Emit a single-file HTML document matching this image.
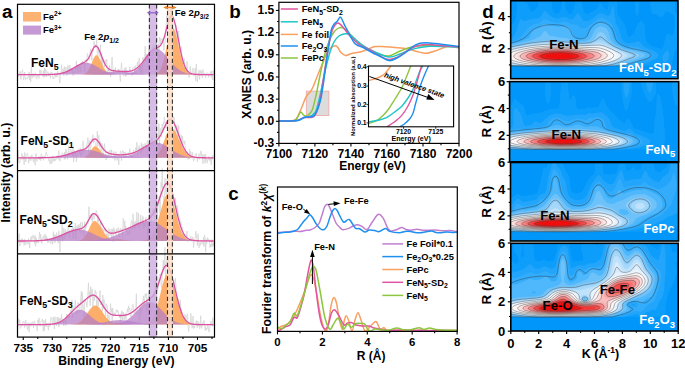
<!DOCTYPE html>
<html><head><meta charset="utf-8"><title>Figure</title>
<style>
html,body{margin:0;padding:0;background:#fff;}
svg{display:block;font-family:"Liberation Sans", sans-serif;}
</style></head>
<body>
<svg width="685" height="369" viewBox="0 0 685 369">
<rect width="685" height="369" fill="#fff"/>
<g id="panelA">
<rect x="23" y="12" width="18" height="9.5" fill="#fca55a" stroke="none" stroke-width="1" opacity="0.85"/>
<rect x="23" y="25.6" width="18" height="9" fill="#b77fc8" stroke="none" stroke-width="1" opacity="0.8"/>
<text x="43" y="19.8" font-size="9.5" font-weight="bold">Fe<tspan dy="-3.6" font-size="6.5">2+</tspan></text>
<text x="43" y="33.4" font-size="9.5" font-weight="bold">Fe<tspan dy="-3.6" font-size="6.5">3+</tspan></text>
<path d="M18.1,75.19 L18.65,76.6 L19.2,72.9 L19.75,73.23 L20.3,71.21 L20.85,79.5 L21.4,75.17 L21.95,72.83 L22.5,69.81 L23.05,74.05 L23.6,79.79 L24.15,76.26 L24.7,71.99 L25.25,79.75 L25.8,79.74 L26.35,78.13 L26.9,77.44 L27.45,78.76 L28,76.56 L28.55,77.39 L29.1,71.79 L29.65,80 L30.2,75.43 L30.75,81.89 L31.3,67.25 L31.85,77.14 L32.4,78.13 L32.95,73.36 L33.5,76.23 L34.05,77.29 L34.6,76.68 L35.15,72.66 L35.7,74.09 L36.25,78.27 L36.8,79.2 L37.35,74.95 L37.9,74.87 L38.45,75.32 L39,78.33 L39.55,70.8 L40.1,69.81 L40.65,75.04 L41.2,70.61 L41.75,72.47 L42.3,74.9 L42.85,76.32 L43.4,70.72 L43.95,77.47 L44.5,68.18 L45.05,76.53 L45.6,68.88 L46.15,69.96 L46.7,76.87 L47.25,73.08 L47.8,71.66 L48.35,72.92 L48.9,76.19 L49.45,74.3 L50,74.38 L50.55,78.28 L51.1,71.85 L51.65,72.72 L52.2,72.51 L52.75,78.61 L53.3,77.94 L53.85,78.98 L54.4,74.14 L54.95,73.65 L55.5,77.28 L56.05,72.68 L56.6,77.1 L57.15,76.65 L57.7,71.36 L58.25,73.55 L58.8,73.33 L59.35,80.09 L59.9,83.18 L60.45,73.1 L61,73.41 L61.55,64.67 L62.1,73.89 L62.65,72.92 L63.2,68.72 L63.75,75.63 L64.3,66.44 L64.85,71.44 L65.4,72.6 L65.95,66.98 L66.5,75 L67.05,75.58 L67.6,65.65 L68.15,65.27 L68.7,73.08 L69.25,70.25 L69.8,65.14 L70.35,68.59 L70.9,69.06 L71.45,68.6 L72,72.39 L72.55,70.21 L73.1,75.86 L73.65,73.88 L74.2,70.56 L74.75,72.02 L75.3,72.82 L75.85,69.78 L76.4,60.76 L76.95,69.89 L77.5,65.99 L78.05,72.83 L78.6,65.49 L79.15,67.23 L79.7,66.04 L80.25,72.19 L80.8,64.8 L81.35,62.4 L81.9,64.93 L82.45,61.06 L83,63.72 L83.55,62.63 L84.1,63.72 L84.65,71.64 L85.2,59.68 L85.75,61.5 L86.3,59.82 L86.85,63.79 L87.4,53.49 L87.95,55.29 L88.5,57.95 L89.05,60.26 L89.6,55.98 L90.15,52.27 L90.7,48.89 L91.25,55.84 L91.8,60.4 L92.35,52.37 L92.9,50.42 L93.45,51.08 L94,41.09 L94.55,44.55 L95.1,44.36 L95.65,47.96 L96.2,45.83 L96.75,38.22 L97.3,54.39 L97.85,58.75 L98.4,46.85 L98.95,52.15 L99.5,52.48 L100.05,56.9 L100.6,44.76 L101.15,64.24 L101.7,53.78 L102.25,64.72 L102.8,59.66 L103.35,58.57 L103.9,61.14 L104.45,67.39 L105,60 L105.55,63.35 L106.1,63.78 L106.65,59.09 L107.2,73.14 L107.75,70.53 L108.3,68.44 L108.85,73.88 L109.4,65.34 L109.95,69.34 L110.5,77.01 L111.05,74.13 L111.6,61.24 L112.15,56.94 L112.7,66.38 L113.25,74.96 L113.8,68.87 L114.35,69.98 L114.9,73.35 L115.45,67.43 L116,71.88 L116.55,74.23 L117.1,72.98 L117.65,72.73 L118.2,68.8 L118.75,73.27 L119.3,69.56 L119.85,76.47 L120.4,81.5 L120.95,68.42 L121.5,62.78 L122.05,69.72 L122.6,72.91 L123.15,75.59 L123.7,75.72 L124.25,68.38 L124.8,68.35 L125.35,76.48 L125.9,67.17 L126.45,75.76 L127,70.54 L127.55,74.44 L128.1,74.16 L128.65,74.39 L129.2,74.5 L129.75,67.23 L130.3,72.25 L130.85,71 L131.4,72.05 L131.95,75.63 L132.5,69.38 L133.05,67.37 L133.6,67.06 L134.15,68.51 L134.7,72.64 L135.25,65.79 L135.8,73.77 L136.35,69.74 L136.9,67.12 L137.45,61.86 L138,68.29 L138.55,69.8 L139.1,58.2 L139.65,71.1 L140.2,72.71 L140.75,66.03 L141.3,66.15 L141.85,74.87 L142.4,68.53 L142.95,57.24 L143.5,60.93 L144.05,59.46 L144.6,58.73 L145.15,46.14 L145.7,62.12 L146.25,53.75 L146.8,57.41 L147.35,54.98 L147.9,60.04 L148.45,52.59 L149,48.93 L149.55,56.15 L150.1,60.84 L150.65,49.79 L151.2,59.66 L151.75,52.32 L152.3,46.87 L152.85,59.45 L153.4,44.2 L153.95,55.58 L154.5,45.57 L155.05,51.44 L155.6,40.28 L156.15,42.63 L156.7,54.85 L157.25,48.91 L157.8,47.68 L158.35,44.23 L158.9,49.77 L159.45,37 L160,38.28 L160.55,44.14 L161.1,38.69 L161.65,38.63 L162.2,41.96 L162.75,40.23 L163.3,38.17 L163.85,50.9 L164.4,44.39 L164.95,44.47 L165.5,32.41 L166.05,26.3 L166.6,15.82 L167.15,23.21 L167.7,5.17 L168.25,16.82 L168.8,27.79 L169.35,34.7 L169.9,27.17 L170.45,8.1 L171,21.04 L171.55,7.98 L172.1,24.41 L172.65,15.73 L173.2,26.31 L173.75,44.16 L174.3,29.65 L174.85,44.51 L175.4,26.64 L175.95,24.55 L176.5,41.38 L177.05,46.92 L177.6,31.24 L178.15,39.08 L178.7,31 L179.25,42.88 L179.8,52.96 L180.35,49.23 L180.9,48.93 L181.45,46.69 L182,59.15 L182.55,63.46 L183.1,64.23 L183.65,64.21 L184.2,58.56 L184.75,73.99 L185.3,66.99 L185.85,67.73 L186.4,72.38 L186.95,61.32 L187.5,70.62 L188.05,70.96 L188.6,73.47 L189.15,77.63 L189.7,74.62 L190.25,66.24 L190.8,72.12 L191.35,74.36 L191.9,74.31 L192.45,69.21 L193,67.94 L193.55,76.13 L194.1,75.46 L194.65,74.2 L195.2,68.06 L195.75,80.8 L196.3,63.91 L196.85,73.12 L197.4,82.02 L197.95,73.92 L198.5,75.34 L199.05,70.26 L199.6,79.43 L200.15,69.88 L200.7,75.47 L201.25,75.04 L201.8,70.78 L202.35,77.77 L202.9,69.47 L203.45,72.12 L204,74.48 L204.55,73.1 L205.1,76.27 L205.65,77.92 L206.2,73.53 L206.75,72.64 L207.3,72.73 L207.85,73.28 L208.4,77.51 L208.95,73.81 L209.5,76.06 L210.05,74.27 L210.6,71.56 L211.15,77.71 L211.7,70.86 L212.25,74.62 L212.8,79.95 L213.35,70.66 L213.9,74.4" fill="none" stroke="#d4d4d4" stroke-width="0.75"/>
<path d="M18.1,74.6 L18.1,74.6 L18.6,74.6 L19.1,74.6 L19.6,74.6 L20.1,74.6 L20.6,74.6 L21.1,74.6 L21.6,74.6 L22.1,74.6 L22.6,74.6 L23.1,74.6 L23.6,74.6 L24.1,74.6 L24.6,74.6 L25.1,74.6 L25.6,74.6 L26.1,74.6 L26.6,74.6 L27.1,74.6 L27.6,74.6 L28.1,74.6 L28.6,74.6 L29.1,74.6 L29.6,74.6 L30.1,74.6 L30.6,74.6 L31.1,74.6 L31.6,74.6 L32.1,74.6 L32.6,74.6 L33.1,74.6 L33.6,74.6 L34.1,74.6 L34.6,74.6 L35.1,74.6 L35.6,74.6 L36.1,74.6 L36.6,74.6 L37.1,74.6 L37.6,74.6 L38.1,74.6 L38.6,74.6 L39.1,74.6 L39.6,74.6 L40.1,74.6 L40.6,74.6 L41.1,74.6 L41.6,74.6 L42.1,74.6 L42.6,74.6 L43.1,74.6 L43.6,74.6 L44.1,74.6 L44.6,74.6 L45.1,74.6 L45.6,74.6 L46.1,74.6 L46.6,74.6 L47.1,74.6 L47.6,74.6 L48.1,74.6 L48.6,74.6 L49.1,74.6 L49.6,74.6 L50.1,74.6 L50.6,74.6 L51.1,74.6 L51.6,74.6 L52.1,74.6 L52.6,74.6 L53.1,74.6 L53.6,74.6 L54.1,74.6 L54.6,74.6 L55.1,74.6 L55.6,74.6 L56.1,74.6 L56.6,74.6 L57.1,74.6 L57.6,74.6 L58.1,74.6 L58.6,74.6 L59.1,74.6 L59.6,74.6 L60.1,74.6 L60.6,74.6 L61.1,74.6 L61.6,74.6 L62.1,74.6 L62.6,74.6 L63.1,74.6 L63.6,74.6 L64.1,74.6 L64.6,74.6 L65.1,74.6 L65.6,74.6 L66.1,74.6 L66.6,74.6 L67.1,74.6 L67.6,74.6 L68.1,74.6 L68.6,74.6 L69.1,74.6 L69.6,74.6 L70.1,74.6 L70.6,74.6 L71.1,74.6 L71.6,74.6 L72.1,74.6 L72.6,74.6 L73.1,74.6 L73.6,74.6 L74.1,74.6 L74.6,74.6 L75.1,74.6 L75.6,74.6 L76.1,74.6 L76.6,74.6 L77.1,74.6 L77.6,74.6 L78.1,74.6 L78.6,74.6 L79.1,74.6 L79.6,74.6 L80.1,74.6 L80.6,74.6 L81.1,74.6 L81.6,74.6 L82.1,74.6 L82.6,74.6 L83.1,74.6 L83.6,74.6 L84.1,74.6 L84.6,74.6 L85.1,74.6 L85.6,74.6 L86.1,74.6 L86.6,74.6 L87.1,74.6 L87.6,74.6 L88.1,74.6 L88.6,74.6 L89.1,74.6 L89.6,74.6 L90.1,74.6 L90.6,74.6 L91.1,74.6 L91.6,74.6 L92.1,74.6 L92.6,74.6 L93.1,74.6 L93.6,74.6 L94.1,74.6 L94.6,74.6 L95.1,74.6 L95.6,74.6 L96.1,74.6 L96.6,74.6 L97.1,74.6 L97.6,74.6 L98.1,74.6 L98.6,74.6 L99.1,74.6 L99.6,74.6 L100.1,74.6 L100.6,74.6 L101.1,74.6 L101.6,74.6 L102.1,74.6 L102.6,74.6 L103.1,74.6 L103.6,74.6 L104.1,74.6 L104.6,74.6 L105.1,74.6 L105.6,74.6 L106.1,74.6 L106.6,74.6 L107.1,74.6 L107.6,74.6 L108.1,74.6 L108.6,74.6 L109.1,74.6 L109.6,74.6 L110.1,74.6 L110.6,74.6 L111.1,74.6 L111.6,74.6 L112.1,74.6 L112.6,74.6 L113.1,74.6 L113.6,74.6 L114.1,74.6 L114.6,74.6 L115.1,74.6 L115.6,74.6 L116.1,74.6 L116.6,74.6 L117.1,74.6 L117.6,74.6 L118.1,74.6 L118.6,74.6 L119.1,74.6 L119.6,74.6 L120.1,74.6 L120.6,74.6 L121.1,74.6 L121.6,74.6 L122.1,74.6 L122.6,74.6 L123.1,74.6 L123.6,74.6 L124.1,74.6 L124.6,74.6 L125.1,74.6 L125.6,74.6 L126.1,74.6 L126.6,74.6 L127.1,74.6 L127.6,74.6 L128.1,74.6 L128.6,74.6 L129.1,74.6 L129.6,74.6 L130.1,74.6 L130.6,74.6 L131.1,74.6 L131.6,74.6 L132.1,74.6 L132.6,74.6 L133.1,74.6 L133.6,74.6 L134.1,74.6 L134.6,74.6 L135.1,74.6 L135.6,74.6 L136.1,74.6 L136.6,74.6 L137.1,74.6 L137.6,74.6 L138.1,74.6 L138.6,74.6 L139.1,74.6 L139.6,74.6 L140.1,74.6 L140.6,74.6 L141.1,74.6 L141.6,74.6 L142.1,74.6 L142.6,74.6 L143.1,74.6 L143.6,74.6 L144.1,74.6 L144.6,74.6 L145.1,74.6 L145.6,74.6 L146.1,74.6 L146.6,74.6 L147.1,74.6 L147.6,74.6 L148.1,74.6 L148.6,74.6 L149.1,74.6 L149.6,74.6 L150.1,74.6 L150.6,74.6 L151.1,74.6 L151.6,74.6 L152.1,74.6 L152.6,74.6 L153.1,74.6 L153.6,74.6 L154.1,74.6 L154.6,74.6 L155.1,74.6 L155.6,74.6 L156.1,74.6 L156.6,74.6 L157.1,74.6 L157.6,74.6 L158.1,74.6 L158.6,74.6 L159.1,74.6 L159.6,74.6 L160.1,74.6 L160.6,74.6 L161.1,74.6 L161.6,74.6 L162.1,74.6 L162.6,74.6 L163.1,74.6 L163.6,74.6 L164.1,74.6 L164.6,74.6 L165.1,74.6 L165.6,74.6 L166.1,74.6 L166.6,74.6 L167.1,74.6 L167.6,74.6 L168.1,74.6 L168.6,74.6 L169.1,74.6 L169.6,74.6 L170.1,74.6 L170.6,74.6 L171.1,74.6 L171.6,74.6 L172.1,74.6 L172.6,74.6 L173.1,74.6 L173.6,74.6 L174.1,74.6 L174.6,74.6 L175.1,74.6 L175.6,74.6 L176.1,74.6 L176.6,74.6 L177.1,74.6 L177.6,74.6 L178.1,74.6 L178.6,74.6 L179.1,74.6 L179.6,74.6 L180.1,74.6 L180.6,74.6 L181.1,74.6 L181.6,74.6 L182.1,74.6 L182.6,74.6 L183.1,74.6 L183.6,74.6 L184.1,74.6 L184.6,74.6 L185.1,74.6 L185.6,74.6 L186.1,74.6 L186.6,74.6 L187.1,74.6 L187.6,74.6 L188.1,74.6 L188.6,74.6 L189.1,74.6 L189.6,74.6 L190.1,74.6 L190.6,74.6 L191.1,74.6 L191.6,74.6 L192.1,74.6 L192.6,74.6 L193.1,74.6 L193.6,74.6 L194.1,74.6 L194.6,74.6 L195.1,74.6 L195.6,74.6 L196.1,74.6 L196.6,74.6 L197.1,74.6 L197.6,74.6 L198.1,74.6 L198.6,74.6 L199.1,74.6 L199.6,74.6 L200.1,74.6 L200.6,74.6 L201.1,74.6 L201.6,74.6 L202.1,74.6 L202.6,74.6 L203.1,74.6 L203.6,74.6 L204.1,74.6 L204.6,74.6 L205.1,74.6 L205.6,74.6 L206.1,74.6 L206.6,74.6 L207.1,74.6 L207.6,74.6 L208.1,74.6 L208.6,74.6 L209.1,74.6 L209.6,74.6 L210.1,74.6 L210.6,74.6 L211.1,74.6 L211.6,74.6 L212.1,74.6 L212.6,74.6 L213.1,74.6 L213.6,74.6 L213.6,74.6Z" fill="#fca55a" opacity="0.9"/>
<path d="M18.1,74.6 L18.1,74.6 L18.6,74.6 L19.1,74.6 L19.6,74.6 L20.1,74.6 L20.6,74.6 L21.1,74.6 L21.6,74.6 L22.1,74.6 L22.6,74.6 L23.1,74.6 L23.6,74.6 L24.1,74.6 L24.6,74.6 L25.1,74.6 L25.6,74.6 L26.1,74.6 L26.6,74.6 L27.1,74.6 L27.6,74.6 L28.1,74.6 L28.6,74.6 L29.1,74.6 L29.6,74.6 L30.1,74.6 L30.6,74.6 L31.1,74.6 L31.6,74.6 L32.1,74.6 L32.6,74.6 L33.1,74.6 L33.6,74.6 L34.1,74.6 L34.6,74.6 L35.1,74.6 L35.6,74.6 L36.1,74.6 L36.6,74.6 L37.1,74.6 L37.6,74.6 L38.1,74.6 L38.6,74.6 L39.1,74.6 L39.6,74.6 L40.1,74.6 L40.6,74.6 L41.1,74.6 L41.6,74.6 L42.1,74.6 L42.6,74.6 L43.1,74.6 L43.6,74.6 L44.1,74.6 L44.6,74.6 L45.1,74.6 L45.6,74.6 L46.1,74.6 L46.6,74.6 L47.1,74.6 L47.6,74.6 L48.1,74.6 L48.6,74.6 L49.1,74.6 L49.6,74.6 L50.1,74.6 L50.6,74.6 L51.1,74.6 L51.6,74.6 L52.1,74.6 L52.6,74.6 L53.1,74.6 L53.6,74.6 L54.1,74.6 L54.6,74.6 L55.1,74.6 L55.6,74.6 L56.1,74.6 L56.6,74.6 L57.1,74.6 L57.6,74.6 L58.1,74.6 L58.6,74.6 L59.1,74.6 L59.6,74.6 L60.1,74.6 L60.6,74.6 L61.1,74.6 L61.6,74.6 L62.1,74.6 L62.6,74.6 L63.1,74.6 L63.6,74.6 L64.1,74.6 L64.6,74.6 L65.1,74.6 L65.6,74.6 L66.1,74.6 L66.6,74.6 L67.1,74.6 L67.6,74.6 L68.1,74.6 L68.6,74.6 L69.1,74.6 L69.6,74.6 L70.1,74.6 L70.6,74.6 L71.1,74.6 L71.6,74.6 L72.1,74.6 L72.6,74.6 L73.1,74.6 L73.6,74.6 L74.1,74.6 L74.6,74.6 L75.1,74.6 L75.6,74.6 L76.1,74.6 L76.6,74.6 L77.1,74.6 L77.6,74.6 L78.1,74.59 L78.6,74.59 L79.1,74.58 L79.6,74.57 L80.1,74.56 L80.6,74.54 L81.1,74.52 L81.6,74.48 L82.1,74.44 L82.6,74.37 L83.1,74.29 L83.6,74.17 L84.1,74.03 L84.6,73.84 L85.1,73.6 L85.6,73.31 L86.1,72.95 L86.6,72.51 L87.1,71.99 L87.6,71.37 L88.1,70.66 L88.6,69.85 L89.1,68.93 L89.6,67.92 L90.1,66.82 L90.6,65.64 L91.1,64.41 L91.6,63.15 L92.1,61.88 L92.6,60.63 L93.1,59.45 L93.6,58.35 L94.1,57.39 L94.6,56.57 L95.1,55.95 L95.6,55.52 L96.1,55.32 L96.6,55.33 L97.1,55.52 L97.6,55.87 L98.1,56.38 L98.6,57.03 L99.1,57.81 L99.6,58.7 L100.1,59.67 L100.6,60.71 L101.1,61.79 L101.6,62.89 L102.1,64 L102.6,65.08 L103.1,66.13 L103.6,67.13 L104.1,68.07 L104.6,68.94 L105.1,69.74 L105.6,70.46 L106.1,71.11 L106.6,71.68 L107.1,72.18 L107.6,72.61 L108.1,72.98 L108.6,73.29 L109.1,73.56 L109.6,73.77 L110.1,73.95 L110.6,74.09 L111.1,74.21 L111.6,74.3 L112.1,74.37 L112.6,74.43 L113.1,74.47 L113.6,74.51 L114.1,74.53 L114.6,74.55 L115.1,74.56 L115.6,74.57 L116.1,74.58 L116.6,74.59 L117.1,74.59 L117.6,74.59 L118.1,74.6 L118.6,74.6 L119.1,74.6 L119.6,74.6 L120.1,74.6 L120.6,74.6 L121.1,74.6 L121.6,74.6 L122.1,74.6 L122.6,74.6 L123.1,74.6 L123.6,74.6 L124.1,74.6 L124.6,74.6 L125.1,74.6 L125.6,74.6 L126.1,74.6 L126.6,74.6 L127.1,74.6 L127.6,74.6 L128.1,74.6 L128.6,74.6 L129.1,74.6 L129.6,74.6 L130.1,74.6 L130.6,74.6 L131.1,74.6 L131.6,74.6 L132.1,74.6 L132.6,74.6 L133.1,74.6 L133.6,74.6 L134.1,74.6 L134.6,74.6 L135.1,74.6 L135.6,74.6 L136.1,74.6 L136.6,74.6 L137.1,74.6 L137.6,74.6 L138.1,74.6 L138.6,74.6 L139.1,74.6 L139.6,74.6 L140.1,74.6 L140.6,74.6 L141.1,74.6 L141.6,74.6 L142.1,74.6 L142.6,74.6 L143.1,74.6 L143.6,74.6 L144.1,74.6 L144.6,74.6 L145.1,74.6 L145.6,74.6 L146.1,74.6 L146.6,74.6 L147.1,74.6 L147.6,74.6 L148.1,74.6 L148.6,74.6 L149.1,74.6 L149.6,74.6 L150.1,74.6 L150.6,74.6 L151.1,74.6 L151.6,74.6 L152.1,74.6 L152.6,74.6 L153.1,74.6 L153.6,74.6 L154.1,74.6 L154.6,74.6 L155.1,74.6 L155.6,74.6 L156.1,74.6 L156.6,74.6 L157.1,74.6 L157.6,74.6 L158.1,74.6 L158.6,74.6 L159.1,74.6 L159.6,74.6 L160.1,74.6 L160.6,74.6 L161.1,74.6 L161.6,74.6 L162.1,74.6 L162.6,74.6 L163.1,74.6 L163.6,74.6 L164.1,74.6 L164.6,74.6 L165.1,74.6 L165.6,74.6 L166.1,74.6 L166.6,74.6 L167.1,74.6 L167.6,74.6 L168.1,74.6 L168.6,74.6 L169.1,74.6 L169.6,74.6 L170.1,74.6 L170.6,74.6 L171.1,74.6 L171.6,74.6 L172.1,74.6 L172.6,74.6 L173.1,74.6 L173.6,74.6 L174.1,74.6 L174.6,74.6 L175.1,74.6 L175.6,74.6 L176.1,74.6 L176.6,74.6 L177.1,74.6 L177.6,74.6 L178.1,74.6 L178.6,74.6 L179.1,74.6 L179.6,74.6 L180.1,74.6 L180.6,74.6 L181.1,74.6 L181.6,74.6 L182.1,74.6 L182.6,74.6 L183.1,74.6 L183.6,74.6 L184.1,74.6 L184.6,74.6 L185.1,74.6 L185.6,74.6 L186.1,74.6 L186.6,74.6 L187.1,74.6 L187.6,74.6 L188.1,74.6 L188.6,74.6 L189.1,74.6 L189.6,74.6 L190.1,74.6 L190.6,74.6 L191.1,74.6 L191.6,74.6 L192.1,74.6 L192.6,74.6 L193.1,74.6 L193.6,74.6 L194.1,74.6 L194.6,74.6 L195.1,74.6 L195.6,74.6 L196.1,74.6 L196.6,74.6 L197.1,74.6 L197.6,74.6 L198.1,74.6 L198.6,74.6 L199.1,74.6 L199.6,74.6 L200.1,74.6 L200.6,74.6 L201.1,74.6 L201.6,74.6 L202.1,74.6 L202.6,74.6 L203.1,74.6 L203.6,74.6 L204.1,74.6 L204.6,74.6 L205.1,74.6 L205.6,74.6 L206.1,74.6 L206.6,74.6 L207.1,74.6 L207.6,74.6 L208.1,74.6 L208.6,74.6 L209.1,74.6 L209.6,74.6 L210.1,74.6 L210.6,74.6 L211.1,74.6 L211.6,74.6 L212.1,74.6 L212.6,74.6 L213.1,74.6 L213.6,74.6 L213.6,74.6Z" fill="#fca55a" opacity="0.9"/>
<path d="M18.1,74.6 L18.1,74.6 L18.6,74.6 L19.1,74.6 L19.6,74.6 L20.1,74.6 L20.6,74.6 L21.1,74.6 L21.6,74.6 L22.1,74.6 L22.6,74.6 L23.1,74.6 L23.6,74.6 L24.1,74.6 L24.6,74.6 L25.1,74.6 L25.6,74.6 L26.1,74.6 L26.6,74.6 L27.1,74.6 L27.6,74.6 L28.1,74.6 L28.6,74.6 L29.1,74.6 L29.6,74.6 L30.1,74.6 L30.6,74.6 L31.1,74.6 L31.6,74.6 L32.1,74.6 L32.6,74.6 L33.1,74.6 L33.6,74.6 L34.1,74.6 L34.6,74.6 L35.1,74.6 L35.6,74.6 L36.1,74.6 L36.6,74.6 L37.1,74.6 L37.6,74.6 L38.1,74.6 L38.6,74.6 L39.1,74.6 L39.6,74.6 L40.1,74.6 L40.6,74.6 L41.1,74.6 L41.6,74.6 L42.1,74.6 L42.6,74.6 L43.1,74.6 L43.6,74.6 L44.1,74.6 L44.6,74.6 L45.1,74.6 L45.6,74.6 L46.1,74.6 L46.6,74.6 L47.1,74.6 L47.6,74.6 L48.1,74.6 L48.6,74.6 L49.1,74.6 L49.6,74.6 L50.1,74.6 L50.6,74.6 L51.1,74.6 L51.6,74.6 L52.1,74.6 L52.6,74.6 L53.1,74.6 L53.6,74.6 L54.1,74.6 L54.6,74.6 L55.1,74.6 L55.6,74.6 L56.1,74.6 L56.6,74.6 L57.1,74.6 L57.6,74.6 L58.1,74.6 L58.6,74.6 L59.1,74.6 L59.6,74.6 L60.1,74.6 L60.6,74.6 L61.1,74.6 L61.6,74.6 L62.1,74.6 L62.6,74.6 L63.1,74.6 L63.6,74.6 L64.1,74.6 L64.6,74.6 L65.1,74.6 L65.6,74.6 L66.1,74.6 L66.6,74.6 L67.1,74.6 L67.6,74.6 L68.1,74.6 L68.6,74.6 L69.1,74.6 L69.6,74.6 L70.1,74.6 L70.6,74.6 L71.1,74.6 L71.6,74.6 L72.1,74.6 L72.6,74.6 L73.1,74.6 L73.6,74.6 L74.1,74.6 L74.6,74.6 L75.1,74.6 L75.6,74.6 L76.1,74.6 L76.6,74.6 L77.1,74.6 L77.6,74.6 L78.1,74.6 L78.6,74.6 L79.1,74.6 L79.6,74.6 L80.1,74.6 L80.6,74.6 L81.1,74.6 L81.6,74.6 L82.1,74.6 L82.6,74.6 L83.1,74.6 L83.6,74.6 L84.1,74.6 L84.6,74.6 L85.1,74.6 L85.6,74.6 L86.1,74.6 L86.6,74.6 L87.1,74.6 L87.6,74.6 L88.1,74.6 L88.6,74.6 L89.1,74.6 L89.6,74.6 L90.1,74.6 L90.6,74.6 L91.1,74.6 L91.6,74.6 L92.1,74.6 L92.6,74.6 L93.1,74.6 L93.6,74.6 L94.1,74.6 L94.6,74.6 L95.1,74.6 L95.6,74.6 L96.1,74.6 L96.6,74.6 L97.1,74.6 L97.6,74.6 L98.1,74.6 L98.6,74.6 L99.1,74.6 L99.6,74.6 L100.1,74.6 L100.6,74.6 L101.1,74.6 L101.6,74.6 L102.1,74.6 L102.6,74.6 L103.1,74.6 L103.6,74.6 L104.1,74.6 L104.6,74.6 L105.1,74.6 L105.6,74.6 L106.1,74.6 L106.6,74.6 L107.1,74.6 L107.6,74.6 L108.1,74.6 L108.6,74.6 L109.1,74.6 L109.6,74.6 L110.1,74.6 L110.6,74.6 L111.1,74.6 L111.6,74.6 L112.1,74.6 L112.6,74.6 L113.1,74.6 L113.6,74.6 L114.1,74.6 L114.6,74.6 L115.1,74.6 L115.6,74.6 L116.1,74.6 L116.6,74.6 L117.1,74.6 L117.6,74.6 L118.1,74.6 L118.6,74.6 L119.1,74.6 L119.6,74.6 L120.1,74.6 L120.6,74.6 L121.1,74.6 L121.6,74.6 L122.1,74.6 L122.6,74.6 L123.1,74.6 L123.6,74.6 L124.1,74.6 L124.6,74.6 L125.1,74.6 L125.6,74.6 L126.1,74.6 L126.6,74.6 L127.1,74.6 L127.6,74.6 L128.1,74.6 L128.6,74.6 L129.1,74.6 L129.6,74.6 L130.1,74.6 L130.6,74.6 L131.1,74.6 L131.6,74.6 L132.1,74.6 L132.6,74.6 L133.1,74.6 L133.6,74.6 L134.1,74.6 L134.6,74.6 L135.1,74.6 L135.6,74.6 L136.1,74.6 L136.6,74.6 L137.1,74.6 L137.6,74.6 L138.1,74.6 L138.6,74.6 L139.1,74.6 L139.6,74.6 L140.1,74.6 L140.6,74.6 L141.1,74.6 L141.6,74.6 L142.1,74.6 L142.6,74.6 L143.1,74.6 L143.6,74.6 L144.1,74.6 L144.6,74.6 L145.1,74.6 L145.6,74.6 L146.1,74.6 L146.6,74.6 L147.1,74.6 L147.6,74.6 L148.1,74.6 L148.6,74.59 L149.1,74.59 L149.6,74.59 L150.1,74.58 L150.6,74.57 L151.1,74.56 L151.6,74.55 L152.1,74.53 L152.6,74.5 L153.1,74.47 L153.6,74.42 L154.1,74.36 L154.6,74.28 L155.1,74.18 L155.6,74.05 L156.1,73.88 L156.6,73.68 L157.1,73.42 L157.6,73.1 L158.1,72.71 L158.6,72.24 L159.1,71.68 L159.6,71.01 L160.1,70.22 L160.6,69.3 L161.1,68.24 L161.6,67.03 L162.1,65.65 L162.6,64.11 L163.1,62.41 L163.6,60.54 L164.1,58.51 L164.6,56.34 L165.1,54.03 L165.6,51.62 L166.1,49.14 L166.6,46.6 L167.1,44.06 L167.6,41.55 L168.1,39.12 L168.6,36.82 L169.1,34.68 L169.6,32.76 L170.1,31.09 L170.6,29.72 L171.1,28.67 L171.6,27.97 L172.1,27.63 L172.6,27.65 L173.1,27.98 L173.6,28.59 L174.1,29.48 L174.6,30.63 L175.1,32.02 L175.6,33.63 L176.1,35.42 L176.6,37.37 L177.1,39.44 L177.6,41.61 L178.1,43.84 L178.6,46.09 L179.1,48.35 L179.6,50.58 L180.1,52.76 L180.6,54.87 L181.1,56.88 L181.6,58.79 L182.1,60.58 L182.6,62.25 L183.1,63.79 L183.6,65.19 L184.1,66.47 L184.6,67.61 L185.1,68.63 L185.6,69.54 L186.1,70.33 L186.6,71.02 L187.1,71.62 L187.6,72.14 L188.1,72.58 L188.6,72.95 L189.1,73.26 L189.6,73.52 L190.1,73.73 L190.6,73.91 L191.1,74.05 L191.6,74.17 L192.1,74.26 L192.6,74.34 L193.1,74.4 L193.6,74.45 L194.1,74.48 L194.6,74.51 L195.1,74.53 L195.6,74.55 L196.1,74.56 L196.6,74.57 L197.1,74.58 L197.6,74.59 L198.1,74.59 L198.6,74.59 L199.1,74.59 L199.6,74.6 L200.1,74.6 L200.6,74.6 L201.1,74.6 L201.6,74.6 L202.1,74.6 L202.6,74.6 L203.1,74.6 L203.6,74.6 L204.1,74.6 L204.6,74.6 L205.1,74.6 L205.6,74.6 L206.1,74.6 L206.6,74.6 L207.1,74.6 L207.6,74.6 L208.1,74.6 L208.6,74.6 L209.1,74.6 L209.6,74.6 L210.1,74.6 L210.6,74.6 L211.1,74.6 L211.6,74.6 L212.1,74.6 L212.6,74.6 L213.1,74.6 L213.6,74.6 L213.6,74.6Z" fill="#fca55a" opacity="0.9"/>
<path d="M18.1,74.6 L18.1,74.6 L18.6,74.6 L19.1,74.6 L19.6,74.6 L20.1,74.6 L20.6,74.6 L21.1,74.6 L21.6,74.6 L22.1,74.6 L22.6,74.6 L23.1,74.6 L23.6,74.6 L24.1,74.6 L24.6,74.6 L25.1,74.6 L25.6,74.6 L26.1,74.6 L26.6,74.6 L27.1,74.6 L27.6,74.6 L28.1,74.6 L28.6,74.6 L29.1,74.6 L29.6,74.6 L30.1,74.6 L30.6,74.6 L31.1,74.6 L31.6,74.6 L32.1,74.6 L32.6,74.6 L33.1,74.6 L33.6,74.6 L34.1,74.6 L34.6,74.6 L35.1,74.6 L35.6,74.6 L36.1,74.6 L36.6,74.6 L37.1,74.6 L37.6,74.6 L38.1,74.6 L38.6,74.6 L39.1,74.6 L39.6,74.6 L40.1,74.6 L40.6,74.6 L41.1,74.6 L41.6,74.6 L42.1,74.6 L42.6,74.6 L43.1,74.6 L43.6,74.6 L44.1,74.6 L44.6,74.6 L45.1,74.6 L45.6,74.6 L46.1,74.6 L46.6,74.6 L47.1,74.6 L47.6,74.6 L48.1,74.6 L48.6,74.6 L49.1,74.6 L49.6,74.6 L50.1,74.6 L50.6,74.6 L51.1,74.6 L51.6,74.6 L52.1,74.6 L52.6,74.6 L53.1,74.6 L53.6,74.6 L54.1,74.6 L54.6,74.6 L55.1,74.6 L55.6,74.6 L56.1,74.6 L56.6,74.6 L57.1,74.6 L57.6,74.6 L58.1,74.6 L58.6,74.6 L59.1,74.6 L59.6,74.6 L60.1,74.6 L60.6,74.6 L61.1,74.6 L61.6,74.6 L62.1,74.6 L62.6,74.6 L63.1,74.6 L63.6,74.6 L64.1,74.6 L64.6,74.6 L65.1,74.6 L65.6,74.6 L66.1,74.6 L66.6,74.6 L67.1,74.6 L67.6,74.6 L68.1,74.59 L68.6,74.59 L69.1,74.59 L69.6,74.59 L70.1,74.59 L70.6,74.59 L71.1,74.59 L71.6,74.59 L72.1,74.59 L72.6,74.58 L73.1,74.58 L73.6,74.58 L74.1,74.58 L74.6,74.58 L75.1,74.57 L75.6,74.57 L76.1,74.57 L76.6,74.56 L77.1,74.56 L77.6,74.55 L78.1,74.55 L78.6,74.54 L79.1,74.54 L79.6,74.53 L80.1,74.52 L80.6,74.52 L81.1,74.51 L81.6,74.5 L82.1,74.49 L82.6,74.48 L83.1,74.47 L83.6,74.45 L84.1,74.44 L84.6,74.43 L85.1,74.41 L85.6,74.39 L86.1,74.38 L86.6,74.36 L87.1,74.34 L87.6,74.32 L88.1,74.29 L88.6,74.27 L89.1,74.24 L89.6,74.22 L90.1,74.19 L90.6,74.16 L91.1,74.13 L91.6,74.09 L92.1,74.06 L92.6,74.02 L93.1,73.98 L93.6,73.94 L94.1,73.9 L94.6,73.86 L95.1,73.81 L95.6,73.77 L96.1,73.72 L96.6,73.67 L97.1,73.62 L97.6,73.56 L98.1,73.51 L98.6,73.45 L99.1,73.39 L99.6,73.34 L100.1,73.28 L100.6,73.21 L101.1,73.15 L101.6,73.09 L102.1,73.03 L102.6,72.96 L103.1,72.9 L103.6,72.83 L104.1,72.77 L104.6,72.7 L105.1,72.64 L105.6,72.57 L106.1,72.51 L106.6,72.45 L107.1,72.38 L107.6,72.32 L108.1,72.26 L108.6,72.21 L109.1,72.15 L109.6,72.09 L110.1,72.04 L110.6,71.99 L111.1,71.94 L111.6,71.9 L112.1,71.85 L112.6,71.82 L113.1,71.78 L113.6,71.74 L114.1,71.71 L114.6,71.69 L115.1,71.66 L115.6,71.64 L116.1,71.63 L116.6,71.61 L117.1,71.61 L117.6,71.6 L118.1,71.6 L118.6,71.6 L119.1,71.61 L119.6,71.62 L120.1,71.63 L120.6,71.65 L121.1,71.67 L121.6,71.7 L122.1,71.73 L122.6,71.76 L123.1,71.79 L123.6,71.83 L124.1,71.87 L124.6,71.92 L125.1,71.96 L125.6,72.01 L126.1,72.06 L126.6,72.12 L127.1,72.17 L127.6,72.23 L128.1,72.29 L128.6,72.35 L129.1,72.41 L129.6,72.47 L130.1,72.54 L130.6,72.6 L131.1,72.66 L131.6,72.73 L132.1,72.79 L132.6,72.86 L133.1,72.92 L133.6,72.99 L134.1,73.05 L134.6,73.11 L135.1,73.18 L135.6,73.24 L136.1,73.3 L136.6,73.36 L137.1,73.42 L137.6,73.47 L138.1,73.53 L138.6,73.58 L139.1,73.64 L139.6,73.69 L140.1,73.74 L140.6,73.78 L141.1,73.83 L141.6,73.88 L142.1,73.92 L142.6,73.96 L143.1,74 L143.6,74.04 L144.1,74.07 L144.6,74.11 L145.1,74.14 L145.6,74.17 L146.1,74.2 L146.6,74.23 L147.1,74.25 L147.6,74.28 L148.1,74.3 L148.6,74.32 L149.1,74.35 L149.6,74.37 L150.1,74.38 L150.6,74.4 L151.1,74.42 L151.6,74.43 L152.1,74.45 L152.6,74.46 L153.1,74.47 L153.6,74.48 L154.1,74.49 L154.6,74.5 L155.1,74.51 L155.6,74.52 L156.1,74.53 L156.6,74.53 L157.1,74.54 L157.6,74.55 L158.1,74.55 L158.6,74.56 L159.1,74.56 L159.6,74.56 L160.1,74.57 L160.6,74.57 L161.1,74.57 L161.6,74.58 L162.1,74.58 L162.6,74.58 L163.1,74.58 L163.6,74.59 L164.1,74.59 L164.6,74.59 L165.1,74.59 L165.6,74.59 L166.1,74.59 L166.6,74.59 L167.1,74.59 L167.6,74.59 L168.1,74.6 L168.6,74.6 L169.1,74.6 L169.6,74.6 L170.1,74.6 L170.6,74.6 L171.1,74.6 L171.6,74.6 L172.1,74.6 L172.6,74.6 L173.1,74.6 L173.6,74.6 L174.1,74.6 L174.6,74.6 L175.1,74.6 L175.6,74.6 L176.1,74.6 L176.6,74.6 L177.1,74.6 L177.6,74.6 L178.1,74.6 L178.6,74.6 L179.1,74.6 L179.6,74.6 L180.1,74.6 L180.6,74.6 L181.1,74.6 L181.6,74.6 L182.1,74.6 L182.6,74.6 L183.1,74.6 L183.6,74.6 L184.1,74.6 L184.6,74.6 L185.1,74.6 L185.6,74.6 L186.1,74.6 L186.6,74.6 L187.1,74.6 L187.6,74.6 L188.1,74.6 L188.6,74.6 L189.1,74.6 L189.6,74.6 L190.1,74.6 L190.6,74.6 L191.1,74.6 L191.6,74.6 L192.1,74.6 L192.6,74.6 L193.1,74.6 L193.6,74.6 L194.1,74.6 L194.6,74.6 L195.1,74.6 L195.6,74.6 L196.1,74.6 L196.6,74.6 L197.1,74.6 L197.6,74.6 L198.1,74.6 L198.6,74.6 L199.1,74.6 L199.6,74.6 L200.1,74.6 L200.6,74.6 L201.1,74.6 L201.6,74.6 L202.1,74.6 L202.6,74.6 L203.1,74.6 L203.6,74.6 L204.1,74.6 L204.6,74.6 L205.1,74.6 L205.6,74.6 L206.1,74.6 L206.6,74.6 L207.1,74.6 L207.6,74.6 L208.1,74.6 L208.6,74.6 L209.1,74.6 L209.6,74.6 L210.1,74.6 L210.6,74.6 L211.1,74.6 L211.6,74.6 L212.1,74.6 L212.6,74.6 L213.1,74.6 L213.6,74.6 L213.6,74.6Z" fill="#b77fc8" opacity="0.75"/>
<path d="M18.1,74.6 L18.1,74.6 L18.6,74.6 L19.1,74.6 L19.6,74.6 L20.1,74.6 L20.6,74.6 L21.1,74.6 L21.6,74.6 L22.1,74.6 L22.6,74.6 L23.1,74.6 L23.6,74.6 L24.1,74.6 L24.6,74.6 L25.1,74.6 L25.6,74.6 L26.1,74.6 L26.6,74.6 L27.1,74.6 L27.6,74.6 L28.1,74.6 L28.6,74.6 L29.1,74.6 L29.6,74.6 L30.1,74.6 L30.6,74.6 L31.1,74.6 L31.6,74.6 L32.1,74.6 L32.6,74.6 L33.1,74.6 L33.6,74.6 L34.1,74.6 L34.6,74.6 L35.1,74.6 L35.6,74.6 L36.1,74.6 L36.6,74.6 L37.1,74.6 L37.6,74.6 L38.1,74.6 L38.6,74.6 L39.1,74.6 L39.6,74.59 L40.1,74.59 L40.6,74.59 L41.1,74.59 L41.6,74.59 L42.1,74.59 L42.6,74.59 L43.1,74.58 L43.6,74.58 L44.1,74.58 L44.6,74.57 L45.1,74.57 L45.6,74.56 L46.1,74.56 L46.6,74.55 L47.1,74.55 L47.6,74.54 L48.1,74.53 L48.6,74.52 L49.1,74.51 L49.6,74.49 L50.1,74.48 L50.6,74.46 L51.1,74.45 L51.6,74.43 L52.1,74.4 L52.6,74.38 L53.1,74.35 L53.6,74.32 L54.1,74.29 L54.6,74.25 L55.1,74.21 L55.6,74.17 L56.1,74.12 L56.6,74.06 L57.1,74.01 L57.6,73.94 L58.1,73.87 L58.6,73.8 L59.1,73.72 L59.6,73.63 L60.1,73.54 L60.6,73.44 L61.1,73.33 L61.6,73.22 L62.1,73.09 L62.6,72.96 L63.1,72.82 L63.6,72.68 L64.1,72.52 L64.6,72.35 L65.1,72.18 L65.6,72 L66.1,71.8 L66.6,71.6 L67.1,71.39 L67.6,71.17 L68.1,70.94 L68.6,70.71 L69.1,70.46 L69.6,70.21 L70.1,69.95 L70.6,69.68 L71.1,69.41 L71.6,69.13 L72.1,68.85 L72.6,68.56 L73.1,68.27 L73.6,67.98 L74.1,67.68 L74.6,67.39 L75.1,67.09 L75.6,66.8 L76.1,66.51 L76.6,66.22 L77.1,65.94 L77.6,65.66 L78.1,65.39 L78.6,65.13 L79.1,64.88 L79.6,64.64 L80.1,64.41 L80.6,64.19 L81.1,63.99 L81.6,63.8 L82.1,63.63 L82.6,63.47 L83.1,63.33 L83.6,63.21 L84.1,63.11 L84.6,63.03 L85.1,62.97 L85.6,62.93 L86.1,62.9 L86.6,62.9 L87.1,62.92 L87.6,62.96 L88.1,63.02 L88.6,63.09 L89.1,63.19 L89.6,63.31 L90.1,63.44 L90.6,63.6 L91.1,63.76 L91.6,63.95 L92.1,64.15 L92.6,64.36 L93.1,64.59 L93.6,64.83 L94.1,65.08 L94.6,65.34 L95.1,65.6 L95.6,65.88 L96.1,66.16 L96.6,66.45 L97.1,66.74 L97.6,67.03 L98.1,67.33 L98.6,67.62 L99.1,67.92 L99.6,68.21 L100.1,68.5 L100.6,68.79 L101.1,69.08 L101.6,69.35 L102.1,69.63 L102.6,69.9 L103.1,70.16 L103.6,70.41 L104.1,70.66 L104.6,70.9 L105.1,71.13 L105.6,71.35 L106.1,71.56 L106.6,71.76 L107.1,71.96 L107.6,72.14 L108.1,72.32 L108.6,72.49 L109.1,72.65 L109.6,72.79 L110.1,72.94 L110.6,73.07 L111.1,73.19 L111.6,73.31 L112.1,73.42 L112.6,73.52 L113.1,73.62 L113.6,73.7 L114.1,73.79 L114.6,73.86 L115.1,73.93 L115.6,73.99 L116.1,74.05 L116.6,74.11 L117.1,74.16 L117.6,74.2 L118.1,74.24 L118.6,74.28 L119.1,74.31 L119.6,74.35 L120.1,74.37 L120.6,74.4 L121.1,74.42 L121.6,74.44 L122.1,74.46 L122.6,74.48 L123.1,74.49 L123.6,74.5 L124.1,74.52 L124.6,74.53 L125.1,74.54 L125.6,74.54 L126.1,74.55 L126.6,74.56 L127.1,74.56 L127.6,74.57 L128.1,74.57 L128.6,74.58 L129.1,74.58 L129.6,74.58 L130.1,74.58 L130.6,74.59 L131.1,74.59 L131.6,74.59 L132.1,74.59 L132.6,74.59 L133.1,74.59 L133.6,74.59 L134.1,74.6 L134.6,74.6 L135.1,74.6 L135.6,74.6 L136.1,74.6 L136.6,74.6 L137.1,74.6 L137.6,74.6 L138.1,74.6 L138.6,74.6 L139.1,74.6 L139.6,74.6 L140.1,74.6 L140.6,74.6 L141.1,74.6 L141.6,74.6 L142.1,74.6 L142.6,74.6 L143.1,74.6 L143.6,74.6 L144.1,74.6 L144.6,74.6 L145.1,74.6 L145.6,74.6 L146.1,74.6 L146.6,74.6 L147.1,74.6 L147.6,74.6 L148.1,74.6 L148.6,74.6 L149.1,74.6 L149.6,74.6 L150.1,74.6 L150.6,74.6 L151.1,74.6 L151.6,74.6 L152.1,74.6 L152.6,74.6 L153.1,74.6 L153.6,74.6 L154.1,74.6 L154.6,74.6 L155.1,74.6 L155.6,74.6 L156.1,74.6 L156.6,74.6 L157.1,74.6 L157.6,74.6 L158.1,74.6 L158.6,74.6 L159.1,74.6 L159.6,74.6 L160.1,74.6 L160.6,74.6 L161.1,74.6 L161.6,74.6 L162.1,74.6 L162.6,74.6 L163.1,74.6 L163.6,74.6 L164.1,74.6 L164.6,74.6 L165.1,74.6 L165.6,74.6 L166.1,74.6 L166.6,74.6 L167.1,74.6 L167.6,74.6 L168.1,74.6 L168.6,74.6 L169.1,74.6 L169.6,74.6 L170.1,74.6 L170.6,74.6 L171.1,74.6 L171.6,74.6 L172.1,74.6 L172.6,74.6 L173.1,74.6 L173.6,74.6 L174.1,74.6 L174.6,74.6 L175.1,74.6 L175.6,74.6 L176.1,74.6 L176.6,74.6 L177.1,74.6 L177.6,74.6 L178.1,74.6 L178.6,74.6 L179.1,74.6 L179.6,74.6 L180.1,74.6 L180.6,74.6 L181.1,74.6 L181.6,74.6 L182.1,74.6 L182.6,74.6 L183.1,74.6 L183.6,74.6 L184.1,74.6 L184.6,74.6 L185.1,74.6 L185.6,74.6 L186.1,74.6 L186.6,74.6 L187.1,74.6 L187.6,74.6 L188.1,74.6 L188.6,74.6 L189.1,74.6 L189.6,74.6 L190.1,74.6 L190.6,74.6 L191.1,74.6 L191.6,74.6 L192.1,74.6 L192.6,74.6 L193.1,74.6 L193.6,74.6 L194.1,74.6 L194.6,74.6 L195.1,74.6 L195.6,74.6 L196.1,74.6 L196.6,74.6 L197.1,74.6 L197.6,74.6 L198.1,74.6 L198.6,74.6 L199.1,74.6 L199.6,74.6 L200.1,74.6 L200.6,74.6 L201.1,74.6 L201.6,74.6 L202.1,74.6 L202.6,74.6 L203.1,74.6 L203.6,74.6 L204.1,74.6 L204.6,74.6 L205.1,74.6 L205.6,74.6 L206.1,74.6 L206.6,74.6 L207.1,74.6 L207.6,74.6 L208.1,74.6 L208.6,74.6 L209.1,74.6 L209.6,74.6 L210.1,74.6 L210.6,74.6 L211.1,74.6 L211.6,74.6 L212.1,74.6 L212.6,74.6 L213.1,74.6 L213.6,74.6 L213.6,74.6Z" fill="#b77fc8" opacity="0.75"/>
<path d="M18.1,74.6 L18.1,74.6 L18.6,74.6 L19.1,74.6 L19.6,74.6 L20.1,74.6 L20.6,74.6 L21.1,74.6 L21.6,74.6 L22.1,74.6 L22.6,74.6 L23.1,74.6 L23.6,74.6 L24.1,74.6 L24.6,74.6 L25.1,74.6 L25.6,74.6 L26.1,74.6 L26.6,74.6 L27.1,74.6 L27.6,74.6 L28.1,74.6 L28.6,74.6 L29.1,74.6 L29.6,74.6 L30.1,74.6 L30.6,74.6 L31.1,74.6 L31.6,74.6 L32.1,74.6 L32.6,74.6 L33.1,74.6 L33.6,74.6 L34.1,74.6 L34.6,74.6 L35.1,74.6 L35.6,74.6 L36.1,74.6 L36.6,74.6 L37.1,74.6 L37.6,74.6 L38.1,74.6 L38.6,74.6 L39.1,74.6 L39.6,74.6 L40.1,74.6 L40.6,74.6 L41.1,74.6 L41.6,74.6 L42.1,74.6 L42.6,74.6 L43.1,74.6 L43.6,74.6 L44.1,74.6 L44.6,74.6 L45.1,74.6 L45.6,74.6 L46.1,74.6 L46.6,74.6 L47.1,74.6 L47.6,74.6 L48.1,74.6 L48.6,74.6 L49.1,74.6 L49.6,74.6 L50.1,74.6 L50.6,74.6 L51.1,74.6 L51.6,74.6 L52.1,74.6 L52.6,74.6 L53.1,74.6 L53.6,74.6 L54.1,74.6 L54.6,74.6 L55.1,74.6 L55.6,74.6 L56.1,74.6 L56.6,74.6 L57.1,74.6 L57.6,74.6 L58.1,74.6 L58.6,74.6 L59.1,74.6 L59.6,74.6 L60.1,74.6 L60.6,74.6 L61.1,74.6 L61.6,74.6 L62.1,74.6 L62.6,74.6 L63.1,74.6 L63.6,74.6 L64.1,74.6 L64.6,74.6 L65.1,74.6 L65.6,74.6 L66.1,74.6 L66.6,74.6 L67.1,74.6 L67.6,74.6 L68.1,74.6 L68.6,74.6 L69.1,74.6 L69.6,74.6 L70.1,74.6 L70.6,74.6 L71.1,74.6 L71.6,74.6 L72.1,74.6 L72.6,74.6 L73.1,74.6 L73.6,74.6 L74.1,74.6 L74.6,74.6 L75.1,74.6 L75.6,74.6 L76.1,74.6 L76.6,74.6 L77.1,74.6 L77.6,74.6 L78.1,74.6 L78.6,74.6 L79.1,74.6 L79.6,74.6 L80.1,74.6 L80.6,74.6 L81.1,74.6 L81.6,74.6 L82.1,74.6 L82.6,74.6 L83.1,74.6 L83.6,74.6 L84.1,74.6 L84.6,74.6 L85.1,74.6 L85.6,74.6 L86.1,74.6 L86.6,74.6 L87.1,74.6 L87.6,74.6 L88.1,74.6 L88.6,74.6 L89.1,74.6 L89.6,74.6 L90.1,74.6 L90.6,74.6 L91.1,74.6 L91.6,74.6 L92.1,74.6 L92.6,74.6 L93.1,74.6 L93.6,74.6 L94.1,74.6 L94.6,74.6 L95.1,74.6 L95.6,74.6 L96.1,74.6 L96.6,74.6 L97.1,74.6 L97.6,74.6 L98.1,74.6 L98.6,74.6 L99.1,74.6 L99.6,74.6 L100.1,74.6 L100.6,74.6 L101.1,74.6 L101.6,74.6 L102.1,74.6 L102.6,74.6 L103.1,74.6 L103.6,74.6 L104.1,74.6 L104.6,74.6 L105.1,74.6 L105.6,74.6 L106.1,74.6 L106.6,74.6 L107.1,74.6 L107.6,74.6 L108.1,74.6 L108.6,74.6 L109.1,74.6 L109.6,74.6 L110.1,74.6 L110.6,74.6 L111.1,74.6 L111.6,74.59 L112.1,74.59 L112.6,74.59 L113.1,74.59 L113.6,74.59 L114.1,74.59 L114.6,74.58 L115.1,74.58 L115.6,74.58 L116.1,74.57 L116.6,74.57 L117.1,74.56 L117.6,74.56 L118.1,74.55 L118.6,74.54 L119.1,74.53 L119.6,74.51 L120.1,74.5 L120.6,74.48 L121.1,74.47 L121.6,74.44 L122.1,74.42 L122.6,74.39 L123.1,74.36 L123.6,74.32 L124.1,74.28 L124.6,74.23 L125.1,74.18 L125.6,74.12 L126.1,74.06 L126.6,73.98 L127.1,73.9 L127.6,73.81 L128.1,73.71 L128.6,73.6 L129.1,73.47 L129.6,73.33 L130.1,73.18 L130.6,73.02 L131.1,72.84 L131.6,72.64 L132.1,72.42 L132.6,72.19 L133.1,71.94 L133.6,71.67 L134.1,71.37 L134.6,71.06 L135.1,70.72 L135.6,70.36 L136.1,69.97 L136.6,69.56 L137.1,69.13 L137.6,68.67 L138.1,68.19 L138.6,67.69 L139.1,67.15 L139.6,66.6 L140.1,66.02 L140.6,65.42 L141.1,64.8 L141.6,64.16 L142.1,63.51 L142.6,62.83 L143.1,62.15 L143.6,61.45 L144.1,60.74 L144.6,60.02 L145.1,59.3 L145.6,58.58 L146.1,57.86 L146.6,57.15 L147.1,56.44 L147.6,55.75 L148.1,55.07 L148.6,54.41 L149.1,53.77 L149.6,53.16 L150.1,52.58 L150.6,52.03 L151.1,51.51 L151.6,51.04 L152.1,50.6 L152.6,50.21 L153.1,49.87 L153.6,49.58 L154.1,49.34 L154.6,49.15 L155.1,49.01 L155.6,48.93 L156.1,48.9 L156.6,48.92 L157.1,48.98 L157.6,49.08 L158.1,49.22 L158.6,49.4 L159.1,49.62 L159.6,49.87 L160.1,50.16 L160.6,50.49 L161.1,50.85 L161.6,51.24 L162.1,51.65 L162.6,52.1 L163.1,52.58 L163.6,53.07 L164.1,53.59 L164.6,54.13 L165.1,54.69 L165.6,55.26 L166.1,55.84 L166.6,56.44 L167.1,57.04 L167.6,57.65 L168.1,58.27 L168.6,58.89 L169.1,59.51 L169.6,60.12 L170.1,60.74 L170.6,61.35 L171.1,61.95 L171.6,62.54 L172.1,63.12 L172.6,63.7 L173.1,64.26 L173.6,64.8 L174.1,65.34 L174.6,65.85 L175.1,66.36 L175.6,66.84 L176.1,67.31 L176.6,67.76 L177.1,68.19 L177.6,68.61 L178.1,69 L178.6,69.38 L179.1,69.74 L179.6,70.09 L180.1,70.41 L180.6,70.72 L181.1,71.01 L181.6,71.28 L182.1,71.54 L182.6,71.79 L183.1,72.01 L183.6,72.23 L184.1,72.42 L184.6,72.61 L185.1,72.78 L185.6,72.94 L186.1,73.09 L186.6,73.23 L187.1,73.35 L187.6,73.47 L188.1,73.58 L188.6,73.68 L189.1,73.77 L189.6,73.85 L190.1,73.93 L190.6,73.99 L191.1,74.06 L191.6,74.11 L192.1,74.17 L192.6,74.21 L193.1,74.26 L193.6,74.29 L194.1,74.33 L194.6,74.36 L195.1,74.39 L195.6,74.41 L196.1,74.43 L196.6,74.45 L197.1,74.47 L197.6,74.49 L198.1,74.5 L198.6,74.51 L199.1,74.52 L199.6,74.53 L200.1,74.54 L200.6,74.55 L201.1,74.56 L201.6,74.56 L202.1,74.57 L202.6,74.57 L203.1,74.58 L203.6,74.58 L204.1,74.58 L204.6,74.58 L205.1,74.59 L205.6,74.59 L206.1,74.59 L206.6,74.59 L207.1,74.59 L207.6,74.59 L208.1,74.59 L208.6,74.6 L209.1,74.6 L209.6,74.6 L210.1,74.6 L210.6,74.6 L211.1,74.6 L211.6,74.6 L212.1,74.6 L212.6,74.6 L213.1,74.6 L213.6,74.6 L213.6,74.6Z" fill="#b77fc8" opacity="0.75"/>
<path d="M18.1,74.6 L18.6,74.6 L19.1,74.6 L19.6,74.6 L20.1,74.6 L20.6,74.6 L21.1,74.6 L21.6,74.6 L22.1,74.6 L22.6,74.6 L23.1,74.6 L23.6,74.6 L24.1,74.6 L24.6,74.6 L25.1,74.6 L25.6,74.6 L26.1,74.6 L26.6,74.6 L27.1,74.6 L27.6,74.6 L28.1,74.6 L28.6,74.6 L29.1,74.6 L29.6,74.6 L30.1,74.6 L30.6,74.6 L31.1,74.6 L31.6,74.6 L32.1,74.6 L32.6,74.6 L33.1,74.6 L33.6,74.6 L34.1,74.6 L34.6,74.6 L35.1,74.6 L35.6,74.6 L36.1,74.6 L36.6,74.6 L37.1,74.6 L37.6,74.6 L38.1,74.6 L38.6,74.6 L39.1,74.6 L39.6,74.59 L40.1,74.59 L40.6,74.59 L41.1,74.59 L41.6,74.59 L42.1,74.59 L42.6,74.59 L43.1,74.58 L43.6,74.58 L44.1,74.58 L44.6,74.57 L45.1,74.57 L45.6,74.56 L46.1,74.56 L46.6,74.55 L47.1,74.55 L47.6,74.54 L48.1,74.53 L48.6,74.52 L49.1,74.51 L49.6,74.49 L50.1,74.48 L50.6,74.46 L51.1,74.45 L51.6,74.43 L52.1,74.4 L52.6,74.38 L53.1,74.35 L53.6,74.32 L54.1,74.29 L54.6,74.25 L55.1,74.21 L55.6,74.17 L56.1,74.12 L56.6,74.06 L57.1,74.01 L57.6,73.94 L58.1,73.87 L58.6,73.8 L59.1,73.72 L59.6,73.63 L60.1,73.54 L60.6,73.44 L61.1,73.33 L61.6,73.22 L62.1,73.09 L62.6,72.96 L63.1,72.82 L63.6,72.67 L64.1,72.52 L64.6,72.35 L65.1,72.18 L65.6,71.99 L66.1,71.8 L66.6,71.6 L67.1,71.39 L67.6,71.17 L68.1,70.94 L68.6,70.7 L69.1,70.45 L69.6,70.2 L70.1,69.94 L70.6,69.67 L71.1,69.4 L71.6,69.12 L72.1,68.83 L72.6,68.54 L73.1,68.25 L73.6,67.96 L74.1,67.66 L74.6,67.36 L75.1,67.06 L75.6,66.77 L76.1,66.47 L76.6,66.18 L77.1,65.89 L77.6,65.61 L78.1,65.33 L78.6,65.06 L79.1,64.8 L79.6,64.54 L80.1,64.29 L80.6,64.05 L81.1,63.81 L81.6,63.58 L82.1,63.35 L82.6,63.12 L83.1,62.89 L83.6,62.64 L84.1,62.38 L84.6,62.1 L85.1,61.78 L85.6,61.43 L86.1,61.03 L86.6,60.57 L87.1,60.05 L87.6,59.45 L88.1,58.77 L88.6,58.01 L89.1,57.17 L89.6,56.24 L90.1,55.25 L90.6,54.2 L91.1,53.1 L91.6,51.99 L92.1,50.88 L92.6,49.82 L93.1,48.82 L93.6,47.92 L94.1,47.16 L94.6,46.57 L95.1,46.16 L95.6,45.97 L96.1,46 L96.6,46.25 L97.1,46.67 L97.6,47.27 L98.1,48.02 L98.6,48.91 L99.1,49.92 L99.6,51.05 L100.1,52.25 L100.6,53.52 L101.1,54.82 L101.6,56.14 L102.1,57.45 L102.6,58.74 L103.1,59.98 L103.6,61.17 L104.1,62.29 L104.6,63.34 L105.1,64.3 L105.6,65.18 L106.1,65.98 L106.6,66.69 L107.1,67.32 L107.6,67.88 L108.1,68.36 L108.6,68.78 L109.1,69.15 L109.6,69.46 L110.1,69.72 L110.6,69.95 L111.1,70.14 L111.6,70.3 L112.1,70.44 L112.6,70.56 L113.1,70.66 L113.6,70.74 L114.1,70.82 L114.6,70.88 L115.1,70.94 L115.6,70.99 L116.1,71.04 L116.6,71.08 L117.1,71.12 L117.6,71.15 L118.1,71.19 L118.6,71.22 L119.1,71.25 L119.6,71.28 L120.1,71.31 L120.6,71.33 L121.1,71.36 L121.6,71.38 L122.1,71.4 L122.6,71.42 L123.1,71.44 L123.6,71.46 L124.1,71.47 L124.6,71.48 L125.1,71.48 L125.6,71.48 L126.1,71.47 L126.6,71.46 L127.1,71.44 L127.6,71.41 L128.1,71.37 L128.6,71.32 L129.1,71.26 L129.6,71.19 L130.1,71.1 L130.6,71 L131.1,70.89 L131.6,70.76 L132.1,70.61 L132.6,70.44 L133.1,70.26 L133.6,70.05 L134.1,69.82 L134.6,69.57 L135.1,69.29 L135.6,68.99 L136.1,68.67 L136.6,68.32 L137.1,67.95 L137.6,67.55 L138.1,67.12 L138.6,66.67 L139.1,66.19 L139.6,65.69 L140.1,65.16 L140.6,64.61 L141.1,64.03 L141.6,63.44 L142.1,62.83 L142.6,62.19 L143.1,61.54 L143.6,60.88 L144.1,60.21 L144.6,59.53 L145.1,58.84 L145.6,58.15 L146.1,57.46 L146.6,56.77 L147.1,56.09 L147.6,55.42 L148.1,54.76 L148.6,54.13 L149.1,53.51 L149.6,52.91 L150.1,52.34 L150.6,51.8 L151.1,51.29 L151.6,50.82 L152.1,50.38 L152.6,49.98 L153.1,49.61 L153.6,49.28 L154.1,48.99 L154.6,48.73 L155.1,48.5 L155.6,48.3 L156.1,48.11 L156.6,47.93 L157.1,47.74 L157.6,47.53 L158.1,47.28 L158.6,47 L159.1,46.66 L159.6,46.24 L160.1,45.75 L160.6,45.16 L161.1,44.46 L161.6,43.64 L162.1,42.69 L162.6,41.6 L163.1,40.37 L163.6,39 L164.1,37.49 L164.6,35.86 L165.1,34.11 L165.6,32.27 L166.1,30.37 L166.6,28.43 L167.1,26.5 L167.6,24.6 L168.1,22.79 L168.6,21.1 L169.1,19.58 L169.6,18.28 L170.1,17.22 L170.6,16.46 L171.1,16.01 L171.6,15.9 L172.1,16.15 L172.6,16.75 L173.1,17.63 L173.6,18.79 L174.1,20.22 L174.6,21.88 L175.1,23.77 L175.6,25.86 L176.1,28.13 L176.6,30.52 L177.1,33.03 L177.6,35.61 L178.1,38.24 L178.6,40.87 L179.1,43.49 L179.6,46.07 L180.1,48.57 L180.6,50.99 L181.1,53.29 L181.6,55.48 L182.1,57.53 L182.6,59.44 L183.1,61.2 L183.6,62.82 L184.1,64.29 L184.6,65.62 L185.1,66.82 L185.6,67.88 L186.1,68.82 L186.6,69.65 L187.1,70.38 L187.6,71.01 L188.1,71.55 L188.6,72.02 L189.1,72.42 L189.6,72.77 L190.1,73.06 L190.6,73.3 L191.1,73.51 L191.6,73.68 L192.1,73.83 L192.6,73.95 L193.1,74.05 L193.6,74.14 L194.1,74.21 L194.6,74.27 L195.1,74.32 L195.6,74.36 L196.1,74.4 L196.6,74.43 L197.1,74.45 L197.6,74.47 L198.1,74.49 L198.6,74.51 L199.1,74.52 L199.6,74.53 L200.1,74.54 L200.6,74.55 L201.1,74.55 L201.6,74.56 L202.1,74.57 L202.6,74.57 L203.1,74.58 L203.6,74.58 L204.1,74.58 L204.6,74.58 L205.1,74.59 L205.6,74.59 L206.1,74.59 L206.6,74.59 L207.1,74.59 L207.6,74.59 L208.1,74.59 L208.6,74.6 L209.1,74.6 L209.6,74.6 L210.1,74.6 L210.6,74.6 L211.1,74.6 L211.6,74.6 L212.1,74.6 L212.6,74.6 L213.1,74.6 L213.6,74.6" fill="none" stroke="#dd4fa0" stroke-width="1.3"/>
<text x="31" y="67.3" font-size="12" font-weight="bold">FeN<tspan dy="3" font-size="8.8">5</tspan></text>
<path d="M18.1,150.03 L18.65,161.3 L19.2,162.94 L19.75,163.05 L20.3,158.92 L20.85,159.84 L21.4,158.34 L21.95,153.24 L22.5,155.85 L23.05,159.69 L23.6,155.83 L24.15,164.77 L24.7,152.36 L25.25,156.35 L25.8,161.91 L26.35,155.72 L26.9,153.83 L27.45,153.01 L28,155.29 L28.55,163.35 L29.1,159.38 L29.65,159.77 L30.2,156.04 L30.75,160.95 L31.3,158.3 L31.85,154.59 L32.4,156.28 L32.95,158.64 L33.5,162.13 L34.05,157.7 L34.6,159.71 L35.15,165.18 L35.7,155.03 L36.25,153.44 L36.8,161.44 L37.35,159.48 L37.9,157.54 L38.45,158.85 L39,156.7 L39.55,159.75 L40.1,156.67 L40.65,160.76 L41.2,153.65 L41.75,154.92 L42.3,158.28 L42.85,156.16 L43.4,160.35 L43.95,157.68 L44.5,155.86 L45.05,158.57 L45.6,155.89 L46.15,152.15 L46.7,153.66 L47.25,154.85 L47.8,156.03 L48.35,158.07 L48.9,161 L49.45,159.67 L50,164.11 L50.55,162.25 L51.1,156.89 L51.65,163.56 L52.2,161.82 L52.75,155.81 L53.3,158.56 L53.85,161.39 L54.4,158.21 L54.95,161 L55.5,158.66 L56.05,159.74 L56.6,155.9 L57.15,158.4 L57.7,155.57 L58.25,159.36 L58.8,150.44 L59.35,157.91 L59.9,161.25 L60.45,158.64 L61,156.25 L61.55,158.28 L62.1,152.89 L62.65,152.81 L63.2,154.48 L63.75,155.15 L64.3,159.31 L64.85,151.96 L65.4,159.18 L65.95,148.97 L66.5,151.87 L67.05,154.66 L67.6,159.23 L68.15,152.01 L68.7,145.69 L69.25,155.79 L69.8,153.8 L70.35,149.33 L70.9,149.28 L71.45,150.5 L72,153.58 L72.55,155.74 L73.1,146.63 L73.65,162.2 L74.2,152.26 L74.75,150.65 L75.3,154.91 L75.85,152.33 L76.4,161.72 L76.95,156.24 L77.5,149.75 L78.05,149.48 L78.6,148.85 L79.15,149.37 L79.7,153.68 L80.25,147.71 L80.8,157.57 L81.35,149.91 L81.9,149.47 L82.45,154.22 L83,140.89 L83.55,145.38 L84.1,152.13 L84.65,149.22 L85.2,148.83 L85.75,150.41 L86.3,145.37 L86.85,146.94 L87.4,140.73 L87.95,137.57 L88.5,152.24 L89.05,140.66 L89.6,140.93 L90.15,150.99 L90.7,148.54 L91.25,139.36 L91.8,138.54 L92.35,140.28 L92.9,134.82 L93.45,142.75 L94,140.16 L94.55,139.92 L95.1,143.48 L95.65,143.45 L96.2,150.04 L96.75,148.57 L97.3,131.22 L97.85,146.15 L98.4,135.95 L98.95,135.17 L99.5,147.21 L100.05,140.77 L100.6,143.62 L101.15,151.3 L101.7,143.67 L102.25,143.43 L102.8,149.95 L103.35,154.74 L103.9,152.18 L104.45,143.53 L105,148.12 L105.55,150.81 L106.1,160.14 L106.65,156.07 L107.2,156.2 L107.75,157.93 L108.3,151.93 L108.85,155.4 L109.4,155.63 L109.95,149.84 L110.5,153.89 L111.05,156.36 L111.6,149.87 L112.15,157.54 L112.7,157.42 L113.25,158.59 L113.8,151.46 L114.35,155.03 L114.9,160.42 L115.45,157.85 L116,151.65 L116.55,155.69 L117.1,160.44 L117.65,154.57 L118.2,156.39 L118.75,165.02 L119.3,154.78 L119.85,154.51 L120.4,150.99 L120.95,152.35 L121.5,160.78 L122.05,154.38 L122.6,150.24 L123.15,151.22 L123.7,154.88 L124.25,157.83 L124.8,151.84 L125.35,157.54 L125.9,152.73 L126.45,156.01 L127,156.58 L127.55,156.85 L128.1,152.61 L128.65,153.55 L129.2,156.15 L129.75,148.78 L130.3,154.55 L130.85,155.79 L131.4,157.8 L131.95,153.23 L132.5,152.44 L133.05,153.6 L133.6,149.77 L134.15,151.73 L134.7,154.09 L135.25,153.33 L135.8,147.46 L136.35,150.25 L136.9,142.27 L137.45,154.57 L138,148.49 L138.55,151.57 L139.1,145.35 L139.65,149.53 L140.2,151.6 L140.75,153.72 L141.3,142.72 L141.85,152.49 L142.4,147.51 L142.95,144.31 L143.5,149.85 L144.05,145.87 L144.6,145.51 L145.15,143.21 L145.7,147.35 L146.25,146.12 L146.8,144.76 L147.35,140.56 L147.9,142.44 L148.45,146.72 L149,150.87 L149.55,143.97 L150.1,151.06 L150.65,143.48 L151.2,137.6 L151.75,146.27 L152.3,137.63 L152.85,144.53 L153.4,147.8 L153.95,140.15 L154.5,141 L155.05,154.49 L155.6,142.05 L156.15,141.78 L156.7,144.2 L157.25,138.8 L157.8,138.29 L158.35,140.36 L158.9,123.58 L159.45,145.09 L160,129.53 L160.55,128.48 L161.1,137.42 L161.65,133.23 L162.2,123.95 L162.75,132.22 L163.3,122.05 L163.85,123.72 L164.4,116.82 L164.95,120.19 L165.5,127.72 L166.05,124.62 L166.6,124.96 L167.15,128.64 L167.7,120.51 L168.25,115.02 L168.8,117.38 L169.35,132.06 L169.9,119.22 L170.45,121.45 L171,118.38 L171.55,121.42 L172.1,123.38 L172.65,120.66 L173.2,120.38 L173.75,116.67 L174.3,117.35 L174.85,127.67 L175.4,131.29 L175.95,133.74 L176.5,129.13 L177.05,124.79 L177.6,135.81 L178.15,137.15 L178.7,125.67 L179.25,141.14 L179.8,141.26 L180.35,148.74 L180.9,134.73 L181.45,135.51 L182,147.67 L182.55,135.95 L183.1,142.6 L183.65,142.13 L184.2,143.69 L184.75,140.77 L185.3,149.24 L185.85,155.35 L186.4,153.78 L186.95,154.47 L187.5,151.8 L188.05,159.65 L188.6,156.44 L189.15,158.91 L189.7,149.2 L190.25,156.88 L190.8,151.53 L191.35,157.46 L191.9,157.12 L192.45,152.4 L193,157.42 L193.55,161.2 L194.1,158.89 L194.65,159.33 L195.2,154.12 L195.75,154.88 L196.3,153.38 L196.85,157.96 L197.4,161.83 L197.95,159.14 L198.5,157.6 L199.05,153.6 L199.6,159.26 L200.15,156.83 L200.7,150.85 L201.25,151.5 L201.8,156.51 L202.35,154.53 L202.9,163.68 L203.45,157.89 L204,154.04 L204.55,156.02 L205.1,163.5 L205.65,154.38 L206.2,160.55 L206.75,159.36 L207.3,163.06 L207.85,159.7 L208.4,156.36 L208.95,159.69 L209.5,158.05 L210.05,161.3 L210.6,157.59 L211.15,164.91 L211.7,157.45 L212.25,159.4 L212.8,155.47 L213.35,158.28 L213.9,157.93" fill="none" stroke="#d4d4d4" stroke-width="0.75"/>
<path d="M18.1,157.8 L18.1,157.8 L18.6,157.8 L19.1,157.8 L19.6,157.8 L20.1,157.8 L20.6,157.8 L21.1,157.8 L21.6,157.8 L22.1,157.8 L22.6,157.8 L23.1,157.8 L23.6,157.8 L24.1,157.8 L24.6,157.8 L25.1,157.8 L25.6,157.8 L26.1,157.8 L26.6,157.8 L27.1,157.8 L27.6,157.8 L28.1,157.8 L28.6,157.8 L29.1,157.8 L29.6,157.8 L30.1,157.8 L30.6,157.8 L31.1,157.8 L31.6,157.8 L32.1,157.8 L32.6,157.8 L33.1,157.8 L33.6,157.8 L34.1,157.8 L34.6,157.8 L35.1,157.8 L35.6,157.8 L36.1,157.8 L36.6,157.8 L37.1,157.8 L37.6,157.8 L38.1,157.8 L38.6,157.8 L39.1,157.8 L39.6,157.8 L40.1,157.8 L40.6,157.8 L41.1,157.8 L41.6,157.8 L42.1,157.8 L42.6,157.8 L43.1,157.8 L43.6,157.8 L44.1,157.8 L44.6,157.8 L45.1,157.8 L45.6,157.8 L46.1,157.8 L46.6,157.8 L47.1,157.8 L47.6,157.8 L48.1,157.8 L48.6,157.8 L49.1,157.8 L49.6,157.8 L50.1,157.8 L50.6,157.8 L51.1,157.8 L51.6,157.8 L52.1,157.8 L52.6,157.8 L53.1,157.8 L53.6,157.8 L54.1,157.8 L54.6,157.8 L55.1,157.8 L55.6,157.8 L56.1,157.8 L56.6,157.8 L57.1,157.8 L57.6,157.8 L58.1,157.8 L58.6,157.8 L59.1,157.8 L59.6,157.8 L60.1,157.8 L60.6,157.8 L61.1,157.8 L61.6,157.8 L62.1,157.8 L62.6,157.8 L63.1,157.8 L63.6,157.8 L64.1,157.8 L64.6,157.8 L65.1,157.8 L65.6,157.8 L66.1,157.8 L66.6,157.8 L67.1,157.8 L67.6,157.8 L68.1,157.8 L68.6,157.8 L69.1,157.8 L69.6,157.8 L70.1,157.8 L70.6,157.8 L71.1,157.8 L71.6,157.8 L72.1,157.8 L72.6,157.8 L73.1,157.8 L73.6,157.8 L74.1,157.8 L74.6,157.8 L75.1,157.8 L75.6,157.8 L76.1,157.8 L76.6,157.8 L77.1,157.8 L77.6,157.8 L78.1,157.8 L78.6,157.8 L79.1,157.8 L79.6,157.8 L80.1,157.8 L80.6,157.8 L81.1,157.8 L81.6,157.8 L82.1,157.8 L82.6,157.8 L83.1,157.8 L83.6,157.8 L84.1,157.8 L84.6,157.8 L85.1,157.8 L85.6,157.8 L86.1,157.8 L86.6,157.8 L87.1,157.8 L87.6,157.8 L88.1,157.8 L88.6,157.8 L89.1,157.8 L89.6,157.8 L90.1,157.8 L90.6,157.8 L91.1,157.8 L91.6,157.8 L92.1,157.8 L92.6,157.8 L93.1,157.8 L93.6,157.8 L94.1,157.8 L94.6,157.8 L95.1,157.8 L95.6,157.8 L96.1,157.8 L96.6,157.8 L97.1,157.8 L97.6,157.8 L98.1,157.8 L98.6,157.8 L99.1,157.8 L99.6,157.8 L100.1,157.8 L100.6,157.8 L101.1,157.8 L101.6,157.8 L102.1,157.8 L102.6,157.8 L103.1,157.8 L103.6,157.8 L104.1,157.8 L104.6,157.8 L105.1,157.8 L105.6,157.8 L106.1,157.8 L106.6,157.8 L107.1,157.8 L107.6,157.8 L108.1,157.8 L108.6,157.8 L109.1,157.8 L109.6,157.8 L110.1,157.8 L110.6,157.8 L111.1,157.8 L111.6,157.8 L112.1,157.8 L112.6,157.8 L113.1,157.8 L113.6,157.8 L114.1,157.8 L114.6,157.8 L115.1,157.8 L115.6,157.8 L116.1,157.8 L116.6,157.8 L117.1,157.8 L117.6,157.8 L118.1,157.8 L118.6,157.8 L119.1,157.8 L119.6,157.8 L120.1,157.8 L120.6,157.8 L121.1,157.8 L121.6,157.8 L122.1,157.8 L122.6,157.8 L123.1,157.8 L123.6,157.8 L124.1,157.8 L124.6,157.8 L125.1,157.8 L125.6,157.8 L126.1,157.8 L126.6,157.8 L127.1,157.8 L127.6,157.8 L128.1,157.8 L128.6,157.8 L129.1,157.8 L129.6,157.8 L130.1,157.8 L130.6,157.8 L131.1,157.8 L131.6,157.8 L132.1,157.8 L132.6,157.8 L133.1,157.8 L133.6,157.8 L134.1,157.8 L134.6,157.8 L135.1,157.8 L135.6,157.8 L136.1,157.8 L136.6,157.8 L137.1,157.8 L137.6,157.8 L138.1,157.8 L138.6,157.8 L139.1,157.8 L139.6,157.8 L140.1,157.8 L140.6,157.8 L141.1,157.8 L141.6,157.8 L142.1,157.8 L142.6,157.8 L143.1,157.8 L143.6,157.8 L144.1,157.8 L144.6,157.8 L145.1,157.8 L145.6,157.8 L146.1,157.8 L146.6,157.8 L147.1,157.8 L147.6,157.8 L148.1,157.8 L148.6,157.8 L149.1,157.8 L149.6,157.8 L150.1,157.8 L150.6,157.8 L151.1,157.8 L151.6,157.8 L152.1,157.8 L152.6,157.8 L153.1,157.8 L153.6,157.8 L154.1,157.8 L154.6,157.8 L155.1,157.8 L155.6,157.8 L156.1,157.8 L156.6,157.8 L157.1,157.8 L157.6,157.8 L158.1,157.8 L158.6,157.8 L159.1,157.8 L159.6,157.8 L160.1,157.8 L160.6,157.8 L161.1,157.8 L161.6,157.8 L162.1,157.8 L162.6,157.8 L163.1,157.8 L163.6,157.8 L164.1,157.8 L164.6,157.8 L165.1,157.8 L165.6,157.8 L166.1,157.8 L166.6,157.8 L167.1,157.8 L167.6,157.8 L168.1,157.8 L168.6,157.8 L169.1,157.8 L169.6,157.8 L170.1,157.8 L170.6,157.8 L171.1,157.8 L171.6,157.8 L172.1,157.8 L172.6,157.8 L173.1,157.8 L173.6,157.8 L174.1,157.8 L174.6,157.8 L175.1,157.8 L175.6,157.8 L176.1,157.8 L176.6,157.8 L177.1,157.8 L177.6,157.8 L178.1,157.8 L178.6,157.8 L179.1,157.8 L179.6,157.8 L180.1,157.8 L180.6,157.8 L181.1,157.8 L181.6,157.8 L182.1,157.8 L182.6,157.8 L183.1,157.8 L183.6,157.8 L184.1,157.8 L184.6,157.8 L185.1,157.8 L185.6,157.8 L186.1,157.8 L186.6,157.8 L187.1,157.8 L187.6,157.8 L188.1,157.8 L188.6,157.8 L189.1,157.8 L189.6,157.8 L190.1,157.8 L190.6,157.8 L191.1,157.8 L191.6,157.8 L192.1,157.8 L192.6,157.8 L193.1,157.8 L193.6,157.8 L194.1,157.8 L194.6,157.8 L195.1,157.8 L195.6,157.8 L196.1,157.8 L196.6,157.8 L197.1,157.8 L197.6,157.8 L198.1,157.8 L198.6,157.8 L199.1,157.8 L199.6,157.8 L200.1,157.8 L200.6,157.8 L201.1,157.8 L201.6,157.8 L202.1,157.8 L202.6,157.8 L203.1,157.8 L203.6,157.8 L204.1,157.8 L204.6,157.8 L205.1,157.8 L205.6,157.8 L206.1,157.8 L206.6,157.8 L207.1,157.8 L207.6,157.8 L208.1,157.8 L208.6,157.8 L209.1,157.8 L209.6,157.8 L210.1,157.8 L210.6,157.8 L211.1,157.8 L211.6,157.8 L212.1,157.8 L212.6,157.8 L213.1,157.8 L213.6,157.8 L213.6,157.8Z" fill="#fca55a" opacity="0.9"/>
<path d="M18.1,157.8 L18.1,157.8 L18.6,157.8 L19.1,157.8 L19.6,157.8 L20.1,157.8 L20.6,157.8 L21.1,157.8 L21.6,157.8 L22.1,157.8 L22.6,157.8 L23.1,157.8 L23.6,157.8 L24.1,157.8 L24.6,157.8 L25.1,157.8 L25.6,157.8 L26.1,157.8 L26.6,157.8 L27.1,157.8 L27.6,157.8 L28.1,157.8 L28.6,157.8 L29.1,157.8 L29.6,157.8 L30.1,157.8 L30.6,157.8 L31.1,157.8 L31.6,157.8 L32.1,157.8 L32.6,157.8 L33.1,157.8 L33.6,157.8 L34.1,157.8 L34.6,157.8 L35.1,157.8 L35.6,157.8 L36.1,157.8 L36.6,157.8 L37.1,157.8 L37.6,157.8 L38.1,157.8 L38.6,157.8 L39.1,157.8 L39.6,157.8 L40.1,157.8 L40.6,157.8 L41.1,157.8 L41.6,157.8 L42.1,157.8 L42.6,157.8 L43.1,157.8 L43.6,157.8 L44.1,157.8 L44.6,157.8 L45.1,157.8 L45.6,157.8 L46.1,157.8 L46.6,157.8 L47.1,157.8 L47.6,157.8 L48.1,157.8 L48.6,157.8 L49.1,157.8 L49.6,157.8 L50.1,157.8 L50.6,157.8 L51.1,157.8 L51.6,157.8 L52.1,157.8 L52.6,157.8 L53.1,157.8 L53.6,157.8 L54.1,157.8 L54.6,157.8 L55.1,157.8 L55.6,157.8 L56.1,157.8 L56.6,157.8 L57.1,157.8 L57.6,157.8 L58.1,157.8 L58.6,157.8 L59.1,157.8 L59.6,157.8 L60.1,157.8 L60.6,157.8 L61.1,157.8 L61.6,157.8 L62.1,157.8 L62.6,157.8 L63.1,157.8 L63.6,157.8 L64.1,157.8 L64.6,157.8 L65.1,157.8 L65.6,157.8 L66.1,157.8 L66.6,157.8 L67.1,157.8 L67.6,157.8 L68.1,157.8 L68.6,157.8 L69.1,157.8 L69.6,157.8 L70.1,157.8 L70.6,157.8 L71.1,157.8 L71.6,157.8 L72.1,157.8 L72.6,157.8 L73.1,157.8 L73.6,157.8 L74.1,157.8 L74.6,157.8 L75.1,157.8 L75.6,157.8 L76.1,157.8 L76.6,157.8 L77.1,157.8 L77.6,157.8 L78.1,157.79 L78.6,157.79 L79.1,157.78 L79.6,157.78 L80.1,157.77 L80.6,157.75 L81.1,157.73 L81.6,157.7 L82.1,157.65 L82.6,157.6 L83.1,157.52 L83.6,157.42 L84.1,157.29 L84.6,157.13 L85.1,156.93 L85.6,156.68 L86.1,156.38 L86.6,156.02 L87.1,155.6 L87.6,155.11 L88.1,154.56 L88.6,153.94 L89.1,153.26 L89.6,152.53 L90.1,151.77 L90.6,150.98 L91.1,150.19 L91.6,149.42 L92.1,148.69 L92.6,148.01 L93.1,147.43 L93.6,146.95 L94.1,146.59 L94.6,146.37 L95.1,146.3 L95.6,146.35 L96.1,146.5 L96.6,146.74 L97.1,147.06 L97.6,147.47 L98.1,147.94 L98.6,148.48 L99.1,149.06 L99.6,149.67 L100.1,150.31 L100.6,150.95 L101.1,151.6 L101.6,152.23 L102.1,152.84 L102.6,153.42 L103.1,153.96 L103.6,154.47 L104.1,154.93 L104.6,155.35 L105.1,155.73 L105.6,156.06 L106.1,156.36 L106.6,156.61 L107.1,156.83 L107.6,157.01 L108.1,157.17 L108.6,157.29 L109.1,157.4 L109.6,157.49 L110.1,157.56 L110.6,157.61 L111.1,157.66 L111.6,157.69 L112.1,157.72 L112.6,157.74 L113.1,157.76 L113.6,157.77 L114.1,157.78 L114.6,157.78 L115.1,157.79 L115.6,157.79 L116.1,157.79 L116.6,157.8 L117.1,157.8 L117.6,157.8 L118.1,157.8 L118.6,157.8 L119.1,157.8 L119.6,157.8 L120.1,157.8 L120.6,157.8 L121.1,157.8 L121.6,157.8 L122.1,157.8 L122.6,157.8 L123.1,157.8 L123.6,157.8 L124.1,157.8 L124.6,157.8 L125.1,157.8 L125.6,157.8 L126.1,157.8 L126.6,157.8 L127.1,157.8 L127.6,157.8 L128.1,157.8 L128.6,157.8 L129.1,157.8 L129.6,157.8 L130.1,157.8 L130.6,157.8 L131.1,157.8 L131.6,157.8 L132.1,157.8 L132.6,157.8 L133.1,157.8 L133.6,157.8 L134.1,157.8 L134.6,157.8 L135.1,157.8 L135.6,157.8 L136.1,157.8 L136.6,157.8 L137.1,157.8 L137.6,157.8 L138.1,157.8 L138.6,157.8 L139.1,157.8 L139.6,157.8 L140.1,157.8 L140.6,157.8 L141.1,157.8 L141.6,157.8 L142.1,157.8 L142.6,157.8 L143.1,157.8 L143.6,157.8 L144.1,157.8 L144.6,157.8 L145.1,157.8 L145.6,157.8 L146.1,157.8 L146.6,157.8 L147.1,157.8 L147.6,157.8 L148.1,157.8 L148.6,157.8 L149.1,157.8 L149.6,157.8 L150.1,157.8 L150.6,157.8 L151.1,157.8 L151.6,157.8 L152.1,157.8 L152.6,157.8 L153.1,157.8 L153.6,157.8 L154.1,157.8 L154.6,157.8 L155.1,157.8 L155.6,157.8 L156.1,157.8 L156.6,157.8 L157.1,157.8 L157.6,157.8 L158.1,157.8 L158.6,157.8 L159.1,157.8 L159.6,157.8 L160.1,157.8 L160.6,157.8 L161.1,157.8 L161.6,157.8 L162.1,157.8 L162.6,157.8 L163.1,157.8 L163.6,157.8 L164.1,157.8 L164.6,157.8 L165.1,157.8 L165.6,157.8 L166.1,157.8 L166.6,157.8 L167.1,157.8 L167.6,157.8 L168.1,157.8 L168.6,157.8 L169.1,157.8 L169.6,157.8 L170.1,157.8 L170.6,157.8 L171.1,157.8 L171.6,157.8 L172.1,157.8 L172.6,157.8 L173.1,157.8 L173.6,157.8 L174.1,157.8 L174.6,157.8 L175.1,157.8 L175.6,157.8 L176.1,157.8 L176.6,157.8 L177.1,157.8 L177.6,157.8 L178.1,157.8 L178.6,157.8 L179.1,157.8 L179.6,157.8 L180.1,157.8 L180.6,157.8 L181.1,157.8 L181.6,157.8 L182.1,157.8 L182.6,157.8 L183.1,157.8 L183.6,157.8 L184.1,157.8 L184.6,157.8 L185.1,157.8 L185.6,157.8 L186.1,157.8 L186.6,157.8 L187.1,157.8 L187.6,157.8 L188.1,157.8 L188.6,157.8 L189.1,157.8 L189.6,157.8 L190.1,157.8 L190.6,157.8 L191.1,157.8 L191.6,157.8 L192.1,157.8 L192.6,157.8 L193.1,157.8 L193.6,157.8 L194.1,157.8 L194.6,157.8 L195.1,157.8 L195.6,157.8 L196.1,157.8 L196.6,157.8 L197.1,157.8 L197.6,157.8 L198.1,157.8 L198.6,157.8 L199.1,157.8 L199.6,157.8 L200.1,157.8 L200.6,157.8 L201.1,157.8 L201.6,157.8 L202.1,157.8 L202.6,157.8 L203.1,157.8 L203.6,157.8 L204.1,157.8 L204.6,157.8 L205.1,157.8 L205.6,157.8 L206.1,157.8 L206.6,157.8 L207.1,157.8 L207.6,157.8 L208.1,157.8 L208.6,157.8 L209.1,157.8 L209.6,157.8 L210.1,157.8 L210.6,157.8 L211.1,157.8 L211.6,157.8 L212.1,157.8 L212.6,157.8 L213.1,157.8 L213.6,157.8 L213.6,157.8Z" fill="#fca55a" opacity="0.9"/>
<path d="M18.1,157.8 L18.1,157.8 L18.6,157.8 L19.1,157.8 L19.6,157.8 L20.1,157.8 L20.6,157.8 L21.1,157.8 L21.6,157.8 L22.1,157.8 L22.6,157.8 L23.1,157.8 L23.6,157.8 L24.1,157.8 L24.6,157.8 L25.1,157.8 L25.6,157.8 L26.1,157.8 L26.6,157.8 L27.1,157.8 L27.6,157.8 L28.1,157.8 L28.6,157.8 L29.1,157.8 L29.6,157.8 L30.1,157.8 L30.6,157.8 L31.1,157.8 L31.6,157.8 L32.1,157.8 L32.6,157.8 L33.1,157.8 L33.6,157.8 L34.1,157.8 L34.6,157.8 L35.1,157.8 L35.6,157.8 L36.1,157.8 L36.6,157.8 L37.1,157.8 L37.6,157.8 L38.1,157.8 L38.6,157.8 L39.1,157.8 L39.6,157.8 L40.1,157.8 L40.6,157.8 L41.1,157.8 L41.6,157.8 L42.1,157.8 L42.6,157.8 L43.1,157.8 L43.6,157.8 L44.1,157.8 L44.6,157.8 L45.1,157.8 L45.6,157.8 L46.1,157.8 L46.6,157.8 L47.1,157.8 L47.6,157.8 L48.1,157.8 L48.6,157.8 L49.1,157.8 L49.6,157.8 L50.1,157.8 L50.6,157.8 L51.1,157.8 L51.6,157.8 L52.1,157.8 L52.6,157.8 L53.1,157.8 L53.6,157.8 L54.1,157.8 L54.6,157.8 L55.1,157.8 L55.6,157.8 L56.1,157.8 L56.6,157.8 L57.1,157.8 L57.6,157.8 L58.1,157.8 L58.6,157.8 L59.1,157.8 L59.6,157.8 L60.1,157.8 L60.6,157.8 L61.1,157.8 L61.6,157.8 L62.1,157.8 L62.6,157.8 L63.1,157.8 L63.6,157.8 L64.1,157.8 L64.6,157.8 L65.1,157.8 L65.6,157.8 L66.1,157.8 L66.6,157.8 L67.1,157.8 L67.6,157.8 L68.1,157.8 L68.6,157.8 L69.1,157.8 L69.6,157.8 L70.1,157.8 L70.6,157.8 L71.1,157.8 L71.6,157.8 L72.1,157.8 L72.6,157.8 L73.1,157.8 L73.6,157.8 L74.1,157.8 L74.6,157.8 L75.1,157.8 L75.6,157.8 L76.1,157.8 L76.6,157.8 L77.1,157.8 L77.6,157.8 L78.1,157.8 L78.6,157.8 L79.1,157.8 L79.6,157.8 L80.1,157.8 L80.6,157.8 L81.1,157.8 L81.6,157.8 L82.1,157.8 L82.6,157.8 L83.1,157.8 L83.6,157.8 L84.1,157.8 L84.6,157.8 L85.1,157.8 L85.6,157.8 L86.1,157.8 L86.6,157.8 L87.1,157.8 L87.6,157.8 L88.1,157.8 L88.6,157.8 L89.1,157.8 L89.6,157.8 L90.1,157.8 L90.6,157.8 L91.1,157.8 L91.6,157.8 L92.1,157.8 L92.6,157.8 L93.1,157.8 L93.6,157.8 L94.1,157.8 L94.6,157.8 L95.1,157.8 L95.6,157.8 L96.1,157.8 L96.6,157.8 L97.1,157.8 L97.6,157.8 L98.1,157.8 L98.6,157.8 L99.1,157.8 L99.6,157.8 L100.1,157.8 L100.6,157.8 L101.1,157.8 L101.6,157.8 L102.1,157.8 L102.6,157.8 L103.1,157.8 L103.6,157.8 L104.1,157.8 L104.6,157.8 L105.1,157.8 L105.6,157.8 L106.1,157.8 L106.6,157.8 L107.1,157.8 L107.6,157.8 L108.1,157.8 L108.6,157.8 L109.1,157.8 L109.6,157.8 L110.1,157.8 L110.6,157.8 L111.1,157.8 L111.6,157.8 L112.1,157.8 L112.6,157.8 L113.1,157.8 L113.6,157.8 L114.1,157.8 L114.6,157.8 L115.1,157.8 L115.6,157.8 L116.1,157.8 L116.6,157.8 L117.1,157.8 L117.6,157.8 L118.1,157.8 L118.6,157.8 L119.1,157.8 L119.6,157.8 L120.1,157.8 L120.6,157.8 L121.1,157.8 L121.6,157.8 L122.1,157.8 L122.6,157.8 L123.1,157.8 L123.6,157.8 L124.1,157.8 L124.6,157.8 L125.1,157.8 L125.6,157.8 L126.1,157.8 L126.6,157.8 L127.1,157.8 L127.6,157.8 L128.1,157.8 L128.6,157.8 L129.1,157.8 L129.6,157.8 L130.1,157.8 L130.6,157.8 L131.1,157.8 L131.6,157.8 L132.1,157.8 L132.6,157.8 L133.1,157.8 L133.6,157.8 L134.1,157.8 L134.6,157.8 L135.1,157.8 L135.6,157.8 L136.1,157.8 L136.6,157.8 L137.1,157.8 L137.6,157.8 L138.1,157.8 L138.6,157.8 L139.1,157.8 L139.6,157.8 L140.1,157.8 L140.6,157.8 L141.1,157.8 L141.6,157.8 L142.1,157.8 L142.6,157.8 L143.1,157.8 L143.6,157.8 L144.1,157.79 L144.6,157.79 L145.1,157.79 L145.6,157.78 L146.1,157.78 L146.6,157.77 L147.1,157.76 L147.6,157.75 L148.1,157.73 L148.6,157.71 L149.1,157.69 L149.6,157.66 L150.1,157.62 L150.6,157.57 L151.1,157.51 L151.6,157.44 L152.1,157.34 L152.6,157.23 L153.1,157.1 L153.6,156.94 L154.1,156.75 L154.6,156.53 L155.1,156.27 L155.6,155.96 L156.1,155.61 L156.6,155.2 L157.1,154.74 L157.6,154.21 L158.1,153.62 L158.6,152.95 L159.1,152.21 L159.6,151.4 L160.1,150.51 L160.6,149.54 L161.1,148.5 L161.6,147.38 L162.1,146.2 L162.6,144.96 L163.1,143.67 L163.6,142.34 L164.1,140.98 L164.6,139.6 L165.1,138.23 L165.6,136.87 L166.1,135.54 L166.6,134.27 L167.1,133.06 L167.6,131.95 L168.1,130.93 L168.6,130.04 L169.1,129.28 L169.6,128.67 L170.1,128.21 L170.6,127.92 L171.1,127.8 L171.6,127.84 L172.1,128 L172.6,128.28 L173.1,128.68 L173.6,129.19 L174.1,129.8 L174.6,130.52 L175.1,131.33 L175.6,132.21 L176.1,133.17 L176.6,134.19 L177.1,135.26 L177.6,136.37 L178.1,137.51 L178.6,138.67 L179.1,139.84 L179.6,141 L180.1,142.15 L180.6,143.29 L181.1,144.39 L181.6,145.47 L182.1,146.5 L182.6,147.49 L183.1,148.43 L183.6,149.32 L184.1,150.16 L184.6,150.94 L185.1,151.67 L185.6,152.34 L186.1,152.96 L186.6,153.53 L187.1,154.04 L187.6,154.51 L188.1,154.93 L188.6,155.31 L189.1,155.64 L189.6,155.94 L190.1,156.21 L190.6,156.44 L191.1,156.64 L191.6,156.82 L192.1,156.97 L192.6,157.1 L193.1,157.22 L193.6,157.31 L194.1,157.4 L194.6,157.47 L195.1,157.53 L195.6,157.57 L196.1,157.62 L196.6,157.65 L197.1,157.68 L197.6,157.7 L198.1,157.72 L198.6,157.74 L199.1,157.75 L199.6,157.76 L200.1,157.77 L200.6,157.78 L201.1,157.78 L201.6,157.78 L202.1,157.79 L202.6,157.79 L203.1,157.79 L203.6,157.79 L204.1,157.8 L204.6,157.8 L205.1,157.8 L205.6,157.8 L206.1,157.8 L206.6,157.8 L207.1,157.8 L207.6,157.8 L208.1,157.8 L208.6,157.8 L209.1,157.8 L209.6,157.8 L210.1,157.8 L210.6,157.8 L211.1,157.8 L211.6,157.8 L212.1,157.8 L212.6,157.8 L213.1,157.8 L213.6,157.8 L213.6,157.8Z" fill="#fca55a" opacity="0.9"/>
<path d="M18.1,157.8 L18.1,157.8 L18.6,157.8 L19.1,157.8 L19.6,157.8 L20.1,157.8 L20.6,157.8 L21.1,157.8 L21.6,157.8 L22.1,157.8 L22.6,157.8 L23.1,157.8 L23.6,157.8 L24.1,157.8 L24.6,157.8 L25.1,157.8 L25.6,157.8 L26.1,157.8 L26.6,157.8 L27.1,157.8 L27.6,157.8 L28.1,157.8 L28.6,157.8 L29.1,157.8 L29.6,157.8 L30.1,157.8 L30.6,157.8 L31.1,157.8 L31.6,157.8 L32.1,157.8 L32.6,157.8 L33.1,157.8 L33.6,157.8 L34.1,157.8 L34.6,157.8 L35.1,157.8 L35.6,157.8 L36.1,157.8 L36.6,157.8 L37.1,157.8 L37.6,157.8 L38.1,157.8 L38.6,157.8 L39.1,157.8 L39.6,157.8 L40.1,157.8 L40.6,157.8 L41.1,157.8 L41.6,157.8 L42.1,157.8 L42.6,157.8 L43.1,157.8 L43.6,157.8 L44.1,157.8 L44.6,157.8 L45.1,157.8 L45.6,157.8 L46.1,157.8 L46.6,157.8 L47.1,157.8 L47.6,157.8 L48.1,157.8 L48.6,157.8 L49.1,157.8 L49.6,157.8 L50.1,157.8 L50.6,157.8 L51.1,157.8 L51.6,157.8 L52.1,157.8 L52.6,157.8 L53.1,157.8 L53.6,157.8 L54.1,157.8 L54.6,157.8 L55.1,157.8 L55.6,157.8 L56.1,157.8 L56.6,157.8 L57.1,157.8 L57.6,157.8 L58.1,157.8 L58.6,157.8 L59.1,157.8 L59.6,157.8 L60.1,157.8 L60.6,157.8 L61.1,157.8 L61.6,157.8 L62.1,157.8 L62.6,157.8 L63.1,157.8 L63.6,157.8 L64.1,157.8 L64.6,157.8 L65.1,157.8 L65.6,157.8 L66.1,157.8 L66.6,157.8 L67.1,157.8 L67.6,157.8 L68.1,157.8 L68.6,157.8 L69.1,157.8 L69.6,157.79 L70.1,157.79 L70.6,157.79 L71.1,157.79 L71.6,157.79 L72.1,157.79 L72.6,157.79 L73.1,157.79 L73.6,157.79 L74.1,157.79 L74.6,157.78 L75.1,157.78 L75.6,157.78 L76.1,157.78 L76.6,157.77 L77.1,157.77 L77.6,157.77 L78.1,157.77 L78.6,157.76 L79.1,157.76 L79.6,157.75 L80.1,157.75 L80.6,157.74 L81.1,157.74 L81.6,157.73 L82.1,157.73 L82.6,157.72 L83.1,157.71 L83.6,157.7 L84.1,157.69 L84.6,157.68 L85.1,157.67 L85.6,157.66 L86.1,157.65 L86.6,157.64 L87.1,157.62 L87.6,157.61 L88.1,157.6 L88.6,157.58 L89.1,157.56 L89.6,157.54 L90.1,157.53 L90.6,157.51 L91.1,157.48 L91.6,157.46 L92.1,157.44 L92.6,157.41 L93.1,157.39 L93.6,157.36 L94.1,157.33 L94.6,157.31 L95.1,157.28 L95.6,157.24 L96.1,157.21 L96.6,157.18 L97.1,157.14 L97.6,157.11 L98.1,157.07 L98.6,157.03 L99.1,157 L99.6,156.96 L100.1,156.92 L100.6,156.88 L101.1,156.83 L101.6,156.79 L102.1,156.75 L102.6,156.71 L103.1,156.66 L103.6,156.62 L104.1,156.58 L104.6,156.53 L105.1,156.49 L105.6,156.45 L106.1,156.41 L106.6,156.36 L107.1,156.32 L107.6,156.28 L108.1,156.24 L108.6,156.2 L109.1,156.17 L109.6,156.13 L110.1,156.09 L110.6,156.06 L111.1,156.03 L111.6,156 L112.1,155.97 L112.6,155.94 L113.1,155.92 L113.6,155.9 L114.1,155.88 L114.6,155.86 L115.1,155.84 L115.6,155.83 L116.1,155.82 L116.6,155.81 L117.1,155.8 L117.6,155.8 L118.1,155.8 L118.6,155.8 L119.1,155.81 L119.6,155.81 L120.1,155.82 L120.6,155.83 L121.1,155.85 L121.6,155.87 L122.1,155.88 L122.6,155.91 L123.1,155.93 L123.6,155.95 L124.1,155.98 L124.6,156.01 L125.1,156.04 L125.6,156.07 L126.1,156.11 L126.6,156.14 L127.1,156.18 L127.6,156.22 L128.1,156.26 L128.6,156.3 L129.1,156.34 L129.6,156.38 L130.1,156.42 L130.6,156.47 L131.1,156.51 L131.6,156.55 L132.1,156.6 L132.6,156.64 L133.1,156.68 L133.6,156.72 L134.1,156.77 L134.6,156.81 L135.1,156.85 L135.6,156.89 L136.1,156.93 L136.6,156.97 L137.1,157.01 L137.6,157.05 L138.1,157.09 L138.6,157.12 L139.1,157.16 L139.6,157.19 L140.1,157.22 L140.6,157.26 L141.1,157.29 L141.6,157.32 L142.1,157.35 L142.6,157.37 L143.1,157.4 L143.6,157.42 L144.1,157.45 L144.6,157.47 L145.1,157.49 L145.6,157.51 L146.1,157.53 L146.6,157.55 L147.1,157.57 L147.6,157.59 L148.1,157.6 L148.6,157.62 L149.1,157.63 L149.6,157.64 L150.1,157.66 L150.6,157.67 L151.1,157.68 L151.6,157.69 L152.1,157.7 L152.6,157.71 L153.1,157.71 L153.6,157.72 L154.1,157.73 L154.6,157.73 L155.1,157.74 L155.6,157.75 L156.1,157.75 L156.6,157.76 L157.1,157.76 L157.6,157.76 L158.1,157.77 L158.6,157.77 L159.1,157.77 L159.6,157.78 L160.1,157.78 L160.6,157.78 L161.1,157.78 L161.6,157.78 L162.1,157.79 L162.6,157.79 L163.1,157.79 L163.6,157.79 L164.1,157.79 L164.6,157.79 L165.1,157.79 L165.6,157.79 L166.1,157.79 L166.6,157.8 L167.1,157.8 L167.6,157.8 L168.1,157.8 L168.6,157.8 L169.1,157.8 L169.6,157.8 L170.1,157.8 L170.6,157.8 L171.1,157.8 L171.6,157.8 L172.1,157.8 L172.6,157.8 L173.1,157.8 L173.6,157.8 L174.1,157.8 L174.6,157.8 L175.1,157.8 L175.6,157.8 L176.1,157.8 L176.6,157.8 L177.1,157.8 L177.6,157.8 L178.1,157.8 L178.6,157.8 L179.1,157.8 L179.6,157.8 L180.1,157.8 L180.6,157.8 L181.1,157.8 L181.6,157.8 L182.1,157.8 L182.6,157.8 L183.1,157.8 L183.6,157.8 L184.1,157.8 L184.6,157.8 L185.1,157.8 L185.6,157.8 L186.1,157.8 L186.6,157.8 L187.1,157.8 L187.6,157.8 L188.1,157.8 L188.6,157.8 L189.1,157.8 L189.6,157.8 L190.1,157.8 L190.6,157.8 L191.1,157.8 L191.6,157.8 L192.1,157.8 L192.6,157.8 L193.1,157.8 L193.6,157.8 L194.1,157.8 L194.6,157.8 L195.1,157.8 L195.6,157.8 L196.1,157.8 L196.6,157.8 L197.1,157.8 L197.6,157.8 L198.1,157.8 L198.6,157.8 L199.1,157.8 L199.6,157.8 L200.1,157.8 L200.6,157.8 L201.1,157.8 L201.6,157.8 L202.1,157.8 L202.6,157.8 L203.1,157.8 L203.6,157.8 L204.1,157.8 L204.6,157.8 L205.1,157.8 L205.6,157.8 L206.1,157.8 L206.6,157.8 L207.1,157.8 L207.6,157.8 L208.1,157.8 L208.6,157.8 L209.1,157.8 L209.6,157.8 L210.1,157.8 L210.6,157.8 L211.1,157.8 L211.6,157.8 L212.1,157.8 L212.6,157.8 L213.1,157.8 L213.6,157.8 L213.6,157.8Z" fill="#b77fc8" opacity="0.75"/>
<path d="M18.1,157.8 L18.1,157.8 L18.6,157.8 L19.1,157.8 L19.6,157.8 L20.1,157.8 L20.6,157.8 L21.1,157.8 L21.6,157.8 L22.1,157.8 L22.6,157.8 L23.1,157.8 L23.6,157.8 L24.1,157.8 L24.6,157.8 L25.1,157.8 L25.6,157.8 L26.1,157.8 L26.6,157.8 L27.1,157.8 L27.6,157.8 L28.1,157.8 L28.6,157.8 L29.1,157.8 L29.6,157.8 L30.1,157.8 L30.6,157.8 L31.1,157.8 L31.6,157.8 L32.1,157.79 L32.6,157.79 L33.1,157.79 L33.6,157.79 L34.1,157.79 L34.6,157.79 L35.1,157.79 L35.6,157.79 L36.1,157.78 L36.6,157.78 L37.1,157.78 L37.6,157.78 L38.1,157.77 L38.6,157.77 L39.1,157.77 L39.6,157.76 L40.1,157.76 L40.6,157.75 L41.1,157.75 L41.6,157.74 L42.1,157.74 L42.6,157.73 L43.1,157.72 L43.6,157.71 L44.1,157.7 L44.6,157.69 L45.1,157.68 L45.6,157.67 L46.1,157.65 L46.6,157.64 L47.1,157.62 L47.6,157.6 L48.1,157.58 L48.6,157.56 L49.1,157.54 L49.6,157.52 L50.1,157.49 L50.6,157.46 L51.1,157.43 L51.6,157.39 L52.1,157.36 L52.6,157.32 L53.1,157.28 L53.6,157.23 L54.1,157.19 L54.6,157.14 L55.1,157.08 L55.6,157.03 L56.1,156.97 L56.6,156.9 L57.1,156.84 L57.6,156.76 L58.1,156.69 L58.6,156.61 L59.1,156.53 L59.6,156.44 L60.1,156.35 L60.6,156.25 L61.1,156.15 L61.6,156.04 L62.1,155.93 L62.6,155.82 L63.1,155.7 L63.6,155.58 L64.1,155.45 L64.6,155.32 L65.1,155.18 L65.6,155.04 L66.1,154.9 L66.6,154.75 L67.1,154.6 L67.6,154.45 L68.1,154.29 L68.6,154.13 L69.1,153.97 L69.6,153.8 L70.1,153.64 L70.6,153.47 L71.1,153.3 L71.6,153.13 L72.1,152.96 L72.6,152.78 L73.1,152.61 L73.6,152.44 L74.1,152.27 L74.6,152.1 L75.1,151.94 L75.6,151.77 L76.1,151.61 L76.6,151.46 L77.1,151.3 L77.6,151.16 L78.1,151.01 L78.6,150.87 L79.1,150.74 L79.6,150.61 L80.1,150.5 L80.6,150.38 L81.1,150.28 L81.6,150.18 L82.1,150.09 L82.6,150.01 L83.1,149.94 L83.6,149.88 L84.1,149.82 L84.6,149.78 L85.1,149.74 L85.6,149.72 L86.1,149.7 L86.6,149.7 L87.1,149.7 L87.6,149.72 L88.1,149.74 L88.6,149.78 L89.1,149.82 L89.6,149.88 L90.1,149.94 L90.6,150.01 L91.1,150.09 L91.6,150.18 L92.1,150.28 L92.6,150.38 L93.1,150.5 L93.6,150.61 L94.1,150.74 L94.6,150.87 L95.1,151.01 L95.6,151.16 L96.1,151.3 L96.6,151.46 L97.1,151.61 L97.6,151.77 L98.1,151.94 L98.6,152.1 L99.1,152.27 L99.6,152.44 L100.1,152.61 L100.6,152.78 L101.1,152.96 L101.6,153.13 L102.1,153.3 L102.6,153.47 L103.1,153.64 L103.6,153.8 L104.1,153.97 L104.6,154.13 L105.1,154.29 L105.6,154.45 L106.1,154.6 L106.6,154.75 L107.1,154.9 L107.6,155.04 L108.1,155.18 L108.6,155.32 L109.1,155.45 L109.6,155.58 L110.1,155.7 L110.6,155.82 L111.1,155.93 L111.6,156.04 L112.1,156.15 L112.6,156.25 L113.1,156.35 L113.6,156.44 L114.1,156.53 L114.6,156.61 L115.1,156.69 L115.6,156.76 L116.1,156.84 L116.6,156.9 L117.1,156.97 L117.6,157.03 L118.1,157.08 L118.6,157.14 L119.1,157.19 L119.6,157.23 L120.1,157.28 L120.6,157.32 L121.1,157.36 L121.6,157.39 L122.1,157.43 L122.6,157.46 L123.1,157.49 L123.6,157.52 L124.1,157.54 L124.6,157.56 L125.1,157.58 L125.6,157.6 L126.1,157.62 L126.6,157.64 L127.1,157.65 L127.6,157.67 L128.1,157.68 L128.6,157.69 L129.1,157.7 L129.6,157.71 L130.1,157.72 L130.6,157.73 L131.1,157.74 L131.6,157.74 L132.1,157.75 L132.6,157.75 L133.1,157.76 L133.6,157.76 L134.1,157.77 L134.6,157.77 L135.1,157.77 L135.6,157.78 L136.1,157.78 L136.6,157.78 L137.1,157.78 L137.6,157.79 L138.1,157.79 L138.6,157.79 L139.1,157.79 L139.6,157.79 L140.1,157.79 L140.6,157.79 L141.1,157.79 L141.6,157.8 L142.1,157.8 L142.6,157.8 L143.1,157.8 L143.6,157.8 L144.1,157.8 L144.6,157.8 L145.1,157.8 L145.6,157.8 L146.1,157.8 L146.6,157.8 L147.1,157.8 L147.6,157.8 L148.1,157.8 L148.6,157.8 L149.1,157.8 L149.6,157.8 L150.1,157.8 L150.6,157.8 L151.1,157.8 L151.6,157.8 L152.1,157.8 L152.6,157.8 L153.1,157.8 L153.6,157.8 L154.1,157.8 L154.6,157.8 L155.1,157.8 L155.6,157.8 L156.1,157.8 L156.6,157.8 L157.1,157.8 L157.6,157.8 L158.1,157.8 L158.6,157.8 L159.1,157.8 L159.6,157.8 L160.1,157.8 L160.6,157.8 L161.1,157.8 L161.6,157.8 L162.1,157.8 L162.6,157.8 L163.1,157.8 L163.6,157.8 L164.1,157.8 L164.6,157.8 L165.1,157.8 L165.6,157.8 L166.1,157.8 L166.6,157.8 L167.1,157.8 L167.6,157.8 L168.1,157.8 L168.6,157.8 L169.1,157.8 L169.6,157.8 L170.1,157.8 L170.6,157.8 L171.1,157.8 L171.6,157.8 L172.1,157.8 L172.6,157.8 L173.1,157.8 L173.6,157.8 L174.1,157.8 L174.6,157.8 L175.1,157.8 L175.6,157.8 L176.1,157.8 L176.6,157.8 L177.1,157.8 L177.6,157.8 L178.1,157.8 L178.6,157.8 L179.1,157.8 L179.6,157.8 L180.1,157.8 L180.6,157.8 L181.1,157.8 L181.6,157.8 L182.1,157.8 L182.6,157.8 L183.1,157.8 L183.6,157.8 L184.1,157.8 L184.6,157.8 L185.1,157.8 L185.6,157.8 L186.1,157.8 L186.6,157.8 L187.1,157.8 L187.6,157.8 L188.1,157.8 L188.6,157.8 L189.1,157.8 L189.6,157.8 L190.1,157.8 L190.6,157.8 L191.1,157.8 L191.6,157.8 L192.1,157.8 L192.6,157.8 L193.1,157.8 L193.6,157.8 L194.1,157.8 L194.6,157.8 L195.1,157.8 L195.6,157.8 L196.1,157.8 L196.6,157.8 L197.1,157.8 L197.6,157.8 L198.1,157.8 L198.6,157.8 L199.1,157.8 L199.6,157.8 L200.1,157.8 L200.6,157.8 L201.1,157.8 L201.6,157.8 L202.1,157.8 L202.6,157.8 L203.1,157.8 L203.6,157.8 L204.1,157.8 L204.6,157.8 L205.1,157.8 L205.6,157.8 L206.1,157.8 L206.6,157.8 L207.1,157.8 L207.6,157.8 L208.1,157.8 L208.6,157.8 L209.1,157.8 L209.6,157.8 L210.1,157.8 L210.6,157.8 L211.1,157.8 L211.6,157.8 L212.1,157.8 L212.6,157.8 L213.1,157.8 L213.6,157.8 L213.6,157.8Z" fill="#b77fc8" opacity="0.75"/>
<path d="M18.1,157.8 L18.1,157.8 L18.6,157.8 L19.1,157.8 L19.6,157.8 L20.1,157.8 L20.6,157.8 L21.1,157.8 L21.6,157.8 L22.1,157.8 L22.6,157.8 L23.1,157.8 L23.6,157.8 L24.1,157.8 L24.6,157.8 L25.1,157.8 L25.6,157.8 L26.1,157.8 L26.6,157.8 L27.1,157.8 L27.6,157.8 L28.1,157.8 L28.6,157.8 L29.1,157.8 L29.6,157.8 L30.1,157.8 L30.6,157.8 L31.1,157.8 L31.6,157.8 L32.1,157.8 L32.6,157.8 L33.1,157.8 L33.6,157.8 L34.1,157.8 L34.6,157.8 L35.1,157.8 L35.6,157.8 L36.1,157.8 L36.6,157.8 L37.1,157.8 L37.6,157.8 L38.1,157.8 L38.6,157.8 L39.1,157.8 L39.6,157.8 L40.1,157.8 L40.6,157.8 L41.1,157.8 L41.6,157.8 L42.1,157.8 L42.6,157.8 L43.1,157.8 L43.6,157.8 L44.1,157.8 L44.6,157.8 L45.1,157.8 L45.6,157.8 L46.1,157.8 L46.6,157.8 L47.1,157.8 L47.6,157.8 L48.1,157.8 L48.6,157.8 L49.1,157.8 L49.6,157.8 L50.1,157.8 L50.6,157.8 L51.1,157.8 L51.6,157.8 L52.1,157.8 L52.6,157.8 L53.1,157.8 L53.6,157.8 L54.1,157.8 L54.6,157.8 L55.1,157.8 L55.6,157.8 L56.1,157.8 L56.6,157.8 L57.1,157.8 L57.6,157.8 L58.1,157.8 L58.6,157.8 L59.1,157.8 L59.6,157.8 L60.1,157.8 L60.6,157.8 L61.1,157.8 L61.6,157.8 L62.1,157.8 L62.6,157.8 L63.1,157.8 L63.6,157.8 L64.1,157.8 L64.6,157.8 L65.1,157.8 L65.6,157.8 L66.1,157.8 L66.6,157.8 L67.1,157.8 L67.6,157.8 L68.1,157.8 L68.6,157.8 L69.1,157.8 L69.6,157.8 L70.1,157.8 L70.6,157.8 L71.1,157.8 L71.6,157.8 L72.1,157.8 L72.6,157.8 L73.1,157.8 L73.6,157.8 L74.1,157.8 L74.6,157.8 L75.1,157.8 L75.6,157.8 L76.1,157.8 L76.6,157.8 L77.1,157.8 L77.6,157.8 L78.1,157.8 L78.6,157.8 L79.1,157.8 L79.6,157.8 L80.1,157.8 L80.6,157.8 L81.1,157.8 L81.6,157.8 L82.1,157.8 L82.6,157.8 L83.1,157.8 L83.6,157.8 L84.1,157.8 L84.6,157.8 L85.1,157.8 L85.6,157.8 L86.1,157.8 L86.6,157.8 L87.1,157.8 L87.6,157.8 L88.1,157.8 L88.6,157.8 L89.1,157.8 L89.6,157.8 L90.1,157.8 L90.6,157.8 L91.1,157.8 L91.6,157.8 L92.1,157.8 L92.6,157.8 L93.1,157.8 L93.6,157.8 L94.1,157.8 L94.6,157.8 L95.1,157.8 L95.6,157.8 L96.1,157.8 L96.6,157.8 L97.1,157.8 L97.6,157.8 L98.1,157.8 L98.6,157.8 L99.1,157.8 L99.6,157.8 L100.1,157.8 L100.6,157.79 L101.1,157.79 L101.6,157.79 L102.1,157.79 L102.6,157.79 L103.1,157.79 L103.6,157.79 L104.1,157.79 L104.6,157.78 L105.1,157.78 L105.6,157.78 L106.1,157.78 L106.6,157.77 L107.1,157.77 L107.6,157.77 L108.1,157.76 L108.6,157.76 L109.1,157.75 L109.6,157.75 L110.1,157.74 L110.6,157.73 L111.1,157.72 L111.6,157.71 L112.1,157.7 L112.6,157.69 L113.1,157.68 L113.6,157.66 L114.1,157.65 L114.6,157.63 L115.1,157.61 L115.6,157.59 L116.1,157.57 L116.6,157.55 L117.1,157.52 L117.6,157.49 L118.1,157.46 L118.6,157.42 L119.1,157.38 L119.6,157.34 L120.1,157.3 L120.6,157.25 L121.1,157.19 L121.6,157.14 L122.1,157.08 L122.6,157.01 L123.1,156.94 L123.6,156.86 L124.1,156.78 L124.6,156.69 L125.1,156.6 L125.6,156.5 L126.1,156.39 L126.6,156.28 L127.1,156.16 L127.6,156.03 L128.1,155.9 L128.6,155.76 L129.1,155.61 L129.6,155.45 L130.1,155.28 L130.6,155.11 L131.1,154.93 L131.6,154.73 L132.1,154.53 L132.6,154.33 L133.1,154.11 L133.6,153.88 L134.1,153.65 L134.6,153.41 L135.1,153.16 L135.6,152.9 L136.1,152.63 L136.6,152.36 L137.1,152.08 L137.6,151.79 L138.1,151.49 L138.6,151.19 L139.1,150.89 L139.6,150.58 L140.1,150.26 L140.6,149.94 L141.1,149.62 L141.6,149.29 L142.1,148.97 L142.6,148.64 L143.1,148.31 L143.6,147.99 L144.1,147.66 L144.6,147.34 L145.1,147.02 L145.6,146.71 L146.1,146.4 L146.6,146.1 L147.1,145.81 L147.6,145.52 L148.1,145.24 L148.6,144.97 L149.1,144.72 L149.6,144.47 L150.1,144.24 L150.6,144.02 L151.1,143.82 L151.6,143.63 L152.1,143.46 L152.6,143.3 L153.1,143.16 L153.6,143.04 L154.1,142.94 L154.6,142.85 L155.1,142.79 L155.6,142.74 L156.1,142.71 L156.6,142.7 L157.1,142.71 L157.6,142.74 L158.1,142.79 L158.6,142.86 L159.1,142.96 L159.6,143.07 L160.1,143.2 L160.6,143.35 L161.1,143.52 L161.6,143.7 L162.1,143.9 L162.6,144.12 L163.1,144.35 L163.6,144.6 L164.1,144.86 L164.6,145.13 L165.1,145.42 L165.6,145.71 L166.1,146.01 L166.6,146.32 L167.1,146.64 L167.6,146.97 L168.1,147.29 L168.6,147.63 L169.1,147.96 L169.6,148.3 L170.1,148.64 L170.6,148.98 L171.1,149.32 L171.6,149.65 L172.1,149.99 L172.6,150.32 L173.1,150.65 L173.6,150.97 L174.1,151.28 L174.6,151.59 L175.1,151.9 L175.6,152.19 L176.1,152.48 L176.6,152.76 L177.1,153.03 L177.6,153.3 L178.1,153.55 L178.6,153.8 L179.1,154.03 L179.6,154.26 L180.1,154.48 L180.6,154.69 L181.1,154.89 L181.6,155.08 L182.1,155.26 L182.6,155.44 L183.1,155.6 L183.6,155.76 L184.1,155.9 L184.6,156.04 L185.1,156.17 L185.6,156.3 L186.1,156.41 L186.6,156.52 L187.1,156.62 L187.6,156.72 L188.1,156.81 L188.6,156.89 L189.1,156.97 L189.6,157.04 L190.1,157.11 L190.6,157.17 L191.1,157.22 L191.6,157.28 L192.1,157.32 L192.6,157.37 L193.1,157.41 L193.6,157.45 L194.1,157.48 L194.6,157.51 L195.1,157.54 L195.6,157.57 L196.1,157.59 L196.6,157.61 L197.1,157.63 L197.6,157.65 L198.1,157.67 L198.6,157.68 L199.1,157.69 L199.6,157.71 L200.1,157.72 L200.6,157.73 L201.1,157.73 L201.6,157.74 L202.1,157.75 L202.6,157.75 L203.1,157.76 L203.6,157.76 L204.1,157.77 L204.6,157.77 L205.1,157.78 L205.6,157.78 L206.1,157.78 L206.6,157.78 L207.1,157.79 L207.6,157.79 L208.1,157.79 L208.6,157.79 L209.1,157.79 L209.6,157.79 L210.1,157.79 L210.6,157.79 L211.1,157.8 L211.6,157.8 L212.1,157.8 L212.6,157.8 L213.1,157.8 L213.6,157.8 L213.6,157.8Z" fill="#b77fc8" opacity="0.75"/>
<path d="M18.1,157.8 L18.6,157.8 L19.1,157.8 L19.6,157.8 L20.1,157.8 L20.6,157.8 L21.1,157.8 L21.6,157.8 L22.1,157.8 L22.6,157.8 L23.1,157.8 L23.6,157.8 L24.1,157.8 L24.6,157.8 L25.1,157.8 L25.6,157.8 L26.1,157.8 L26.6,157.8 L27.1,157.8 L27.6,157.8 L28.1,157.8 L28.6,157.8 L29.1,157.8 L29.6,157.8 L30.1,157.8 L30.6,157.8 L31.1,157.8 L31.6,157.8 L32.1,157.79 L32.6,157.79 L33.1,157.79 L33.6,157.79 L34.1,157.79 L34.6,157.79 L35.1,157.79 L35.6,157.79 L36.1,157.78 L36.6,157.78 L37.1,157.78 L37.6,157.78 L38.1,157.77 L38.6,157.77 L39.1,157.77 L39.6,157.76 L40.1,157.76 L40.6,157.75 L41.1,157.75 L41.6,157.74 L42.1,157.74 L42.6,157.73 L43.1,157.72 L43.6,157.71 L44.1,157.7 L44.6,157.69 L45.1,157.68 L45.6,157.67 L46.1,157.65 L46.6,157.64 L47.1,157.62 L47.6,157.6 L48.1,157.58 L48.6,157.56 L49.1,157.54 L49.6,157.52 L50.1,157.49 L50.6,157.46 L51.1,157.43 L51.6,157.39 L52.1,157.36 L52.6,157.32 L53.1,157.28 L53.6,157.23 L54.1,157.19 L54.6,157.14 L55.1,157.08 L55.6,157.03 L56.1,156.97 L56.6,156.9 L57.1,156.84 L57.6,156.76 L58.1,156.69 L58.6,156.61 L59.1,156.52 L59.6,156.44 L60.1,156.34 L60.6,156.25 L61.1,156.15 L61.6,156.04 L62.1,155.93 L62.6,155.82 L63.1,155.7 L63.6,155.58 L64.1,155.45 L64.6,155.32 L65.1,155.18 L65.6,155.04 L66.1,154.9 L66.6,154.75 L67.1,154.6 L67.6,154.45 L68.1,154.29 L68.6,154.13 L69.1,153.96 L69.6,153.8 L70.1,153.63 L70.6,153.46 L71.1,153.29 L71.6,153.12 L72.1,152.95 L72.6,152.77 L73.1,152.6 L73.6,152.43 L74.1,152.26 L74.6,152.09 L75.1,151.92 L75.6,151.75 L76.1,151.59 L76.6,151.43 L77.1,151.27 L77.6,151.12 L78.1,150.97 L78.6,150.83 L79.1,150.68 L79.6,150.54 L80.1,150.41 L80.6,150.28 L81.1,150.14 L81.6,150.01 L82.1,149.87 L82.6,149.73 L83.1,149.57 L83.6,149.4 L84.1,149.21 L84.6,149 L85.1,148.75 L85.6,148.46 L86.1,148.14 L86.6,147.76 L87.1,147.33 L87.6,146.84 L88.1,146.3 L88.6,145.7 L89.1,145.05 L89.6,144.36 L90.1,143.63 L90.6,142.9 L91.1,142.17 L91.6,141.46 L92.1,140.8 L92.6,140.21 L93.1,139.71 L93.6,139.33 L94.1,139.07 L94.6,138.95 L95.1,138.99 L95.6,139.15 L96.1,139.41 L96.6,139.77 L97.1,140.22 L97.6,140.75 L98.1,141.35 L98.6,142.01 L99.1,142.72 L99.6,143.47 L100.1,144.23 L100.6,145.01 L101.1,145.78 L101.6,146.54 L102.1,147.28 L102.6,147.98 L103.1,148.65 L103.6,149.28 L104.1,149.87 L104.6,150.4 L105.1,150.9 L105.6,151.34 L106.1,151.74 L106.6,152.1 L107.1,152.42 L107.6,152.7 L108.1,152.95 L108.6,153.18 L109.1,153.37 L109.6,153.54 L110.1,153.69 L110.6,153.82 L111.1,153.94 L111.6,154.05 L112.1,154.14 L112.6,154.22 L113.1,154.3 L113.6,154.37 L114.1,154.43 L114.6,154.48 L115.1,154.53 L115.6,154.58 L116.1,154.62 L116.6,154.65 L117.1,154.69 L117.6,154.71 L118.1,154.74 L118.6,154.76 L119.1,154.78 L119.6,154.79 L120.1,154.8 L120.6,154.8 L121.1,154.8 L121.6,154.8 L122.1,154.79 L122.6,154.77 L123.1,154.75 L123.6,154.73 L124.1,154.7 L124.6,154.67 L125.1,154.62 L125.6,154.58 L126.1,154.52 L126.6,154.46 L127.1,154.39 L127.6,154.32 L128.1,154.24 L128.6,154.15 L129.1,154.05 L129.6,153.94 L130.1,153.83 L130.6,153.7 L131.1,153.57 L131.6,153.43 L132.1,153.28 L132.6,153.12 L133.1,152.95 L133.6,152.77 L134.1,152.58 L134.6,152.39 L135.1,152.18 L135.6,151.97 L136.1,151.74 L136.6,151.51 L137.1,151.27 L137.6,151.02 L138.1,150.77 L138.6,150.5 L139.1,150.23 L139.6,149.96 L140.1,149.68 L140.6,149.39 L141.1,149.1 L141.6,148.81 L142.1,148.51 L142.6,148.21 L143.1,147.91 L143.6,147.6 L144.1,147.3 L144.6,147 L145.1,146.7 L145.6,146.41 L146.1,146.11 L146.6,145.82 L147.1,145.54 L147.6,145.25 L148.1,144.98 L148.6,144.71 L149.1,144.44 L149.6,144.18 L150.1,143.92 L150.6,143.66 L151.1,143.41 L151.6,143.16 L152.1,142.9 L152.6,142.64 L153.1,142.38 L153.6,142.11 L154.1,141.82 L154.6,141.52 L155.1,141.2 L155.6,140.85 L156.1,140.47 L156.6,140.06 L157.1,139.61 L157.6,139.11 L158.1,138.58 L158.6,137.99 L159.1,137.34 L159.6,136.64 L160.1,135.88 L160.6,135.07 L161.1,134.2 L161.6,133.27 L162.1,132.29 L162.6,131.27 L163.1,130.21 L163.6,129.13 L164.1,128.03 L164.6,126.93 L165.1,125.84 L165.6,124.77 L166.1,123.75 L166.6,122.79 L167.1,121.9 L167.6,121.11 L168.1,120.42 L168.6,119.86 L169.1,119.44 L169.6,119.17 L170.1,119.05 L170.6,119.1 L171.1,119.32 L171.6,119.69 L172.1,120.19 L172.6,120.8 L173.1,121.52 L173.6,122.35 L174.1,123.29 L174.6,124.31 L175.1,125.42 L175.6,126.6 L176.1,127.85 L176.6,129.15 L177.1,130.5 L177.6,131.87 L178.1,133.27 L178.6,134.67 L179.1,136.07 L179.6,137.46 L180.1,138.83 L180.6,140.18 L181.1,141.48 L181.6,142.75 L182.1,143.96 L182.6,145.13 L183.1,146.23 L183.6,147.28 L184.1,148.26 L184.6,149.18 L185.1,150.04 L185.6,150.84 L186.1,151.57 L186.6,152.25 L187.1,152.87 L187.6,153.43 L188.1,153.94 L188.6,154.4 L189.1,154.81 L189.6,155.18 L190.1,155.51 L190.6,155.81 L191.1,156.07 L191.6,156.29 L192.1,156.5 L192.6,156.67 L193.1,156.83 L193.6,156.96 L194.1,157.08 L194.6,157.18 L195.1,157.27 L195.6,157.34 L196.1,157.41 L196.6,157.46 L197.1,157.51 L197.6,157.55 L198.1,157.59 L198.6,157.62 L199.1,157.64 L199.6,157.67 L200.1,157.68 L200.6,157.7 L201.1,157.71 L201.6,157.73 L202.1,157.74 L202.6,157.75 L203.1,157.75 L203.6,157.76 L204.1,157.76 L204.6,157.77 L205.1,157.77 L205.6,157.78 L206.1,157.78 L206.6,157.78 L207.1,157.79 L207.6,157.79 L208.1,157.79 L208.6,157.79 L209.1,157.79 L209.6,157.79 L210.1,157.79 L210.6,157.79 L211.1,157.8 L211.6,157.8 L212.1,157.8 L212.6,157.8 L213.1,157.8 L213.6,157.8" fill="none" stroke="#dd4fa0" stroke-width="1.3"/>
<text x="20.6" y="144.6" font-size="12" font-weight="bold">FeN<tspan dy="3" font-size="8.8">5</tspan><tspan dy="-3">-SD</tspan><tspan dy="3" font-size="8.8">1</tspan></text>
<path d="M18.1,242.91 L18.65,239.87 L19.2,233.6 L19.75,246.08 L20.3,242.92 L20.85,242.3 L21.4,238.72 L21.95,243.16 L22.5,238.83 L23.05,241 L23.6,240.15 L24.15,245.36 L24.7,239.13 L25.25,239.57 L25.8,244.79 L26.35,241.62 L26.9,240.72 L27.45,239.92 L28,244.2 L28.55,238.42 L29.1,242.46 L29.65,248.07 L30.2,242.18 L30.75,237.89 L31.3,236.38 L31.85,241.23 L32.4,236.25 L32.95,234.91 L33.5,237.91 L34.05,236.67 L34.6,243.78 L35.15,235.34 L35.7,246.3 L36.25,237.82 L36.8,240.95 L37.35,242.93 L37.9,241.27 L38.45,243.05 L39,236.8 L39.55,232.07 L40.1,239.57 L40.65,234.12 L41.2,238.09 L41.75,243.62 L42.3,239.38 L42.85,237.86 L43.4,235.82 L43.95,238.83 L44.5,239.2 L45.05,233.9 L45.6,240.78 L46.15,235.59 L46.7,240.32 L47.25,237.72 L47.8,243.02 L48.35,242.43 L48.9,239.12 L49.45,238.56 L50,240.52 L50.55,244.01 L51.1,242.69 L51.65,239.09 L52.2,239.57 L52.75,244.33 L53.3,231.68 L53.85,240.02 L54.4,234.18 L54.95,242.92 L55.5,235.42 L56.05,236.75 L56.6,232.64 L57.15,236.89 L57.7,239.85 L58.25,243.26 L58.8,231.01 L59.35,234.17 L59.9,252.06 L60.45,239.51 L61,235.3 L61.55,237.32 L62.1,223.48 L62.65,241.57 L63.2,235.08 L63.75,227.91 L64.3,239.03 L64.85,230.89 L65.4,228.87 L65.95,235.52 L66.5,234.75 L67.05,230.64 L67.6,232.14 L68.15,226.11 L68.7,225.39 L69.25,235.96 L69.8,237.7 L70.35,233.4 L70.9,232.94 L71.45,229.13 L72,230.2 L72.55,226.2 L73.1,238.84 L73.65,227.61 L74.2,232.14 L74.75,230.04 L75.3,223.16 L75.85,239.16 L76.4,227.85 L76.95,225.83 L77.5,230.01 L78.05,224.96 L78.6,229.38 L79.15,224.4 L79.7,231.76 L80.25,229.1 L80.8,221.86 L81.35,233.61 L81.9,229.16 L82.45,222.34 L83,229.39 L83.55,229.36 L84.1,236.33 L84.65,221.61 L85.2,230.06 L85.75,224.31 L86.3,227.42 L86.85,221.74 L87.4,221.97 L87.95,224.22 L88.5,213.35 L89.05,206.74 L89.6,218.31 L90.15,214.64 L90.7,217.06 L91.25,219.82 L91.8,213.6 L92.35,222.25 L92.9,213.77 L93.45,214.55 L94,219.27 L94.55,217.78 L95.1,213.59 L95.65,215.39 L96.2,210.15 L96.75,211.71 L97.3,216.98 L97.85,222.2 L98.4,215.23 L98.95,223.91 L99.5,231.34 L100.05,233.32 L100.6,221.87 L101.15,228.68 L101.7,227.11 L102.25,228.98 L102.8,230.14 L103.35,229.34 L103.9,231.72 L104.45,229.29 L105,227.82 L105.55,231.06 L106.1,232.85 L106.65,236.86 L107.2,233.32 L107.75,235.46 L108.3,238.94 L108.85,228.49 L109.4,231.8 L109.95,235.61 L110.5,233.45 L111.05,228.9 L111.6,237.89 L112.15,233.17 L112.7,228.99 L113.25,241.87 L113.8,227.56 L114.35,233.14 L114.9,230.05 L115.45,233.43 L116,235.35 L116.55,228.9 L117.1,231.98 L117.65,231.68 L118.2,227.48 L118.75,237.33 L119.3,232.56 L119.85,230.23 L120.4,228.27 L120.95,229.64 L121.5,231.71 L122.05,228.66 L122.6,236.63 L123.15,218.3 L123.7,219.99 L124.25,228.86 L124.8,220.95 L125.35,229.37 L125.9,226.27 L126.45,232.14 L127,231.11 L127.55,235.34 L128.1,233.2 L128.65,234.66 L129.2,230.79 L129.75,233.29 L130.3,230.18 L130.85,224.32 L131.4,220.64 L131.95,220.54 L132.5,229.09 L133.05,213.77 L133.6,226.96 L134.15,221.77 L134.7,229.42 L135.25,226.31 L135.8,220.92 L136.35,224.79 L136.9,212.05 L137.45,225.69 L138,226.54 L138.55,213.54 L139.1,228.27 L139.65,222.6 L140.2,224.01 L140.75,214.81 L141.3,226.03 L141.85,225.7 L142.4,222.09 L142.95,216.32 L143.5,226.14 L144.05,228.74 L144.6,223.64 L145.15,226.92 L145.7,217.42 L146.25,221.5 L146.8,222.54 L147.35,220.88 L147.9,236.59 L148.45,221.87 L149,215.53 L149.55,223.57 L150.1,211.29 L150.65,219.77 L151.2,221.74 L151.75,213.09 L152.3,213.45 L152.85,208.59 L153.4,214.76 L153.95,208.4 L154.5,223.87 L155.05,215.4 L155.6,208.12 L156.15,198.18 L156.7,222.23 L157.25,215.62 L157.8,207.97 L158.35,204.37 L158.9,202.65 L159.45,195.83 L160,213.94 L160.55,198.26 L161.1,182.29 L161.65,187.5 L162.2,168.36 L162.75,196.59 L163.3,196.36 L163.85,204.88 L164.4,207.19 L164.95,178.34 L165.5,189.66 L166.05,194.54 L166.6,192.17 L167.15,179.03 L167.7,192.17 L168.25,189.34 L168.8,198.38 L169.35,185.38 L169.9,184.35 L170.45,183.03 L171,185.82 L171.55,183.99 L172.1,189.83 L172.65,199.32 L173.2,200.99 L173.75,210.25 L174.3,210.46 L174.85,208.94 L175.4,197.91 L175.95,213.04 L176.5,219.41 L177.05,205.01 L177.6,208.83 L178.15,212.3 L178.7,214.13 L179.25,220.63 L179.8,219.02 L180.35,227.98 L180.9,221.35 L181.45,228.43 L182,228.05 L182.55,227.19 L183.1,237.54 L183.65,233.99 L184.2,237.12 L184.75,234.19 L185.3,239.23 L185.85,239.46 L186.4,236.91 L186.95,230.99 L187.5,241.64 L188.05,241.48 L188.6,239.82 L189.15,240.32 L189.7,240.1 L190.25,240.56 L190.8,236.26 L191.35,239.95 L191.9,241.47 L192.45,238.14 L193,236.93 L193.55,247.41 L194.1,242.88 L194.65,239.6 L195.2,238.98 L195.75,231.19 L196.3,235.68 L196.85,239.99 L197.4,245.61 L197.95,233.5 L198.5,238.45 L199.05,247.95 L199.6,243.46 L200.15,242.55 L200.7,245.39 L201.25,240.65 L201.8,240.46 L202.35,243.69 L202.9,244.2 L203.45,237.28 L204,246.66 L204.55,234.86 L205.1,238.65 L205.65,252.25 L206.2,239.33 L206.75,243.54 L207.3,237.57 L207.85,240.04 L208.4,238.6 L208.95,239.76 L209.5,243.57 L210.05,247.51 L210.6,244.36 L211.15,246.82 L211.7,239.39 L212.25,246.5 L212.8,243.25 L213.35,246.16 L213.9,239.71" fill="none" stroke="#d4d4d4" stroke-width="0.75"/>
<path d="M18.1,241 L18.1,241 L18.6,241 L19.1,241 L19.6,241 L20.1,241 L20.6,241 L21.1,241 L21.6,241 L22.1,241 L22.6,241 L23.1,241 L23.6,241 L24.1,241 L24.6,241 L25.1,241 L25.6,241 L26.1,241 L26.6,241 L27.1,241 L27.6,241 L28.1,241 L28.6,241 L29.1,241 L29.6,241 L30.1,241 L30.6,241 L31.1,241 L31.6,241 L32.1,241 L32.6,241 L33.1,241 L33.6,241 L34.1,241 L34.6,241 L35.1,241 L35.6,241 L36.1,241 L36.6,241 L37.1,241 L37.6,241 L38.1,241 L38.6,241 L39.1,241 L39.6,241 L40.1,241 L40.6,241 L41.1,241 L41.6,241 L42.1,241 L42.6,241 L43.1,241 L43.6,241 L44.1,241 L44.6,241 L45.1,241 L45.6,241 L46.1,241 L46.6,241 L47.1,241 L47.6,241 L48.1,241 L48.6,241 L49.1,241 L49.6,241 L50.1,241 L50.6,241 L51.1,241 L51.6,241 L52.1,241 L52.6,241 L53.1,241 L53.6,241 L54.1,241 L54.6,241 L55.1,241 L55.6,241 L56.1,241 L56.6,241 L57.1,241 L57.6,241 L58.1,241 L58.6,241 L59.1,241 L59.6,241 L60.1,241 L60.6,241 L61.1,241 L61.6,241 L62.1,241 L62.6,241 L63.1,241 L63.6,241 L64.1,241 L64.6,241 L65.1,241 L65.6,241 L66.1,241 L66.6,241 L67.1,241 L67.6,241 L68.1,241 L68.6,241 L69.1,241 L69.6,241 L70.1,241 L70.6,241 L71.1,241 L71.6,241 L72.1,241 L72.6,241 L73.1,241 L73.6,241 L74.1,241 L74.6,241 L75.1,241 L75.6,241 L76.1,241 L76.6,241 L77.1,241 L77.6,241 L78.1,241 L78.6,241 L79.1,241 L79.6,241 L80.1,241 L80.6,241 L81.1,241 L81.6,241 L82.1,241 L82.6,241 L83.1,241 L83.6,241 L84.1,241 L84.6,241 L85.1,241 L85.6,241 L86.1,241 L86.6,241 L87.1,241 L87.6,241 L88.1,241 L88.6,241 L89.1,241 L89.6,241 L90.1,241 L90.6,241 L91.1,241 L91.6,241 L92.1,241 L92.6,241 L93.1,240.99 L93.6,240.99 L94.1,240.99 L94.6,240.99 L95.1,240.99 L95.6,240.98 L96.1,240.98 L96.6,240.97 L97.1,240.96 L97.6,240.96 L98.1,240.95 L98.6,240.94 L99.1,240.92 L99.6,240.91 L100.1,240.89 L100.6,240.87 L101.1,240.85 L101.6,240.82 L102.1,240.79 L102.6,240.76 L103.1,240.72 L103.6,240.68 L104.1,240.63 L104.6,240.58 L105.1,240.53 L105.6,240.47 L106.1,240.41 L106.6,240.34 L107.1,240.26 L107.6,240.19 L108.1,240.11 L108.6,240.03 L109.1,239.94 L109.6,239.86 L110.1,239.77 L110.6,239.68 L111.1,239.6 L111.6,239.51 L112.1,239.43 L112.6,239.36 L113.1,239.29 L113.6,239.22 L114.1,239.16 L114.6,239.11 L115.1,239.07 L115.6,239.04 L116.1,239.02 L116.6,239 L117.1,239 L117.6,239.01 L118.1,239.02 L118.6,239.05 L119.1,239.09 L119.6,239.13 L120.1,239.19 L120.6,239.25 L121.1,239.32 L121.6,239.39 L122.1,239.47 L122.6,239.55 L123.1,239.63 L123.6,239.72 L124.1,239.8 L124.6,239.89 L125.1,239.98 L125.6,240.06 L126.1,240.14 L126.6,240.22 L127.1,240.29 L127.6,240.36 L128.1,240.43 L128.6,240.49 L129.1,240.55 L129.6,240.6 L130.1,240.65 L130.6,240.7 L131.1,240.74 L131.6,240.77 L132.1,240.8 L132.6,240.83 L133.1,240.86 L133.6,240.88 L134.1,240.9 L134.6,240.92 L135.1,240.93 L135.6,240.94 L136.1,240.95 L136.6,240.96 L137.1,240.97 L137.6,240.97 L138.1,240.98 L138.6,240.98 L139.1,240.99 L139.6,240.99 L140.1,240.99 L140.6,240.99 L141.1,240.99 L141.6,241 L142.1,241 L142.6,241 L143.1,241 L143.6,241 L144.1,241 L144.6,241 L145.1,241 L145.6,241 L146.1,241 L146.6,241 L147.1,241 L147.6,241 L148.1,241 L148.6,241 L149.1,241 L149.6,241 L150.1,241 L150.6,241 L151.1,241 L151.6,241 L152.1,241 L152.6,241 L153.1,241 L153.6,241 L154.1,241 L154.6,241 L155.1,241 L155.6,241 L156.1,241 L156.6,241 L157.1,241 L157.6,241 L158.1,241 L158.6,241 L159.1,241 L159.6,241 L160.1,241 L160.6,241 L161.1,241 L161.6,241 L162.1,241 L162.6,241 L163.1,241 L163.6,241 L164.1,241 L164.6,241 L165.1,241 L165.6,241 L166.1,241 L166.6,241 L167.1,241 L167.6,241 L168.1,241 L168.6,241 L169.1,241 L169.6,241 L170.1,241 L170.6,241 L171.1,241 L171.6,241 L172.1,241 L172.6,241 L173.1,241 L173.6,241 L174.1,241 L174.6,241 L175.1,241 L175.6,241 L176.1,241 L176.6,241 L177.1,241 L177.6,241 L178.1,241 L178.6,241 L179.1,241 L179.6,241 L180.1,241 L180.6,241 L181.1,241 L181.6,241 L182.1,241 L182.6,241 L183.1,241 L183.6,241 L184.1,241 L184.6,241 L185.1,241 L185.6,241 L186.1,241 L186.6,241 L187.1,241 L187.6,241 L188.1,241 L188.6,241 L189.1,241 L189.6,241 L190.1,241 L190.6,241 L191.1,241 L191.6,241 L192.1,241 L192.6,241 L193.1,241 L193.6,241 L194.1,241 L194.6,241 L195.1,241 L195.6,241 L196.1,241 L196.6,241 L197.1,241 L197.6,241 L198.1,241 L198.6,241 L199.1,241 L199.6,241 L200.1,241 L200.6,241 L201.1,241 L201.6,241 L202.1,241 L202.6,241 L203.1,241 L203.6,241 L204.1,241 L204.6,241 L205.1,241 L205.6,241 L206.1,241 L206.6,241 L207.1,241 L207.6,241 L208.1,241 L208.6,241 L209.1,241 L209.6,241 L210.1,241 L210.6,241 L211.1,241 L211.6,241 L212.1,241 L212.6,241 L213.1,241 L213.6,241 L213.6,241Z" fill="#fca55a" opacity="0.9"/>
<path d="M18.1,241 L18.1,241 L18.6,241 L19.1,241 L19.6,241 L20.1,241 L20.6,241 L21.1,241 L21.6,241 L22.1,241 L22.6,241 L23.1,241 L23.6,241 L24.1,241 L24.6,241 L25.1,241 L25.6,241 L26.1,241 L26.6,241 L27.1,241 L27.6,241 L28.1,241 L28.6,241 L29.1,241 L29.6,241 L30.1,241 L30.6,241 L31.1,241 L31.6,241 L32.1,241 L32.6,241 L33.1,241 L33.6,241 L34.1,241 L34.6,241 L35.1,241 L35.6,241 L36.1,241 L36.6,241 L37.1,241 L37.6,241 L38.1,241 L38.6,241 L39.1,241 L39.6,241 L40.1,241 L40.6,241 L41.1,241 L41.6,241 L42.1,241 L42.6,241 L43.1,241 L43.6,241 L44.1,241 L44.6,241 L45.1,241 L45.6,241 L46.1,241 L46.6,241 L47.1,241 L47.6,241 L48.1,241 L48.6,241 L49.1,241 L49.6,241 L50.1,241 L50.6,241 L51.1,241 L51.6,241 L52.1,241 L52.6,241 L53.1,241 L53.6,241 L54.1,241 L54.6,241 L55.1,241 L55.6,241 L56.1,241 L56.6,241 L57.1,241 L57.6,241 L58.1,241 L58.6,241 L59.1,241 L59.6,241 L60.1,241 L60.6,241 L61.1,241 L61.6,241 L62.1,241 L62.6,241 L63.1,241 L63.6,241 L64.1,241 L64.6,241 L65.1,241 L65.6,241 L66.1,241 L66.6,241 L67.1,241 L67.6,241 L68.1,241 L68.6,241 L69.1,241 L69.6,241 L70.1,241 L70.6,241 L71.1,241 L71.6,241 L72.1,240.99 L72.6,240.99 L73.1,240.99 L73.6,240.99 L74.1,240.98 L74.6,240.97 L75.1,240.96 L75.6,240.95 L76.1,240.93 L76.6,240.9 L77.1,240.87 L77.6,240.82 L78.1,240.77 L78.6,240.69 L79.1,240.6 L79.6,240.49 L80.1,240.35 L80.6,240.18 L81.1,239.97 L81.6,239.72 L82.1,239.43 L82.6,239.07 L83.1,238.67 L83.6,238.19 L84.1,237.65 L84.6,237.04 L85.1,236.36 L85.6,235.6 L86.1,234.77 L86.6,233.87 L87.1,232.91 L87.6,231.9 L88.1,230.84 L88.6,229.75 L89.1,228.65 L89.6,227.55 L90.1,226.48 L90.6,225.45 L91.1,224.48 L91.6,223.6 L92.1,222.82 L92.6,222.16 L93.1,221.64 L93.6,221.27 L94.1,221.05 L94.6,221 L95.1,221.07 L95.6,221.23 L96.1,221.47 L96.6,221.81 L97.1,222.23 L97.6,222.72 L98.1,223.29 L98.6,223.92 L99.1,224.6 L99.6,225.33 L100.1,226.1 L100.6,226.89 L101.1,227.71 L101.6,228.54 L102.1,229.37 L102.6,230.19 L103.1,231.01 L103.6,231.8 L104.1,232.58 L104.6,233.32 L105.1,234.03 L105.6,234.71 L106.1,235.34 L106.6,235.94 L107.1,236.49 L107.6,237 L108.1,237.47 L108.6,237.9 L109.1,238.29 L109.6,238.65 L110.1,238.96 L110.6,239.24 L111.1,239.49 L111.6,239.71 L112.1,239.91 L112.6,240.08 L113.1,240.22 L113.6,240.35 L114.1,240.46 L114.6,240.55 L115.1,240.63 L115.6,240.69 L116.1,240.75 L116.6,240.8 L117.1,240.83 L117.6,240.87 L118.1,240.89 L118.6,240.91 L119.1,240.93 L119.6,240.95 L120.1,240.96 L120.6,240.97 L121.1,240.97 L121.6,240.98 L122.1,240.98 L122.6,240.99 L123.1,240.99 L123.6,240.99 L124.1,240.99 L124.6,241 L125.1,241 L125.6,241 L126.1,241 L126.6,241 L127.1,241 L127.6,241 L128.1,241 L128.6,241 L129.1,241 L129.6,241 L130.1,241 L130.6,241 L131.1,241 L131.6,241 L132.1,241 L132.6,241 L133.1,241 L133.6,241 L134.1,241 L134.6,241 L135.1,241 L135.6,241 L136.1,241 L136.6,241 L137.1,241 L137.6,241 L138.1,241 L138.6,241 L139.1,241 L139.6,241 L140.1,241 L140.6,241 L141.1,241 L141.6,241 L142.1,241 L142.6,241 L143.1,241 L143.6,241 L144.1,241 L144.6,241 L145.1,241 L145.6,241 L146.1,241 L146.6,241 L147.1,241 L147.6,241 L148.1,241 L148.6,241 L149.1,241 L149.6,241 L150.1,241 L150.6,241 L151.1,241 L151.6,241 L152.1,241 L152.6,241 L153.1,241 L153.6,241 L154.1,241 L154.6,241 L155.1,241 L155.6,241 L156.1,241 L156.6,241 L157.1,241 L157.6,241 L158.1,241 L158.6,241 L159.1,241 L159.6,241 L160.1,241 L160.6,241 L161.1,241 L161.6,241 L162.1,241 L162.6,241 L163.1,241 L163.6,241 L164.1,241 L164.6,241 L165.1,241 L165.6,241 L166.1,241 L166.6,241 L167.1,241 L167.6,241 L168.1,241 L168.6,241 L169.1,241 L169.6,241 L170.1,241 L170.6,241 L171.1,241 L171.6,241 L172.1,241 L172.6,241 L173.1,241 L173.6,241 L174.1,241 L174.6,241 L175.1,241 L175.6,241 L176.1,241 L176.6,241 L177.1,241 L177.6,241 L178.1,241 L178.6,241 L179.1,241 L179.6,241 L180.1,241 L180.6,241 L181.1,241 L181.6,241 L182.1,241 L182.6,241 L183.1,241 L183.6,241 L184.1,241 L184.6,241 L185.1,241 L185.6,241 L186.1,241 L186.6,241 L187.1,241 L187.6,241 L188.1,241 L188.6,241 L189.1,241 L189.6,241 L190.1,241 L190.6,241 L191.1,241 L191.6,241 L192.1,241 L192.6,241 L193.1,241 L193.6,241 L194.1,241 L194.6,241 L195.1,241 L195.6,241 L196.1,241 L196.6,241 L197.1,241 L197.6,241 L198.1,241 L198.6,241 L199.1,241 L199.6,241 L200.1,241 L200.6,241 L201.1,241 L201.6,241 L202.1,241 L202.6,241 L203.1,241 L203.6,241 L204.1,241 L204.6,241 L205.1,241 L205.6,241 L206.1,241 L206.6,241 L207.1,241 L207.6,241 L208.1,241 L208.6,241 L209.1,241 L209.6,241 L210.1,241 L210.6,241 L211.1,241 L211.6,241 L212.1,241 L212.6,241 L213.1,241 L213.6,241 L213.6,241Z" fill="#fca55a" opacity="0.9"/>
<path d="M18.1,241 L18.1,241 L18.6,241 L19.1,241 L19.6,241 L20.1,241 L20.6,241 L21.1,241 L21.6,241 L22.1,241 L22.6,241 L23.1,241 L23.6,241 L24.1,241 L24.6,241 L25.1,241 L25.6,241 L26.1,241 L26.6,241 L27.1,241 L27.6,241 L28.1,241 L28.6,241 L29.1,241 L29.6,241 L30.1,241 L30.6,241 L31.1,241 L31.6,241 L32.1,241 L32.6,241 L33.1,241 L33.6,241 L34.1,241 L34.6,241 L35.1,241 L35.6,241 L36.1,241 L36.6,241 L37.1,241 L37.6,241 L38.1,241 L38.6,241 L39.1,241 L39.6,241 L40.1,241 L40.6,241 L41.1,241 L41.6,241 L42.1,241 L42.6,241 L43.1,241 L43.6,241 L44.1,241 L44.6,241 L45.1,241 L45.6,241 L46.1,241 L46.6,241 L47.1,241 L47.6,241 L48.1,241 L48.6,241 L49.1,241 L49.6,241 L50.1,241 L50.6,241 L51.1,241 L51.6,241 L52.1,241 L52.6,241 L53.1,241 L53.6,241 L54.1,241 L54.6,241 L55.1,241 L55.6,241 L56.1,241 L56.6,241 L57.1,241 L57.6,241 L58.1,241 L58.6,241 L59.1,241 L59.6,241 L60.1,241 L60.6,241 L61.1,241 L61.6,241 L62.1,241 L62.6,241 L63.1,241 L63.6,241 L64.1,241 L64.6,241 L65.1,241 L65.6,241 L66.1,241 L66.6,241 L67.1,241 L67.6,241 L68.1,241 L68.6,241 L69.1,241 L69.6,241 L70.1,241 L70.6,241 L71.1,241 L71.6,241 L72.1,241 L72.6,241 L73.1,241 L73.6,241 L74.1,241 L74.6,241 L75.1,241 L75.6,241 L76.1,241 L76.6,241 L77.1,241 L77.6,241 L78.1,241 L78.6,241 L79.1,241 L79.6,241 L80.1,241 L80.6,241 L81.1,241 L81.6,241 L82.1,241 L82.6,241 L83.1,241 L83.6,241 L84.1,241 L84.6,241 L85.1,241 L85.6,241 L86.1,241 L86.6,241 L87.1,241 L87.6,241 L88.1,241 L88.6,241 L89.1,241 L89.6,241 L90.1,241 L90.6,241 L91.1,241 L91.6,241 L92.1,241 L92.6,241 L93.1,241 L93.6,241 L94.1,241 L94.6,241 L95.1,241 L95.6,241 L96.1,241 L96.6,241 L97.1,241 L97.6,241 L98.1,241 L98.6,241 L99.1,241 L99.6,241 L100.1,241 L100.6,241 L101.1,241 L101.6,241 L102.1,241 L102.6,241 L103.1,241 L103.6,241 L104.1,241 L104.6,241 L105.1,241 L105.6,241 L106.1,241 L106.6,241 L107.1,241 L107.6,241 L108.1,241 L108.6,241 L109.1,241 L109.6,241 L110.1,241 L110.6,241 L111.1,241 L111.6,241 L112.1,241 L112.6,241 L113.1,241 L113.6,241 L114.1,241 L114.6,241 L115.1,241 L115.6,241 L116.1,241 L116.6,241 L117.1,241 L117.6,241 L118.1,241 L118.6,241 L119.1,241 L119.6,241 L120.1,241 L120.6,241 L121.1,241 L121.6,241 L122.1,241 L122.6,241 L123.1,241 L123.6,241 L124.1,241 L124.6,241 L125.1,241 L125.6,241 L126.1,241 L126.6,241 L127.1,241 L127.6,241 L128.1,241 L128.6,241 L129.1,241 L129.6,241 L130.1,241 L130.6,241 L131.1,241 L131.6,241 L132.1,241 L132.6,241 L133.1,241 L133.6,241 L134.1,240.99 L134.6,240.99 L135.1,240.99 L135.6,240.99 L136.1,240.99 L136.6,240.98 L137.1,240.98 L137.6,240.97 L138.1,240.96 L138.6,240.95 L139.1,240.94 L139.6,240.92 L140.1,240.91 L140.6,240.88 L141.1,240.85 L141.6,240.82 L142.1,240.78 L142.6,240.73 L143.1,240.67 L143.6,240.6 L144.1,240.51 L144.6,240.41 L145.1,240.29 L145.6,240.15 L146.1,239.99 L146.6,239.8 L147.1,239.58 L147.6,239.33 L148.1,239.04 L148.6,238.71 L149.1,238.34 L149.6,237.91 L150.1,237.44 L150.6,236.9 L151.1,236.3 L151.6,235.64 L152.1,234.9 L152.6,234.09 L153.1,233.2 L153.6,232.24 L154.1,231.19 L154.6,230.06 L155.1,228.85 L155.6,227.56 L156.1,226.18 L156.6,224.73 L157.1,223.21 L157.6,221.62 L158.1,219.97 L158.6,218.27 L159.1,216.53 L159.6,214.76 L160.1,212.97 L160.6,211.17 L161.1,209.39 L161.6,207.62 L162.1,205.9 L162.6,204.23 L163.1,202.63 L163.6,201.11 L164.1,199.7 L164.6,198.41 L165.1,197.24 L165.6,196.22 L166.1,195.36 L166.6,194.66 L167.1,194.13 L167.6,193.78 L168.1,193.61 L168.6,193.64 L169.1,193.88 L169.6,194.35 L170.1,195.02 L170.6,195.9 L171.1,196.96 L171.6,198.2 L172.1,199.61 L172.6,201.15 L173.1,202.81 L173.6,204.58 L174.1,206.43 L174.6,208.34 L175.1,210.28 L175.6,212.25 L176.1,214.22 L176.6,216.17 L177.1,218.08 L177.6,219.95 L178.1,221.75 L178.6,223.48 L179.1,225.13 L179.6,226.7 L180.1,228.16 L180.6,229.54 L181.1,230.81 L181.6,231.98 L182.1,233.06 L182.6,234.04 L183.1,234.93 L183.6,235.73 L184.1,236.44 L184.6,237.08 L185.1,237.64 L185.6,238.14 L186.1,238.57 L186.6,238.95 L187.1,239.28 L187.6,239.56 L188.1,239.8 L188.6,240.01 L189.1,240.18 L189.6,240.33 L190.1,240.45 L190.6,240.55 L191.1,240.64 L191.6,240.71 L192.1,240.77 L192.6,240.81 L193.1,240.85 L193.6,240.88 L194.1,240.91 L194.6,240.93 L195.1,240.94 L195.6,240.96 L196.1,240.97 L196.6,240.97 L197.1,240.98 L197.6,240.98 L198.1,240.99 L198.6,240.99 L199.1,240.99 L199.6,241 L200.1,241 L200.6,241 L201.1,241 L201.6,241 L202.1,241 L202.6,241 L203.1,241 L203.6,241 L204.1,241 L204.6,241 L205.1,241 L205.6,241 L206.1,241 L206.6,241 L207.1,241 L207.6,241 L208.1,241 L208.6,241 L209.1,241 L209.6,241 L210.1,241 L210.6,241 L211.1,241 L211.6,241 L212.1,241 L212.6,241 L213.1,241 L213.6,241 L213.6,241Z" fill="#fca55a" opacity="0.9"/>
<path d="M18.1,241 L18.1,241 L18.6,241 L19.1,241 L19.6,241 L20.1,241 L20.6,241 L21.1,241 L21.6,241 L22.1,241 L22.6,241 L23.1,241 L23.6,241 L24.1,241 L24.6,241 L25.1,241 L25.6,241 L26.1,241 L26.6,241 L27.1,241 L27.6,241 L28.1,241 L28.6,241 L29.1,241 L29.6,241 L30.1,241 L30.6,241 L31.1,241 L31.6,241 L32.1,241 L32.6,241 L33.1,241 L33.6,241 L34.1,241 L34.6,241 L35.1,241 L35.6,241 L36.1,241 L36.6,241 L37.1,241 L37.6,241 L38.1,241 L38.6,241 L39.1,241 L39.6,241 L40.1,241 L40.6,241 L41.1,241 L41.6,241 L42.1,241 L42.6,241 L43.1,241 L43.6,241 L44.1,241 L44.6,241 L45.1,241 L45.6,241 L46.1,241 L46.6,241 L47.1,241 L47.6,241 L48.1,241 L48.6,241 L49.1,241 L49.6,241 L50.1,241 L50.6,241 L51.1,241 L51.6,241 L52.1,241 L52.6,241 L53.1,241 L53.6,241 L54.1,241 L54.6,241 L55.1,241 L55.6,241 L56.1,241 L56.6,241 L57.1,241 L57.6,241 L58.1,241 L58.6,241 L59.1,241 L59.6,241 L60.1,241 L60.6,241 L61.1,241 L61.6,241 L62.1,241 L62.6,241 L63.1,241 L63.6,241 L64.1,241 L64.6,241 L65.1,241 L65.6,241 L66.1,241 L66.6,241 L67.1,241 L67.6,241 L68.1,241 L68.6,241 L69.1,241 L69.6,241 L70.1,241 L70.6,241 L71.1,241 L71.6,241 L72.1,241 L72.6,241 L73.1,241 L73.6,241 L74.1,241 L74.6,241 L75.1,241 L75.6,241 L76.1,241 L76.6,241 L77.1,241 L77.6,241 L78.1,241 L78.6,241 L79.1,241 L79.6,241 L80.1,241 L80.6,241 L81.1,241 L81.6,241 L82.1,241 L82.6,241 L83.1,241 L83.6,241 L84.1,241 L84.6,241 L85.1,241 L85.6,241 L86.1,241 L86.6,241 L87.1,241 L87.6,241 L88.1,241 L88.6,241 L89.1,241 L89.6,241 L90.1,241 L90.6,241 L91.1,241 L91.6,241 L92.1,241 L92.6,241 L93.1,241 L93.6,241 L94.1,241 L94.6,241 L95.1,241 L95.6,241 L96.1,241 L96.6,241 L97.1,241 L97.6,241 L98.1,241 L98.6,241 L99.1,241 L99.6,241 L100.1,241 L100.6,241 L101.1,241 L101.6,241 L102.1,241 L102.6,241 L103.1,241 L103.6,241 L104.1,241 L104.6,241 L105.1,241 L105.6,241 L106.1,241 L106.6,241 L107.1,241 L107.6,241 L108.1,241 L108.6,241 L109.1,241 L109.6,241 L110.1,241 L110.6,241 L111.1,241 L111.6,241 L112.1,241 L112.6,241 L113.1,241 L113.6,241 L114.1,241 L114.6,241 L115.1,241 L115.6,241 L116.1,241 L116.6,241 L117.1,241 L117.6,241 L118.1,241 L118.6,241 L119.1,241 L119.6,241 L120.1,241 L120.6,241 L121.1,241 L121.6,241 L122.1,241 L122.6,241 L123.1,241 L123.6,241 L124.1,241 L124.6,241 L125.1,241 L125.6,241 L126.1,241 L126.6,241 L127.1,241 L127.6,241 L128.1,241 L128.6,241 L129.1,241 L129.6,241 L130.1,241 L130.6,241 L131.1,241 L131.6,241 L132.1,241 L132.6,241 L133.1,241 L133.6,241 L134.1,241 L134.6,241 L135.1,241 L135.6,241 L136.1,241 L136.6,241 L137.1,241 L137.6,241 L138.1,241 L138.6,241 L139.1,241 L139.6,241 L140.1,241 L140.6,241 L141.1,241 L141.6,241 L142.1,241 L142.6,241 L143.1,241 L143.6,241 L144.1,241 L144.6,241 L145.1,241 L145.6,241 L146.1,241 L146.6,241 L147.1,241 L147.6,241 L148.1,241 L148.6,241 L149.1,241 L149.6,241 L150.1,241 L150.6,241 L151.1,241 L151.6,241 L152.1,241 L152.6,241 L153.1,241 L153.6,241 L154.1,241 L154.6,241 L155.1,241 L155.6,241 L156.1,241 L156.6,241 L157.1,241 L157.6,241 L158.1,241 L158.6,241 L159.1,241 L159.6,241 L160.1,241 L160.6,241 L161.1,241 L161.6,241 L162.1,241 L162.6,241 L163.1,241 L163.6,241 L164.1,241 L164.6,241 L165.1,241 L165.6,241 L166.1,241 L166.6,241 L167.1,241 L167.6,241 L168.1,241 L168.6,241 L169.1,241 L169.6,241 L170.1,241 L170.6,241 L171.1,241 L171.6,241 L172.1,241 L172.6,241 L173.1,241 L173.6,241 L174.1,241 L174.6,241 L175.1,241 L175.6,241 L176.1,241 L176.6,241 L177.1,241 L177.6,241 L178.1,241 L178.6,241 L179.1,241 L179.6,241 L180.1,241 L180.6,241 L181.1,241 L181.6,241 L182.1,241 L182.6,241 L183.1,241 L183.6,241 L184.1,241 L184.6,241 L185.1,241 L185.6,241 L186.1,241 L186.6,241 L187.1,241 L187.6,241 L188.1,241 L188.6,241 L189.1,241 L189.6,241 L190.1,241 L190.6,241 L191.1,241 L191.6,241 L192.1,241 L192.6,241 L193.1,241 L193.6,241 L194.1,241 L194.6,241 L195.1,241 L195.6,241 L196.1,241 L196.6,241 L197.1,241 L197.6,241 L198.1,241 L198.6,241 L199.1,241 L199.6,241 L200.1,241 L200.6,241 L201.1,241 L201.6,241 L202.1,241 L202.6,241 L203.1,241 L203.6,241 L204.1,241 L204.6,241 L205.1,241 L205.6,241 L206.1,241 L206.6,241 L207.1,241 L207.6,241 L208.1,241 L208.6,241 L209.1,241 L209.6,241 L210.1,241 L210.6,241 L211.1,241 L211.6,241 L212.1,241 L212.6,241 L213.1,241 L213.6,241 L213.6,241Z" fill="#b77fc8" opacity="0.75"/>
<path d="M18.1,241 L18.1,241 L18.6,241 L19.1,240.99 L19.6,240.99 L20.1,240.99 L20.6,240.99 L21.1,240.99 L21.6,240.99 L22.1,240.99 L22.6,240.99 L23.1,240.99 L23.6,240.98 L24.1,240.98 L24.6,240.98 L25.1,240.98 L25.6,240.97 L26.1,240.97 L26.6,240.97 L27.1,240.96 L27.6,240.96 L28.1,240.96 L28.6,240.95 L29.1,240.95 L29.6,240.94 L30.1,240.93 L30.6,240.92 L31.1,240.92 L31.6,240.91 L32.1,240.9 L32.6,240.89 L33.1,240.88 L33.6,240.86 L34.1,240.85 L34.6,240.83 L35.1,240.82 L35.6,240.8 L36.1,240.78 L36.6,240.76 L37.1,240.74 L37.6,240.71 L38.1,240.69 L38.6,240.66 L39.1,240.63 L39.6,240.6 L40.1,240.56 L40.6,240.52 L41.1,240.48 L41.6,240.44 L42.1,240.39 L42.6,240.34 L43.1,240.29 L43.6,240.24 L44.1,240.18 L44.6,240.11 L45.1,240.05 L45.6,239.97 L46.1,239.9 L46.6,239.82 L47.1,239.74 L47.6,239.65 L48.1,239.55 L48.6,239.46 L49.1,239.35 L49.6,239.25 L50.1,239.13 L50.6,239.02 L51.1,238.89 L51.6,238.76 L52.1,238.63 L52.6,238.49 L53.1,238.35 L53.6,238.2 L54.1,238.04 L54.6,237.88 L55.1,237.72 L55.6,237.55 L56.1,237.37 L56.6,237.19 L57.1,237 L57.6,236.81 L58.1,236.62 L58.6,236.42 L59.1,236.22 L59.6,236.01 L60.1,235.8 L60.6,235.59 L61.1,235.37 L61.6,235.15 L62.1,234.93 L62.6,234.71 L63.1,234.49 L63.6,234.27 L64.1,234.04 L64.6,233.82 L65.1,233.59 L65.6,233.37 L66.1,233.15 L66.6,232.93 L67.1,232.71 L67.6,232.5 L68.1,232.29 L68.6,232.09 L69.1,231.88 L69.6,231.69 L70.1,231.5 L70.6,231.32 L71.1,231.14 L71.6,230.97 L72.1,230.81 L72.6,230.66 L73.1,230.52 L73.6,230.38 L74.1,230.26 L74.6,230.14 L75.1,230.04 L75.6,229.94 L76.1,229.86 L76.6,229.79 L77.1,229.73 L77.6,229.68 L78.1,229.64 L78.6,229.62 L79.1,229.6 L79.6,229.6 L80.1,229.61 L80.6,229.64 L81.1,229.68 L81.6,229.73 L82.1,229.8 L82.6,229.88 L83.1,229.97 L83.6,230.07 L84.1,230.19 L84.6,230.32 L85.1,230.46 L85.6,230.61 L86.1,230.77 L86.6,230.94 L87.1,231.12 L87.6,231.31 L88.1,231.5 L88.6,231.7 L89.1,231.91 L89.6,232.13 L90.1,232.35 L90.6,232.58 L91.1,232.8 L91.6,233.04 L92.1,233.27 L92.6,233.51 L93.1,233.75 L93.6,233.99 L94.1,234.23 L94.6,234.47 L95.1,234.71 L95.6,234.95 L96.1,235.18 L96.6,235.41 L97.1,235.64 L97.6,235.87 L98.1,236.09 L98.6,236.31 L99.1,236.53 L99.6,236.74 L100.1,236.94 L100.6,237.14 L101.1,237.34 L101.6,237.53 L102.1,237.71 L102.6,237.89 L103.1,238.06 L103.6,238.22 L104.1,238.38 L104.6,238.53 L105.1,238.68 L105.6,238.82 L106.1,238.96 L106.6,239.09 L107.1,239.21 L107.6,239.32 L108.1,239.44 L108.6,239.54 L109.1,239.64 L109.6,239.74 L110.1,239.83 L110.6,239.91 L111.1,239.99 L111.6,240.06 L112.1,240.13 L112.6,240.2 L113.1,240.26 L113.6,240.32 L114.1,240.37 L114.6,240.43 L115.1,240.47 L115.6,240.52 L116.1,240.56 L116.6,240.59 L117.1,240.63 L117.6,240.66 L118.1,240.69 L118.6,240.72 L119.1,240.75 L119.6,240.77 L120.1,240.79 L120.6,240.81 L121.1,240.83 L121.6,240.84 L122.1,240.86 L122.6,240.87 L123.1,240.89 L123.6,240.9 L124.1,240.91 L124.6,240.92 L125.1,240.93 L125.6,240.93 L126.1,240.94 L126.6,240.95 L127.1,240.95 L127.6,240.96 L128.1,240.96 L128.6,240.97 L129.1,240.97 L129.6,240.97 L130.1,240.98 L130.6,240.98 L131.1,240.98 L131.6,240.98 L132.1,240.99 L132.6,240.99 L133.1,240.99 L133.6,240.99 L134.1,240.99 L134.6,240.99 L135.1,240.99 L135.6,240.99 L136.1,241 L136.6,241 L137.1,241 L137.6,241 L138.1,241 L138.6,241 L139.1,241 L139.6,241 L140.1,241 L140.6,241 L141.1,241 L141.6,241 L142.1,241 L142.6,241 L143.1,241 L143.6,241 L144.1,241 L144.6,241 L145.1,241 L145.6,241 L146.1,241 L146.6,241 L147.1,241 L147.6,241 L148.1,241 L148.6,241 L149.1,241 L149.6,241 L150.1,241 L150.6,241 L151.1,241 L151.6,241 L152.1,241 L152.6,241 L153.1,241 L153.6,241 L154.1,241 L154.6,241 L155.1,241 L155.6,241 L156.1,241 L156.6,241 L157.1,241 L157.6,241 L158.1,241 L158.6,241 L159.1,241 L159.6,241 L160.1,241 L160.6,241 L161.1,241 L161.6,241 L162.1,241 L162.6,241 L163.1,241 L163.6,241 L164.1,241 L164.6,241 L165.1,241 L165.6,241 L166.1,241 L166.6,241 L167.1,241 L167.6,241 L168.1,241 L168.6,241 L169.1,241 L169.6,241 L170.1,241 L170.6,241 L171.1,241 L171.6,241 L172.1,241 L172.6,241 L173.1,241 L173.6,241 L174.1,241 L174.6,241 L175.1,241 L175.6,241 L176.1,241 L176.6,241 L177.1,241 L177.6,241 L178.1,241 L178.6,241 L179.1,241 L179.6,241 L180.1,241 L180.6,241 L181.1,241 L181.6,241 L182.1,241 L182.6,241 L183.1,241 L183.6,241 L184.1,241 L184.6,241 L185.1,241 L185.6,241 L186.1,241 L186.6,241 L187.1,241 L187.6,241 L188.1,241 L188.6,241 L189.1,241 L189.6,241 L190.1,241 L190.6,241 L191.1,241 L191.6,241 L192.1,241 L192.6,241 L193.1,241 L193.6,241 L194.1,241 L194.6,241 L195.1,241 L195.6,241 L196.1,241 L196.6,241 L197.1,241 L197.6,241 L198.1,241 L198.6,241 L199.1,241 L199.6,241 L200.1,241 L200.6,241 L201.1,241 L201.6,241 L202.1,241 L202.6,241 L203.1,241 L203.6,241 L204.1,241 L204.6,241 L205.1,241 L205.6,241 L206.1,241 L206.6,241 L207.1,241 L207.6,241 L208.1,241 L208.6,241 L209.1,241 L209.6,241 L210.1,241 L210.6,241 L211.1,241 L211.6,241 L212.1,241 L212.6,241 L213.1,241 L213.6,241 L213.6,241Z" fill="#b77fc8" opacity="0.75"/>
<path d="M18.1,241 L18.1,241 L18.6,241 L19.1,241 L19.6,241 L20.1,241 L20.6,241 L21.1,241 L21.6,241 L22.1,241 L22.6,241 L23.1,241 L23.6,241 L24.1,241 L24.6,241 L25.1,241 L25.6,241 L26.1,241 L26.6,241 L27.1,241 L27.6,241 L28.1,241 L28.6,241 L29.1,241 L29.6,241 L30.1,241 L30.6,241 L31.1,241 L31.6,241 L32.1,241 L32.6,241 L33.1,241 L33.6,241 L34.1,241 L34.6,241 L35.1,241 L35.6,241 L36.1,241 L36.6,241 L37.1,241 L37.6,241 L38.1,241 L38.6,241 L39.1,241 L39.6,241 L40.1,241 L40.6,241 L41.1,241 L41.6,241 L42.1,241 L42.6,241 L43.1,241 L43.6,241 L44.1,241 L44.6,241 L45.1,241 L45.6,241 L46.1,241 L46.6,241 L47.1,241 L47.6,241 L48.1,241 L48.6,241 L49.1,241 L49.6,241 L50.1,241 L50.6,241 L51.1,241 L51.6,241 L52.1,241 L52.6,241 L53.1,241 L53.6,241 L54.1,241 L54.6,241 L55.1,241 L55.6,241 L56.1,241 L56.6,241 L57.1,241 L57.6,241 L58.1,241 L58.6,241 L59.1,241 L59.6,241 L60.1,241 L60.6,241 L61.1,241 L61.6,241 L62.1,241 L62.6,241 L63.1,240.99 L63.6,240.99 L64.1,240.99 L64.6,240.99 L65.1,240.99 L65.6,240.99 L66.1,240.99 L66.6,240.99 L67.1,240.99 L67.6,240.99 L68.1,240.99 L68.6,240.99 L69.1,240.98 L69.6,240.98 L70.1,240.98 L70.6,240.98 L71.1,240.98 L71.6,240.98 L72.1,240.97 L72.6,240.97 L73.1,240.97 L73.6,240.97 L74.1,240.96 L74.6,240.96 L75.1,240.96 L75.6,240.95 L76.1,240.95 L76.6,240.95 L77.1,240.94 L77.6,240.94 L78.1,240.93 L78.6,240.92 L79.1,240.92 L79.6,240.91 L80.1,240.9 L80.6,240.9 L81.1,240.89 L81.6,240.88 L82.1,240.87 L82.6,240.86 L83.1,240.85 L83.6,240.84 L84.1,240.83 L84.6,240.81 L85.1,240.8 L85.6,240.79 L86.1,240.77 L86.6,240.75 L87.1,240.73 L87.6,240.72 L88.1,240.7 L88.6,240.67 L89.1,240.65 L89.6,240.63 L90.1,240.6 L90.6,240.58 L91.1,240.55 L91.6,240.52 L92.1,240.48 L92.6,240.45 L93.1,240.41 L93.6,240.38 L94.1,240.34 L94.6,240.3 L95.1,240.25 L95.6,240.2 L96.1,240.16 L96.6,240.1 L97.1,240.05 L97.6,239.99 L98.1,239.93 L98.6,239.87 L99.1,239.81 L99.6,239.74 L100.1,239.67 L100.6,239.59 L101.1,239.52 L101.6,239.43 L102.1,239.35 L102.6,239.26 L103.1,239.17 L103.6,239.07 L104.1,238.97 L104.6,238.87 L105.1,238.76 L105.6,238.65 L106.1,238.53 L106.6,238.41 L107.1,238.28 L107.6,238.15 L108.1,238.02 L108.6,237.88 L109.1,237.73 L109.6,237.58 L110.1,237.43 L110.6,237.27 L111.1,237.11 L111.6,236.94 L112.1,236.77 L112.6,236.59 L113.1,236.41 L113.6,236.22 L114.1,236.02 L114.6,235.83 L115.1,235.62 L115.6,235.42 L116.1,235.2 L116.6,234.99 L117.1,234.77 L117.6,234.54 L118.1,234.31 L118.6,234.07 L119.1,233.83 L119.6,233.59 L120.1,233.34 L120.6,233.09 L121.1,232.84 L121.6,232.58 L122.1,232.32 L122.6,232.05 L123.1,231.78 L123.6,231.51 L124.1,231.24 L124.6,230.96 L125.1,230.68 L125.6,230.4 L126.1,230.12 L126.6,229.84 L127.1,229.56 L127.6,229.27 L128.1,228.99 L128.6,228.7 L129.1,228.42 L129.6,228.13 L130.1,227.85 L130.6,227.57 L131.1,227.29 L131.6,227.01 L132.1,226.74 L132.6,226.46 L133.1,226.19 L133.6,225.93 L134.1,225.66 L134.6,225.4 L135.1,225.15 L135.6,224.9 L136.1,224.65 L136.6,224.42 L137.1,224.18 L137.6,223.96 L138.1,223.74 L138.6,223.52 L139.1,223.32 L139.6,223.12 L140.1,222.93 L140.6,222.74 L141.1,222.57 L141.6,222.4 L142.1,222.25 L142.6,222.1 L143.1,221.96 L143.6,221.83 L144.1,221.71 L144.6,221.6 L145.1,221.51 L145.6,221.42 L146.1,221.34 L146.6,221.27 L147.1,221.22 L147.6,221.17 L148.1,221.14 L148.6,221.11 L149.1,221.1 L149.6,221.1 L150.1,221.12 L150.6,221.15 L151.1,221.21 L151.6,221.28 L152.1,221.37 L152.6,221.48 L153.1,221.61 L153.6,221.75 L154.1,221.91 L154.6,222.09 L155.1,222.28 L155.6,222.49 L156.1,222.71 L156.6,222.95 L157.1,223.2 L157.6,223.47 L158.1,223.74 L158.6,224.03 L159.1,224.33 L159.6,224.64 L160.1,224.96 L160.6,225.28 L161.1,225.62 L161.6,225.96 L162.1,226.31 L162.6,226.66 L163.1,227.02 L163.6,227.38 L164.1,227.75 L164.6,228.12 L165.1,228.49 L165.6,228.86 L166.1,229.23 L166.6,229.6 L167.1,229.96 L167.6,230.33 L168.1,230.69 L168.6,231.06 L169.1,231.41 L169.6,231.77 L170.1,232.12 L170.6,232.46 L171.1,232.8 L171.6,233.13 L172.1,233.45 L172.6,233.77 L173.1,234.09 L173.6,234.39 L174.1,234.69 L174.6,234.98 L175.1,235.26 L175.6,235.53 L176.1,235.8 L176.6,236.05 L177.1,236.3 L177.6,236.54 L178.1,236.78 L178.6,237 L179.1,237.22 L179.6,237.42 L180.1,237.62 L180.6,237.81 L181.1,238 L181.6,238.17 L182.1,238.34 L182.6,238.5 L183.1,238.65 L183.6,238.8 L184.1,238.94 L184.6,239.07 L185.1,239.19 L185.6,239.31 L186.1,239.42 L186.6,239.53 L187.1,239.63 L187.6,239.72 L188.1,239.81 L188.6,239.9 L189.1,239.98 L189.6,240.05 L190.1,240.12 L190.6,240.18 L191.1,240.25 L191.6,240.3 L192.1,240.36 L192.6,240.41 L193.1,240.45 L193.6,240.5 L194.1,240.54 L194.6,240.57 L195.1,240.61 L195.6,240.64 L196.1,240.67 L196.6,240.7 L197.1,240.73 L197.6,240.75 L198.1,240.77 L198.6,240.79 L199.1,240.81 L199.6,240.83 L200.1,240.84 L200.6,240.86 L201.1,240.87 L201.6,240.88 L202.1,240.89 L202.6,240.9 L203.1,240.91 L203.6,240.92 L204.1,240.93 L204.6,240.94 L205.1,240.94 L205.6,240.95 L206.1,240.95 L206.6,240.96 L207.1,240.96 L207.6,240.97 L208.1,240.97 L208.6,240.97 L209.1,240.98 L209.6,240.98 L210.1,240.98 L210.6,240.98 L211.1,240.98 L211.6,240.99 L212.1,240.99 L212.6,240.99 L213.1,240.99 L213.6,240.99 L213.6,241Z" fill="#b77fc8" opacity="0.75"/>
<path d="M18.1,241 L18.6,241 L19.1,240.99 L19.6,240.99 L20.1,240.99 L20.6,240.99 L21.1,240.99 L21.6,240.99 L22.1,240.99 L22.6,240.99 L23.1,240.99 L23.6,240.98 L24.1,240.98 L24.6,240.98 L25.1,240.98 L25.6,240.97 L26.1,240.97 L26.6,240.97 L27.1,240.96 L27.6,240.96 L28.1,240.96 L28.6,240.95 L29.1,240.95 L29.6,240.94 L30.1,240.93 L30.6,240.92 L31.1,240.92 L31.6,240.91 L32.1,240.9 L32.6,240.89 L33.1,240.88 L33.6,240.86 L34.1,240.85 L34.6,240.83 L35.1,240.82 L35.6,240.8 L36.1,240.78 L36.6,240.76 L37.1,240.74 L37.6,240.71 L38.1,240.69 L38.6,240.66 L39.1,240.63 L39.6,240.6 L40.1,240.56 L40.6,240.52 L41.1,240.48 L41.6,240.44 L42.1,240.39 L42.6,240.34 L43.1,240.29 L43.6,240.24 L44.1,240.18 L44.6,240.11 L45.1,240.05 L45.6,239.97 L46.1,239.9 L46.6,239.82 L47.1,239.74 L47.6,239.65 L48.1,239.55 L48.6,239.46 L49.1,239.35 L49.6,239.25 L50.1,239.13 L50.6,239.02 L51.1,238.89 L51.6,238.76 L52.1,238.63 L52.6,238.49 L53.1,238.35 L53.6,238.2 L54.1,238.04 L54.6,237.88 L55.1,237.72 L55.6,237.55 L56.1,237.37 L56.6,237.19 L57.1,237 L57.6,236.81 L58.1,236.62 L58.6,236.42 L59.1,236.22 L59.6,236.01 L60.1,235.8 L60.6,235.59 L61.1,235.37 L61.6,235.15 L62.1,234.93 L62.6,234.71 L63.1,234.48 L63.6,234.26 L64.1,234.03 L64.6,233.81 L65.1,233.59 L65.6,233.36 L66.1,233.14 L66.6,232.92 L67.1,232.7 L67.6,232.49 L68.1,232.28 L68.6,232.07 L69.1,231.87 L69.6,231.67 L70.1,231.48 L70.6,231.3 L71.1,231.12 L71.6,230.95 L72.1,230.78 L72.6,230.62 L73.1,230.47 L73.6,230.33 L74.1,230.2 L74.6,230.07 L75.1,229.95 L75.6,229.84 L76.1,229.73 L76.6,229.63 L77.1,229.53 L77.6,229.44 L78.1,229.34 L78.6,229.23 L79.1,229.12 L79.6,229 L80.1,228.87 L80.6,228.72 L81.1,228.54 L81.6,228.33 L82.1,228.09 L82.6,227.81 L83.1,227.49 L83.6,227.11 L84.1,226.67 L84.6,226.18 L85.1,225.62 L85.6,224.99 L86.1,224.31 L86.6,223.56 L87.1,222.76 L87.6,221.92 L88.1,221.03 L88.6,220.13 L89.1,219.21 L89.6,218.31 L90.1,217.43 L90.6,216.59 L91.1,215.83 L91.6,215.15 L92.1,214.57 L92.6,214.11 L93.1,213.8 L93.6,213.63 L94.1,213.61 L94.6,213.75 L95.1,214.01 L95.6,214.36 L96.1,214.79 L96.6,215.3 L97.1,215.89 L97.6,216.55 L98.1,217.27 L98.6,218.04 L99.1,218.86 L99.6,219.72 L100.1,220.6 L100.6,221.5 L101.1,222.41 L101.6,223.32 L102.1,224.22 L102.6,225.1 L103.1,225.95 L103.6,226.78 L104.1,227.56 L104.6,228.3 L105.1,229 L105.6,229.64 L106.1,230.23 L106.6,230.77 L107.1,231.24 L107.6,231.67 L108.1,232.03 L108.6,232.35 L109.1,232.61 L109.6,232.82 L110.1,232.99 L110.6,233.11 L111.1,233.19 L111.6,233.23 L112.1,233.24 L112.6,233.22 L113.1,233.18 L113.6,233.11 L114.1,233.02 L114.6,232.91 L115.1,232.8 L115.6,232.67 L116.1,232.53 L116.6,232.38 L117.1,232.23 L117.6,232.07 L118.1,231.92 L118.6,231.76 L119.1,231.6 L119.6,231.44 L120.1,231.28 L120.6,231.12 L121.1,230.95 L121.6,230.79 L122.1,230.63 L122.6,230.46 L123.1,230.29 L123.6,230.12 L124.1,229.94 L124.6,229.76 L125.1,229.58 L125.6,229.39 L126.1,229.2 L126.6,229 L127.1,228.8 L127.6,228.59 L128.1,228.38 L128.6,228.16 L129.1,227.94 L129.6,227.71 L130.1,227.48 L130.6,227.25 L131.1,227.01 L131.6,226.77 L132.1,226.52 L132.6,226.28 L133.1,226.04 L133.6,225.79 L134.1,225.55 L134.6,225.3 L135.1,225.06 L135.6,224.82 L136.1,224.59 L136.6,224.35 L137.1,224.12 L137.6,223.9 L138.1,223.67 L138.6,223.45 L139.1,223.24 L139.6,223.03 L140.1,222.82 L140.6,222.62 L141.1,222.42 L141.6,222.22 L142.1,222.02 L142.6,221.82 L143.1,221.63 L143.6,221.43 L144.1,221.22 L144.6,221.01 L145.1,220.8 L145.6,220.57 L146.1,220.33 L146.6,220.08 L147.1,219.8 L147.6,219.5 L148.1,219.18 L148.6,218.83 L149.1,218.44 L149.6,218.02 L150.1,217.55 L150.6,217.05 L151.1,216.51 L151.6,215.92 L152.1,215.27 L152.6,214.57 L153.1,213.81 L153.6,212.99 L154.1,212.1 L154.6,211.15 L155.1,210.13 L155.6,209.04 L156.1,207.89 L156.6,206.68 L157.1,205.41 L157.6,204.09 L158.1,202.71 L158.6,201.3 L159.1,199.86 L159.6,198.4 L160.1,196.93 L160.6,195.46 L161.1,194 L161.6,192.58 L162.1,191.21 L162.6,189.89 L163.1,188.65 L163.6,187.5 L164.1,186.45 L164.6,185.52 L165.1,184.73 L165.6,184.08 L166.1,183.59 L166.6,183.25 L167.1,183.09 L167.6,183.11 L168.1,183.31 L168.6,183.7 L169.1,184.3 L169.6,185.11 L170.1,186.13 L170.6,187.35 L171.1,188.76 L171.6,190.33 L172.1,192.06 L172.6,193.92 L173.1,195.9 L173.6,197.97 L174.1,200.12 L174.6,202.31 L175.1,204.54 L175.6,206.78 L176.1,209.01 L176.6,211.22 L177.1,213.38 L177.6,215.49 L178.1,217.53 L178.6,219.48 L179.1,221.35 L179.6,223.12 L180.1,224.79 L180.6,226.35 L181.1,227.81 L181.6,229.16 L182.1,230.4 L182.6,231.54 L183.1,232.58 L183.6,233.53 L184.1,234.38 L184.6,235.15 L185.1,235.84 L185.6,236.45 L186.1,237 L186.6,237.48 L187.1,237.91 L187.6,238.28 L188.1,238.61 L188.6,238.9 L189.1,239.16 L189.6,239.38 L190.1,239.57 L190.6,239.74 L191.1,239.88 L191.6,240.01 L192.1,240.12 L192.6,240.22 L193.1,240.31 L193.6,240.38 L194.1,240.44 L194.6,240.5 L195.1,240.55 L195.6,240.6 L196.1,240.64 L196.6,240.67 L197.1,240.71 L197.6,240.73 L198.1,240.76 L198.6,240.78 L199.1,240.8 L199.6,240.82 L200.1,240.84 L200.6,240.85 L201.1,240.87 L201.6,240.88 L202.1,240.89 L202.6,240.9 L203.1,240.91 L203.6,240.92 L204.1,240.93 L204.6,240.94 L205.1,240.94 L205.6,240.95 L206.1,240.95 L206.6,240.96 L207.1,240.96 L207.6,240.97 L208.1,240.97 L208.6,240.97 L209.1,240.98 L209.6,240.98 L210.1,240.98 L210.6,240.98 L211.1,240.98 L211.6,240.99 L212.1,240.99 L212.6,240.99 L213.1,240.99 L213.6,240.99" fill="none" stroke="#dd4fa0" stroke-width="1.3"/>
<text x="19.4" y="224.1" font-size="12" font-weight="bold">FeN<tspan dy="3" font-size="8.8">5</tspan><tspan dy="-3">-SD</tspan><tspan dy="3" font-size="8.8">2</tspan></text>
<path d="M18.1,327.34 L18.65,318.54 L19.2,322.62 L19.75,319.91 L20.3,328.49 L20.85,327.77 L21.4,324.55 L21.95,323.91 L22.5,325.95 L23.05,321.1 L23.6,322.32 L24.15,321.74 L24.7,327.53 L25.25,324.64 L25.8,319.88 L26.35,325.8 L26.9,326.47 L27.45,329.61 L28,322.51 L28.55,326.02 L29.1,332.15 L29.65,323.35 L30.2,323.22 L30.75,326.41 L31.3,322.71 L31.85,324.55 L32.4,322.7 L32.95,321.67 L33.5,327.74 L34.05,323.16 L34.6,320.85 L35.15,323.47 L35.7,324 L36.25,325.61 L36.8,327.93 L37.35,330.98 L37.9,320.03 L38.45,323.6 L39,317.84 L39.55,325.28 L40.1,326.38 L40.65,322.07 L41.2,321.1 L41.75,320.8 L42.3,318.94 L42.85,326.7 L43.4,331.36 L43.95,320.2 L44.5,330.32 L45.05,323.91 L45.6,319.22 L46.15,326.34 L46.7,327.04 L47.25,325.67 L47.8,323.25 L48.35,330.29 L48.9,323.09 L49.45,326.43 L50,326.44 L50.55,320.7 L51.1,317.11 L51.65,317.48 L52.2,322.34 L52.75,325.06 L53.3,317.02 L53.85,320.86 L54.4,329.18 L54.95,316.58 L55.5,324.94 L56.05,324.38 L56.6,325.89 L57.15,317.1 L57.7,323.83 L58.25,316.95 L58.8,327.29 L59.35,318.48 L59.9,323.1 L60.45,318.14 L61,321.57 L61.55,314.49 L62.1,321.51 L62.65,322.48 L63.2,319.56 L63.75,326 L64.3,320.34 L64.85,321.71 L65.4,320.06 L65.95,325.65 L66.5,313.94 L67.05,315.13 L67.6,314.82 L68.15,318.15 L68.7,315.96 L69.25,318.15 L69.8,315.03 L70.35,310.5 L70.9,312.14 L71.45,314.07 L72,299.66 L72.55,317.9 L73.1,307.21 L73.65,307.74 L74.2,310.46 L74.75,307.18 L75.3,300.06 L75.85,306.23 L76.4,314.74 L76.95,312.41 L77.5,313.06 L78.05,302.37 L78.6,303.83 L79.15,310.8 L79.7,312.97 L80.25,303.93 L80.8,297.47 L81.35,291.13 L81.9,311.12 L82.45,292.57 L83,304.21 L83.55,306.69 L84.1,321.3 L84.65,301.4 L85.2,298.99 L85.75,302.27 L86.3,302.17 L86.85,307.26 L87.4,302.52 L87.95,292.34 L88.5,282.76 L89.05,298.71 L89.6,291.67 L90.15,305.76 L90.7,286.59 L91.25,296.9 L91.8,290.2 L92.35,289.05 L92.9,306.88 L93.45,296.37 L94,294 L94.55,300.63 L95.1,290.21 L95.65,293.46 L96.2,292.02 L96.75,310.48 L97.3,299.69 L97.85,302.29 L98.4,306.16 L98.95,298.25 L99.5,299.24 L100.05,290.6 L100.6,304.91 L101.15,304.37 L101.7,301.13 L102.25,311.75 L102.8,294.85 L103.35,308.7 L103.9,299.24 L104.45,301.49 L105,307.53 L105.55,316.7 L106.1,303.76 L106.65,305.51 L107.2,305.07 L107.75,322.35 L108.3,315.13 L108.85,314.96 L109.4,323.66 L109.95,314.91 L110.5,303.6 L111.05,311.77 L111.6,308.63 L112.15,324.52 L112.7,307.97 L113.25,316.43 L113.8,312.58 L114.35,313.03 L114.9,315.32 L115.45,314.63 L116,312.04 L116.55,309.44 L117.1,312.27 L117.65,310.41 L118.2,311.08 L118.75,316 L119.3,314.71 L119.85,317.73 L120.4,314.31 L120.95,324.64 L121.5,311.94 L122.05,310.63 L122.6,320.3 L123.15,311.97 L123.7,315.9 L124.25,319.95 L124.8,314.69 L125.35,313.36 L125.9,319.64 L126.45,316.43 L127,312.08 L127.55,308.63 L128.1,312.43 L128.65,305.88 L129.2,309.49 L129.75,308.08 L130.3,314.74 L130.85,316.81 L131.4,309.29 L131.95,309.99 L132.5,306.17 L133.05,304.25 L133.6,308.78 L134.15,313.64 L134.7,312.71 L135.25,312.93 L135.8,307.77 L136.35,293.67 L136.9,313.49 L137.45,315.29 L138,312.54 L138.55,312.06 L139.1,312.76 L139.65,321.64 L140.2,307.36 L140.75,314.29 L141.3,309.43 L141.85,308.24 L142.4,302.89 L142.95,301.16 L143.5,295.88 L144.05,306.16 L144.6,300.15 L145.15,294.14 L145.7,296.56 L146.25,293.45 L146.8,311.08 L147.35,298.82 L147.9,300.78 L148.45,291.77 L149,292.55 L149.55,306.01 L150.1,297.05 L150.65,299.69 L151.2,310.21 L151.75,311.54 L152.3,301.36 L152.85,299.32 L153.4,296.83 L153.95,292.26 L154.5,308.18 L155.05,283.34 L155.6,290.56 L156.15,275.2 L156.7,278.73 L157.25,290.46 L157.8,289.45 L158.35,286.94 L158.9,279.69 L159.45,274.57 L160,274.2 L160.55,273.78 L161.1,285.79 L161.65,287.8 L162.2,276.59 L162.75,265.46 L163.3,260.01 L163.85,271.32 L164.4,264.84 L164.95,247.41 L165.5,280.13 L166.05,265.36 L166.6,262.01 L167.15,256.44 L167.7,256.93 L168.25,276.06 L168.8,258 L169.35,269.76 L169.9,276.43 L170.45,289.67 L171,279.06 L171.55,274.75 L172.1,272.98 L172.65,286.75 L173.2,289.99 L173.75,279.9 L174.3,290.59 L174.85,287 L175.4,278.01 L175.95,285.31 L176.5,300.79 L177.05,307.18 L177.6,303.95 L178.15,300.28 L178.7,299.19 L179.25,308.7 L179.8,309.24 L180.35,300.15 L180.9,314.16 L181.45,308.54 L182,316.94 L182.55,317.46 L183.1,319.45 L183.65,322.01 L184.2,321.2 L184.75,314.28 L185.3,315.27 L185.85,324.74 L186.4,322.93 L186.95,315.04 L187.5,313.83 L188.05,325.93 L188.6,331.52 L189.15,326.26 L189.7,322.35 L190.25,324.53 L190.8,313.21 L191.35,320.03 L191.9,327.85 L192.45,327.37 L193,316.13 L193.55,328.74 L194.1,326.35 L194.65,327.92 L195.2,323.67 L195.75,324.48 L196.3,320.45 L196.85,325.72 L197.4,327.9 L197.95,321.03 L198.5,325.94 L199.05,322.58 L199.6,328.49 L200.15,328.26 L200.7,315.76 L201.25,326.29 L201.8,328.4 L202.35,322.51 L202.9,323.8 L203.45,324.04 L204,320.32 L204.55,324.17 L205.1,330.43 L205.65,326.4 L206.2,330.31 L206.75,328.33 L207.3,329.11 L207.85,325.07 L208.4,327.52 L208.95,332.16 L209.5,330.12 L210.05,325.82 L210.6,322 L211.15,321.16 L211.7,325.51 L212.25,326.26 L212.8,317.74 L213.35,325.44 L213.9,325.91" fill="none" stroke="#d4d4d4" stroke-width="0.75"/>
<path d="M18.1,324.6 L18.1,324.6 L18.6,324.6 L19.1,324.6 L19.6,324.6 L20.1,324.6 L20.6,324.6 L21.1,324.6 L21.6,324.6 L22.1,324.6 L22.6,324.6 L23.1,324.6 L23.6,324.6 L24.1,324.6 L24.6,324.6 L25.1,324.6 L25.6,324.6 L26.1,324.6 L26.6,324.6 L27.1,324.6 L27.6,324.6 L28.1,324.6 L28.6,324.6 L29.1,324.6 L29.6,324.6 L30.1,324.6 L30.6,324.6 L31.1,324.6 L31.6,324.6 L32.1,324.6 L32.6,324.6 L33.1,324.6 L33.6,324.6 L34.1,324.6 L34.6,324.6 L35.1,324.6 L35.6,324.6 L36.1,324.6 L36.6,324.6 L37.1,324.6 L37.6,324.6 L38.1,324.6 L38.6,324.6 L39.1,324.6 L39.6,324.6 L40.1,324.6 L40.6,324.6 L41.1,324.6 L41.6,324.6 L42.1,324.6 L42.6,324.6 L43.1,324.6 L43.6,324.6 L44.1,324.6 L44.6,324.6 L45.1,324.6 L45.6,324.6 L46.1,324.6 L46.6,324.6 L47.1,324.6 L47.6,324.6 L48.1,324.6 L48.6,324.6 L49.1,324.6 L49.6,324.6 L50.1,324.6 L50.6,324.6 L51.1,324.6 L51.6,324.6 L52.1,324.6 L52.6,324.6 L53.1,324.6 L53.6,324.6 L54.1,324.6 L54.6,324.6 L55.1,324.6 L55.6,324.6 L56.1,324.6 L56.6,324.6 L57.1,324.6 L57.6,324.6 L58.1,324.6 L58.6,324.6 L59.1,324.6 L59.6,324.6 L60.1,324.6 L60.6,324.6 L61.1,324.6 L61.6,324.6 L62.1,324.6 L62.6,324.6 L63.1,324.6 L63.6,324.6 L64.1,324.6 L64.6,324.6 L65.1,324.6 L65.6,324.6 L66.1,324.6 L66.6,324.6 L67.1,324.6 L67.6,324.6 L68.1,324.6 L68.6,324.6 L69.1,324.6 L69.6,324.6 L70.1,324.6 L70.6,324.6 L71.1,324.6 L71.6,324.6 L72.1,324.6 L72.6,324.6 L73.1,324.6 L73.6,324.6 L74.1,324.6 L74.6,324.6 L75.1,324.6 L75.6,324.6 L76.1,324.6 L76.6,324.6 L77.1,324.6 L77.6,324.6 L78.1,324.6 L78.6,324.6 L79.1,324.6 L79.6,324.6 L80.1,324.6 L80.6,324.6 L81.1,324.6 L81.6,324.6 L82.1,324.6 L82.6,324.6 L83.1,324.6 L83.6,324.6 L84.1,324.6 L84.6,324.6 L85.1,324.6 L85.6,324.6 L86.1,324.6 L86.6,324.6 L87.1,324.6 L87.6,324.6 L88.1,324.6 L88.6,324.6 L89.1,324.6 L89.6,324.6 L90.1,324.6 L90.6,324.6 L91.1,324.6 L91.6,324.6 L92.1,324.6 L92.6,324.6 L93.1,324.59 L93.6,324.59 L94.1,324.59 L94.6,324.59 L95.1,324.59 L95.6,324.58 L96.1,324.58 L96.6,324.57 L97.1,324.56 L97.6,324.56 L98.1,324.55 L98.6,324.54 L99.1,324.52 L99.6,324.51 L100.1,324.49 L100.6,324.47 L101.1,324.45 L101.6,324.42 L102.1,324.39 L102.6,324.36 L103.1,324.32 L103.6,324.28 L104.1,324.23 L104.6,324.18 L105.1,324.13 L105.6,324.07 L106.1,324.01 L106.6,323.94 L107.1,323.86 L107.6,323.79 L108.1,323.71 L108.6,323.63 L109.1,323.54 L109.6,323.46 L110.1,323.37 L110.6,323.28 L111.1,323.2 L111.6,323.11 L112.1,323.03 L112.6,322.96 L113.1,322.89 L113.6,322.82 L114.1,322.76 L114.6,322.71 L115.1,322.67 L115.6,322.64 L116.1,322.62 L116.6,322.6 L117.1,322.6 L117.6,322.61 L118.1,322.62 L118.6,322.65 L119.1,322.69 L119.6,322.73 L120.1,322.79 L120.6,322.85 L121.1,322.92 L121.6,322.99 L122.1,323.07 L122.6,323.15 L123.1,323.23 L123.6,323.32 L124.1,323.4 L124.6,323.49 L125.1,323.58 L125.6,323.66 L126.1,323.74 L126.6,323.82 L127.1,323.89 L127.6,323.96 L128.1,324.03 L128.6,324.09 L129.1,324.15 L129.6,324.2 L130.1,324.25 L130.6,324.3 L131.1,324.34 L131.6,324.37 L132.1,324.4 L132.6,324.43 L133.1,324.46 L133.6,324.48 L134.1,324.5 L134.6,324.52 L135.1,324.53 L135.6,324.54 L136.1,324.55 L136.6,324.56 L137.1,324.57 L137.6,324.57 L138.1,324.58 L138.6,324.58 L139.1,324.59 L139.6,324.59 L140.1,324.59 L140.6,324.59 L141.1,324.59 L141.6,324.6 L142.1,324.6 L142.6,324.6 L143.1,324.6 L143.6,324.6 L144.1,324.6 L144.6,324.6 L145.1,324.6 L145.6,324.6 L146.1,324.6 L146.6,324.6 L147.1,324.6 L147.6,324.6 L148.1,324.6 L148.6,324.6 L149.1,324.6 L149.6,324.6 L150.1,324.6 L150.6,324.6 L151.1,324.6 L151.6,324.6 L152.1,324.6 L152.6,324.6 L153.1,324.6 L153.6,324.6 L154.1,324.6 L154.6,324.6 L155.1,324.6 L155.6,324.6 L156.1,324.6 L156.6,324.6 L157.1,324.6 L157.6,324.6 L158.1,324.6 L158.6,324.6 L159.1,324.6 L159.6,324.6 L160.1,324.6 L160.6,324.6 L161.1,324.6 L161.6,324.6 L162.1,324.6 L162.6,324.6 L163.1,324.6 L163.6,324.6 L164.1,324.6 L164.6,324.6 L165.1,324.6 L165.6,324.6 L166.1,324.6 L166.6,324.6 L167.1,324.6 L167.6,324.6 L168.1,324.6 L168.6,324.6 L169.1,324.6 L169.6,324.6 L170.1,324.6 L170.6,324.6 L171.1,324.6 L171.6,324.6 L172.1,324.6 L172.6,324.6 L173.1,324.6 L173.6,324.6 L174.1,324.6 L174.6,324.6 L175.1,324.6 L175.6,324.6 L176.1,324.6 L176.6,324.6 L177.1,324.6 L177.6,324.6 L178.1,324.6 L178.6,324.6 L179.1,324.6 L179.6,324.6 L180.1,324.6 L180.6,324.6 L181.1,324.6 L181.6,324.6 L182.1,324.6 L182.6,324.6 L183.1,324.6 L183.6,324.6 L184.1,324.6 L184.6,324.6 L185.1,324.6 L185.6,324.6 L186.1,324.6 L186.6,324.6 L187.1,324.6 L187.6,324.6 L188.1,324.6 L188.6,324.6 L189.1,324.6 L189.6,324.6 L190.1,324.6 L190.6,324.6 L191.1,324.6 L191.6,324.6 L192.1,324.6 L192.6,324.6 L193.1,324.6 L193.6,324.6 L194.1,324.6 L194.6,324.6 L195.1,324.6 L195.6,324.6 L196.1,324.6 L196.6,324.6 L197.1,324.6 L197.6,324.6 L198.1,324.6 L198.6,324.6 L199.1,324.6 L199.6,324.6 L200.1,324.6 L200.6,324.6 L201.1,324.6 L201.6,324.6 L202.1,324.6 L202.6,324.6 L203.1,324.6 L203.6,324.6 L204.1,324.6 L204.6,324.6 L205.1,324.6 L205.6,324.6 L206.1,324.6 L206.6,324.6 L207.1,324.6 L207.6,324.6 L208.1,324.6 L208.6,324.6 L209.1,324.6 L209.6,324.6 L210.1,324.6 L210.6,324.6 L211.1,324.6 L211.6,324.6 L212.1,324.6 L212.6,324.6 L213.1,324.6 L213.6,324.6 L213.6,324.6Z" fill="#fca55a" opacity="0.9"/>
<path d="M18.1,324.6 L18.1,324.6 L18.6,324.6 L19.1,324.6 L19.6,324.6 L20.1,324.6 L20.6,324.6 L21.1,324.6 L21.6,324.6 L22.1,324.6 L22.6,324.6 L23.1,324.6 L23.6,324.6 L24.1,324.6 L24.6,324.6 L25.1,324.6 L25.6,324.6 L26.1,324.6 L26.6,324.6 L27.1,324.6 L27.6,324.6 L28.1,324.6 L28.6,324.6 L29.1,324.6 L29.6,324.6 L30.1,324.6 L30.6,324.6 L31.1,324.6 L31.6,324.6 L32.1,324.6 L32.6,324.6 L33.1,324.6 L33.6,324.6 L34.1,324.6 L34.6,324.6 L35.1,324.6 L35.6,324.6 L36.1,324.6 L36.6,324.6 L37.1,324.6 L37.6,324.6 L38.1,324.6 L38.6,324.6 L39.1,324.6 L39.6,324.6 L40.1,324.6 L40.6,324.6 L41.1,324.6 L41.6,324.6 L42.1,324.6 L42.6,324.6 L43.1,324.6 L43.6,324.6 L44.1,324.6 L44.6,324.6 L45.1,324.6 L45.6,324.6 L46.1,324.6 L46.6,324.6 L47.1,324.6 L47.6,324.6 L48.1,324.6 L48.6,324.6 L49.1,324.6 L49.6,324.6 L50.1,324.6 L50.6,324.6 L51.1,324.6 L51.6,324.6 L52.1,324.6 L52.6,324.6 L53.1,324.6 L53.6,324.6 L54.1,324.6 L54.6,324.6 L55.1,324.6 L55.6,324.6 L56.1,324.6 L56.6,324.6 L57.1,324.6 L57.6,324.6 L58.1,324.6 L58.6,324.6 L59.1,324.6 L59.6,324.6 L60.1,324.6 L60.6,324.6 L61.1,324.6 L61.6,324.6 L62.1,324.6 L62.6,324.6 L63.1,324.6 L63.6,324.6 L64.1,324.59 L64.6,324.59 L65.1,324.59 L65.6,324.59 L66.1,324.58 L66.6,324.58 L67.1,324.57 L67.6,324.56 L68.1,324.56 L68.6,324.55 L69.1,324.53 L69.6,324.52 L70.1,324.5 L70.6,324.47 L71.1,324.44 L71.6,324.41 L72.1,324.37 L72.6,324.32 L73.1,324.27 L73.6,324.2 L74.1,324.12 L74.6,324.03 L75.1,323.93 L75.6,323.81 L76.1,323.67 L76.6,323.52 L77.1,323.34 L77.6,323.14 L78.1,322.91 L78.6,322.66 L79.1,322.38 L79.6,322.07 L80.1,321.72 L80.6,321.35 L81.1,320.94 L81.6,320.49 L82.1,320.01 L82.6,319.5 L83.1,318.95 L83.6,318.37 L84.1,317.75 L84.6,317.11 L85.1,316.43 L85.6,315.74 L86.1,315.02 L86.6,314.29 L87.1,313.55 L87.6,312.81 L88.1,312.06 L88.6,311.32 L89.1,310.6 L89.6,309.9 L90.1,309.23 L90.6,308.59 L91.1,307.99 L91.6,307.44 L92.1,306.95 L92.6,306.52 L93.1,306.15 L93.6,305.85 L94.1,305.63 L94.6,305.48 L95.1,305.41 L95.6,305.41 L96.1,305.5 L96.6,305.66 L97.1,305.9 L97.6,306.22 L98.1,306.6 L98.6,307.04 L99.1,307.55 L99.6,308.11 L100.1,308.71 L100.6,309.36 L101.1,310.04 L101.6,310.74 L102.1,311.47 L102.6,312.21 L103.1,312.95 L103.6,313.7 L104.1,314.44 L104.6,315.17 L105.1,315.88 L105.6,316.57 L106.1,317.24 L106.6,317.88 L107.1,318.49 L107.6,319.06 L108.1,319.61 L108.6,320.11 L109.1,320.59 L109.6,321.02 L110.1,321.43 L110.6,321.8 L111.1,322.13 L111.6,322.44 L112.1,322.71 L112.6,322.96 L113.1,323.18 L113.6,323.38 L114.1,323.55 L114.6,323.7 L115.1,323.83 L115.6,323.95 L116.1,324.05 L116.6,324.14 L117.1,324.21 L117.6,324.28 L118.1,324.33 L118.6,324.38 L119.1,324.42 L119.6,324.45 L120.1,324.48 L120.6,324.5 L121.1,324.52 L121.6,324.53 L122.1,324.55 L122.6,324.56 L123.1,324.57 L123.6,324.57 L124.1,324.58 L124.6,324.58 L125.1,324.59 L125.6,324.59 L126.1,324.59 L126.6,324.59 L127.1,324.6 L127.6,324.6 L128.1,324.6 L128.6,324.6 L129.1,324.6 L129.6,324.6 L130.1,324.6 L130.6,324.6 L131.1,324.6 L131.6,324.6 L132.1,324.6 L132.6,324.6 L133.1,324.6 L133.6,324.6 L134.1,324.6 L134.6,324.6 L135.1,324.6 L135.6,324.6 L136.1,324.6 L136.6,324.6 L137.1,324.6 L137.6,324.6 L138.1,324.6 L138.6,324.6 L139.1,324.6 L139.6,324.6 L140.1,324.6 L140.6,324.6 L141.1,324.6 L141.6,324.6 L142.1,324.6 L142.6,324.6 L143.1,324.6 L143.6,324.6 L144.1,324.6 L144.6,324.6 L145.1,324.6 L145.6,324.6 L146.1,324.6 L146.6,324.6 L147.1,324.6 L147.6,324.6 L148.1,324.6 L148.6,324.6 L149.1,324.6 L149.6,324.6 L150.1,324.6 L150.6,324.6 L151.1,324.6 L151.6,324.6 L152.1,324.6 L152.6,324.6 L153.1,324.6 L153.6,324.6 L154.1,324.6 L154.6,324.6 L155.1,324.6 L155.6,324.6 L156.1,324.6 L156.6,324.6 L157.1,324.6 L157.6,324.6 L158.1,324.6 L158.6,324.6 L159.1,324.6 L159.6,324.6 L160.1,324.6 L160.6,324.6 L161.1,324.6 L161.6,324.6 L162.1,324.6 L162.6,324.6 L163.1,324.6 L163.6,324.6 L164.1,324.6 L164.6,324.6 L165.1,324.6 L165.6,324.6 L166.1,324.6 L166.6,324.6 L167.1,324.6 L167.6,324.6 L168.1,324.6 L168.6,324.6 L169.1,324.6 L169.6,324.6 L170.1,324.6 L170.6,324.6 L171.1,324.6 L171.6,324.6 L172.1,324.6 L172.6,324.6 L173.1,324.6 L173.6,324.6 L174.1,324.6 L174.6,324.6 L175.1,324.6 L175.6,324.6 L176.1,324.6 L176.6,324.6 L177.1,324.6 L177.6,324.6 L178.1,324.6 L178.6,324.6 L179.1,324.6 L179.6,324.6 L180.1,324.6 L180.6,324.6 L181.1,324.6 L181.6,324.6 L182.1,324.6 L182.6,324.6 L183.1,324.6 L183.6,324.6 L184.1,324.6 L184.6,324.6 L185.1,324.6 L185.6,324.6 L186.1,324.6 L186.6,324.6 L187.1,324.6 L187.6,324.6 L188.1,324.6 L188.6,324.6 L189.1,324.6 L189.6,324.6 L190.1,324.6 L190.6,324.6 L191.1,324.6 L191.6,324.6 L192.1,324.6 L192.6,324.6 L193.1,324.6 L193.6,324.6 L194.1,324.6 L194.6,324.6 L195.1,324.6 L195.6,324.6 L196.1,324.6 L196.6,324.6 L197.1,324.6 L197.6,324.6 L198.1,324.6 L198.6,324.6 L199.1,324.6 L199.6,324.6 L200.1,324.6 L200.6,324.6 L201.1,324.6 L201.6,324.6 L202.1,324.6 L202.6,324.6 L203.1,324.6 L203.6,324.6 L204.1,324.6 L204.6,324.6 L205.1,324.6 L205.6,324.6 L206.1,324.6 L206.6,324.6 L207.1,324.6 L207.6,324.6 L208.1,324.6 L208.6,324.6 L209.1,324.6 L209.6,324.6 L210.1,324.6 L210.6,324.6 L211.1,324.6 L211.6,324.6 L212.1,324.6 L212.6,324.6 L213.1,324.6 L213.6,324.6 L213.6,324.6Z" fill="#fca55a" opacity="0.9"/>
<path d="M18.1,324.6 L18.1,324.6 L18.6,324.6 L19.1,324.6 L19.6,324.6 L20.1,324.6 L20.6,324.6 L21.1,324.6 L21.6,324.6 L22.1,324.6 L22.6,324.6 L23.1,324.6 L23.6,324.6 L24.1,324.6 L24.6,324.6 L25.1,324.6 L25.6,324.6 L26.1,324.6 L26.6,324.6 L27.1,324.6 L27.6,324.6 L28.1,324.6 L28.6,324.6 L29.1,324.6 L29.6,324.6 L30.1,324.6 L30.6,324.6 L31.1,324.6 L31.6,324.6 L32.1,324.6 L32.6,324.6 L33.1,324.6 L33.6,324.6 L34.1,324.6 L34.6,324.6 L35.1,324.6 L35.6,324.6 L36.1,324.6 L36.6,324.6 L37.1,324.6 L37.6,324.6 L38.1,324.6 L38.6,324.6 L39.1,324.6 L39.6,324.6 L40.1,324.6 L40.6,324.6 L41.1,324.6 L41.6,324.6 L42.1,324.6 L42.6,324.6 L43.1,324.6 L43.6,324.6 L44.1,324.6 L44.6,324.6 L45.1,324.6 L45.6,324.6 L46.1,324.6 L46.6,324.6 L47.1,324.6 L47.6,324.6 L48.1,324.6 L48.6,324.6 L49.1,324.6 L49.6,324.6 L50.1,324.6 L50.6,324.6 L51.1,324.6 L51.6,324.6 L52.1,324.6 L52.6,324.6 L53.1,324.6 L53.6,324.6 L54.1,324.6 L54.6,324.6 L55.1,324.6 L55.6,324.6 L56.1,324.6 L56.6,324.6 L57.1,324.6 L57.6,324.6 L58.1,324.6 L58.6,324.6 L59.1,324.6 L59.6,324.6 L60.1,324.6 L60.6,324.6 L61.1,324.6 L61.6,324.6 L62.1,324.6 L62.6,324.6 L63.1,324.6 L63.6,324.6 L64.1,324.6 L64.6,324.6 L65.1,324.6 L65.6,324.6 L66.1,324.6 L66.6,324.6 L67.1,324.6 L67.6,324.6 L68.1,324.6 L68.6,324.6 L69.1,324.6 L69.6,324.6 L70.1,324.6 L70.6,324.6 L71.1,324.6 L71.6,324.6 L72.1,324.6 L72.6,324.6 L73.1,324.6 L73.6,324.6 L74.1,324.6 L74.6,324.6 L75.1,324.6 L75.6,324.6 L76.1,324.6 L76.6,324.6 L77.1,324.6 L77.6,324.6 L78.1,324.6 L78.6,324.6 L79.1,324.6 L79.6,324.6 L80.1,324.6 L80.6,324.6 L81.1,324.6 L81.6,324.6 L82.1,324.6 L82.6,324.6 L83.1,324.6 L83.6,324.6 L84.1,324.6 L84.6,324.6 L85.1,324.6 L85.6,324.6 L86.1,324.6 L86.6,324.6 L87.1,324.6 L87.6,324.6 L88.1,324.6 L88.6,324.6 L89.1,324.6 L89.6,324.6 L90.1,324.6 L90.6,324.6 L91.1,324.6 L91.6,324.6 L92.1,324.6 L92.6,324.6 L93.1,324.6 L93.6,324.6 L94.1,324.6 L94.6,324.6 L95.1,324.6 L95.6,324.6 L96.1,324.6 L96.6,324.6 L97.1,324.6 L97.6,324.6 L98.1,324.6 L98.6,324.6 L99.1,324.6 L99.6,324.6 L100.1,324.6 L100.6,324.6 L101.1,324.6 L101.6,324.6 L102.1,324.6 L102.6,324.6 L103.1,324.6 L103.6,324.6 L104.1,324.6 L104.6,324.6 L105.1,324.6 L105.6,324.6 L106.1,324.6 L106.6,324.6 L107.1,324.6 L107.6,324.6 L108.1,324.6 L108.6,324.6 L109.1,324.6 L109.6,324.6 L110.1,324.6 L110.6,324.6 L111.1,324.6 L111.6,324.6 L112.1,324.6 L112.6,324.6 L113.1,324.6 L113.6,324.6 L114.1,324.6 L114.6,324.6 L115.1,324.6 L115.6,324.6 L116.1,324.6 L116.6,324.6 L117.1,324.6 L117.6,324.6 L118.1,324.6 L118.6,324.6 L119.1,324.6 L119.6,324.6 L120.1,324.6 L120.6,324.6 L121.1,324.6 L121.6,324.6 L122.1,324.6 L122.6,324.6 L123.1,324.6 L123.6,324.6 L124.1,324.6 L124.6,324.6 L125.1,324.6 L125.6,324.6 L126.1,324.6 L126.6,324.6 L127.1,324.6 L127.6,324.6 L128.1,324.6 L128.6,324.6 L129.1,324.6 L129.6,324.6 L130.1,324.6 L130.6,324.6 L131.1,324.6 L131.6,324.6 L132.1,324.6 L132.6,324.6 L133.1,324.6 L133.6,324.6 L134.1,324.6 L134.6,324.6 L135.1,324.6 L135.6,324.6 L136.1,324.6 L136.6,324.59 L137.1,324.59 L137.6,324.59 L138.1,324.59 L138.6,324.58 L139.1,324.58 L139.6,324.57 L140.1,324.56 L140.6,324.55 L141.1,324.54 L141.6,324.52 L142.1,324.5 L142.6,324.47 L143.1,324.44 L143.6,324.4 L144.1,324.34 L144.6,324.28 L145.1,324.2 L145.6,324.11 L146.1,323.99 L146.6,323.85 L147.1,323.69 L147.6,323.49 L148.1,323.26 L148.6,322.99 L149.1,322.68 L149.6,322.31 L150.1,321.88 L150.6,321.39 L151.1,320.83 L151.6,320.2 L152.1,319.48 L152.6,318.68 L153.1,317.78 L153.6,316.78 L154.1,315.68 L154.6,314.48 L155.1,313.16 L155.6,311.74 L156.1,310.21 L156.6,308.58 L157.1,306.84 L157.6,305.02 L158.1,303.11 L158.6,301.12 L159.1,299.08 L159.6,296.99 L160.1,294.88 L160.6,292.76 L161.1,290.65 L161.6,288.57 L162.1,286.56 L162.6,284.62 L163.1,282.78 L163.6,281.08 L164.1,279.52 L164.6,278.13 L165.1,276.92 L165.6,275.92 L166.1,275.14 L166.6,274.59 L167.1,274.28 L167.6,274.2 L168.1,274.34 L168.6,274.66 L169.1,275.17 L169.6,275.87 L170.1,276.73 L170.6,277.76 L171.1,278.94 L171.6,280.26 L172.1,281.71 L172.6,283.26 L173.1,284.91 L173.6,286.64 L174.1,288.44 L174.6,290.28 L175.1,292.15 L175.6,294.03 L176.1,295.92 L176.6,297.79 L177.1,299.63 L177.6,301.44 L178.1,303.19 L178.6,304.89 L179.1,306.52 L179.6,308.09 L180.1,309.57 L180.6,310.97 L181.1,312.29 L181.6,313.52 L182.1,314.67 L182.6,315.73 L183.1,316.71 L183.6,317.61 L184.1,318.43 L184.6,319.17 L185.1,319.84 L185.6,320.45 L186.1,320.99 L186.6,321.47 L187.1,321.9 L187.6,322.28 L188.1,322.61 L188.6,322.91 L189.1,323.16 L189.6,323.38 L190.1,323.57 L190.6,323.74 L191.1,323.88 L191.6,324 L192.1,324.1 L192.6,324.19 L193.1,324.26 L193.6,324.32 L194.1,324.37 L194.6,324.41 L195.1,324.45 L195.6,324.48 L196.1,324.5 L196.6,324.52 L197.1,324.54 L197.6,324.55 L198.1,324.56 L198.6,324.57 L199.1,324.58 L199.6,324.58 L200.1,324.58 L200.6,324.59 L201.1,324.59 L201.6,324.59 L202.1,324.59 L202.6,324.6 L203.1,324.6 L203.6,324.6 L204.1,324.6 L204.6,324.6 L205.1,324.6 L205.6,324.6 L206.1,324.6 L206.6,324.6 L207.1,324.6 L207.6,324.6 L208.1,324.6 L208.6,324.6 L209.1,324.6 L209.6,324.6 L210.1,324.6 L210.6,324.6 L211.1,324.6 L211.6,324.6 L212.1,324.6 L212.6,324.6 L213.1,324.6 L213.6,324.6 L213.6,324.6Z" fill="#fca55a" opacity="0.9"/>
<path d="M18.1,324.6 L18.1,324.6 L18.6,324.6 L19.1,324.6 L19.6,324.6 L20.1,324.6 L20.6,324.6 L21.1,324.6 L21.6,324.6 L22.1,324.6 L22.6,324.6 L23.1,324.6 L23.6,324.6 L24.1,324.6 L24.6,324.6 L25.1,324.6 L25.6,324.6 L26.1,324.6 L26.6,324.6 L27.1,324.6 L27.6,324.6 L28.1,324.6 L28.6,324.6 L29.1,324.6 L29.6,324.6 L30.1,324.6 L30.6,324.6 L31.1,324.6 L31.6,324.6 L32.1,324.6 L32.6,324.6 L33.1,324.6 L33.6,324.6 L34.1,324.6 L34.6,324.6 L35.1,324.6 L35.6,324.6 L36.1,324.6 L36.6,324.6 L37.1,324.6 L37.6,324.6 L38.1,324.6 L38.6,324.6 L39.1,324.6 L39.6,324.6 L40.1,324.6 L40.6,324.6 L41.1,324.6 L41.6,324.6 L42.1,324.6 L42.6,324.6 L43.1,324.6 L43.6,324.6 L44.1,324.6 L44.6,324.6 L45.1,324.6 L45.6,324.6 L46.1,324.6 L46.6,324.6 L47.1,324.6 L47.6,324.6 L48.1,324.6 L48.6,324.6 L49.1,324.6 L49.6,324.6 L50.1,324.6 L50.6,324.6 L51.1,324.6 L51.6,324.6 L52.1,324.6 L52.6,324.6 L53.1,324.6 L53.6,324.6 L54.1,324.6 L54.6,324.6 L55.1,324.6 L55.6,324.6 L56.1,324.6 L56.6,324.6 L57.1,324.6 L57.6,324.6 L58.1,324.6 L58.6,324.6 L59.1,324.6 L59.6,324.6 L60.1,324.6 L60.6,324.6 L61.1,324.6 L61.6,324.6 L62.1,324.6 L62.6,324.6 L63.1,324.6 L63.6,324.6 L64.1,324.6 L64.6,324.6 L65.1,324.6 L65.6,324.6 L66.1,324.6 L66.6,324.6 L67.1,324.6 L67.6,324.6 L68.1,324.6 L68.6,324.59 L69.1,324.59 L69.6,324.59 L70.1,324.59 L70.6,324.59 L71.1,324.59 L71.6,324.59 L72.1,324.59 L72.6,324.59 L73.1,324.58 L73.6,324.58 L74.1,324.58 L74.6,324.58 L75.1,324.57 L75.6,324.57 L76.1,324.57 L76.6,324.56 L77.1,324.56 L77.6,324.55 L78.1,324.55 L78.6,324.54 L79.1,324.54 L79.6,324.53 L80.1,324.52 L80.6,324.51 L81.1,324.51 L81.6,324.5 L82.1,324.48 L82.6,324.47 L83.1,324.46 L83.6,324.45 L84.1,324.43 L84.6,324.42 L85.1,324.4 L85.6,324.38 L86.1,324.36 L86.6,324.34 L87.1,324.32 L87.6,324.29 L88.1,324.26 L88.6,324.24 L89.1,324.21 L89.6,324.17 L90.1,324.14 L90.6,324.1 L91.1,324.07 L91.6,324.03 L92.1,323.98 L92.6,323.94 L93.1,323.89 L93.6,323.84 L94.1,323.79 L94.6,323.73 L95.1,323.67 L95.6,323.61 L96.1,323.55 L96.6,323.49 L97.1,323.42 L97.6,323.35 L98.1,323.28 L98.6,323.2 L99.1,323.12 L99.6,323.04 L100.1,322.96 L100.6,322.88 L101.1,322.79 L101.6,322.7 L102.1,322.61 L102.6,322.52 L103.1,322.43 L103.6,322.33 L104.1,322.24 L104.6,322.14 L105.1,322.05 L105.6,321.95 L106.1,321.85 L106.6,321.75 L107.1,321.66 L107.6,321.56 L108.1,321.46 L108.6,321.37 L109.1,321.28 L109.6,321.19 L110.1,321.1 L110.6,321.01 L111.1,320.92 L111.6,320.84 L112.1,320.76 L112.6,320.69 L113.1,320.61 L113.6,320.55 L114.1,320.48 L114.6,320.42 L115.1,320.37 L115.6,320.32 L116.1,320.27 L116.6,320.23 L117.1,320.2 L117.6,320.17 L118.1,320.14 L118.6,320.12 L119.1,320.11 L119.6,320.1 L120.1,320.1 L120.6,320.1 L121.1,320.11 L121.6,320.13 L122.1,320.15 L122.6,320.18 L123.1,320.21 L123.6,320.25 L124.1,320.29 L124.6,320.34 L125.1,320.39 L125.6,320.45 L126.1,320.51 L126.6,320.57 L127.1,320.64 L127.6,320.72 L128.1,320.79 L128.6,320.87 L129.1,320.96 L129.6,321.04 L130.1,321.13 L130.6,321.22 L131.1,321.31 L131.6,321.41 L132.1,321.5 L132.6,321.6 L133.1,321.7 L133.6,321.79 L134.1,321.89 L134.6,321.99 L135.1,322.08 L135.6,322.18 L136.1,322.28 L136.6,322.37 L137.1,322.47 L137.6,322.56 L138.1,322.65 L138.6,322.74 L139.1,322.83 L139.6,322.91 L140.1,322.99 L140.6,323.08 L141.1,323.15 L141.6,323.23 L142.1,323.31 L142.6,323.38 L143.1,323.45 L143.6,323.51 L144.1,323.58 L144.6,323.64 L145.1,323.7 L145.6,323.75 L146.1,323.81 L146.6,323.86 L147.1,323.91 L147.6,323.96 L148.1,324 L148.6,324.04 L149.1,324.08 L149.6,324.12 L150.1,324.15 L150.6,324.19 L151.1,324.22 L151.6,324.25 L152.1,324.28 L152.6,324.3 L153.1,324.32 L153.6,324.35 L154.1,324.37 L154.6,324.39 L155.1,324.41 L155.6,324.42 L156.1,324.44 L156.6,324.45 L157.1,324.47 L157.6,324.48 L158.1,324.49 L158.6,324.5 L159.1,324.51 L159.6,324.52 L160.1,324.53 L160.6,324.53 L161.1,324.54 L161.6,324.55 L162.1,324.55 L162.6,324.56 L163.1,324.56 L163.6,324.56 L164.1,324.57 L164.6,324.57 L165.1,324.57 L165.6,324.58 L166.1,324.58 L166.6,324.58 L167.1,324.58 L167.6,324.59 L168.1,324.59 L168.6,324.59 L169.1,324.59 L169.6,324.59 L170.1,324.59 L170.6,324.59 L171.1,324.59 L171.6,324.59 L172.1,324.6 L172.6,324.6 L173.1,324.6 L173.6,324.6 L174.1,324.6 L174.6,324.6 L175.1,324.6 L175.6,324.6 L176.1,324.6 L176.6,324.6 L177.1,324.6 L177.6,324.6 L178.1,324.6 L178.6,324.6 L179.1,324.6 L179.6,324.6 L180.1,324.6 L180.6,324.6 L181.1,324.6 L181.6,324.6 L182.1,324.6 L182.6,324.6 L183.1,324.6 L183.6,324.6 L184.1,324.6 L184.6,324.6 L185.1,324.6 L185.6,324.6 L186.1,324.6 L186.6,324.6 L187.1,324.6 L187.6,324.6 L188.1,324.6 L188.6,324.6 L189.1,324.6 L189.6,324.6 L190.1,324.6 L190.6,324.6 L191.1,324.6 L191.6,324.6 L192.1,324.6 L192.6,324.6 L193.1,324.6 L193.6,324.6 L194.1,324.6 L194.6,324.6 L195.1,324.6 L195.6,324.6 L196.1,324.6 L196.6,324.6 L197.1,324.6 L197.6,324.6 L198.1,324.6 L198.6,324.6 L199.1,324.6 L199.6,324.6 L200.1,324.6 L200.6,324.6 L201.1,324.6 L201.6,324.6 L202.1,324.6 L202.6,324.6 L203.1,324.6 L203.6,324.6 L204.1,324.6 L204.6,324.6 L205.1,324.6 L205.6,324.6 L206.1,324.6 L206.6,324.6 L207.1,324.6 L207.6,324.6 L208.1,324.6 L208.6,324.6 L209.1,324.6 L209.6,324.6 L210.1,324.6 L210.6,324.6 L211.1,324.6 L211.6,324.6 L212.1,324.6 L212.6,324.6 L213.1,324.6 L213.6,324.6 L213.6,324.6Z" fill="#b77fc8" opacity="0.75"/>
<path d="M18.1,324.6 L18.1,324.6 L18.6,324.6 L19.1,324.6 L19.6,324.6 L20.1,324.6 L20.6,324.6 L21.1,324.6 L21.6,324.6 L22.1,324.6 L22.6,324.6 L23.1,324.6 L23.6,324.6 L24.1,324.6 L24.6,324.6 L25.1,324.6 L25.6,324.6 L26.1,324.6 L26.6,324.6 L27.1,324.6 L27.6,324.6 L28.1,324.6 L28.6,324.6 L29.1,324.6 L29.6,324.6 L30.1,324.6 L30.6,324.6 L31.1,324.6 L31.6,324.6 L32.1,324.6 L32.6,324.6 L33.1,324.6 L33.6,324.6 L34.1,324.6 L34.6,324.6 L35.1,324.6 L35.6,324.6 L36.1,324.6 L36.6,324.6 L37.1,324.6 L37.6,324.6 L38.1,324.6 L38.6,324.6 L39.1,324.59 L39.6,324.59 L40.1,324.59 L40.6,324.59 L41.1,324.59 L41.6,324.59 L42.1,324.58 L42.6,324.58 L43.1,324.58 L43.6,324.57 L44.1,324.57 L44.6,324.56 L45.1,324.55 L45.6,324.54 L46.1,324.53 L46.6,324.52 L47.1,324.51 L47.6,324.49 L48.1,324.48 L48.6,324.46 L49.1,324.43 L49.6,324.41 L50.1,324.38 L50.6,324.35 L51.1,324.31 L51.6,324.26 L52.1,324.22 L52.6,324.16 L53.1,324.1 L53.6,324.04 L54.1,323.96 L54.6,323.88 L55.1,323.79 L55.6,323.69 L56.1,323.57 L56.6,323.45 L57.1,323.32 L57.6,323.18 L58.1,323.02 L58.6,322.85 L59.1,322.66 L59.6,322.46 L60.1,322.25 L60.6,322.02 L61.1,321.77 L61.6,321.51 L62.1,321.24 L62.6,320.95 L63.1,320.64 L63.6,320.31 L64.1,319.97 L64.6,319.62 L65.1,319.25 L65.6,318.87 L66.1,318.47 L66.6,318.07 L67.1,317.65 L67.6,317.23 L68.1,316.8 L68.6,316.36 L69.1,315.92 L69.6,315.47 L70.1,315.03 L70.6,314.59 L71.1,314.16 L71.6,313.73 L72.1,313.31 L72.6,312.91 L73.1,312.51 L73.6,312.14 L74.1,311.78 L74.6,311.45 L75.1,311.14 L75.6,310.86 L76.1,310.6 L76.6,310.37 L77.1,310.18 L77.6,310.01 L78.1,309.88 L78.6,309.79 L79.1,309.73 L79.6,309.7 L80.1,309.71 L80.6,309.76 L81.1,309.84 L81.6,309.96 L82.1,310.11 L82.6,310.29 L83.1,310.51 L83.6,310.75 L84.1,311.02 L84.6,311.32 L85.1,311.65 L85.6,312 L86.1,312.36 L86.6,312.75 L87.1,313.15 L87.6,313.56 L88.1,313.99 L88.6,314.42 L89.1,314.86 L89.6,315.3 L90.1,315.74 L90.6,316.18 L91.1,316.62 L91.6,317.06 L92.1,317.48 L92.6,317.9 L93.1,318.31 L93.6,318.71 L94.1,319.1 L94.6,319.47 L95.1,319.83 L95.6,320.18 L96.1,320.51 L96.6,320.82 L97.1,321.12 L97.6,321.41 L98.1,321.67 L98.6,321.92 L99.1,322.16 L99.6,322.38 L100.1,322.58 L100.6,322.77 L101.1,322.95 L101.6,323.11 L102.1,323.26 L102.6,323.4 L103.1,323.53 L103.6,323.64 L104.1,323.75 L104.6,323.84 L105.1,323.93 L105.6,324.01 L106.1,324.08 L106.6,324.14 L107.1,324.2 L107.6,324.25 L108.1,324.29 L108.6,324.33 L109.1,324.37 L109.6,324.4 L110.1,324.42 L110.6,324.45 L111.1,324.47 L111.6,324.49 L112.1,324.5 L112.6,324.52 L113.1,324.53 L113.6,324.54 L114.1,324.55 L114.6,324.56 L115.1,324.56 L115.6,324.57 L116.1,324.57 L116.6,324.58 L117.1,324.58 L117.6,324.59 L118.1,324.59 L118.6,324.59 L119.1,324.59 L119.6,324.59 L120.1,324.59 L120.6,324.6 L121.1,324.6 L121.6,324.6 L122.1,324.6 L122.6,324.6 L123.1,324.6 L123.6,324.6 L124.1,324.6 L124.6,324.6 L125.1,324.6 L125.6,324.6 L126.1,324.6 L126.6,324.6 L127.1,324.6 L127.6,324.6 L128.1,324.6 L128.6,324.6 L129.1,324.6 L129.6,324.6 L130.1,324.6 L130.6,324.6 L131.1,324.6 L131.6,324.6 L132.1,324.6 L132.6,324.6 L133.1,324.6 L133.6,324.6 L134.1,324.6 L134.6,324.6 L135.1,324.6 L135.6,324.6 L136.1,324.6 L136.6,324.6 L137.1,324.6 L137.6,324.6 L138.1,324.6 L138.6,324.6 L139.1,324.6 L139.6,324.6 L140.1,324.6 L140.6,324.6 L141.1,324.6 L141.6,324.6 L142.1,324.6 L142.6,324.6 L143.1,324.6 L143.6,324.6 L144.1,324.6 L144.6,324.6 L145.1,324.6 L145.6,324.6 L146.1,324.6 L146.6,324.6 L147.1,324.6 L147.6,324.6 L148.1,324.6 L148.6,324.6 L149.1,324.6 L149.6,324.6 L150.1,324.6 L150.6,324.6 L151.1,324.6 L151.6,324.6 L152.1,324.6 L152.6,324.6 L153.1,324.6 L153.6,324.6 L154.1,324.6 L154.6,324.6 L155.1,324.6 L155.6,324.6 L156.1,324.6 L156.6,324.6 L157.1,324.6 L157.6,324.6 L158.1,324.6 L158.6,324.6 L159.1,324.6 L159.6,324.6 L160.1,324.6 L160.6,324.6 L161.1,324.6 L161.6,324.6 L162.1,324.6 L162.6,324.6 L163.1,324.6 L163.6,324.6 L164.1,324.6 L164.6,324.6 L165.1,324.6 L165.6,324.6 L166.1,324.6 L166.6,324.6 L167.1,324.6 L167.6,324.6 L168.1,324.6 L168.6,324.6 L169.1,324.6 L169.6,324.6 L170.1,324.6 L170.6,324.6 L171.1,324.6 L171.6,324.6 L172.1,324.6 L172.6,324.6 L173.1,324.6 L173.6,324.6 L174.1,324.6 L174.6,324.6 L175.1,324.6 L175.6,324.6 L176.1,324.6 L176.6,324.6 L177.1,324.6 L177.6,324.6 L178.1,324.6 L178.6,324.6 L179.1,324.6 L179.6,324.6 L180.1,324.6 L180.6,324.6 L181.1,324.6 L181.6,324.6 L182.1,324.6 L182.6,324.6 L183.1,324.6 L183.6,324.6 L184.1,324.6 L184.6,324.6 L185.1,324.6 L185.6,324.6 L186.1,324.6 L186.6,324.6 L187.1,324.6 L187.6,324.6 L188.1,324.6 L188.6,324.6 L189.1,324.6 L189.6,324.6 L190.1,324.6 L190.6,324.6 L191.1,324.6 L191.6,324.6 L192.1,324.6 L192.6,324.6 L193.1,324.6 L193.6,324.6 L194.1,324.6 L194.6,324.6 L195.1,324.6 L195.6,324.6 L196.1,324.6 L196.6,324.6 L197.1,324.6 L197.6,324.6 L198.1,324.6 L198.6,324.6 L199.1,324.6 L199.6,324.6 L200.1,324.6 L200.6,324.6 L201.1,324.6 L201.6,324.6 L202.1,324.6 L202.6,324.6 L203.1,324.6 L203.6,324.6 L204.1,324.6 L204.6,324.6 L205.1,324.6 L205.6,324.6 L206.1,324.6 L206.6,324.6 L207.1,324.6 L207.6,324.6 L208.1,324.6 L208.6,324.6 L209.1,324.6 L209.6,324.6 L210.1,324.6 L210.6,324.6 L211.1,324.6 L211.6,324.6 L212.1,324.6 L212.6,324.6 L213.1,324.6 L213.6,324.6 L213.6,324.6Z" fill="#b77fc8" opacity="0.75"/>
<path d="M18.1,324.6 L18.1,324.6 L18.6,324.6 L19.1,324.6 L19.6,324.6 L20.1,324.6 L20.6,324.6 L21.1,324.6 L21.6,324.6 L22.1,324.6 L22.6,324.6 L23.1,324.6 L23.6,324.6 L24.1,324.6 L24.6,324.6 L25.1,324.6 L25.6,324.6 L26.1,324.6 L26.6,324.6 L27.1,324.6 L27.6,324.6 L28.1,324.6 L28.6,324.6 L29.1,324.6 L29.6,324.6 L30.1,324.6 L30.6,324.6 L31.1,324.6 L31.6,324.6 L32.1,324.6 L32.6,324.6 L33.1,324.6 L33.6,324.6 L34.1,324.6 L34.6,324.6 L35.1,324.6 L35.6,324.6 L36.1,324.6 L36.6,324.6 L37.1,324.6 L37.6,324.6 L38.1,324.6 L38.6,324.6 L39.1,324.6 L39.6,324.6 L40.1,324.6 L40.6,324.6 L41.1,324.6 L41.6,324.6 L42.1,324.6 L42.6,324.6 L43.1,324.6 L43.6,324.6 L44.1,324.6 L44.6,324.6 L45.1,324.6 L45.6,324.6 L46.1,324.6 L46.6,324.6 L47.1,324.6 L47.6,324.6 L48.1,324.6 L48.6,324.6 L49.1,324.6 L49.6,324.6 L50.1,324.6 L50.6,324.6 L51.1,324.6 L51.6,324.6 L52.1,324.6 L52.6,324.6 L53.1,324.6 L53.6,324.6 L54.1,324.6 L54.6,324.6 L55.1,324.6 L55.6,324.6 L56.1,324.6 L56.6,324.6 L57.1,324.6 L57.6,324.6 L58.1,324.6 L58.6,324.6 L59.1,324.6 L59.6,324.6 L60.1,324.6 L60.6,324.6 L61.1,324.6 L61.6,324.6 L62.1,324.6 L62.6,324.6 L63.1,324.6 L63.6,324.6 L64.1,324.6 L64.6,324.6 L65.1,324.6 L65.6,324.6 L66.1,324.6 L66.6,324.6 L67.1,324.6 L67.6,324.6 L68.1,324.6 L68.6,324.6 L69.1,324.6 L69.6,324.6 L70.1,324.6 L70.6,324.6 L71.1,324.6 L71.6,324.6 L72.1,324.6 L72.6,324.6 L73.1,324.6 L73.6,324.6 L74.1,324.6 L74.6,324.6 L75.1,324.6 L75.6,324.6 L76.1,324.6 L76.6,324.6 L77.1,324.6 L77.6,324.6 L78.1,324.6 L78.6,324.6 L79.1,324.6 L79.6,324.6 L80.1,324.6 L80.6,324.6 L81.1,324.6 L81.6,324.6 L82.1,324.6 L82.6,324.6 L83.1,324.6 L83.6,324.6 L84.1,324.6 L84.6,324.6 L85.1,324.6 L85.6,324.6 L86.1,324.6 L86.6,324.6 L87.1,324.6 L87.6,324.6 L88.1,324.6 L88.6,324.6 L89.1,324.6 L89.6,324.6 L90.1,324.6 L90.6,324.6 L91.1,324.6 L91.6,324.6 L92.1,324.6 L92.6,324.6 L93.1,324.6 L93.6,324.6 L94.1,324.6 L94.6,324.6 L95.1,324.6 L95.6,324.6 L96.1,324.6 L96.6,324.6 L97.1,324.6 L97.6,324.6 L98.1,324.59 L98.6,324.59 L99.1,324.59 L99.6,324.59 L100.1,324.59 L100.6,324.59 L101.1,324.59 L101.6,324.58 L102.1,324.58 L102.6,324.58 L103.1,324.57 L103.6,324.57 L104.1,324.57 L104.6,324.56 L105.1,324.55 L105.6,324.55 L106.1,324.54 L106.6,324.53 L107.1,324.52 L107.6,324.51 L108.1,324.5 L108.6,324.48 L109.1,324.47 L109.6,324.45 L110.1,324.43 L110.6,324.41 L111.1,324.38 L111.6,324.35 L112.1,324.32 L112.6,324.29 L113.1,324.25 L113.6,324.21 L114.1,324.16 L114.6,324.11 L115.1,324.05 L115.6,323.99 L116.1,323.92 L116.6,323.85 L117.1,323.76 L117.6,323.68 L118.1,323.58 L118.6,323.47 L119.1,323.36 L119.6,323.23 L120.1,323.1 L120.6,322.96 L121.1,322.8 L121.6,322.64 L122.1,322.46 L122.6,322.27 L123.1,322.06 L123.6,321.84 L124.1,321.61 L124.6,321.36 L125.1,321.1 L125.6,320.83 L126.1,320.54 L126.6,320.23 L127.1,319.9 L127.6,319.57 L128.1,319.21 L128.6,318.84 L129.1,318.45 L129.6,318.05 L130.1,317.63 L130.6,317.2 L131.1,316.75 L131.6,316.29 L132.1,315.81 L132.6,315.33 L133.1,314.83 L133.6,314.32 L134.1,313.8 L134.6,313.27 L135.1,312.73 L135.6,312.19 L136.1,311.65 L136.6,311.1 L137.1,310.55 L137.6,310 L138.1,309.46 L138.6,308.92 L139.1,308.38 L139.6,307.86 L140.1,307.34 L140.6,306.83 L141.1,306.34 L141.6,305.87 L142.1,305.41 L142.6,304.97 L143.1,304.56 L143.6,304.17 L144.1,303.8 L144.6,303.46 L145.1,303.15 L145.6,302.87 L146.1,302.62 L146.6,302.4 L147.1,302.21 L147.6,302.06 L148.1,301.94 L148.6,301.86 L149.1,301.81 L149.6,301.8 L150.1,301.83 L150.6,301.89 L151.1,301.98 L151.6,302.11 L152.1,302.27 L152.6,302.47 L153.1,302.7 L153.6,302.96 L154.1,303.25 L154.6,303.57 L155.1,303.91 L155.6,304.28 L156.1,304.68 L156.6,305.1 L157.1,305.54 L157.6,306 L158.1,306.47 L158.6,306.96 L159.1,307.47 L159.6,307.98 L160.1,308.51 L160.6,309.04 L161.1,309.58 L161.6,310.12 L162.1,310.66 L162.6,311.21 L163.1,311.75 L163.6,312.29 L164.1,312.83 L164.6,313.35 L165.1,313.88 L165.6,314.39 L166.1,314.9 L166.6,315.39 L167.1,315.87 L167.6,316.34 L168.1,316.8 L168.6,317.24 L169.1,317.67 L169.6,318.08 L170.1,318.48 L170.6,318.86 L171.1,319.23 L171.6,319.58 L172.1,319.92 L172.6,320.24 L173.1,320.54 L173.6,320.83 L174.1,321.11 L174.6,321.37 L175.1,321.61 L175.6,321.84 L176.1,322.06 L176.6,322.26 L177.1,322.45 L177.6,322.63 L178.1,322.79 L178.6,322.95 L179.1,323.09 L179.6,323.23 L180.1,323.35 L180.6,323.46 L181.1,323.57 L181.6,323.67 L182.1,323.75 L182.6,323.84 L183.1,323.91 L183.6,323.98 L184.1,324.04 L184.6,324.1 L185.1,324.15 L185.6,324.2 L186.1,324.24 L186.6,324.28 L187.1,324.32 L187.6,324.35 L188.1,324.38 L188.6,324.4 L189.1,324.42 L189.6,324.44 L190.1,324.46 L190.6,324.48 L191.1,324.49 L191.6,324.51 L192.1,324.52 L192.6,324.53 L193.1,324.54 L193.6,324.55 L194.1,324.55 L194.6,324.56 L195.1,324.56 L195.6,324.57 L196.1,324.57 L196.6,324.58 L197.1,324.58 L197.6,324.58 L198.1,324.58 L198.6,324.59 L199.1,324.59 L199.6,324.59 L200.1,324.59 L200.6,324.59 L201.1,324.59 L201.6,324.59 L202.1,324.6 L202.6,324.6 L203.1,324.6 L203.6,324.6 L204.1,324.6 L204.6,324.6 L205.1,324.6 L205.6,324.6 L206.1,324.6 L206.6,324.6 L207.1,324.6 L207.6,324.6 L208.1,324.6 L208.6,324.6 L209.1,324.6 L209.6,324.6 L210.1,324.6 L210.6,324.6 L211.1,324.6 L211.6,324.6 L212.1,324.6 L212.6,324.6 L213.1,324.6 L213.6,324.6 L213.6,324.6Z" fill="#b77fc8" opacity="0.75"/>
<path d="M18.1,324.6 L18.6,324.6 L19.1,324.6 L19.6,324.6 L20.1,324.6 L20.6,324.6 L21.1,324.6 L21.6,324.6 L22.1,324.6 L22.6,324.6 L23.1,324.6 L23.6,324.6 L24.1,324.6 L24.6,324.6 L25.1,324.6 L25.6,324.6 L26.1,324.6 L26.6,324.6 L27.1,324.6 L27.6,324.6 L28.1,324.6 L28.6,324.6 L29.1,324.6 L29.6,324.6 L30.1,324.6 L30.6,324.6 L31.1,324.6 L31.6,324.6 L32.1,324.6 L32.6,324.6 L33.1,324.6 L33.6,324.6 L34.1,324.6 L34.6,324.6 L35.1,324.6 L35.6,324.59 L36.1,324.59 L36.6,324.59 L37.1,324.59 L37.6,324.59 L38.1,324.59 L38.6,324.59 L39.1,324.59 L39.6,324.58 L40.1,324.58 L40.6,324.58 L41.1,324.57 L41.6,324.57 L42.1,324.57 L42.6,324.56 L43.1,324.56 L43.6,324.55 L44.1,324.54 L44.6,324.53 L45.1,324.52 L45.6,324.51 L46.1,324.5 L46.6,324.48 L47.1,324.46 L47.6,324.44 L48.1,324.42 L48.6,324.4 L49.1,324.37 L49.6,324.34 L50.1,324.3 L50.6,324.26 L51.1,324.21 L51.6,324.16 L52.1,324.11 L52.6,324.04 L53.1,323.97 L53.6,323.9 L54.1,323.81 L54.6,323.71 L55.1,323.61 L55.6,323.49 L56.1,323.37 L56.6,323.23 L57.1,323.08 L57.6,322.91 L58.1,322.74 L58.6,322.54 L59.1,322.34 L59.6,322.12 L60.1,321.88 L60.6,321.62 L61.1,321.35 L61.6,321.06 L62.1,320.75 L62.6,320.43 L63.1,320.08 L63.6,319.72 L64.1,319.35 L64.6,318.95 L65.1,318.54 L65.6,318.11 L66.1,317.67 L66.6,317.22 L67.1,316.75 L67.6,316.27 L68.1,315.77 L68.6,315.27 L69.1,314.76 L69.6,314.25 L70.1,313.73 L70.6,313.21 L71.1,312.68 L71.6,312.16 L72.1,311.63 L72.6,311.11 L73.1,310.6 L73.6,310.09 L74.1,309.58 L74.6,309.09 L75.1,308.6 L75.6,308.12 L76.1,307.65 L76.6,307.19 L77.1,306.73 L77.6,306.29 L78.1,305.85 L78.6,305.42 L79.1,305 L79.6,304.58 L80.1,304.17 L80.6,303.75 L81.1,303.34 L81.6,302.93 L82.1,302.52 L82.6,302.1 L83.1,301.68 L83.6,301.26 L84.1,300.84 L84.6,300.41 L85.1,299.98 L85.6,299.55 L86.1,299.12 L86.6,298.69 L87.1,298.27 L87.6,297.86 L88.1,297.46 L88.6,297.08 L89.1,296.72 L89.6,296.39 L90.1,296.09 L90.6,295.82 L91.1,295.59 L91.6,295.41 L92.1,295.28 L92.6,295.2 L93.1,295.17 L93.6,295.21 L94.1,295.31 L94.6,295.47 L95.1,295.7 L95.6,295.99 L96.1,296.35 L96.6,296.76 L97.1,297.24 L97.6,297.78 L98.1,298.36 L98.6,299 L99.1,299.68 L99.6,300.39 L100.1,301.14 L100.6,301.91 L101.1,302.69 L101.6,303.49 L102.1,304.29 L102.6,305.1 L103.1,305.89 L103.6,306.67 L104.1,307.42 L104.6,308.16 L105.1,308.86 L105.6,309.53 L106.1,310.17 L106.6,310.76 L107.1,311.32 L107.6,311.83 L108.1,312.31 L108.6,312.74 L109.1,313.12 L109.6,313.47 L110.1,313.78 L110.6,314.05 L111.1,314.29 L111.6,314.5 L112.1,314.68 L112.6,314.82 L113.1,314.95 L113.6,315.06 L114.1,315.14 L114.6,315.21 L115.1,315.27 L115.6,315.32 L116.1,315.36 L116.6,315.39 L117.1,315.41 L117.6,315.44 L118.1,315.45 L118.6,315.47 L119.1,315.48 L119.6,315.49 L120.1,315.49 L120.6,315.49 L121.1,315.49 L121.6,315.48 L122.1,315.47 L122.6,315.44 L123.1,315.41 L123.6,315.37 L124.1,315.32 L124.6,315.25 L125.1,315.17 L125.6,315.08 L126.1,314.97 L126.6,314.85 L127.1,314.7 L127.6,314.54 L128.1,314.36 L128.6,314.16 L129.1,313.95 L129.6,313.71 L130.1,313.45 L130.6,313.18 L131.1,312.89 L131.6,312.58 L132.1,312.25 L132.6,311.9 L133.1,311.54 L133.6,311.17 L134.1,310.78 L134.6,310.38 L135.1,309.97 L135.6,309.55 L136.1,309.13 L136.6,308.69 L137.1,308.25 L137.6,307.81 L138.1,307.37 L138.6,306.92 L139.1,306.48 L139.6,306.05 L140.1,305.61 L140.6,305.19 L141.1,304.77 L141.6,304.36 L142.1,303.96 L142.6,303.57 L143.1,303.2 L143.6,302.84 L144.1,302.48 L144.6,302.15 L145.1,301.82 L145.6,301.5 L146.1,301.19 L146.6,300.89 L147.1,300.59 L147.6,300.29 L148.1,299.99 L148.6,299.68 L149.1,299.36 L149.6,299.01 L150.1,298.65 L150.6,298.26 L151.1,297.82 L151.6,297.35 L152.1,296.82 L152.6,296.24 L153.1,295.6 L153.6,294.88 L154.1,294.09 L154.6,293.23 L155.1,292.28 L155.6,291.24 L156.1,290.13 L156.6,288.92 L157.1,287.64 L157.6,286.29 L158.1,284.87 L158.6,283.38 L159.1,281.85 L159.6,280.29 L160.1,278.71 L160.6,277.13 L161.1,275.56 L161.6,274.04 L162.1,272.57 L162.6,271.18 L163.1,269.89 L163.6,268.73 L164.1,267.71 L164.6,266.85 L165.1,266.18 L165.6,265.69 L166.1,265.42 L166.6,265.36 L167.1,265.53 L167.6,265.93 L168.1,266.52 L168.6,267.29 L169.1,268.23 L169.6,269.34 L170.1,270.61 L170.6,272.02 L171.1,273.57 L171.6,275.24 L172.1,277.02 L172.6,278.9 L173.1,280.85 L173.6,282.87 L174.1,284.94 L174.6,287.04 L175.1,289.15 L175.6,291.27 L176.1,293.37 L176.6,295.45 L177.1,297.48 L177.6,299.46 L178.1,301.39 L178.6,303.24 L179.1,305.02 L179.6,306.71 L180.1,308.32 L180.6,309.83 L181.1,311.26 L181.6,312.59 L182.1,313.82 L182.6,314.97 L183.1,316.02 L183.6,316.99 L184.1,317.87 L184.6,318.67 L185.1,319.4 L185.6,320.05 L186.1,320.63 L186.6,321.15 L187.1,321.62 L187.6,322.03 L188.1,322.39 L188.6,322.71 L189.1,322.98 L189.6,323.23 L190.1,323.43 L190.6,323.62 L191.1,323.77 L191.6,323.9 L192.1,324.02 L192.6,324.11 L193.1,324.2 L193.6,324.26 L194.1,324.32 L194.6,324.37 L195.1,324.41 L195.6,324.45 L196.1,324.47 L196.6,324.5 L197.1,324.52 L197.6,324.53 L198.1,324.54 L198.6,324.56 L199.1,324.56 L199.6,324.57 L200.1,324.58 L200.6,324.58 L201.1,324.58 L201.6,324.59 L202.1,324.59 L202.6,324.59 L203.1,324.59 L203.6,324.59 L204.1,324.6 L204.6,324.6 L205.1,324.6 L205.6,324.6 L206.1,324.6 L206.6,324.6 L207.1,324.6 L207.6,324.6 L208.1,324.6 L208.6,324.6 L209.1,324.6 L209.6,324.6 L210.1,324.6 L210.6,324.6 L211.1,324.6 L211.6,324.6 L212.1,324.6 L212.6,324.6 L213.1,324.6 L213.6,324.6" fill="none" stroke="#dd4fa0" stroke-width="1.3"/>
<text x="19.6" y="305.2" font-size="12" font-weight="bold">FeN<tspan dy="3" font-size="8.8">5</tspan><tspan dy="-3">-SD</tspan><tspan dy="3" font-size="8.8">3</tspan></text>
<rect x="148.9" y="4.3" width="8.3" height="332.8" fill="#c9a6dc" stroke="none" stroke-width="1" opacity="0.75"/>
<rect x="167" y="4.3" width="6" height="332.8" fill="#fcdcc4" stroke="none" stroke-width="1" opacity="0.8"/>
<line x1="149.4" y1="4.3" x2="149.4" y2="337.1" stroke="#333" stroke-width="1.1" stroke-dasharray="4.2,2.6"/>
<line x1="156.6" y1="4.3" x2="156.6" y2="337.1" stroke="#333" stroke-width="1.1" stroke-dasharray="4.2,2.6"/>
<line x1="167.5" y1="4.3" x2="167.5" y2="337.1" stroke="#333" stroke-width="1.1" stroke-dasharray="4.2,2.6"/>
<line x1="172.4" y1="4.3" x2="172.4" y2="337.1" stroke="#333" stroke-width="1.1" stroke-dasharray="4.2,2.6"/>
<line x1="148.7" y1="12.8" x2="156.9" y2="12.8" stroke="#8a5cc8" stroke-width="1.2" />
<path d="M146.7,12.8 L150.2,11 L150.2,14.6Z" fill="#8a5cc8"/>
<path d="M158.9,12.8 L155.4,11 L155.4,14.6Z" fill="#8a5cc8"/>
<line x1="165.3" y1="7.5" x2="174.6" y2="7.5" stroke="#f07f1f" stroke-width="1.2" />
<path d="M163.3,7.5 L166.8,5.7 L166.8,9.3Z" fill="#f07f1f"/>
<path d="M176.6,7.5 L173.1,5.7 L173.1,9.3Z" fill="#f07f1f"/>
<text x="84.2" y="40.3" font-size="9.6" font-weight="bold">Fe 2<tspan font-style="italic">p</tspan><tspan dy="2.5" font-size="7">1/2</tspan></text>
<text x="174.7" y="16.4" font-size="9.6" font-weight="bold">Fe 2<tspan font-style="italic">p</tspan><tspan dy="2.5" font-size="6.6">3/2</tspan></text>
<rect x="17.5" y="4.3" width="197" height="332.8" fill="none" stroke="#000" stroke-width="1.2" />
<line x1="17.5" y1="87.5" x2="214.5" y2="87.5" stroke="#000" stroke-width="1.2" />
<line x1="17.5" y1="170.7" x2="214.5" y2="170.7" stroke="#000" stroke-width="1.2" />
<line x1="17.5" y1="253.9" x2="214.5" y2="253.9" stroke="#000" stroke-width="1.2" />
<line x1="212.01" y1="337.1" x2="212.01" y2="338.9" stroke="#000" stroke-width="1.1" />
<line x1="197.49" y1="337.1" x2="197.49" y2="339.9" stroke="#000" stroke-width="1.1" />
<text x="197.49" y="351.7" font-size="11.8" text-anchor="middle" font-weight="bold" fill="#000" >705</text>
<line x1="182.97" y1="337.1" x2="182.97" y2="338.9" stroke="#000" stroke-width="1.1" />
<line x1="168.45" y1="337.1" x2="168.45" y2="339.9" stroke="#000" stroke-width="1.1" />
<text x="168.45" y="351.7" font-size="11.8" text-anchor="middle" font-weight="bold" fill="#000" >710</text>
<line x1="153.93" y1="337.1" x2="153.93" y2="338.9" stroke="#000" stroke-width="1.1" />
<line x1="139.41" y1="337.1" x2="139.41" y2="339.9" stroke="#000" stroke-width="1.1" />
<text x="139.41" y="351.7" font-size="11.8" text-anchor="middle" font-weight="bold" fill="#000" >715</text>
<line x1="124.89" y1="337.1" x2="124.89" y2="338.9" stroke="#000" stroke-width="1.1" />
<line x1="110.37" y1="337.1" x2="110.37" y2="339.9" stroke="#000" stroke-width="1.1" />
<text x="110.37" y="351.7" font-size="11.8" text-anchor="middle" font-weight="bold" fill="#000" >720</text>
<line x1="95.85" y1="337.1" x2="95.85" y2="338.9" stroke="#000" stroke-width="1.1" />
<line x1="81.33" y1="337.1" x2="81.33" y2="339.9" stroke="#000" stroke-width="1.1" />
<text x="81.33" y="351.7" font-size="11.8" text-anchor="middle" font-weight="bold" fill="#000" >725</text>
<line x1="66.81" y1="337.1" x2="66.81" y2="338.9" stroke="#000" stroke-width="1.1" />
<line x1="52.29" y1="337.1" x2="52.29" y2="339.9" stroke="#000" stroke-width="1.1" />
<text x="52.29" y="351.7" font-size="11.8" text-anchor="middle" font-weight="bold" fill="#000" >730</text>
<line x1="37.77" y1="337.1" x2="37.77" y2="338.9" stroke="#000" stroke-width="1.1" />
<line x1="23.25" y1="337.1" x2="23.25" y2="339.9" stroke="#000" stroke-width="1.1" />
<text x="23.25" y="351.7" font-size="11.8" text-anchor="middle" font-weight="bold" fill="#000" >735</text>
<text x="116.4" y="364.9" font-size="12.2" text-anchor="middle" font-weight="bold" fill="#000" >Binding Energy (eV)</text>
<text transform="translate(10.3,172.5) rotate(-90)" font-size="12.4" font-weight="bold" text-anchor="middle">Intensity (arb. u.)</text>
<text x="2.0" y="18.2" font-size="18.8" font-weight="bold">a</text>
</g>
<g id="panelB">
<clipPath id="cpB"><rect x="278.9" y="2.3" width="180.10000000000002" height="141.1"/></clipPath>
<rect x="306.3" y="91.1" width="22.6" height="24.5" fill="#dcdcdc" stroke="#f2a5a5" stroke-width="0.8" />
<g clip-path="url(#cpB)" fill="none" stroke-width="1.5" stroke-linejoin="round">
<path d="M279,121 C280.83,120.97 287.28,120.97 290,120.8 C292.72,120.63 293.97,120.8 295.3,120 C296.63,119.2 297.05,117.8 298,116 C298.95,114.2 300.08,111.37 301,109.2 C301.92,107.03 302.72,104.92 303.5,103 C304.28,101.08 304.95,99.2 305.7,97.7 C306.45,96.2 307.23,94.97 308,94 C308.77,93.03 309.47,93.07 310.3,91.9 C311.13,90.73 312.03,89.12 313,87 C313.97,84.88 314.82,82.42 316.1,79.2 C317.38,75.98 319.38,70.9 320.7,67.7 C322.02,64.5 323.03,62.32 324,60 C324.97,57.68 325.5,55.72 326.5,53.8 C327.5,51.88 328.83,49.77 330,48.5 C331.17,47.23 332.53,46.65 333.5,46.2 C334.47,45.75 335.05,45.53 335.8,45.8 C336.55,46.07 337.13,46.68 338,47.8 C338.87,48.92 339.75,51.22 341,52.5 C342.25,53.78 344,55.25 345.5,55.5 C347,55.75 348.42,54.47 350,54 C351.58,53.53 353.33,53.03 355,52.7 C356.67,52.37 358.17,52.45 360,52 C361.83,51.55 363.5,50.9 366,50 C368.5,49.1 371.83,47.13 375,46.6 C378.17,46.07 381.67,46.65 385,46.8 C388.33,46.95 391.17,47.15 395,47.5 C398.83,47.85 404.33,48.23 408,48.9 C411.67,49.57 414.03,50.77 417,51.5 C419.97,52.23 422.8,53.38 425.8,53.3 C428.8,53.22 431.2,52.17 435,51 C438.8,49.83 444.6,46.8 448.6,46.3 C452.6,45.8 457.27,47.72 459,48" stroke="#f8a060"/>
<path d="M279,121 C281.33,120.97 290,121.3 293,120.8 C296,120.3 295.73,119.45 297,118 C298.27,116.55 299.6,112.68 300.6,112.1 C301.6,111.52 302.27,113.85 303,114.5 C303.73,115.15 304.17,115.92 305,116 C305.83,116.08 306.88,115.8 308,115 C309.12,114.2 310.7,113.03 311.7,111.2 C312.7,109.37 313.22,106.93 314,104 C314.78,101.07 315.55,97.6 316.4,93.6 C317.25,89.6 318.17,84.6 319.1,80 C320.03,75.4 320.85,71 322,66 C323.15,61 324.67,54.5 326,50 C327.33,45.5 328.67,42 330,39 C331.33,36 332.83,33.67 334,32 C335.17,30.33 335.87,29.75 337,29 C338.13,28.25 339.47,27.5 340.8,27.5 C342.13,27.5 343.47,27.92 345,29 C346.53,30.08 347.83,31.83 350,34 C352.17,36.17 355,39.5 358,42 C361,44.5 364.67,47 368,49 C371.33,51 374.5,52.83 378,54 C381.5,55.17 385.67,56.33 389,56 C392.33,55.67 394.83,53.33 398,52 C401.17,50.67 404.67,49 408,48 C411.33,47 414.33,46.42 418,46 C421.67,45.58 425.5,45.45 430,45.5 C434.5,45.55 440.17,46.05 445,46.3 C449.83,46.55 456.67,46.88 459,47" stroke="#8cc63f"/>
<path d="M279,121 C281.67,120.97 291.5,121 295,120.8 C298.5,120.6 298.5,120.35 300,119.8 C301.5,119.25 302.33,118.05 304,117.5 C305.67,116.95 308.5,117 310,116.5 C311.5,116 312.05,115.38 313,114.5 C313.95,113.62 314.87,112.95 315.7,111.2 C316.53,109.45 317.2,106.95 318,104 C318.8,101.05 319.63,97.5 320.5,93.5 C321.37,89.5 322.28,84.42 323.2,80 C324.12,75.58 324.87,71.67 326,67 C327.13,62.33 328.67,56.17 330,52 C331.33,47.83 332.5,44.67 334,42 C335.5,39.33 337.08,37.38 339,36 C340.92,34.62 343.67,33.87 345.5,33.7 C347.33,33.53 348.25,33.95 350,35 C351.75,36.05 353.5,38 356,40 C358.5,42 361.83,45 365,47 C368.17,49 371,50.32 375,52 C379,53.68 384.83,56.77 389,57.1 C393.17,57.43 396.5,55.18 400,54 C403.5,52.82 406.67,51.08 410,50 C413.33,48.92 416.67,48.12 420,47.5 C423.33,46.88 425.83,46.47 430,46.3 C434.17,46.13 440.17,46.38 445,46.5 C449.83,46.62 456.67,46.92 459,47" stroke="#1fc6c6"/>
<path d="M279,121 C281.67,120.97 291.5,121.05 295,120.8 C298.5,120.55 298.5,120.05 300,119.5 C301.5,118.95 302.33,117.83 304,117.5 C305.67,117.17 308.33,117.67 310,117.5 C311.67,117.33 312.83,117.55 314,116.5 C315.17,115.45 316.08,113.62 317,111.2 C317.92,108.78 318.8,104.93 319.5,102 C320.2,99.07 320.58,97.27 321.2,93.6 C321.82,89.93 322.4,85.27 323.2,80 C324,74.73 325.03,68 326,62 C326.97,56 328,49.17 329,44 C330,38.83 331,34.17 332,31 C333,27.83 333.95,26.32 335,25 C336.05,23.68 337.13,22.93 338.3,23.1 C339.47,23.27 340.72,24.68 342,26 C343.28,27.32 344.33,29 346,31 C347.67,33 349.67,35.67 352,38 C354.33,40.33 357,43 360,45 C363,47 366.67,48.17 370,50 C373.33,51.83 376.83,54.42 380,56 C383.17,57.58 386,59.33 389,59.5 C392,59.67 395,58.42 398,57 C401,55.58 404.17,52.75 407,51 C409.83,49.25 412,47.58 415,46.5 C418,45.42 421.67,44.75 425,44.5 C428.33,44.25 431.33,44.75 435,45 C438.67,45.25 443,45.67 447,46 C451,46.33 457,46.83 459,47" stroke="#e0559f"/>
<path d="M279,121 C280.83,121 286.83,121.08 290,121 C293.17,120.92 296,120.9 298,120.5 C300,120.1 300.83,119.15 302,118.6 C303.17,118.05 303.83,117.47 305,117.2 C306.17,116.93 307.58,117.2 309,117 C310.42,116.8 312.33,116.75 313.5,116 C314.67,115.25 315.17,114 316,112.5 C316.83,111 317.75,109.08 318.5,107 C319.25,104.92 319.95,102.23 320.5,100 C321.05,97.77 321.23,96.93 321.8,93.6 C322.37,90.27 323.2,84.93 323.9,80 C324.6,75.07 325.23,69.5 326,64 C326.77,58.5 327.62,52.67 328.5,47 C329.38,41.33 330.37,33.8 331.3,30 C332.23,26.2 333.15,25.62 334.1,24.2 C335.05,22.78 335.98,22.7 337,21.5 C338.02,20.3 339.28,17.17 340.2,17 C341.12,16.83 341.7,19 342.5,20.5 C343.3,22 344.08,24.17 345,26 C345.92,27.83 347,29.58 348,31.5 C349,33.42 349.97,35.63 351,37.5 C352.03,39.37 353.2,41.45 354.2,42.7 C355.2,43.95 356.03,44.42 357,45 C357.97,45.58 358.67,45.62 360,46.2 C361.33,46.78 363,47.45 365,48.5 C367,49.55 369.58,51.25 372,52.5 C374.42,53.75 376.67,54.65 379.5,56 C382.33,57.35 386.08,60.27 389,60.6 C391.92,60.93 394.33,59.27 397,58 C399.67,56.73 402.5,54.83 405,53 C407.5,51.17 409.67,48.58 412,47 C414.33,45.42 416.67,44.2 419,43.5 C421.33,42.8 423.33,42.8 426,42.8 C428.67,42.8 431.5,43.13 435,43.5 C438.5,43.87 443,44.5 447,45 C451,45.5 457,46.25 459,46.5" stroke="#1e90f0"/>
</g>
<line x1="280.8" y1="9" x2="297.9" y2="9" stroke="#e0559f" stroke-width="1.5" />
<text x="301.7" y="12.3" font-size="9.3" font-weight="bold">FeN<tspan dy="2.5" font-size="6.8">5</tspan><tspan dy="-2.5">-SD</tspan><tspan dy="2.5" font-size="6.8">2</tspan></text>
<line x1="280.8" y1="21.8" x2="297.9" y2="21.8" stroke="#1fc6c6" stroke-width="1.5" />
<text x="301.7" y="25.1" font-size="9.3" font-weight="bold">FeN<tspan dy="2.5" font-size="6.8">5</tspan></text>
<line x1="280.8" y1="34.4" x2="297.9" y2="34.4" stroke="#f8a060" stroke-width="1.5" />
<text x="301.7" y="37.7" font-size="9.3" font-weight="bold">Fe foil</text>
<line x1="280.8" y1="46" x2="297.9" y2="46" stroke="#1e90f0" stroke-width="1.5" />
<text x="301.7" y="49.3" font-size="9.3" font-weight="bold">Fe<tspan dy="2.5" font-size="6.8">2</tspan><tspan dy="-2.5">O</tspan><tspan dy="2.5" font-size="6.8">3</tspan></text>
<line x1="280.8" y1="58" x2="297.9" y2="58" stroke="#8cc63f" stroke-width="1.5" />
<text x="301.7" y="61.3" font-size="9.3" font-weight="bold">FePc</text>
<rect x="278.9" y="2.3" width="180.1" height="141.1" fill="none" stroke="#000" stroke-width="1.2" />
<line x1="275.9" y1="143.47" x2="278.9" y2="143.47" stroke="#000" stroke-width="1.1" />
<text x="274.3" y="147.07" font-size="12" text-anchor="end" font-weight="bold" fill="#000" >-0.3</text>
<line x1="277.1" y1="132.38" x2="278.9" y2="132.38" stroke="#000" stroke-width="1.1" />
<line x1="275.9" y1="121.3" x2="278.9" y2="121.3" stroke="#000" stroke-width="1.1" />
<text x="274.3" y="124.9" font-size="12" text-anchor="end" font-weight="bold" fill="#000" >0.0</text>
<line x1="277.1" y1="110.22" x2="278.9" y2="110.22" stroke="#000" stroke-width="1.1" />
<line x1="275.9" y1="99.13" x2="278.9" y2="99.13" stroke="#000" stroke-width="1.1" />
<text x="274.3" y="102.73" font-size="12" text-anchor="end" font-weight="bold" fill="#000" >0.3</text>
<line x1="277.1" y1="88.04" x2="278.9" y2="88.04" stroke="#000" stroke-width="1.1" />
<line x1="275.9" y1="76.96" x2="278.9" y2="76.96" stroke="#000" stroke-width="1.1" />
<text x="274.3" y="80.56" font-size="12" text-anchor="end" font-weight="bold" fill="#000" >0.6</text>
<line x1="277.1" y1="65.88" x2="278.9" y2="65.88" stroke="#000" stroke-width="1.1" />
<line x1="275.9" y1="54.79" x2="278.9" y2="54.79" stroke="#000" stroke-width="1.1" />
<text x="274.3" y="58.39" font-size="12" text-anchor="end" font-weight="bold" fill="#000" >0.9</text>
<line x1="277.1" y1="43.7" x2="278.9" y2="43.7" stroke="#000" stroke-width="1.1" />
<line x1="275.9" y1="32.62" x2="278.9" y2="32.62" stroke="#000" stroke-width="1.1" />
<text x="274.3" y="36.22" font-size="12" text-anchor="end" font-weight="bold" fill="#000" >1.2</text>
<line x1="277.1" y1="21.53" x2="278.9" y2="21.53" stroke="#000" stroke-width="1.1" />
<line x1="275.9" y1="10.45" x2="278.9" y2="10.45" stroke="#000" stroke-width="1.1" />
<text x="274.3" y="14.05" font-size="12" text-anchor="end" font-weight="bold" fill="#000" >1.5</text>
<line x1="278.9" y1="143.4" x2="278.9" y2="146.4" stroke="#000" stroke-width="1.1" />
<text x="278.9" y="157.9" font-size="12" text-anchor="middle" font-weight="bold" fill="#000" >7100</text>
<line x1="296.91" y1="143.4" x2="296.91" y2="145.2" stroke="#000" stroke-width="1.1" />
<line x1="314.92" y1="143.4" x2="314.92" y2="146.4" stroke="#000" stroke-width="1.1" />
<text x="314.92" y="157.9" font-size="12" text-anchor="middle" font-weight="bold" fill="#000" >7120</text>
<line x1="332.93" y1="143.4" x2="332.93" y2="145.2" stroke="#000" stroke-width="1.1" />
<line x1="350.94" y1="143.4" x2="350.94" y2="146.4" stroke="#000" stroke-width="1.1" />
<text x="350.94" y="157.9" font-size="12" text-anchor="middle" font-weight="bold" fill="#000" >7140</text>
<line x1="368.95" y1="143.4" x2="368.95" y2="145.2" stroke="#000" stroke-width="1.1" />
<line x1="386.96" y1="143.4" x2="386.96" y2="146.4" stroke="#000" stroke-width="1.1" />
<text x="386.96" y="157.9" font-size="12" text-anchor="middle" font-weight="bold" fill="#000" >7160</text>
<line x1="404.97" y1="143.4" x2="404.97" y2="145.2" stroke="#000" stroke-width="1.1" />
<line x1="422.98" y1="143.4" x2="422.98" y2="146.4" stroke="#000" stroke-width="1.1" />
<text x="422.98" y="157.9" font-size="12" text-anchor="middle" font-weight="bold" fill="#000" >7180</text>
<line x1="440.99" y1="143.4" x2="440.99" y2="145.2" stroke="#000" stroke-width="1.1" />
<line x1="459" y1="143.4" x2="459" y2="146.4" stroke="#000" stroke-width="1.1" />
<text x="459" y="157.9" font-size="12" text-anchor="middle" font-weight="bold" fill="#000" >7200</text>
<text x="372.5" y="169.5" font-size="12" text-anchor="middle" font-weight="bold" fill="#000" >Energy (eV)</text>
<text transform="translate(251.2,74.3) rotate(-90)" font-size="12" font-weight="bold" text-anchor="middle">XANES (arb. u.)</text>
<text x="229.2" y="18.2" font-size="18.8" font-weight="bold">b</text>
<rect x="368.5" y="66" width="85.1" height="60.8" fill="#fff" stroke="none" stroke-width="1" />
<clipPath id="cpI"><rect x="368.5" y="66.0" width="85.10000000000002" height="60.8"/></clipPath>
<g clip-path="url(#cpI)" fill="none" stroke-width="1.4">
<path d="M368.5,80.4 C369.75,80.08 373.52,79.42 376,78.5 C378.48,77.58 381.57,76.15 383.4,74.9 C385.23,73.65 385.77,72.48 387,71 C388.23,69.52 390.17,66.83 390.8,66" stroke="#f8a060"/>
<path d="M368.5,123.5 C369.75,123.08 373.58,122.33 376,121 C378.42,119.67 380.83,117.58 383,115.5 C385.17,113.42 387,111.25 389,108.5 C391,105.75 392.87,102.45 395,99 C397.13,95.55 399.97,91.3 401.8,87.8 C403.63,84.3 404.52,81.63 406,78 C407.48,74.37 409.92,68 410.7,66" stroke="#8cc63f"/>
<path d="M368.5,122 C369.92,121.75 373.92,121.28 377,120.5 C380.08,119.72 384.17,118.63 387,117.3 C389.83,115.97 391.53,114.35 394,112.5 C396.47,110.65 399.47,108.62 401.8,106.2 C404.13,103.78 406.15,100.77 408,98 C409.85,95.23 411.48,92.6 412.9,89.6 C414.32,86.6 415.4,82.93 416.5,80 C417.6,77.07 418.5,74.33 419.5,72 C420.5,69.67 422,67 422.5,66" stroke="#1fc6c6"/>
<path d="M387.1,126.8 C388.42,125.92 392.55,123.4 395,121.5 C397.45,119.6 399.63,117.98 401.8,115.4 C403.97,112.82 406.13,109.4 408,106 C409.87,102.6 411.5,99 413,95 C414.5,91 415.87,85.83 417,82 C418.13,78.17 419.05,74.67 419.8,72 C420.55,69.33 421.22,67 421.5,66" stroke="#e0559f"/>
<path d="M400,126.8 C400.83,126.25 403.33,124.88 405,123.5 C406.67,122.12 408.68,120.15 410,118.5 C411.32,116.85 411.98,116.02 412.9,113.6 C413.82,111.18 414.58,107.38 415.5,104 C416.42,100.62 417.48,96.63 418.4,93.3 C419.32,89.97 419.98,87.05 421,84 C422.02,80.95 423.25,78 424.5,75 C425.75,72 427.83,67.5 428.5,66" stroke="#1e90f0"/>
</g>
<rect x="368.5" y="66" width="85.1" height="60.8" fill="none" stroke="#000" stroke-width="1.1" />
<line x1="366.5" y1="122.9" x2="368.5" y2="122.9" stroke="#000" stroke-width="0.8" />
<text x="366.6" y="125.3" font-size="6.8" text-anchor="end" font-weight="bold" fill="#000" >0.1</text>
<line x1="366.5" y1="104.6" x2="368.5" y2="104.6" stroke="#000" stroke-width="0.8" />
<text x="366.6" y="107" font-size="6.8" text-anchor="end" font-weight="bold" fill="#000" >0.2</text>
<line x1="366.5" y1="86" x2="368.5" y2="86" stroke="#000" stroke-width="0.8" />
<text x="366.6" y="88.4" font-size="6.8" text-anchor="end" font-weight="bold" fill="#000" >0.3</text>
<line x1="366.5" y1="66.7" x2="368.5" y2="66.7" stroke="#000" stroke-width="0.8" />
<text x="366.6" y="69.1" font-size="6.8" text-anchor="end" font-weight="bold" fill="#000" >0.4</text>
<line x1="403.6" y1="126.8" x2="403.6" y2="128.8" stroke="#000" stroke-width="0.8" />
<text x="403.6" y="134.2" font-size="6.8" text-anchor="middle" font-weight="bold" fill="#000" >7120</text>
<line x1="435.8" y1="126.8" x2="435.8" y2="128.8" stroke="#000" stroke-width="0.8" />
<text x="435.8" y="134.2" font-size="6.8" text-anchor="middle" font-weight="bold" fill="#000" >7125</text>
<text x="411.2" y="141.3" font-size="7.1" text-anchor="middle" font-weight="bold" fill="#000" >Energy (eV)</text>
<text transform="translate(354.6,96.3) rotate(-90)" font-size="5.9" font-weight="bold" text-anchor="middle">Normalized absorption (a.u.)</text>
<line x1="369.4" y1="76.5" x2="428" y2="97.5" stroke="#000" stroke-width="1.0" />
<path d="M434.6,99.9 L426.3,99.4 L428.3,94.0Z" fill="#000"/>
<text transform="translate(413.5,87.5) rotate(19.5)" font-size="7.3" font-weight="bold" font-style="italic" text-anchor="middle">high valence state</text>
</g>
<g id="panelC">
<clipPath id="cpC"><rect x="277.5" y="187.0" width="179.8" height="144.39999999999998"/></clipPath>
<g clip-path="url(#cpC)" fill="none" stroke-width="1.5" stroke-linejoin="round">
<path d="M277.5,232.5 C278.75,232.42 282.42,232.22 285,232 C287.58,231.78 290.5,231.28 293,231.2 C295.5,231.12 298,231.62 300,231.5 C302,231.38 303.33,230.75 305,230.5 C306.67,230.25 308.33,230.5 310,230 C311.67,229.5 313.5,228.58 315,227.5 C316.5,226.42 317.83,225.58 319,223.5 C320.17,221.42 321.08,217.75 322,215 C322.92,212.25 323.7,208.77 324.5,207 C325.3,205.23 326.05,204.57 326.8,204.4 C327.55,204.23 328.13,204.57 329,206 C329.87,207.43 330.83,210.17 332,213 C333.17,215.83 334.67,220.57 336,223 C337.33,225.43 338.88,226.47 340,227.6 C341.12,228.73 341.25,229.67 342.7,229.8 C344.15,229.93 346.98,229.03 348.7,228.4 C350.42,227.77 351.47,226.62 353,226 C354.53,225.38 356.28,224.55 357.9,224.7 C359.52,224.85 361.17,226.1 362.7,226.9 C364.23,227.7 365.47,230.37 367.1,229.5 C368.73,228.63 370.62,224.23 372.5,221.7 C374.38,219.17 376.6,214.85 378.4,214.3 C380.2,213.75 381.75,216.08 383.3,218.4 C384.85,220.72 386.43,226.12 387.7,228.2 C388.97,230.28 389.47,230.63 390.9,230.9 C392.33,231.17 394.5,230.35 396.3,229.8 C398.1,229.25 400.08,227.65 401.7,227.6 C403.32,227.55 404.52,229.05 406,229.5 C407.48,229.95 408.77,230.33 410.6,230.3 C412.43,230.27 414.77,229.3 417,229.3 C419.23,229.3 421,230.17 424,230.3 C427,230.43 431.83,230.02 435,230.1 C438.17,230.18 440.55,230.72 443,230.8 C445.45,230.88 447.37,230.47 449.7,230.6 C452.03,230.73 455.78,231.43 457,231.6" stroke="#c07fcf"/>
<path d="M277.5,233.5 C278.42,233.33 280.92,232.75 283,232.5 C285.08,232.25 288,232.28 290,232 C292,231.72 293.67,231.3 295,230.8 C296.33,230.3 297,229.97 298,229 C299,228.03 300,226.33 301,225 C302,223.67 303.08,222.08 304,221 C304.92,219.92 305.55,219.53 306.5,218.5 C307.45,217.47 308.7,214.97 309.7,214.8 C310.7,214.63 311.45,216.05 312.5,217.5 C313.55,218.95 314.75,221.67 316,223.5 C317.25,225.33 318.7,227.47 320,228.5 C321.3,229.53 322.63,230.12 323.8,229.7 C324.97,229.28 325.97,228.12 327,226 C328.03,223.88 329.08,219.5 330,217 C330.92,214.5 331.67,212.42 332.5,211 C333.33,209.58 334.17,208.5 335,208.5 C335.83,208.5 336.67,209.72 337.5,211 C338.33,212.28 338.95,214.33 340,216.2 C341.05,218.07 342.27,221.65 343.8,222.2 C345.33,222.75 347.3,218.53 349.2,219.5 C351.1,220.47 353.48,226.47 355.2,228 C356.92,229.53 357.88,228.03 359.5,228.7 C361.12,229.37 363.28,231.77 364.9,232 C366.52,232.23 367.57,230.35 369.2,230.1 C370.83,229.85 373.07,230.25 374.7,230.5 C376.33,230.75 377.2,231.95 379,231.6 C380.8,231.25 383.7,228.43 385.5,228.4 C387.3,228.37 387.5,230.68 389.8,231.4 C392.1,232.12 396.77,232.68 399.3,232.7 C401.83,232.72 403.1,231.7 405,231.5 C406.9,231.3 409.03,231.33 410.7,231.5 C412.37,231.67 413.38,232.3 415,232.5 C416.62,232.7 418.57,232.83 420.4,232.7 C422.23,232.57 424.1,231.98 426,231.7 C427.9,231.42 430.13,230.88 431.8,231 C433.47,231.12 434.38,232.12 436,232.4 C437.62,232.68 439.67,232.77 441.5,232.7 C443.33,232.63 445.08,232.03 447,232 C448.92,231.97 451.33,232.45 453,232.5 C454.67,232.55 456.33,232.33 457,232.3" stroke="#1e90f0"/>
<path d="M277.5,330 C277.92,329.5 278.92,327.75 280,327 C281.08,326.25 282.67,326.08 284,325.5 C285.33,324.92 286.67,324.58 288,323.5 C289.33,322.42 290.67,320.92 292,319 C293.33,317.08 294.67,314.67 296,312 C297.33,309.33 298.67,306.17 300,303 C301.33,299.83 302.67,296.67 304,293 C305.33,289.33 306.82,284.03 308,281 C309.18,277.97 310.1,274.97 311.1,274.8 C312.1,274.63 313.02,276.63 314,280 C314.98,283.37 316,289.5 317,295 C318,300.5 319,307.83 320,313 C321,318.17 322.13,323.07 323,326 C323.87,328.93 324.37,330.43 325.2,330.6 C326.03,330.77 327.03,331.1 328,327 C328.97,322.9 330.05,310.9 331,306 C331.95,301.1 332.78,298.1 333.7,297.6 C334.62,297.1 335.62,299.6 336.5,303 C337.38,306.4 338.03,313.63 339,318 C339.97,322.37 341.43,328.7 342.3,329.2 C343.17,329.7 343.58,323.23 344.2,321 C344.82,318.77 345.28,315.97 346,315.8 C346.72,315.63 347.5,317.47 348.5,320 C349.5,322.53 350.92,331 352,331 C353.08,331 354,323.03 355,320 C356,316.97 357,312.8 358,312.8 C359,312.8 359.88,317.03 361,320 C362.12,322.97 363.53,329.1 364.7,330.6 C365.87,332.1 366.78,330.02 368,329 C369.22,327.98 370.62,325.72 372,324.5 C373.38,323.28 374.9,320.78 376.3,321.7 C377.7,322.62 379.17,329.03 380.4,330 C381.63,330.97 382.6,327.42 383.7,327.5 C384.8,327.58 385.62,330.08 387,330.5 C388.38,330.92 390.17,330 392,330 C393.83,330 395.83,330.5 398,330.5 C400.17,330.5 402.67,329.98 405,330 C407.33,330.02 409.5,330.57 412,330.6 C414.5,330.63 417,330.2 420,330.2 C423,330.2 426.67,330.57 430,330.6 C433.33,330.63 435.5,330.4 440,330.4 C444.5,330.4 454.17,330.57 457,330.6" stroke="#f8a060"/>
<path d="M277.5,331 C277.92,330.83 278.75,330.67 280,330 C281.25,329.33 283.33,327.83 285,327 C286.67,326.17 288.67,326.33 290,325 C291.33,323.67 292.17,320.33 293,319 C293.83,317.67 294.33,317.17 295,317 C295.67,316.83 296.17,319.17 297,318 C297.83,316.83 298.83,313.83 300,310 C301.17,306.17 302.67,301.17 304,295 C305.33,288.83 306.82,278.82 308,273 C309.18,267.18 310.18,260.93 311.1,260.1 C312.02,259.27 312.68,263.02 313.5,268 C314.32,272.98 315.08,282.67 316,290 C316.92,297.33 318,306.17 319,312 C320,317.83 320.87,322.17 322,325 C323.13,327.83 324.63,329.5 325.8,329 C326.97,328.5 328.05,324.67 329,322 C329.95,319.33 330.63,315.03 331.5,313 C332.37,310.97 333.12,309.63 334.2,309.8 C335.28,309.97 336.4,311.52 338,314 C339.6,316.48 342.22,323.2 343.8,324.7 C345.38,326.2 346.25,323.37 347.5,323 C348.75,322.63 349.88,322.17 351.3,322.5 C352.72,322.83 354.22,324.42 356,325 C357.78,325.58 359.8,325.83 362,326 C364.2,326.17 367.2,325.67 369.2,326 C371.2,326.33 372.2,327.5 374,328 C375.8,328.5 377.33,328.58 380,329 C382.67,329.42 386.67,330.33 390,330.5 C393.33,330.67 396.67,329.98 400,330 C403.33,330.02 406.67,330.55 410,330.6 C413.33,330.65 416.67,330.28 420,330.3 C423.33,330.32 426.67,330.7 430,330.7 C433.33,330.7 435.5,330.3 440,330.3 C444.5,330.3 454.17,330.63 457,330.7" stroke="#e0559f"/>
<path d="M277.5,327 C278.25,327.25 280.58,328.83 282,328.5 C283.42,328.17 284.67,326.08 286,325 C287.33,323.92 288.67,323.95 290,322 C291.33,320.05 292.83,314.3 294,313.3 C295.17,312.3 296,316.88 297,316 C298,315.12 298.83,311.5 300,308 C301.17,304.5 302.67,299.67 304,295 C305.33,290.33 306.83,284.17 308,280 C309.17,275.83 310.07,272.25 311,270 C311.93,267.75 312.77,266.5 313.6,266.5 C314.43,266.5 315.1,266.92 316,270 C316.9,273.08 318,279.67 319,285 C320,290.33 321,296.5 322,302 C323,307.5 323.72,313.47 325,318 C326.28,322.53 328.37,328.03 329.7,329.2 C331.03,330.37 331.95,326.53 333,325 C334.05,323.47 335.13,321.1 336,320 C336.87,318.9 337.37,317.9 338.2,318.4 C339.03,318.9 340.07,321.2 341,323 C341.93,324.8 342.7,329.03 343.8,329.2 C344.9,329.37 346.35,324.3 347.6,324 C348.85,323.7 350.07,327.4 351.3,327.4 C352.53,327.4 353.75,324.7 355,324 C356.25,323.3 357.63,323.28 358.8,323.2 C359.97,323.12 361.02,323.37 362,323.5 C362.98,323.63 363.87,323.25 364.7,324 C365.53,324.75 366.12,326.83 367,328 C367.88,329.17 368.67,330.83 370,331 C371.33,331.17 373.33,329.25 375,329 C376.67,328.75 377.83,329.28 380,329.5 C382.17,329.72 385.2,330.55 388,330.3 C390.8,330.05 394.13,328.05 396.8,328 C399.47,327.95 401.47,329.75 404,330 C406.53,330.25 409.47,329.88 412,329.5 C414.53,329.12 417.2,327.7 419.2,327.7 C421.2,327.7 422.28,329.45 424,329.5 C425.72,329.55 427.5,328 429.5,328 C431.5,328 433.42,329.12 436,329.5 C438.58,329.88 441.5,330.17 445,330.3 C448.5,330.43 455,330.3 457,330.3" stroke="#8cc63f"/>
</g>
<line x1="382.3" y1="243.9" x2="403.2" y2="243.9" stroke="#c07fcf" stroke-width="1.5" />
<text x="406.5" y="247.2" font-size="9.3" font-weight="bold">Fe Foil*0.1</text>
<line x1="382.3" y1="256.6" x2="403.2" y2="256.6" stroke="#1e90f0" stroke-width="1.5" />
<text x="406.5" y="259.9" font-size="9.3" font-weight="bold">Fe<tspan dy="2.5" font-size="6.8">2</tspan><tspan dy="-2.5">O</tspan><tspan dy="2.5" font-size="6.8">3</tspan><tspan dy="-2.5">*0.25</tspan></text>
<line x1="382.3" y1="269.5" x2="403.2" y2="269.5" stroke="#f8a060" stroke-width="1.5" />
<text x="406.5" y="272.8" font-size="9.3" font-weight="bold">FePc</text>
<line x1="382.3" y1="282.3" x2="403.2" y2="282.3" stroke="#e0559f" stroke-width="1.5" />
<text x="406.5" y="285.6" font-size="9.3" font-weight="bold">FeN<tspan dy="2.5" font-size="6.8">5</tspan><tspan dy="-2.5">-SD</tspan><tspan dy="2.5" font-size="6.8">2</tspan></text>
<line x1="382.3" y1="295.4" x2="403.2" y2="295.4" stroke="#8cc63f" stroke-width="1.5" />
<text x="406.5" y="298.7" font-size="9.3" font-weight="bold">FeN<tspan dy="2.5" font-size="6.8">5</tspan></text>
<text x="281.7" y="210" font-size="9.3" text-anchor="start" font-weight="bold" fill="#000" >Fe-O</text>
<text x="343.9" y="203.6" font-size="9.3" text-anchor="start" font-weight="bold" fill="#000" >Fe-Fe</text>
<text x="314.2" y="250" font-size="9.3" text-anchor="start" font-weight="bold" fill="#000" >Fe-N</text>
<line x1="303.3" y1="209.1" x2="306.5" y2="211.5" stroke="#000" stroke-width="1.0" />
<path d="M310.2,214.3 L303.9,212.6 L306.7,208.9Z" fill="#000"/>
<line x1="328.3" y1="204.4" x2="334" y2="203.8" stroke="#000" stroke-width="1.0" />
<path d="M340.5,203.2 L333.5,201.3 L333.9,206.1Z" fill="#000"/>
<line x1="312.4" y1="284" x2="312.4" y2="256" stroke="#000" stroke-width="1.0" />
<path d="M312.4,249.8 L310.1,257 L314.7,257Z" fill="#000"/>
<rect x="277.5" y="187" width="179.8" height="144.4" fill="none" stroke="#000" stroke-width="1.2" />
<line x1="277.5" y1="331.4" x2="277.5" y2="334.4" stroke="#000" stroke-width="1.1" />
<text x="277.5" y="346.2" font-size="11.4" text-anchor="middle" font-weight="bold" fill="#000" >0</text>
<line x1="299.95" y1="331.4" x2="299.95" y2="333.2" stroke="#000" stroke-width="1.1" />
<line x1="322.4" y1="331.4" x2="322.4" y2="334.4" stroke="#000" stroke-width="1.1" />
<text x="322.4" y="346.2" font-size="11.4" text-anchor="middle" font-weight="bold" fill="#000" >2</text>
<line x1="344.85" y1="331.4" x2="344.85" y2="333.2" stroke="#000" stroke-width="1.1" />
<line x1="367.3" y1="331.4" x2="367.3" y2="334.4" stroke="#000" stroke-width="1.1" />
<text x="367.3" y="346.2" font-size="11.4" text-anchor="middle" font-weight="bold" fill="#000" >4</text>
<line x1="389.75" y1="331.4" x2="389.75" y2="333.2" stroke="#000" stroke-width="1.1" />
<line x1="412.2" y1="331.4" x2="412.2" y2="334.4" stroke="#000" stroke-width="1.1" />
<text x="412.2" y="346.2" font-size="11.4" text-anchor="middle" font-weight="bold" fill="#000" >6</text>
<line x1="434.65" y1="331.4" x2="434.65" y2="333.2" stroke="#000" stroke-width="1.1" />
<line x1="457.1" y1="331.4" x2="457.1" y2="334.4" stroke="#000" stroke-width="1.1" />
<text x="457.1" y="346.2" font-size="11.4" text-anchor="middle" font-weight="bold" fill="#000" >8</text>
<text x="371.2" y="359.6" font-size="12" text-anchor="middle" font-weight="bold" fill="#000" >R (Å)</text>
<text transform="translate(271,333.9) rotate(-90)" font-size="12.3" font-weight="bold">Fourier transform of <tspan font-style="italic">k</tspan><tspan dy="-4.5" font-size="8.2">2</tspan><tspan dy="4.5" font-style="italic">χ</tspan><tspan dy="-5.5" font-size="8.2">(</tspan><tspan font-size="8.2" font-style="italic">k</tspan><tspan font-size="8.2">)</tspan></text>
<text x="228.3" y="200.1" font-size="18.8" font-weight="bold">c</text>
</g>
<g id="panelD">
<filter id="hb" x="-5%" y="-5%" width="110%" height="110%"><feGaussianBlur stdDeviation="0.5"/></filter>
<clipPath id="cpd0"><rect x="510.7" y="0.7" width="167.3" height="78"/></clipPath>
<g clip-path="url(#cpd0)">
<rect x="510.7" y="0.7" width="167.3" height="78" fill="#0096fa"/>
<g filter="url(#hb)">
<path d="M517.2,-0.3 523.9,-0.3 524.2,1.8 524.7,2.6 525.2,2.7 526.2,2.1 526.7,2.2 527.2,2.8 529.7,9.7 530.7,11.2 531.7,11.7 533.2,11.2 537.7,6.6 538.2,4.7 538.5,-0.3 551.3,-0.3 551.8,6.7 553.0,10.7 554.2,12.6 555.2,13.4 558.2,13.5 559.7,12.0 561.0,8.7 561.6,5.2 561.9,-0.3 565.0,-0.3 565.3,6.2 566.1,9.7 567.9,12.7 569.2,13.7 570.2,14.0 571.7,13.2 573.0,10.7 574.6,4.7 575.3,-0.3 581.6,-0.3 582.3,5.2 583.7,10.7 585.2,13.3 587.2,14.1 592.7,11.1 595.7,9.9 599.7,3.0 600.2,2.9 600.7,3.3 604.7,8.6 605.7,9.3 606.7,9.4 607.7,8.5 608.3,6.7 609.0,-0.3 617.2,-0.3 617.3,10.2 617.7,15.3 621.4,19.2 624.2,23.7 625.9,27.7 627.7,34.7 628.7,37.0 629.2,37.3 632.8,34.2 634.1,32.2 636.7,26.0 638.2,23.4 639.7,21.7 640.7,21.2 641.7,21.2 643.2,22.2 644.5,25.2 645.0,28.2 645.6,37.7 646.2,40.2 647.2,42.2 651.2,45.7 661.7,49.1 663.5,45.2 665.7,36.7 666.7,34.4 667.2,33.9 668.2,33.9 671.7,35.8 672.7,35.4 673.2,34.6 674.1,31.2 674.6,26.2 674.7,20.7 674.3,16.7 673.7,15.2 672.7,14.3 666.7,11.2 665.7,11.9 663.2,15.9 661.7,16.9 659.7,16.7 655.7,14.3 652.7,14.0 651.7,12.6 650.7,8.8 650.0,-0.3 674.8,-0.3 675.0,7.7 675.5,12.2 676.7,14.0 678.7,14.7 678.7,48.6 676.2,49.2 675.2,50.4 674.2,53.7 671.6,65.7 670.7,65.9 658.7,65.8 658.1,65.7 658.2,64.2 653.8,65.7 649.2,66.0 509.7,66.2 509.7,25.7 515.2,21.6 516.5,13.2 517.2,-0.3ZM635.1,-0.3 639.4,-0.3 639.2,6.3 638.7,11.7 638.2,14.1 637.2,15.8 636.7,15.7 636.2,14.9 635.4,11.7 635.1,-0.3Z" fill="#119dfa" fill-rule="evenodd"/>
<path d="M612.6,6.2 612.7,5.9 613.2,6.3 613.7,8.7 615.7,23.2 617.7,26.2 618.9,28.7 621.2,37.2 622.8,40.2 625.0,42.2 627.7,43.6 630.7,42.9 634.2,42.5 637.7,41.2 639.2,41.5 642.1,44.7 643.9,46.2 650.7,49.8 654.7,51.3 657.4,53.2 658.2,54.7 658.2,56.2 657.2,57.7 655.2,59.2 651.2,61.1 648.7,62.8 644.2,63.8 641.4,65.7 640.2,65.8 596.7,66.1 509.7,66.1 509.7,39.5 512.6,37.7 514.7,35.4 517.5,27.7 520.2,19.1 520.7,18.9 522.7,20.4 524.2,21.0 527.7,19.9 534.2,18.8 538.2,18.6 540.2,17.2 543.7,11.9 544.7,11.1 545.2,11.0 546.2,11.6 548.3,14.2 550.2,15.8 554.2,18.0 556.7,18.8 558.7,18.6 562.2,17.3 564.2,17.0 566.2,17.4 570.2,19.2 572.0,19.2 573.0,18.7 574.1,17.7 576.7,13.9 577.7,13.2 578.2,13.2 579.2,14.0 581.7,18.4 583.1,20.2 584.7,21.1 586.7,21.3 588.7,20.6 592.5,18.7 598.2,13.9 600.2,12.9 602.2,13.2 606.7,15.6 608.7,15.7 609.7,14.9 610.7,13.2 612.6,6.2ZM678.5,28.7 678.7,28.3 678.7,36.4 678.2,35.5 677.9,33.2 678.1,30.2 678.5,28.7ZM666.2,51.2 667.2,50.8 667.7,50.9 668.7,52.2 669.1,54.7 668.9,57.2 668.2,59.6 667.2,61.0 665.7,62.0 664.2,62.4 663.4,61.7 662.8,60.2 662.4,57.7 662.5,56.2 663.7,53.9 666.2,51.2Z" fill="#21a5fb" fill-rule="evenodd"/>
<path d="M599.4,18.2 601.2,17.9 603.7,18.6 609.7,21.7 611.2,22.9 612.2,24.3 613.3,27.2 615.1,30.7 617.7,39.4 619.3,41.7 621.7,43.6 627.2,46.2 631.2,46.2 638.2,46.9 641.8,48.7 648.2,51.0 652.1,53.2 653.2,54.7 653.0,56.2 651.7,57.6 648.7,59.6 643.2,61.3 638.7,63.6 633.0,65.7 585.2,66.1 509.7,66.0 509.7,42.5 514.7,40.9 519.8,37.7 523.1,34.2 528.7,27.3 532.1,24.7 534.2,23.9 538.7,23.1 543.2,19.7 544.7,19.2 546.2,19.6 549.7,21.2 556.7,22.7 558.7,22.7 564.7,21.8 566.7,21.9 572.2,24.2 577.0,24.7 580.7,27.8 581.7,28.2 583.2,28.2 585.7,27.8 587.2,27.1 596.7,19.7 599.4,18.2Z" fill="#32acfb" fill-rule="evenodd"/>
<path d="M598.4,22.7 600.7,22.2 603.7,22.7 606.2,23.9 608.3,25.7 610.6,29.2 614.2,39.7 615.5,41.7 617.7,43.7 621.7,46.0 626.7,48.0 637.2,49.4 646.7,52.5 648.6,53.7 649.4,55.2 648.7,56.7 647.2,57.8 630.2,64.1 624.2,64.7 620.9,65.7 573.7,66.0 509.7,65.9 509.7,44.2 521.2,41.1 528.7,37.9 529.8,36.7 532.0,31.7 533.2,30.2 534.7,29.1 539.2,27.3 543.2,24.6 545.2,24.2 549.7,25.6 557.7,26.7 565.2,26.3 567.5,26.7 569.7,28.2 571.2,29.9 572.0,31.7 573.2,35.7 574.6,37.7 577.2,39.2 580.2,39.5 583.5,38.7 586.7,36.8 587.9,35.2 590.1,30.7 591.8,28.2 595.3,24.7 598.4,22.7Z" fill="#50b7fb" fill-rule="evenodd"/>
<path d="M599.0,26.7 600.7,26.5 603.2,26.9 605.2,27.8 606.7,29.1 608.6,32.2 610.1,38.2 610.8,39.7 612.7,42.2 615.0,44.2 619.4,46.7 625.7,49.2 637.7,51.5 643.7,53.6 644.6,54.2 645.1,55.2 644.6,56.2 642.9,57.2 638.2,59.1 630.7,61.5 624.2,63.0 615.5,65.7 565.2,66.0 509.7,65.8 509.7,45.6 531.7,40.2 540.2,36.3 541.3,35.2 543.2,31.9 544.7,30.9 546.2,31.4 548.7,35.1 550.7,36.1 554.7,36.3 559.2,37.5 566.7,38.0 572.9,40.2 577.2,41.2 581.2,41.5 585.7,40.9 588.2,40.1 590.2,38.7 591.6,36.7 594.7,30.2 596.7,28.0 599.0,26.7Z" fill="#6ec2fa" fill-rule="evenodd"/>
<path d="M599.6,32.2 601.7,32.3 603.7,33.5 605.1,35.2 607.4,39.7 608.9,41.7 611.2,43.7 614.3,45.7 618.2,47.7 623.2,49.7 635.8,53.2 638.2,54.2 638.9,54.7 639.0,55.7 637.8,56.7 635.5,57.7 618.2,63.5 608.8,65.7 548.2,66.0 509.7,65.5 509.7,46.7 535.2,41.5 544.7,40.4 554.2,40.2 560.2,40.5 579.7,42.7 587.2,42.4 591.2,41.2 593.7,39.7 595.4,37.7 597.7,33.6 599.6,32.2Z" fill="#8ccdfa" fill-rule="evenodd"/>
<path d="M598.8,40.2 600.7,40.0 602.7,40.7 615.3,47.7 621.2,50.3 630.4,53.7 632.4,55.2 632.4,55.7 631.4,56.7 628.5,58.2 620.9,61.2 614.2,63.4 603.7,65.6 599.2,65.8 518.2,65.7 516.2,65.7 509.7,64.6 509.7,47.7 528.2,44.0 541.7,42.3 550.2,41.8 557.7,41.8 579.2,43.6 585.2,43.7 591.7,42.8 598.8,40.2Z" fill="#a5d7fb" fill-rule="evenodd"/>
<path d="M544.2,43.2 559.2,42.9 584.7,44.6 590.4,44.2 598.2,42.8 600.7,42.9 605.7,44.5 624.8,53.2 627.2,54.7 627.5,55.7 626.8,56.7 624.5,58.2 616.1,61.7 607.7,64.0 598.1,65.7 539.2,65.8 521.5,65.7 518.7,65.3 509.7,63.7 509.7,48.7 527.7,45.0 544.2,43.2Z" fill="#bee2fc" fill-rule="evenodd"/>
<path d="M552.5,43.7 563.2,43.9 584.2,45.3 589.2,45.2 597.7,44.3 600.7,44.5 606.7,46.3 618.4,51.7 622.8,54.2 623.6,55.7 622.5,57.2 620.2,58.7 612.7,61.8 603.7,64.1 592.6,65.7 526.7,65.7 517.7,64.4 509.7,62.8 509.7,49.6 519.2,47.4 530.7,45.4 541.2,44.3 552.5,43.7Z" fill="#d7ecfd" fill-rule="evenodd"/>
<path d="M545.6,44.7 561.2,44.5 585.2,46.0 596.7,45.5 600.2,45.7 606.2,47.3 613.8,50.7 619.1,53.7 620.0,54.7 620.3,55.7 619.4,57.2 617.3,58.7 613.7,60.4 609.2,62.0 599.7,64.1 586.7,65.7 532.2,65.7 522.7,64.6 515.7,63.4 509.7,61.9 509.7,50.5 517.2,48.5 526.2,46.8 535.7,45.5 545.6,44.7Z" fill="#e3f1fe" fill-rule="evenodd"/>
<path d="M548.5,45.2 561.2,45.1 584.2,46.5 596.2,46.4 599.7,46.7 605.2,48.0 611.7,50.8 616.4,53.7 617.3,54.7 617.5,55.7 616.7,57.2 614.7,58.7 611.6,60.2 607.2,61.7 597.7,63.8 584.2,65.4 578.7,65.7 538.3,65.7 523.2,64.0 515.7,62.6 509.7,61.0 509.7,51.5 517.2,49.3 527.2,47.3 537.7,46.0 548.5,45.2Z" fill="#eef7fe" fill-rule="evenodd"/>
<path d="M550.7,45.7 563.7,45.7 584.2,47.1 596.2,47.3 599.7,47.6 604.7,48.9 610.1,51.2 614.0,53.7 614.8,54.7 615.0,55.7 614.2,57.2 612.3,58.7 609.1,60.2 605.2,61.5 596.2,63.5 582.7,65.0 573.0,65.7 546.1,65.7 534.7,64.9 524.7,63.7 515.7,61.9 509.7,59.9 509.7,52.6 516.7,50.2 527.2,48.0 538.7,46.5 550.7,45.7Z" fill="#fafcff" fill-rule="evenodd"/>
<path d="M552.0,46.2 565.7,46.3 599.2,48.4 604.2,49.7 608.8,51.7 611.7,53.7 612.5,54.7 612.7,55.7 611.9,57.2 609.9,58.7 603.7,61.2 594.7,63.1 581.7,64.6 567.7,65.5 553.2,65.5 539.2,64.8 526.2,63.3 516.7,61.4 510.7,59.1 509.7,58.5 509.7,54.0 510.1,53.7 513.1,52.2 516.2,51.1 526.7,48.7 538.7,47.0 552.0,46.2Z" fill="#fbf8fa" fill-rule="evenodd"/>
<path d="M552.1,46.7 566.7,46.9 598.2,49.0 602.7,50.1 606.7,51.8 609.5,53.7 610.3,54.7 610.5,55.7 609.7,57.2 608.2,58.4 605.6,59.7 601.7,61.0 593.2,62.8 580.2,64.3 567.2,65.1 553.2,65.1 539.7,64.4 527.7,63.0 518.7,61.2 515.2,60.0 512.4,58.7 511.2,57.7 510.5,56.2 511.2,54.7 512.5,53.7 515.2,52.3 518.5,51.2 528.2,49.0 539.7,47.5 552.1,46.7Z" fill="#fdf4f5" fill-rule="evenodd"/>
<path d="M551.5,47.2 567.2,47.4 597.2,49.6 601.2,50.5 605.2,52.2 607.8,54.2 608.4,55.7 607.7,57.1 606.3,58.2 603.7,59.5 600.2,60.7 591.7,62.5 579.7,63.9 567.2,64.7 554.2,64.7 541.2,64.1 529.7,62.8 520.7,61.0 517.2,59.9 514.7,58.7 513.4,57.7 512.8,56.7 513.1,55.2 514.0,54.2 516.2,52.9 519.4,51.7 528.2,49.6 539.2,48.0 551.5,47.2Z" fill="#fef0f0" fill-rule="evenodd"/>
<path d="M550.4,47.7 559.2,47.5 567.7,47.8 596.2,50.2 600.2,51.1 603.7,52.6 605.7,54.2 606.3,55.7 605.5,57.2 604.2,58.2 599.2,60.3 590.7,62.1 579.2,63.5 567.2,64.3 555.2,64.3 543.2,63.8 532.2,62.7 522.7,60.8 517.0,58.7 515.6,57.7 515.0,56.7 515.2,55.2 516.2,54.2 517.9,53.2 521.2,51.9 529.2,50.0 539.2,48.5 550.4,47.7Z" fill="#fde4e4" fill-rule="evenodd"/>
<path d="M549.3,48.2 558.7,48.0 567.7,48.3 594.3,50.7 598.7,51.6 601.6,52.7 603.6,54.2 604.2,55.7 603.4,57.2 602.0,58.2 597.2,60.1 589.7,61.7 578.7,63.1 567.7,63.9 556.2,64.0 544.7,63.5 534.2,62.4 526.2,61.0 520.3,59.2 518.4,58.2 517.4,57.2 517.0,56.2 517.8,54.7 521.4,52.7 528.7,50.6 538.2,49.1 549.3,48.2Z" fill="#fdd9d9" fill-rule="evenodd"/>
<path d="M548.2,48.7 557.7,48.4 567.2,48.7 591.7,51.0 595.7,51.7 599.1,52.7 601.5,54.2 602.1,55.7 601.7,56.7 600.7,57.7 596.0,59.7 588.2,61.4 578.2,62.7 568.2,63.4 557.2,63.6 546.2,63.2 536.2,62.2 528.2,60.9 522.6,59.2 520.6,58.2 519.5,57.2 519.1,56.2 519.5,55.2 520.6,54.2 522.4,53.2 528.9,51.2 537.7,49.7 548.2,48.7Z" fill="#fccdcd" fill-rule="evenodd"/>
<path d="M547.3,49.2 556.2,48.8 564.7,49.0 573.7,49.5 584.1,50.7 591.5,51.7 596.1,52.7 599.2,54.2 600.0,55.7 599.6,56.7 598.4,57.7 594.2,59.4 586.7,61.1 577.7,62.4 568.2,63.1 558.2,63.2 547.7,62.9 538.2,62.0 530.2,60.7 524.9,59.2 522.8,58.2 521.6,57.2 521.2,56.2 521.6,55.2 522.7,54.2 524.7,53.2 530.2,51.5 537.7,50.2 547.3,49.2Z" fill="#fbbcbc" fill-rule="evenodd"/>
<path d="M546.4,49.7 562.2,49.3 577.7,50.4 592.7,52.7 596.6,54.2 597.7,55.7 597.3,56.7 596.0,57.7 592.4,59.2 585.7,60.8 576.7,62.0 567.7,62.7 558.2,62.8 548.7,62.5 539.7,61.8 532.9,60.7 527.2,59.2 524.2,57.7 523.4,56.7 523.4,55.7 524.2,54.7 525.8,53.7 530.2,52.2 537.5,50.7 546.4,49.7Z" fill="#faacac" fill-rule="evenodd"/>
<path d="M554.9,49.7 569.2,50.0 583.6,51.7 589.0,52.7 592.6,53.7 594.5,54.7 595.0,55.2 595.1,56.2 594.3,57.2 592.5,58.2 587.8,59.7 580.7,61.1 572.7,62.0 563.7,62.4 554.2,62.4 544.7,61.8 536.7,60.8 530.2,59.4 526.4,57.7 525.4,56.2 525.8,55.2 527.1,54.2 530.8,52.7 537.6,51.2 545.8,50.2 554.9,49.7Z" fill="#f99b9b" fill-rule="evenodd"/>
<path d="M552.6,50.2 566.2,50.3 580.1,51.7 589.5,53.7 591.7,54.7 592.3,55.2 592.6,56.2 591.0,57.7 587.0,59.2 579.8,60.7 572.2,61.6 563.7,62.0 555.2,62.0 546.7,61.6 539.0,60.7 533.7,59.7 529.5,58.2 527.6,56.7 527.6,55.7 528.5,54.7 531.7,53.2 537.7,51.7 544.7,50.8 552.6,50.2Z" fill="#f88787" fill-rule="evenodd"/>
<path d="M551.2,50.7 564.2,50.6 576.6,51.7 586.4,53.7 588.8,54.7 589.5,55.2 589.9,56.2 588.4,57.7 584.3,59.2 578.7,60.3 571.7,61.2 556.7,61.7 548.7,61.3 541.7,60.6 536.2,59.6 531.8,58.2 529.8,56.7 529.7,56.1 530.1,55.2 532.7,53.7 537.7,52.3 544.2,51.3 551.2,50.7Z" fill="#f77373" fill-rule="evenodd"/>
<path d="M550.4,51.2 562.7,51.0 574.7,51.9 579.7,52.8 584.2,53.9 586.8,55.2 587.3,56.2 586.6,57.2 585.8,57.7 583.2,58.7 578.2,59.9 571.2,60.8 564.2,61.2 556.7,61.2 549.2,60.9 542.7,60.2 537.3,59.2 534.2,58.2 532.1,56.7 532.0,55.7 532.4,55.2 535.2,53.7 538.9,52.7 544.2,51.8 550.4,51.2Z" fill="#f65f5f" fill-rule="evenodd"/>
<path d="M550.1,51.7 561.7,51.4 572.7,52.2 578.6,53.2 582.1,54.2 584.1,55.2 584.7,56.2 584.0,57.2 583.2,57.7 580.5,58.7 575.9,59.7 570.7,60.4 557.7,60.8 545.2,60.0 540.3,59.2 536.7,58.2 534.8,57.2 534.4,56.7 534.3,55.7 536.5,54.2 539.7,53.2 550.1,51.7Z" fill="#f54b4b" fill-rule="evenodd"/>
<path d="M550.2,52.2 560.7,51.8 571.2,52.6 579.3,54.2 581.4,55.2 582.0,56.2 581.4,57.2 579.2,58.2 575.2,59.2 570.2,59.9 558.7,60.4 547.0,59.7 542.7,59.0 539.2,58.1 536.8,56.7 536.8,55.7 538.0,54.7 540.7,53.7 550.2,52.2Z" fill="#f33737" fill-rule="evenodd"/>
<path d="M550.7,52.7 560.2,52.3 569.7,52.9 576.2,54.2 578.6,55.2 579.3,56.2 578.6,57.2 576.2,58.2 568.7,59.5 558.7,59.9 548.2,59.3 544.6,58.7 541.1,57.7 539.5,56.7 539.4,55.7 540.8,54.7 543.2,53.9 550.7,52.7Z" fill="#f22323" fill-rule="evenodd"/>
<path d="M551.9,53.2 560.2,52.9 568.2,53.4 574.5,54.7 575.7,55.3 576.5,56.2 575.7,57.1 574.5,57.7 567.2,59.1 558.2,59.4 549.7,58.8 543.7,57.5 542.4,56.7 542.1,56.2 542.3,55.7 543.7,54.8 545.5,54.2 551.9,53.2Z" fill="#f11919" fill-rule="evenodd"/>
<path d="M554.0,53.7 560.7,53.5 566.7,53.9 571.2,54.8 573.0,55.7 573.2,56.2 572.2,57.2 570.7,57.7 565.7,58.5 558.2,58.8 551.2,58.3 546.6,57.2 545.8,56.7 545.5,56.2 545.6,55.7 548.2,54.6 554.0,53.7Z" fill="#ef0f0f" fill-rule="evenodd"/>
</g>
<path d="M509.7,43.4 517.5,41.2 523.1,38.7 525.8,36.7 531.7,30.7 535.9,28.2 539.2,26.9 542.7,25.8 546.2,25.1 550.2,24.7 554.7,24.6 558.7,24.9 562.2,25.6 565.5,26.7 568.2,28.2 569.9,29.7 570.8,31.2 572.0,34.7 572.7,35.7 573.8,36.7 575.6,37.7 578.2,38.5 580.7,38.8 583.2,38.6 585.2,37.9 586.7,36.6 587.6,35.2 589.1,31.2 590.1,29.2 591.5,27.2 593.2,25.4 595.2,23.9 597.2,22.9 599.2,22.4 601.2,22.3 603.7,22.7 606.4,23.7 608.7,25.1 610.7,27.0 612.2,29.0 613.3,31.2 615.2,37.8 616.2,40.1 617.8,42.2 620.2,44.1 624.2,46.1 628.7,47.7 634.4,49.2 644.2,51.1 647.2,52.0 648.9,52.7 650.2,53.6 650.8,54.2 651.2,55.2 650.9,56.2 649.9,57.2 646.7,58.8 622.5,65.7 579.2,66.1 509.7,65.9M509.7,47.2 522.7,44.5 530.7,43.0 538.7,42.0 547.2,41.3 557.7,41.2 579.2,43.2 583.2,43.3 586.7,43.1 589.7,42.7 592.7,41.7 595.5,40.2 599.2,37.3 600.7,36.9 602.7,38.0 608.9,43.2 614.7,46.7 621.7,49.8 633.2,53.7 635.0,54.7 635.3,55.2 635.2,55.7 634.8,56.2 633.1,57.2 622.2,61.4 614.2,63.9 605.7,65.7 571.2,65.9 529.2,65.9 513.5,65.7 509.7,65.0M509.7,50.0 517.7,48.1 526.7,46.4 536.2,45.1 545.2,44.4 553.2,44.1 560.7,44.1 585.2,45.6 598.7,45.0 601.2,45.3 604.2,46.0 611.7,49.1 619.8,53.2 621.6,54.7 621.9,55.7 620.9,57.2 618.7,58.7 615.2,60.4 610.7,62.0 606.2,63.2 601.2,64.2 589.7,65.7 529.4,65.7 518.7,64.3 509.7,62.4M509.7,53.2 513.1,51.7 518.0,50.2 524.2,48.8 531.2,47.6 538.2,46.8 546.7,46.2 561.2,45.9 584.7,47.4 596.7,47.7 600.2,48.1 605.2,49.6 609.9,51.7 612.8,53.7 613.6,54.7 613.8,55.7 613.1,57.2 610.2,59.2 606.2,60.8 600.7,62.3 594.7,63.4 586.2,64.5 577.2,65.2 568.7,65.7 550.2,65.6 540.7,65.2 532.7,64.4 525.2,63.5 518.5,62.2 513.1,60.7 509.7,59.2M546.1,47.7 555.7,47.3 565.2,47.5 596.2,49.9 600.3,50.7 604.1,52.2 605.7,53.2 606.7,54.1 607.1,54.7 607.3,55.7 606.5,57.2 605.3,58.2 603.3,59.2 600.2,60.3 592.2,62.1 580.7,63.6 568.7,64.4 556.7,64.6 544.2,64.1 533.2,63.0 523.2,61.3 519.3,60.2 516.8,59.2 515.1,58.2 514.1,57.2 513.8,56.2 514.6,54.7 515.9,53.7 518.7,52.4 525.7,50.4 535.2,48.7 546.1,47.7M553.1,48.7 561.7,48.7 570.2,49.0 591.7,51.4 596.0,52.2 598.8,53.2 600.3,54.2 600.8,54.7 601.1,55.7 600.7,56.7 599.5,57.7 597.6,58.7 594.7,59.7 586.7,61.4 576.4,62.7 566.2,63.3 555.2,63.4 544.2,62.8 534.7,61.8 526.8,60.2 523.7,59.2 521.7,58.2 520.5,57.2 520.2,56.2 520.5,55.2 521.7,54.2 523.6,53.2 526.4,52.2 533.7,50.5 542.7,49.3 553.1,48.7M548.6,50.2 556.2,49.9 563.7,49.9 571.2,50.4 578.4,51.2 586.2,52.5 591.1,53.7 593.1,54.7 593.6,55.2 593.9,56.2 593.0,57.2 592.3,57.7 588.3,59.2 581.4,60.7 573.7,61.7 565.7,62.2 557.2,62.3 548.7,61.9 540.7,61.2 534.7,60.2 529.4,58.7 526.9,57.2 526.4,56.2 526.9,55.2 529.2,53.7 534.0,52.2 540.7,51.0 548.6,50.2M555.1,51.2 565.7,51.3 575.7,52.4 580.1,53.2 583.5,54.2 585.4,55.2 586.0,56.2 585.3,57.2 584.5,57.7 581.7,58.8 576.2,59.9 569.5,60.7 562.7,61.0 555.2,61.0 548.2,60.6 541.7,59.8 536.9,58.7 534.2,57.6 533.2,56.7 533.0,56.2 533.5,55.2 534.2,54.7 537.7,53.3 542.2,52.4 548.2,51.6 555.1,51.2M554.7,52.7 563.2,52.7 570.2,53.3 573.7,54.0 576.1,54.7 577.2,55.2 577.7,55.7 577.9,56.2 577.7,56.7 577.2,57.2 574.6,58.2 567.2,59.4 557.2,59.6 551.7,59.3 547.2,58.8 544.2,58.2 541.5,57.2 540.9,56.7 540.7,56.2 540.8,55.7 541.3,55.2 543.7,54.2 545.8,53.7 549.7,53.1 554.7,52.7" fill="none" stroke="#333" stroke-width="0.5" opacity="0.8"/>
</g>
<rect x="510.7" y="0.7" width="167.3" height="78" fill="none" stroke="#000" stroke-width="1.6"/>
<clipPath id="cpd1"><rect x="509.6" y="81.6" width="169.1" height="80.2"/></clipPath>
<g clip-path="url(#cpd1)">
<rect x="509.6" y="81.6" width="169.1" height="80.2" fill="#0096fa"/>
<g filter="url(#hb)">
<path d="M545.3,80.6 550.7,80.6 551.1,91.1 550.8,96.1 549.6,101.2 548.6,103.3 547.6,103.9 546.6,102.5 546.1,100.9 545.3,96.1 545.1,90.1 545.3,80.6ZM561.5,80.6 567.9,80.6 568.5,91.1 569.6,99.0 570.1,99.9 570.6,99.5 572.1,96.4 573.1,95.2 574.1,95.3 574.6,96.0 575.6,98.9 576.5,107.1 577.1,108.9 586.6,108.6 588.6,107.0 589.6,107.2 590.6,107.9 595.1,107.3 598.6,107.2 601.1,100.2 602.1,99.0 603.1,99.0 604.6,100.6 606.6,105.6 608.6,107.9 609.8,110.6 613.5,113.6 620.1,120.4 623.4,123.1 624.1,123.6 624.6,123.4 626.1,119.4 627.1,118.6 628.1,118.8 629.6,120.0 630.6,121.3 633.6,127.9 652.6,133.9 653.2,133.1 653.9,130.6 654.6,121.1 656.1,111.0 656.8,94.6 657.1,93.9 657.6,93.6 658.6,93.9 660.1,96.2 661.1,99.6 663.8,118.1 665.1,138.1 664.9,141.6 664.3,143.1 662.6,144.9 660.6,146.0 657.6,147.1 653.1,147.8 651.8,149.1 650.1,149.2 607.6,149.5 508.6,149.5 508.6,113.8 512.6,102.2 514.1,99.4 515.1,98.8 516.1,99.1 519.6,103.1 523.6,105.9 524.7,108.6 526.1,115.3 533.6,114.1 535.1,113.2 536.6,113.5 538.1,113.2 547.6,109.7 553.1,108.7 558.1,108.4 558.9,107.6 559.5,105.1 560.0,95.6 561.5,80.6ZM621.2,80.6 632.5,80.6 632.1,89.6 631.1,97.1 628.1,107.5 627.1,109.8 626.1,110.8 625.1,109.7 624.1,106.9 622.3,98.6 621.5,91.1 621.2,80.6ZM641.0,80.6 656.4,80.6 656.4,93.1 652.1,100.5 650.6,101.9 649.6,101.9 648.1,100.9 646.6,98.7 645.3,96.1 642.0,88.1 641.3,84.6 641.0,80.6ZM671.6,80.6 678.6,80.6 678.9,83.6 679.6,85.2 679.6,105.9 677.6,106.1 676.6,105.7 675.1,103.9 674.1,101.6 673.1,97.6 672.5,93.1 671.6,80.6Z" fill="#119dfa" fill-rule="evenodd"/>
<path d="M623.4,80.6 630.0,80.6 629.7,86.6 629.0,91.6 627.9,95.6 626.6,97.6 626.1,97.6 625.6,97.1 625.1,96.2 624.2,92.6 623.6,87.2 623.4,80.6ZM646.1,80.6 653.2,80.6 652.9,85.1 652.2,88.6 651.1,91.5 650.1,92.5 649.1,92.4 648.6,91.9 647.4,89.6 646.4,85.1 646.1,80.6ZM515.0,108.6 516.1,108.2 517.1,108.9 520.1,113.2 521.6,116.4 523.5,123.6 524.6,125.6 525.1,125.9 531.6,124.9 534.1,122.2 535.6,121.3 537.1,121.7 539.1,123.3 539.7,123.1 542.6,121.4 548.7,116.1 551.1,114.9 554.1,114.0 556.6,113.8 561.1,114.0 565.1,115.4 568.6,115.8 577.1,114.6 586.1,115.0 588.1,113.3 589.1,112.8 590.1,112.9 592.1,113.7 595.6,112.9 599.1,112.8 600.6,112.3 601.6,112.3 606.1,115.6 608.0,117.6 609.6,120.1 611.7,125.1 612.9,126.6 614.1,127.5 618.1,129.1 624.6,130.8 626.1,130.3 629.1,128.6 630.1,128.7 634.6,133.3 642.6,135.9 647.6,138.4 649.5,140.1 650.0,141.1 650.0,142.1 649.6,143.2 648.8,144.1 644.9,145.6 639.1,147.2 630.0,149.1 588.1,149.5 508.6,149.4 508.6,128.4 512.1,127.9 513.0,126.1 513.4,123.6 513.4,113.6 514.1,110.3 515.0,108.6Z" fill="#21a5fb" fill-rule="evenodd"/>
<path d="M595.8,117.1 597.6,116.9 600.1,117.2 601.1,117.5 602.6,118.6 604.5,121.1 606.3,126.6 607.7,128.1 609.5,129.1 613.8,130.6 624.6,133.1 630.1,132.9 631.6,133.7 634.6,136.0 640.2,138.6 641.9,140.1 642.4,141.1 642.4,142.1 641.2,143.6 638.2,145.1 630.6,147.3 620.4,149.1 572.1,149.4 508.6,149.2 508.6,130.9 512.6,130.3 515.6,128.9 517.1,128.6 521.1,128.3 524.6,128.9 531.1,128.2 535.1,126.9 539.1,127.4 543.6,126.6 545.6,125.9 547.1,124.9 549.6,121.1 551.8,119.1 553.6,118.1 555.1,117.7 557.1,117.6 559.1,117.9 565.1,120.7 567.6,121.2 569.6,120.8 574.6,119.0 577.1,118.6 580.1,118.8 586.1,120.0 586.6,119.9 589.1,117.7 590.6,117.5 592.6,118.0 595.8,117.1Z" fill="#32acfb" fill-rule="evenodd"/>
<path d="M576.6,124.6 579.1,124.7 583.6,126.2 587.1,126.9 590.1,126.0 593.1,126.5 597.1,126.2 603.1,129.1 609.0,131.1 624.6,134.8 629.1,135.3 630.6,135.8 636.0,139.6 636.8,140.6 637.1,141.6 636.8,142.6 635.7,143.6 631.4,145.6 621.1,147.8 612.0,149.1 543.6,149.4 512.1,149.1 508.6,148.8 508.6,132.4 517.6,130.8 524.1,130.5 531.1,129.9 534.6,129.2 539.1,129.2 545.1,128.5 547.1,128.1 551.6,126.2 554.1,125.7 556.6,124.8 558.1,125.0 563.1,126.5 566.6,126.8 570.6,126.4 576.6,124.6Z" fill="#50b7fb" fill-rule="evenodd"/>
<path d="M556.3,128.6 567.1,128.8 578.1,128.4 599.1,130.2 619.1,134.7 629.1,137.5 631.1,138.6 632.2,139.6 633.0,141.1 633.0,142.1 632.3,143.1 630.6,144.2 623.6,146.2 615.1,147.9 603.3,149.1 566.6,149.3 523.1,149.1 508.6,148.0 508.6,133.6 520.1,131.9 545.1,129.8 552.1,128.8 556.3,128.6Z" fill="#6ec2fa" fill-rule="evenodd"/>
<path d="M552.5,130.1 577.6,129.8 598.6,131.5 613.1,134.4 621.6,136.6 627.4,139.1 628.7,140.1 629.3,141.6 628.9,142.6 627.1,143.9 620.1,146.1 609.1,147.9 596.3,149.1 528.7,149.1 508.6,147.3 508.6,134.6 521.6,132.7 552.5,130.1Z" fill="#8ccdfa" fill-rule="evenodd"/>
<path d="M551.1,131.1 558.1,130.8 577.1,130.8 598.1,132.4 609.1,134.4 619.1,137.0 624.0,139.1 625.2,140.1 625.9,141.6 625.0,143.1 623.2,144.1 616.1,146.1 604.1,147.9 588.9,149.1 537.3,149.1 523.1,148.2 510.1,146.8 508.6,146.6 508.6,135.5 526.6,133.0 551.1,131.1Z" fill="#a5d7fb" fill-rule="evenodd"/>
<path d="M554.7,131.6 577.6,131.5 591.1,132.4 599.1,133.3 609.6,135.3 617.1,137.4 621.7,139.6 622.7,140.6 623.0,141.6 622.6,142.6 622.1,143.1 620.1,144.1 612.6,146.1 599.6,147.9 583.6,149.0 544.1,149.0 525.6,147.9 511.6,146.4 508.6,145.9 508.6,136.4 517.1,134.8 528.1,133.5 554.7,131.6Z" fill="#bee2fc" fill-rule="evenodd"/>
<path d="M558.6,132.1 579.1,132.2 590.6,133.0 599.1,134.0 608.1,135.7 614.8,137.6 619.0,139.6 620.1,140.6 620.4,141.6 620.0,142.6 619.4,143.1 617.3,144.1 609.6,146.0 596.6,147.7 581.1,148.7 564.1,149.0 544.6,148.6 527.6,147.7 513.1,146.0 508.6,145.2 508.6,137.2 517.6,135.4 529.1,134.0 544.1,132.8 558.6,132.1Z" fill="#d7ecfd" fill-rule="evenodd"/>
<path d="M561.0,132.6 580.1,132.8 592.1,133.7 599.6,134.7 607.6,136.3 613.5,138.1 616.5,139.6 617.6,140.6 617.9,141.6 617.5,142.6 615.9,143.6 613.1,144.6 608.1,145.8 596.1,147.4 581.1,148.4 564.1,148.7 545.1,148.3 528.6,147.3 515.1,145.8 508.6,144.5 508.6,138.2 509.6,137.9 518.6,135.9 530.6,134.4 548.6,133.0 561.0,132.6Z" fill="#e3f1fe" fill-rule="evenodd"/>
<path d="M558.8,133.1 579.1,133.3 589.1,134.0 597.6,135.0 605.1,136.4 611.0,138.1 614.1,139.6 615.2,140.6 615.6,141.6 615.1,142.6 613.5,143.6 610.6,144.6 606.1,145.6 595.1,147.1 581.1,148.0 565.1,148.4 546.6,148.0 531.1,147.2 518.1,145.7 512.0,144.6 508.6,143.6 508.6,139.3 511.6,138.2 519.6,136.4 530.6,134.9 544.6,133.7 558.8,133.1Z" fill="#eef7fe" fill-rule="evenodd"/>
<path d="M556.0,133.6 577.6,133.7 595.6,135.2 602.6,136.5 608.6,138.1 611.9,139.6 613.0,140.6 613.4,141.6 612.9,142.6 611.2,143.6 604.6,145.4 594.1,146.8 580.6,147.7 565.6,148.1 548.6,147.8 533.1,147.0 521.1,145.7 512.9,144.1 509.4,142.6 508.8,141.6 509.3,140.6 510.7,139.6 513.1,138.6 520.1,136.9 530.1,135.4 542.1,134.3 556.0,133.6Z" fill="#fafcff" fill-rule="evenodd"/>
<path d="M553.4,134.1 575.6,134.0 593.1,135.4 600.4,136.6 606.2,138.1 609.7,139.6 610.9,140.6 611.3,141.6 610.7,142.6 609.0,143.6 603.4,145.1 593.6,146.5 581.1,147.4 567.1,147.8 551.1,147.6 536.6,146.9 524.6,145.7 515.6,144.1 511.9,142.6 511.4,142.1 511.4,141.1 512.4,140.1 514.4,139.1 520.6,137.4 529.6,136.0 540.6,134.9 553.4,134.1Z" fill="#fbf8fa" fill-rule="evenodd"/>
<path d="M551.0,134.6 573.6,134.4 582.1,134.8 591.1,135.6 598.1,136.7 604.1,138.2 607.6,139.6 608.8,140.6 609.2,141.6 608.7,142.6 606.8,143.6 601.1,145.1 592.1,146.3 580.6,147.1 567.6,147.5 552.6,147.3 539.1,146.7 527.6,145.7 520.5,144.6 515.2,143.1 514.4,142.6 513.7,141.6 514.3,140.6 515.8,139.6 520.6,138.1 529.1,136.5 539.1,135.4 551.0,134.6Z" fill="#fdf4f5" fill-rule="evenodd"/>
<path d="M548.6,135.1 559.1,134.7 571.1,134.7 579.6,135.0 588.6,135.8 596.1,136.8 602.1,138.2 606.1,140.0 606.8,140.6 607.2,141.6 606.6,142.6 605.8,143.1 600.6,144.7 592.1,146.0 581.1,146.8 568.6,147.2 555.1,147.1 542.1,146.6 530.6,145.7 523.2,144.6 517.7,143.1 516.7,142.6 516.1,141.6 516.6,140.6 517.3,140.1 521.2,138.6 528.4,137.1 537.6,135.9 548.6,135.1Z" fill="#fef0f0" fill-rule="evenodd"/>
<path d="M557.1,135.1 575.6,135.2 590.6,136.4 596.6,137.4 601.0,138.6 604.3,140.1 605.3,141.6 604.7,142.6 603.8,143.1 598.6,144.6 590.1,145.8 578.6,146.7 566.1,147.0 552.1,146.8 539.6,146.1 529.2,145.1 523.4,144.1 519.1,142.6 518.5,142.1 518.6,141.0 519.7,140.1 522.1,139.1 528.1,137.7 536.1,136.5 546.1,135.6 557.1,135.1Z" fill="#fde4e4" fill-rule="evenodd"/>
<path d="M552.9,135.6 572.1,135.4 587.6,136.5 594.1,137.5 598.9,138.6 602.3,140.1 602.9,140.6 603.4,141.6 602.7,142.6 601.8,143.1 596.4,144.6 588.6,145.7 578.6,146.4 567.1,146.7 554.6,146.6 542.6,146.1 532.6,145.1 526.0,144.1 522.1,143.0 520.8,142.1 520.7,141.6 521.3,140.6 522.1,140.1 526.4,138.6 533.1,137.3 542.1,136.3 552.9,135.6Z" fill="#fdd9d9" fill-rule="evenodd"/>
<path d="M550.0,136.1 569.1,135.7 585.1,136.6 591.6,137.5 596.7,138.6 600.4,140.1 601.1,140.7 601.5,141.6 600.8,142.6 599.8,143.1 595.6,144.3 588.6,145.4 579.1,146.1 568.1,146.5 556.6,146.4 545.6,146.0 535.6,145.1 528.5,144.1 524.7,143.1 523.0,142.1 523.1,141.1 523.6,140.6 527.0,139.1 532.6,137.9 540.6,136.8 550.0,136.1Z" fill="#fccdcd" fill-rule="evenodd"/>
<path d="M558.0,136.1 573.6,136.1 586.6,137.2 592.3,138.1 596.1,139.1 598.4,140.1 599.1,140.6 599.6,141.6 598.8,142.6 597.8,143.1 593.6,144.2 586.1,145.3 576.6,146.0 566.1,146.2 554.1,146.1 543.6,145.5 534.3,144.6 528.7,143.6 525.9,142.6 525.3,142.1 525.3,141.1 527.9,139.6 532.6,138.4 539.6,137.4 558.0,136.1Z" fill="#fbbcbc" fill-rule="evenodd"/>
<path d="M553.6,136.6 570.1,136.4 583.6,137.2 589.7,138.1 593.9,139.1 596.4,140.1 597.1,140.6 597.7,141.6 596.9,142.6 595.8,143.1 592.0,144.1 585.1,145.1 577.1,145.7 556.6,145.9 538.1,144.7 531.2,143.6 528.2,142.6 527.4,141.6 528.1,140.6 529.0,140.1 532.1,139.1 538.1,138.0 553.6,136.6Z" fill="#faacac" fill-rule="evenodd"/>
<path d="M550.9,137.1 567.1,136.7 581.1,137.3 587.0,138.1 591.7,139.1 594.4,140.1 595.2,140.6 595.7,141.6 595.6,142.1 594.6,142.7 590.6,143.9 585.1,144.7 577.1,145.4 558.6,145.7 541.1,144.7 536.1,144.0 531.6,143.0 529.8,142.1 529.6,141.6 530.4,140.6 532.8,139.6 537.2,138.6 550.9,137.1Z" fill="#f99b9b" fill-rule="evenodd"/>
<path d="M558.2,137.1 571.7,137.1 583.1,138.0 591.1,139.6 593.2,140.6 593.8,141.6 592.9,142.6 589.1,143.7 583.4,144.6 575.1,145.2 556.1,145.3 539.6,144.1 534.2,143.1 532.1,142.1 531.9,141.6 532.1,141.1 533.8,140.1 537.4,139.1 543.6,138.1 558.2,137.1Z" fill="#f88787" fill-rule="evenodd"/>
<path d="M554.5,137.6 568.6,137.4 580.6,138.1 588.8,139.6 591.1,140.6 591.8,141.6 590.8,142.6 587.5,143.6 581.6,144.4 575.1,144.9 558.6,145.1 543.6,144.2 539.1,143.6 535.2,142.6 534.4,142.1 534.2,141.6 535.2,140.6 538.0,139.6 542.6,138.7 554.5,137.6Z" fill="#f77373" fill-rule="evenodd"/>
<path d="M552.4,138.1 565.6,137.7 577.6,138.2 586.4,139.6 589.0,140.6 589.7,141.6 588.7,142.6 585.6,143.5 575.6,144.6 560.6,144.9 546.1,144.1 541.6,143.5 537.8,142.6 536.9,142.1 536.7,141.6 536.9,141.1 538.9,140.1 542.1,139.3 552.4,138.1Z" fill="#f65f5f" fill-rule="evenodd"/>
<path d="M560.0,138.1 570.1,138.1 579.1,138.8 585.6,140.1 586.7,140.6 587.5,141.6 587.3,142.1 586.4,142.6 583.6,143.3 572.6,144.5 558.1,144.5 545.2,143.6 542.1,143.1 539.4,142.1 539.2,141.6 540.3,140.6 543.6,139.6 547.1,139.1 560.0,138.1Z" fill="#f54b4b" fill-rule="evenodd"/>
<path d="M557.2,138.6 567.6,138.4 576.6,139.0 583.0,140.1 584.3,140.6 585.2,141.6 585.0,142.1 584.0,142.6 582.1,143.1 573.1,144.1 560.6,144.3 548.9,143.6 543.2,142.6 542.1,142.1 541.9,141.6 542.2,141.1 544.6,140.1 547.1,139.6 557.2,138.6Z" fill="#f33737" fill-rule="evenodd"/>
<path d="M556.2,139.1 565.6,138.8 574.1,139.2 580.1,140.1 581.6,140.6 582.7,141.6 582.4,142.1 580.1,142.9 573.1,143.7 563.6,144.0 553.1,143.6 546.4,142.6 545.1,142.1 544.8,141.6 546.2,140.6 548.1,140.1 556.2,139.1Z" fill="#f22323" fill-rule="evenodd"/>
<path d="M556.5,139.6 565.1,139.3 572.6,139.6 578.5,140.6 579.6,141.1 579.9,141.6 579.5,142.1 578.1,142.6 571.1,143.5 562.6,143.6 554.1,143.2 550.0,142.6 548.4,142.1 548.1,141.6 548.5,141.1 549.8,140.6 556.5,139.6Z" fill="#f11919" fill-rule="evenodd"/>
<path d="M558.1,140.1 564.6,139.8 570.6,140.0 574.5,140.6 576.0,141.1 576.5,141.6 576.0,142.1 574.1,142.6 569.6,143.1 557.6,142.9 553.6,142.4 552.5,142.1 552.0,141.6 552.6,141.1 554.3,140.6 558.1,140.1Z" fill="#ef0f0f" fill-rule="evenodd"/>
</g>
<path d="M508.6,131.7 523.1,129.9 541.1,128.2 545.6,127.4 548.2,126.6 549.9,125.6 550.9,124.6 553.4,121.1 554.6,120.3 556.1,119.9 557.6,119.9 559.1,120.4 560.3,121.1 564.1,124.1 565.6,124.6 567.1,124.7 569.9,124.1 575.1,121.4 577.6,120.9 580.6,121.4 586.1,123.7 588.6,123.8 590.6,122.9 594.8,120.1 596.6,119.5 598.1,119.5 600.0,120.1 601.2,121.1 602.0,122.6 602.7,125.6 603.1,126.6 604.0,127.6 605.4,128.6 607.4,129.6 610.3,130.6 626.1,134.4 633.1,136.6 636.1,137.9 638.0,139.1 639.4,140.6 639.6,141.6 639.3,142.6 638.3,143.6 636.4,144.6 633.1,145.8 625.6,147.5 614.5,149.1 566.1,149.4 508.6,149.1M508.6,135.0 516.6,133.8 525.6,132.7 553.1,130.6 558.6,130.4 579.6,130.4 597.6,131.8 603.6,132.8 613.1,134.9 619.1,136.4 623.7,138.1 626.3,139.6 627.2,140.6 627.5,141.6 627.1,142.6 626.6,143.1 624.8,144.1 622.0,145.1 618.1,146.1 607.1,147.8 592.7,149.1 532.9,149.1 520.6,148.2 508.6,146.9M508.6,137.7 514.1,136.4 520.6,135.3 528.6,134.3 538.1,133.4 556.6,132.4 577.1,132.4 594.6,133.7 605.6,135.5 611.8,137.1 616.0,138.6 618.4,140.1 618.8,140.6 619.1,141.6 618.7,142.6 618.1,143.1 616.0,144.1 612.6,145.1 607.6,146.1 593.6,147.8 576.6,148.7 556.6,148.8 536.6,148.1 520.6,146.8 514.1,145.9 508.6,144.9M549.1,134.1 559.6,133.7 573.6,133.8 582.6,134.2 592.1,135.0 600.6,136.4 607.4,138.1 610.8,139.6 611.9,140.6 612.3,141.6 611.8,142.6 610.1,143.6 604.7,145.1 595.1,146.5 582.6,147.5 568.6,147.9 553.1,147.8 538.6,147.2 525.6,146.0 516.4,144.6 511.5,143.1 510.7,142.6 510.1,141.6 510.6,140.6 512.0,139.6 517.1,137.9 525.6,136.3 536.6,135.0 549.1,134.1M552.2,135.1 562.1,134.8 573.1,134.9 581.1,135.3 589.1,136.0 596.2,137.1 602.1,138.6 605.3,140.1 605.8,140.6 606.3,141.6 605.7,142.6 604.8,143.1 602.1,144.1 599.6,144.7 591.1,145.9 580.1,146.8 567.6,147.1 554.1,147.0 541.1,146.4 530.6,145.5 523.1,144.3 518.6,143.0 517.4,142.1 517.2,141.6 517.8,140.6 519.5,139.6 524.5,138.1 531.6,136.9 541.1,135.8 552.2,135.1M553.3,136.1 571.1,135.9 578.6,136.2 585.6,136.9 592.1,137.8 597.1,139.1 599.4,140.1 600.1,140.7 600.5,141.6 600.4,142.1 599.8,142.6 598.8,143.1 594.6,144.3 587.6,145.3 578.1,146.0 567.6,146.3 556.1,146.3 545.1,145.8 536.1,145.0 529.1,144.0 524.8,142.6 524.2,142.1 524.0,141.6 524.6,140.7 525.5,140.1 530.1,138.6 536.0,137.6 544.1,136.7 553.3,136.1M553.9,137.1 569.1,136.9 581.7,137.6 587.1,138.4 591.1,139.3 594.2,140.6 594.8,141.6 594.6,142.1 593.9,142.6 590.1,143.8 584.6,144.6 576.6,145.3 568.1,145.6 558.6,145.5 549.1,145.2 541.6,144.6 535.0,143.6 531.7,142.6 530.9,142.1 530.8,141.6 531.0,141.1 531.6,140.6 534.1,139.6 539.1,138.5 546.1,137.7 553.9,137.1M555.5,138.1 567.6,137.9 578.6,138.5 582.9,139.1 586.1,139.9 587.8,140.6 588.5,141.1 588.6,141.6 588.4,142.1 587.6,142.6 584.6,143.4 579.9,144.1 574.1,144.5 560.1,144.7 547.1,144.0 542.6,143.4 539.1,142.6 538.1,142.1 537.9,141.6 538.2,141.1 540.3,140.1 544.1,139.3 549.0,138.6 555.5,138.1M560.9,139.1 568.9,139.1 575.4,139.6 580.1,140.6 581.1,141.1 581.4,141.6 581.0,142.1 578.6,142.9 571.1,143.7 560.6,143.8 550.9,143.1 548.1,142.6 546.7,142.1 546.4,141.6 546.8,141.1 547.9,140.6 553.5,139.6 560.9,139.1" fill="none" stroke="#333" stroke-width="0.5" opacity="0.8"/>
</g>
<rect x="509.6" y="81.6" width="169.1" height="80.2" fill="none" stroke="#000" stroke-width="1.6"/>
<clipPath id="cpd2"><rect x="510.5" y="162.5" width="168" height="78.5"/></clipPath>
<g clip-path="url(#cpd2)">
<rect x="510.5" y="162.5" width="168" height="78.5" fill="#0096fa"/>
<g filter="url(#hb)">
<path d="M513.5,161.5 515.5,161.5 515.1,164.0 514.5,165.1 513.9,164.5 513.5,161.5ZM549.3,162.0 549.6,161.5 561.4,161.5 564.1,166.0 566.3,172.5 568.0,174.0 569.0,176.0 569.8,180.0 570.8,189.0 571.5,191.5 574.0,192.9 577.0,193.4 580.0,192.8 582.5,191.0 584.0,188.6 586.6,182.5 588.6,179.0 591.0,176.2 594.0,174.0 594.8,169.5 595.0,161.5 602.8,161.5 603.0,169.0 603.5,173.2 607.5,174.3 610.0,174.6 613.5,174.1 615.5,173.5 616.0,173.1 618.2,167.0 619.2,161.5 625.1,161.5 626.0,170.6 626.5,170.7 631.0,169.9 632.0,167.9 633.0,166.8 634.0,167.6 635.0,169.7 640.0,169.5 640.5,169.2 641.1,167.0 642.0,161.5 653.6,161.5 654.5,168.0 655.4,171.0 660.5,172.2 662.5,170.0 666.5,167.0 667.5,164.8 668.0,161.5 679.5,161.5 679.5,225.5 676.5,225.8 673.5,228.6 672.5,229.1 671.5,228.9 668.5,227.1 665.5,227.0 656.5,229.3 643.8,231.5 606.0,231.9 509.5,231.9 509.5,197.6 513.5,196.8 515.5,194.4 517.5,193.5 519.0,193.9 521.5,195.9 531.5,194.9 536.5,193.6 537.0,193.0 537.8,190.5 540.8,180.0 543.5,167.8 544.0,167.1 544.5,167.3 545.5,168.5 546.0,168.4 547.4,165.0 549.3,162.0Z" fill="#119dfa" fill-rule="evenodd"/>
<path d="M552.5,162.0 552.7,161.5 555.2,161.5 557.5,167.0 559.5,169.1 561.0,171.5 562.7,176.5 564.7,179.5 565.6,181.5 567.3,191.5 568.2,194.0 569.6,196.5 570.9,198.0 573.0,199.1 575.5,199.9 578.0,200.1 580.5,199.8 582.5,199.2 584.4,198.0 585.9,196.5 587.5,193.7 589.8,187.0 591.3,184.0 597.0,176.6 598.5,175.1 599.5,175.0 600.0,175.5 602.5,179.8 608.5,184.1 611.5,184.0 613.0,183.5 614.0,182.5 619.0,172.6 620.0,171.2 621.0,170.5 622.0,171.0 622.5,171.9 625.0,181.0 632.0,179.5 640.5,178.8 644.0,172.2 645.5,170.6 646.5,171.4 648.3,175.5 649.5,177.2 654.0,180.8 659.0,182.3 663.0,176.9 667.0,174.4 668.5,172.6 670.0,168.0 670.7,161.5 676.7,161.5 677.5,168.5 678.5,171.4 679.5,172.5 679.5,212.8 675.5,213.8 672.0,215.7 668.0,216.4 663.5,219.9 659.5,221.5 655.0,224.1 648.4,226.5 637.0,229.2 621.2,231.5 586.0,231.9 509.5,231.7 509.5,205.4 512.5,204.3 515.0,200.5 517.0,198.8 518.0,198.7 519.0,199.0 522.5,201.8 523.0,201.9 532.5,200.6 536.5,199.5 539.0,196.0 540.5,194.5 544.5,193.6 545.7,191.5 546.5,189.1 548.2,177.0 550.0,171.5 552.5,162.0Z" fill="#21a5fb" fill-rule="evenodd"/>
<path d="M553.5,169.5 554.5,169.2 555.5,169.9 559.3,176.5 560.4,180.0 562.2,189.5 563.0,192.0 564.6,195.0 566.8,198.0 570.0,201.6 572.5,203.1 574.5,203.7 579.0,204.1 581.0,203.9 584.5,202.7 586.8,201.0 588.6,198.0 591.4,190.0 593.0,186.7 596.0,182.8 597.5,181.6 598.5,181.3 599.5,181.5 600.5,182.3 602.0,184.2 604.5,186.5 608.0,191.0 610.5,191.6 612.0,191.4 613.5,190.3 615.0,187.9 618.0,181.1 619.0,179.6 620.0,179.1 620.5,179.3 621.3,180.5 623.3,186.0 624.5,187.7 628.5,186.4 632.5,185.5 636.5,185.0 641.0,184.9 643.0,182.8 644.5,182.1 645.5,182.5 649.0,185.3 652.5,186.4 658.0,189.1 659.0,189.1 661.0,188.5 666.0,185.7 668.5,183.4 671.1,180.0 673.0,174.0 673.5,172.7 674.0,172.6 675.0,175.2 676.5,181.4 676.8,184.5 676.7,187.5 676.0,190.6 674.2,195.5 671.6,204.5 670.8,205.5 669.0,207.0 667.5,209.3 665.0,211.6 663.0,214.0 661.0,215.6 657.0,217.6 655.0,218.4 653.0,218.6 642.7,225.0 636.0,227.3 624.0,229.7 609.6,231.5 562.0,231.8 509.5,231.6 509.5,210.4 512.5,209.5 513.0,209.1 516.0,204.7 517.5,203.7 519.0,203.9 523.5,206.3 532.5,204.7 536.5,203.6 540.0,199.8 544.6,198.0 547.3,194.5 548.9,191.0 551.5,174.8 552.5,171.3 553.5,169.5Z" fill="#32acfb" fill-rule="evenodd"/>
<path d="M554.4,178.0 555.0,177.8 555.5,178.1 556.5,179.6 557.6,183.5 558.9,190.0 560.6,194.0 564.1,199.0 567.5,202.9 570.0,205.3 572.5,206.5 581.5,206.9 584.5,206.1 586.0,205.3 588.3,203.0 590.1,200.0 595.0,188.4 596.6,186.5 597.5,185.9 598.5,185.7 600.0,186.4 602.5,189.3 606.0,195.3 607.3,197.0 608.5,198.0 611.0,198.5 613.0,198.1 614.5,196.9 618.0,190.9 619.0,189.9 620.0,190.2 622.0,192.8 623.5,194.0 628.0,192.0 632.5,190.7 637.0,190.0 641.5,189.9 644.0,189.0 645.5,189.2 649.0,191.1 654.0,192.9 659.5,196.6 661.0,198.7 662.1,201.5 662.7,204.5 662.4,207.0 661.0,209.8 658.6,212.0 656.0,213.4 652.5,214.5 644.8,218.5 635.9,225.0 629.0,227.4 619.0,229.4 609.0,230.7 599.7,231.5 538.0,231.7 516.5,231.5 509.5,231.1 509.5,212.6 513.0,211.9 516.5,209.6 518.0,209.0 525.0,209.5 536.5,207.3 540.5,203.6 545.0,201.1 548.8,196.5 551.4,192.0 552.6,188.0 553.3,180.5 554.4,178.0Z" fill="#50b7fb" fill-rule="evenodd"/>
<path d="M598.0,191.0 599.0,191.1 600.0,192.1 603.7,199.0 605.5,201.5 607.5,202.9 610.0,203.7 612.5,203.8 614.4,203.5 618.5,201.3 622.0,200.5 630.5,196.0 634.5,194.8 638.0,194.2 644.0,194.2 645.5,194.5 652.0,197.8 654.7,200.0 656.1,202.0 657.0,204.5 656.8,206.5 655.5,208.5 650.9,212.0 648.0,213.7 637.0,218.0 635.9,219.0 632.8,223.5 629.7,225.5 623.4,227.5 614.0,229.3 603.0,230.6 590.4,231.5 523.7,231.5 509.5,230.5 509.5,214.0 513.0,213.4 518.0,211.9 526.0,211.3 537.0,209.7 544.0,205.6 545.6,204.0 552.5,195.8 554.0,194.5 555.5,193.9 556.5,194.2 558.0,195.4 561.5,199.3 566.0,205.2 567.8,207.0 569.5,208.1 571.5,208.9 574.0,209.2 581.0,209.1 584.5,208.5 586.5,207.8 588.5,206.5 592.3,203.0 593.9,200.0 596.0,193.4 597.0,191.7 598.0,191.0ZM621.5,209.0 620.0,209.5 619.0,210.9 619.4,212.5 620.4,213.5 622.5,214.6 625.0,215.1 627.5,214.8 628.7,214.0 628.9,213.0 628.6,212.0 627.0,210.3 624.5,209.2 621.5,209.0Z" fill="#6ec2fa" fill-rule="evenodd"/>
<path d="M638.8,197.5 641.5,197.5 644.0,197.9 648.0,199.8 649.9,201.5 651.0,203.0 651.7,205.0 651.5,206.5 650.9,208.0 649.5,209.7 647.9,211.0 645.5,212.4 640.5,213.8 638.0,214.0 635.5,213.8 634.0,213.3 632.5,212.3 626.1,206.5 625.6,205.0 626.1,204.0 627.6,202.5 631.5,199.7 635.0,198.2 638.8,197.5ZM554.2,198.5 555.5,198.2 556.5,198.4 558.5,199.6 560.5,201.7 564.0,206.9 565.6,208.5 568.5,209.9 571.5,210.6 579.0,210.8 585.5,210.1 593.0,207.6 598.0,204.4 599.0,204.2 600.5,204.6 605.5,206.7 613.5,209.2 614.5,210.0 617.0,213.0 618.9,214.5 621.5,215.8 626.4,217.5 628.3,218.5 629.4,220.0 629.4,222.0 628.5,223.5 626.7,225.0 624.0,226.2 620.0,227.3 609.0,229.3 594.5,230.7 578.5,231.5 535.7,231.5 520.5,230.8 509.5,229.9 509.5,215.1 519.0,213.4 536.5,211.4 542.5,209.9 544.5,209.0 545.8,208.0 551.0,201.0 552.5,199.5 554.2,198.5Z" fill="#8ccdfa" fill-rule="evenodd"/>
<path d="M637.3,200.5 639.5,200.2 642.0,200.3 644.0,200.9 646.0,202.0 647.4,203.5 648.1,205.0 648.0,207.0 647.1,208.5 644.5,210.5 640.5,211.6 636.5,211.3 633.5,209.7 631.2,207.0 631.0,206.0 631.1,205.0 632.1,203.5 633.5,202.3 637.3,200.5ZM555.2,202.0 556.5,202.2 558.0,203.1 561.5,208.0 563.2,209.5 565.5,210.6 569.1,211.5 575.0,212.0 582.5,211.8 588.5,211.0 596.5,209.3 599.5,209.0 603.0,209.3 609.0,210.7 613.0,212.3 624.1,219.0 625.4,220.5 625.5,222.5 624.6,224.0 623.3,225.0 620.0,226.4 616.0,227.4 605.5,229.2 591.5,230.4 570.0,231.3 548.5,231.4 527.5,230.7 509.5,229.4 509.5,216.0 521.0,214.2 539.5,212.1 544.7,211.0 547.0,210.0 548.4,209.0 552.5,203.4 554.0,202.3 555.2,202.0Z" fill="#a5d7fb" fill-rule="evenodd"/>
<path d="M638.9,203.0 641.5,203.0 643.0,203.6 644.0,204.4 644.6,206.0 644.4,207.0 643.6,208.0 641.7,209.0 639.5,209.3 637.5,208.8 636.0,207.9 635.3,206.5 635.6,205.0 637.0,203.7 638.9,203.0ZM554.1,208.5 556.0,208.2 560.8,210.5 563.8,211.5 572.0,212.7 583.0,212.7 598.0,211.0 601.5,211.1 605.0,211.7 611.5,213.6 618.5,217.5 621.7,220.0 622.3,221.0 622.5,222.5 621.6,224.0 620.3,225.0 617.5,226.2 613.0,227.4 602.0,229.1 588.0,230.2 568.0,231.0 547.5,231.0 526.5,230.3 509.5,228.9 509.5,216.8 522.0,214.8 543.3,212.5 549.1,211.0 554.1,208.5Z" fill="#bee2fc" fill-rule="evenodd"/>
<path d="M552.9,211.5 557.0,211.3 566.7,213.0 574.5,213.6 583.0,213.5 597.0,212.4 603.5,212.8 609.5,214.4 615.0,217.0 619.0,220.0 619.8,221.5 619.8,222.5 619.0,224.0 617.7,225.0 615.4,226.0 611.0,227.2 600.5,228.8 586.0,229.9 565.5,230.7 545.5,230.7 525.5,229.9 509.5,228.4 509.5,217.5 523.0,215.4 543.0,213.4 552.9,211.5Z" fill="#d7ecfd" fill-rule="evenodd"/>
<path d="M550.5,213.0 557.0,212.6 568.5,213.9 576.5,214.2 596.0,213.4 602.0,213.8 608.0,215.1 613.0,217.3 616.5,220.0 617.4,221.5 617.5,222.5 616.7,224.0 615.3,225.0 612.9,226.0 608.5,227.1 598.0,228.7 582.5,229.8 563.0,230.4 543.5,230.3 524.5,229.5 510.0,228.0 509.5,227.9 509.5,218.2 522.0,216.1 543.3,214.0 550.5,213.0Z" fill="#e3f1fe" fill-rule="evenodd"/>
<path d="M553.4,213.5 558.0,213.5 575.5,214.8 595.5,214.3 601.5,214.7 607.0,215.9 611.5,217.9 614.3,220.0 615.2,221.5 615.3,222.5 614.5,224.0 613.1,225.0 610.6,226.0 606.6,227.0 596.0,228.5 580.0,229.6 561.5,230.2 543.5,230.0 526.0,229.2 511.5,227.8 509.5,227.4 509.5,218.9 516.5,217.5 524.5,216.3 553.4,213.5Z" fill="#eef7fe" fill-rule="evenodd"/>
<path d="M549.4,214.5 556.5,214.1 575.5,215.3 594.5,215.1 600.0,215.4 605.0,216.4 609.5,218.1 612.6,220.5 613.2,221.5 613.3,222.5 612.5,224.0 611.0,225.0 605.5,226.7 596.0,228.1 581.5,229.2 564.0,229.9 547.0,229.8 530.0,229.2 516.0,227.9 509.5,226.9 509.5,219.6 516.0,218.1 524.5,216.8 549.4,214.5Z" fill="#fafcff" fill-rule="evenodd"/>
<path d="M549.8,215.0 557.0,214.7 575.0,215.7 594.0,215.8 599.5,216.1 604.0,217.0 608.0,218.6 610.6,220.5 611.2,221.5 611.3,222.5 610.9,223.5 609.5,224.7 604.0,226.5 595.0,227.9 581.0,229.0 564.0,229.6 548.0,229.6 531.0,228.9 518.0,227.8 509.5,226.4 509.5,220.4 516.0,218.7 524.5,217.3 549.8,215.0Z" fill="#fbf8fa" fill-rule="evenodd"/>
<path d="M549.6,215.5 557.5,215.2 575.0,216.2 598.0,216.7 602.5,217.5 606.5,219.0 608.6,220.5 609.3,221.5 609.4,222.5 609.0,223.5 607.9,224.5 605.6,225.5 602.0,226.4 593.0,227.7 580.0,228.7 564.5,229.3 548.5,229.4 533.0,228.8 520.0,227.7 514.0,226.8 509.5,225.8 509.5,221.2 510.1,221.0 516.0,219.3 524.5,217.8 549.6,215.5Z" fill="#fdf4f5" fill-rule="evenodd"/>
<path d="M548.8,216.0 558.0,215.7 575.0,216.6 597.0,217.3 601.1,218.0 604.5,219.2 607.0,220.9 607.6,222.5 607.1,223.5 606.0,224.5 601.0,226.1 592.0,227.5 579.5,228.5 564.5,229.1 550.0,229.1 535.0,228.6 522.5,227.6 514.8,226.5 509.8,225.0 509.5,224.8 509.5,222.5 511.1,221.5 516.5,219.8 524.5,218.3 533.0,217.3 548.8,216.0Z" fill="#fef0f0" fill-rule="evenodd"/>
<path d="M547.5,216.5 558.5,216.2 595.5,217.8 599.8,218.5 602.8,219.5 605.1,221.0 605.7,222.5 605.3,223.5 604.0,224.5 599.4,226.0 591.0,227.3 579.0,228.3 565.5,228.8 551.5,228.9 537.0,228.5 525.0,227.6 517.2,226.5 511.9,225.0 511.1,224.5 510.8,223.5 511.6,222.5 513.0,221.7 518.0,220.0 525.5,218.6 547.5,216.5Z" fill="#fde4e4" fill-rule="evenodd"/>
<path d="M545.9,217.0 558.5,216.6 594.0,218.3 598.5,219.0 601.5,220.0 603.1,221.0 603.8,222.5 603.4,223.5 602.1,224.5 598.0,225.8 590.3,227.0 579.0,228.0 566.0,228.6 553.0,228.7 539.5,228.4 528.0,227.6 519.6,226.5 514.0,225.0 513.2,224.5 512.8,223.5 514.4,222.0 518.5,220.5 525.8,219.0 534.0,218.0 545.9,217.0Z" fill="#fdd9d9" fill-rule="evenodd"/>
<path d="M552.2,217.0 561.5,217.1 593.0,218.8 597.0,219.5 599.5,220.3 601.4,221.5 601.8,222.5 601.4,223.5 600.0,224.5 596.5,225.6 588.0,226.9 576.5,227.9 564.0,228.4 551.0,228.5 538.0,228.0 527.0,227.2 519.4,226.0 515.2,224.5 514.8,224.0 515.1,223.0 517.6,221.5 522.9,220.0 530.0,218.8 552.2,217.0Z" fill="#fccdcd" fill-rule="evenodd"/>
<path d="M549.5,217.5 561.0,217.4 590.5,219.2 594.5,219.7 597.4,220.5 599.2,221.5 599.8,222.5 599.4,223.5 598.8,224.0 594.6,225.5 587.5,226.6 576.5,227.6 565.0,228.2 553.0,228.3 540.5,227.9 530.0,227.2 522.5,226.2 518.1,225.0 517.2,224.5 516.8,223.5 518.6,222.0 523.1,220.5 529.5,219.3 549.5,217.5Z" fill="#fbbcbc" fill-rule="evenodd"/>
<path d="M547.1,218.0 560.5,217.7 587.8,219.5 592.0,220.0 595.5,220.9 597.3,222.0 597.5,223.0 596.7,224.0 595.7,224.5 592.2,225.5 585.0,226.6 574.0,227.5 552.5,228.0 541.0,227.7 531.3,227.0 524.0,226.0 520.2,225.0 518.8,224.0 519.0,223.2 519.7,222.5 523.5,221.0 529.0,219.8 536.5,218.9 547.1,218.0Z" fill="#faacac" fill-rule="evenodd"/>
<path d="M545.0,218.5 559.5,218.1 582.5,219.5 588.5,220.2 592.5,221.0 594.7,222.0 595.2,223.0 594.4,224.0 593.4,224.5 589.7,225.5 582.8,226.5 574.0,227.3 554.0,227.8 534.5,227.0 527.5,226.2 523.0,225.2 521.2,224.5 520.8,224.0 521.1,223.0 524.1,221.5 528.5,220.4 535.5,219.4 545.0,218.5Z" fill="#f99b9b" fill-rule="evenodd"/>
<path d="M550.5,218.5 562.5,218.5 582.2,220.0 590.0,221.2 592.0,222.0 592.7,223.0 592.0,224.0 591.0,224.5 587.1,225.5 579.7,226.5 571.0,227.2 551.0,227.6 541.0,227.2 532.5,226.5 526.1,225.5 523.3,224.5 522.8,224.0 522.8,223.5 523.5,222.8 524.9,222.0 528.2,221.0 534.0,220.0 550.5,218.5Z" fill="#f88787" fill-rule="evenodd"/>
<path d="M547.8,219.0 560.0,218.8 576.5,219.9 586.5,221.3 589.0,222.0 590.1,223.0 589.5,224.0 588.5,224.5 585.5,225.3 579.5,226.2 571.0,226.9 553.0,227.4 535.4,226.5 530.5,225.9 526.5,225.0 524.9,224.0 525.2,223.0 526.0,222.5 528.6,221.5 533.4,220.5 547.8,219.0Z" fill="#f77373" fill-rule="evenodd"/>
<path d="M545.8,219.5 558.0,219.1 573.2,220.0 584.1,221.5 586.9,222.5 587.3,223.0 587.4,223.5 586.0,224.5 581.7,225.5 569.0,226.8 553.0,227.1 537.5,226.4 528.7,225.0 527.0,224.0 527.4,223.0 529.4,222.0 533.3,221.0 545.8,219.5Z" fill="#f65f5f" fill-rule="evenodd"/>
<path d="M551.7,219.5 562.0,219.6 574.5,220.6 582.6,222.0 584.0,222.6 584.7,223.5 583.4,224.5 578.9,225.5 567.0,226.6 551.5,226.9 536.9,226.0 533.0,225.4 529.7,224.5 529.1,224.0 529.1,223.5 530.4,222.5 533.6,221.5 538.5,220.6 551.7,219.5Z" fill="#f54b4b" fill-rule="evenodd"/>
<path d="M549.2,220.0 559.0,219.8 570.0,220.5 579.4,222.0 581.0,222.6 581.9,223.5 581.7,224.0 580.7,224.5 578.9,225.0 573.0,225.9 566.5,226.4 553.0,226.6 540.0,226.0 535.5,225.4 532.0,224.5 531.4,224.0 531.4,223.5 531.8,223.0 534.3,222.0 538.0,221.2 549.2,220.0Z" fill="#f33737" fill-rule="evenodd"/>
<path d="M547.7,220.5 557.5,220.2 567.5,220.7 576.2,222.0 578.0,222.6 579.1,223.5 578.9,224.0 578.0,224.5 576.1,225.0 567.0,226.1 554.5,226.4 542.0,225.8 537.0,225.2 534.4,224.5 533.8,224.0 533.8,223.5 534.3,223.0 539.4,221.5 547.7,220.5Z" fill="#f22323" fill-rule="evenodd"/>
<path d="M547.0,221.0 556.0,220.5 565.5,221.0 572.8,222.0 575.0,222.6 576.3,223.5 576.1,224.0 575.1,224.5 573.0,225.0 565.5,225.8 554.5,226.1 544.0,225.6 537.1,224.5 536.3,224.0 536.3,223.5 538.0,222.5 540.0,222.0 547.0,221.0Z" fill="#f11919" fill-rule="evenodd"/>
<path d="M554.4,221.0 560.5,221.1 566.5,221.6 571.4,222.5 573.3,223.5 573.1,224.0 572.1,224.5 570.0,224.9 562.5,225.6 551.5,225.7 542.4,225.0 540.0,224.5 539.1,224.0 539.1,223.5 539.8,223.0 541.2,222.5 546.9,221.5 554.4,221.0Z" fill="#ef0f0f" fill-rule="evenodd"/>
</g>
<path d="M509.5,211.7 521.5,208.8 535.0,206.0 538.5,204.6 541.5,202.6 546.0,198.3 549.0,194.0 550.6,190.0 551.7,182.5 552.5,179.3 553.1,178.0 554.0,176.8 555.5,176.1 557.0,176.8 557.9,178.0 558.5,179.3 559.2,182.0 560.6,190.5 561.5,193.0 562.8,195.5 565.5,199.1 568.5,202.2 571.0,204.1 574.0,205.4 577.5,205.8 581.0,205.5 584.5,204.5 587.1,203.0 589.0,201.0 590.1,199.0 591.1,196.5 592.9,190.5 594.1,188.0 596.0,185.8 597.0,185.2 598.5,184.9 600.5,185.3 602.0,186.3 603.9,188.5 606.5,192.6 608.0,194.5 609.5,195.6 611.5,196.1 613.0,196.0 615.0,195.5 625.5,190.3 629.0,189.0 633.0,188.0 637.0,187.5 641.5,187.5 646.0,187.9 650.0,188.8 653.0,189.9 656.0,191.3 658.7,193.0 661.1,195.0 662.8,197.0 664.4,199.5 665.4,202.0 665.8,204.5 665.6,206.0 664.7,208.0 663.4,209.5 661.7,211.0 657.9,213.5 647.2,219.5 640.0,224.5 637.0,225.9 633.4,227.0 623.5,229.1 613.5,230.6 604.7,231.5 556.5,231.8 509.5,231.5M638.0,199.0 641.0,198.9 643.5,199.3 646.0,200.3 648.2,202.0 649.5,204.0 649.9,205.5 649.4,207.5 647.9,209.5 645.8,211.0 643.5,212.0 640.5,212.7 638.0,212.8 636.0,212.5 634.0,211.6 630.4,208.5 629.1,207.0 628.7,206.0 628.7,205.0 629.2,204.0 631.0,202.2 633.0,200.8 635.5,199.6 638.0,199.0M509.5,215.6 521.5,213.7 538.0,211.8 543.5,210.6 545.5,209.7 547.1,208.5 550.5,203.5 552.5,201.3 554.0,200.4 555.5,200.1 557.0,200.4 559.0,202.0 563.7,208.5 565.1,209.5 567.5,210.5 570.5,211.1 574.0,211.5 582.0,211.3 586.0,210.8 590.0,210.0 598.0,207.5 599.5,207.4 601.5,207.5 609.5,209.5 612.5,210.7 618.4,215.0 626.0,218.8 627.1,220.0 627.5,221.5 627.0,223.0 625.7,224.5 623.0,225.9 619.5,227.0 614.5,228.1 608.5,229.1 595.5,230.4 570.0,231.5 543.2,231.5 525.0,230.8 509.5,229.6M509.5,217.9 522.0,215.8 542.5,213.8 554.5,212.0 558.0,212.1 568.0,213.5 575.5,213.9 583.0,213.8 594.5,213.0 599.0,213.0 602.0,213.2 605.5,213.8 608.5,214.7 611.5,215.8 614.5,217.4 616.7,219.0 618.1,220.5 618.6,222.0 618.2,223.5 616.5,225.0 614.1,226.0 610.5,227.0 600.5,228.6 586.0,229.8 565.0,230.6 546.0,230.5 526.0,229.7 509.5,228.2M509.5,220.0 517.0,218.2 526.5,216.8 551.0,214.6 557.0,214.4 575.0,215.5 594.5,215.4 600.0,215.8 604.5,216.7 608.5,218.2 611.1,220.0 611.9,221.0 612.3,222.0 611.9,223.5 610.9,224.5 608.8,225.5 604.5,226.7 599.5,227.5 593.5,228.2 576.5,229.3 557.5,229.8 538.0,229.4 521.5,228.4 514.5,227.5 509.5,226.7M552.3,216.0 559.0,216.0 576.5,216.9 592.5,217.3 597.0,217.6 601.0,218.4 604.0,219.5 606.1,221.0 606.6,222.5 606.2,223.5 605.0,224.5 600.5,226.0 591.5,227.4 578.5,228.4 564.0,229.0 549.5,229.0 534.5,228.5 522.5,227.5 513.8,226.0 511.5,225.3 510.1,224.5 509.8,224.0 510.0,223.0 511.2,222.0 513.5,221.0 519.0,219.5 527.5,218.1 536.5,217.2 552.3,216.0M546.6,217.5 553.5,217.1 559.5,217.2 591.0,218.9 595.3,219.5 598.0,220.2 600.0,221.2 600.7,222.0 600.8,222.5 600.4,223.5 599.9,224.0 598.0,224.9 595.8,225.5 589.0,226.6 578.0,227.6 566.0,228.2 554.0,228.4 541.5,228.1 530.5,227.4 523.3,226.5 518.0,225.3 516.2,224.5 515.8,224.0 516.0,223.2 516.7,222.5 520.1,221.0 526.9,219.5 535.0,218.5 546.6,217.5M547.5,218.5 554.5,218.2 560.5,218.3 582.5,219.8 590.9,221.0 593.4,222.0 593.9,222.5 594.0,223.0 593.2,224.0 592.2,224.5 588.4,225.5 581.3,226.5 572.5,227.2 562.5,227.7 552.5,227.7 542.5,227.4 533.5,226.8 527.5,226.0 523.3,225.0 522.2,224.5 521.8,224.0 522.0,223.2 522.8,222.5 526.5,221.1 531.5,220.1 538.5,219.2 547.5,218.5M548.4,219.5 560.0,219.3 574.5,220.3 579.6,221.0 583.5,221.8 585.4,222.5 585.9,223.0 586.0,223.5 585.6,224.0 584.7,224.5 580.3,225.5 574.5,226.2 567.5,226.7 551.5,227.0 543.0,226.7 536.5,226.1 532.1,225.5 528.6,224.5 528.0,224.0 528.0,223.5 529.3,222.5 532.3,221.5 536.0,220.8 548.4,219.5M550.7,220.5 559.0,220.4 568.0,221.0 574.5,222.0 576.5,222.6 577.3,223.0 577.7,223.5 577.5,224.0 576.6,224.5 574.6,225.0 565.4,226.0 552.5,226.2 540.8,225.5 535.7,224.5 535.0,224.0 535.0,223.5 535.6,223.0 538.0,222.1 541.0,221.5 550.7,220.5" fill="none" stroke="#333" stroke-width="0.5" opacity="0.8"/>
</g>
<rect x="510.5" y="162.5" width="168" height="78.5" fill="none" stroke="#000" stroke-width="1.6"/>
<clipPath id="cpd3"><rect x="510.8" y="243.3" width="167.4" height="87.7"/></clipPath>
<g clip-path="url(#cpd3)">
<rect x="510.8" y="243.3" width="167.4" height="87.7" fill="#0096fa"/>
<g filter="url(#hb)">
<path d="M513.8,242.3 533.5,242.3 533.7,250.3 534.1,255.8 535.1,259.8 535.8,261.1 536.3,261.3 540.3,261.2 543.3,259.5 544.8,259.8 546.8,261.2 550.8,261.2 552.8,260.6 554.3,258.7 555.8,254.5 556.8,250.8 558.2,242.3 569.9,242.3 570.5,249.8 571.6,257.8 572.6,260.8 573.3,261.6 573.8,261.7 578.8,260.8 582.3,260.9 583.0,259.8 583.2,256.8 581.0,249.3 580.4,242.3 595.2,242.3 595.8,244.9 596.8,245.7 598.3,244.9 599.8,242.3 650.2,242.3 650.8,245.0 651.3,245.8 654.3,247.9 658.3,249.5 659.2,242.3 670.3,242.3 671.3,248.0 672.3,250.9 672.8,251.7 673.8,252.5 676.3,251.1 677.0,251.3 678.0,253.3 678.1,256.3 677.2,260.8 676.5,261.8 675.3,262.4 675.2,262.8 676.2,265.8 676.8,269.3 676.7,272.8 676.0,276.8 673.5,283.3 667.8,293.9 666.5,300.8 665.7,307.3 665.2,313.3 665.5,316.8 610.3,317.2 509.8,317.2 509.8,258.8 510.8,259.0 511.8,259.7 514.3,263.5 517.8,262.9 518.7,259.3 518.1,256.8 515.5,253.8 514.6,251.8 514.0,247.8 513.8,242.3ZM522.3,244.6 521.3,254.8 521.8,256.7 522.8,257.4 523.3,257.1 523.8,255.9 524.0,252.8 522.8,244.3 522.3,244.6Z" fill="#119dfa" fill-rule="evenodd"/>
<path d="M604.6,242.3 628.6,242.3 629.8,242.5 640.6,242.3 642.8,244.2 645.8,245.6 646.8,246.4 647.8,248.0 650.8,254.9 653.3,257.3 657.8,260.6 658.8,258.8 660.1,254.8 662.2,242.3 664.3,242.3 665.3,253.3 665.6,263.3 665.2,274.8 664.1,290.3 662.7,296.3 659.3,301.6 656.8,307.9 655.8,309.4 654.3,310.0 652.3,309.5 649.3,311.4 645.3,312.6 643.3,315.4 641.8,316.2 640.3,315.8 636.3,314.0 628.3,315.8 625.8,316.8 623.8,316.9 590.3,317.2 509.8,317.0 509.8,268.8 510.8,269.2 513.8,272.2 519.3,270.8 521.3,269.5 524.8,268.3 528.8,264.8 529.8,264.3 531.3,264.9 533.8,267.6 535.3,268.7 539.8,268.5 543.3,266.6 544.8,266.3 546.8,266.7 549.8,268.6 553.3,268.3 554.8,267.2 555.8,265.3 558.7,252.8 560.2,248.8 561.8,246.6 562.8,246.0 564.3,245.7 565.3,245.8 566.3,246.4 567.7,249.3 568.7,254.3 570.0,264.8 570.6,266.8 571.3,268.1 571.8,268.3 572.8,268.2 576.3,266.1 578.3,265.4 580.3,265.2 583.3,266.0 588.8,263.3 594.8,262.9 596.3,262.1 599.3,259.8 601.3,257.4 602.6,253.3 604.6,242.3ZM632.3,304.1 631.9,304.8 632.3,305.1 633.3,305.3 634.4,304.8 634.3,304.3 633.8,304.1 632.3,304.1Z" fill="#21a5fb" fill-rule="evenodd"/>
<path d="M607.0,242.3 623.6,242.3 626.3,246.5 627.3,247.3 628.8,247.8 630.8,247.3 635.8,244.8 636.8,244.7 638.3,245.1 641.3,247.2 645.4,251.8 647.2,254.3 649.8,259.8 650.8,261.2 657.8,269.2 659.3,269.8 660.3,270.8 660.9,272.8 661.1,275.8 660.4,282.8 658.6,289.8 655.0,299.3 653.9,301.3 653.0,302.3 650.3,303.1 648.1,305.3 645.3,307.0 643.8,309.8 642.3,311.5 641.3,311.9 640.3,311.8 635.8,310.5 624.8,314.9 613.8,316.9 556.8,317.1 509.8,316.9 509.8,277.0 510.8,277.0 513.8,278.2 514.8,278.3 518.8,277.0 521.3,275.7 529.8,272.3 531.3,272.5 534.8,273.9 539.8,273.6 544.3,271.5 545.8,271.2 547.8,271.9 550.8,274.0 552.8,274.0 554.3,273.7 555.8,272.4 556.8,270.2 559.1,258.3 560.3,254.3 561.8,251.9 563.3,251.2 564.3,251.5 565.3,252.3 566.7,255.3 567.6,259.8 569.0,271.8 569.8,274.7 570.8,275.8 571.8,275.8 572.8,275.1 575.6,270.3 576.8,269.1 578.3,268.3 580.3,268.1 583.3,269.4 584.3,269.4 590.8,266.8 596.8,266.7 600.3,265.9 602.3,264.4 603.8,260.8 607.0,242.3ZM632.8,302.3 630.9,302.8 629.8,303.5 629.2,304.3 629.4,305.3 630.3,306.3 631.8,307.1 634.8,307.6 636.3,307.2 637.2,306.3 637.7,305.3 637.4,303.8 636.3,302.8 635.3,302.4 632.8,302.3Z" fill="#32acfb" fill-rule="evenodd"/>
<path d="M609.1,242.3 620.5,242.3 625.3,250.0 626.4,251.3 627.8,252.1 629.8,251.7 634.3,248.8 636.3,248.1 638.8,248.8 640.8,250.2 642.3,251.9 646.1,257.8 649.3,264.4 655.3,272.3 656.3,274.3 656.9,276.8 657.0,281.3 655.6,287.3 653.4,293.8 652.3,295.7 651.3,296.7 645.3,299.6 642.8,302.0 641.8,302.5 640.8,302.5 637.3,300.9 635.3,300.7 632.3,301.1 629.3,302.3 627.8,303.4 627.2,304.8 627.6,305.8 630.2,308.8 630.1,309.8 629.1,310.8 627.3,311.9 624.3,313.2 611.5,316.8 530.8,317.0 516.0,316.8 509.8,316.1 509.8,284.9 511.3,284.4 514.3,284.6 516.3,284.3 529.3,279.0 530.8,279.0 534.8,280.0 539.8,279.6 544.3,277.0 545.8,276.5 547.0,276.8 548.3,277.7 550.8,280.9 553.8,281.4 555.8,280.9 557.1,279.3 557.9,276.8 559.4,264.3 560.3,259.4 561.3,256.8 562.8,255.3 563.8,255.5 564.3,255.9 565.8,259.1 566.6,264.3 567.5,277.8 568.3,280.4 569.8,281.9 571.3,281.9 573.3,281.3 575.1,280.3 576.2,279.3 577.0,277.8 577.5,273.3 578.3,271.9 579.3,271.4 580.9,271.8 581.8,272.8 582.8,274.9 583.8,275.1 585.3,274.4 589.3,270.5 591.3,269.5 593.8,269.3 599.3,270.8 601.3,270.5 602.3,269.9 603.3,268.6 605.3,263.5 607.6,248.8 609.1,242.3ZM533.3,291.6 532.3,292.3 532.1,292.8 532.8,293.4 534.5,293.3 535.9,292.3 535.7,291.8 534.8,291.4 533.3,291.6Z" fill="#50b7fb" fill-rule="evenodd"/>
<path d="M612.4,242.8 613.1,242.3 615.6,242.3 618.3,244.1 620.8,247.1 624.8,253.9 626.8,255.8 627.8,256.0 629.3,255.5 633.8,252.0 635.8,251.1 637.8,251.2 639.8,252.4 641.3,253.9 642.8,256.1 648.3,267.3 653.0,273.3 654.0,275.3 654.6,277.3 654.7,280.8 654.0,284.3 652.3,288.7 650.3,291.8 648.3,293.4 642.3,296.9 633.3,299.4 628.9,301.3 626.4,302.8 625.5,303.8 625.3,304.8 626.9,308.8 626.5,309.8 625.3,310.8 619.8,313.2 612.8,315.4 604.2,316.8 558.3,317.0 522.3,316.8 509.8,315.2 509.8,298.9 521.3,297.0 533.8,296.5 540.3,295.5 541.8,294.8 543.1,293.8 545.8,290.4 547.3,288.9 557.1,285.8 560.1,283.8 561.3,282.3 561.7,280.8 560.5,273.3 560.6,265.3 561.3,261.6 561.8,260.4 562.8,259.5 563.8,260.0 564.5,261.3 565.3,266.7 565.1,272.3 563.8,279.8 563.8,281.3 565.2,283.3 567.3,284.5 569.8,285.1 572.8,284.7 585.8,280.1 588.3,278.3 590.6,273.8 592.3,272.5 594.3,272.7 598.3,275.7 599.8,275.8 601.8,275.0 603.8,272.8 605.8,268.3 607.2,263.3 609.6,248.8 610.8,245.3 612.4,242.8ZM584.8,298.7 584.3,298.9 584.3,299.4 585.3,299.6 585.8,299.3 585.5,298.8 584.8,298.7Z" fill="#6ec2fa" fill-rule="evenodd"/>
<path d="M614.8,247.3 616.8,247.3 618.8,248.7 620.8,251.4 624.3,257.9 625.8,259.7 626.8,260.1 627.8,260.1 628.8,259.6 633.3,255.3 635.3,254.1 637.3,253.9 639.3,254.8 640.8,256.3 642.3,258.7 646.8,268.5 651.6,274.8 652.9,278.3 652.8,281.3 652.1,284.3 650.6,287.3 648.7,289.8 646.3,292.0 642.8,294.1 629.7,299.8 625.1,302.3 624.1,303.3 623.6,304.3 623.5,305.3 624.1,307.8 623.9,308.8 623.2,309.8 621.9,310.8 617.8,312.8 611.3,314.9 604.8,316.1 596.8,316.8 529.7,316.8 518.8,315.7 509.8,314.3 509.8,300.7 520.8,298.7 535.3,297.6 540.8,296.8 544.2,295.3 548.0,291.8 550.1,290.3 555.3,288.0 562.3,286.4 570.3,286.9 574.3,286.5 582.3,284.1 591.3,281.9 597.8,280.8 601.3,279.2 604.3,276.5 606.3,272.9 608.0,267.3 611.0,252.8 612.8,248.9 614.8,247.3ZM583.8,297.6 582.8,298.3 582.6,298.8 582.7,299.3 583.3,300.1 585.3,300.5 587.0,299.8 587.3,298.8 586.4,297.8 585.3,297.5 583.8,297.6Z" fill="#8ccdfa" fill-rule="evenodd"/>
<path d="M614.9,251.8 615.8,251.4 616.8,251.4 618.8,252.9 620.3,255.1 623.8,262.1 625.2,263.8 626.3,264.5 627.3,264.5 628.8,263.7 632.9,258.8 634.8,257.2 636.8,256.5 638.8,257.2 640.3,258.8 641.3,260.3 645.3,269.3 650.4,275.8 651.4,279.3 651.2,281.8 650.4,284.3 649.1,286.8 646.8,289.5 644.7,291.3 641.8,293.1 626.7,300.3 623.8,302.1 622.6,303.3 622.0,304.3 621.9,307.8 621.6,308.8 620.3,310.2 618.7,311.3 612.8,313.7 605.3,315.4 597.3,316.3 583.4,316.8 537.9,316.8 521.8,315.5 509.8,313.5 509.8,302.0 519.8,299.9 537.3,298.3 542.3,297.4 545.7,295.8 549.6,292.3 551.8,290.8 554.3,289.6 557.8,288.5 563.3,287.8 572.8,288.3 576.8,288.0 584.3,286.0 594.8,284.3 597.8,283.2 600.8,281.7 605.3,278.3 607.7,274.8 609.1,270.3 612.0,256.8 613.3,253.6 614.9,251.8ZM583.3,296.7 582.3,297.3 581.7,298.3 581.7,299.3 582.6,300.3 583.8,300.9 585.3,301.0 586.8,300.7 588.0,299.8 588.1,298.3 587.3,297.2 585.3,296.4 583.3,296.7Z" fill="#a5d7fb" fill-rule="evenodd"/>
<path d="M615.8,255.8 616.9,255.8 618.3,256.9 619.8,259.3 623.3,266.6 624.3,267.9 625.8,268.8 627.3,268.8 628.9,267.8 633.2,261.8 634.8,260.1 636.8,259.4 638.3,259.9 640.3,262.2 643.9,269.8 649.1,276.3 649.8,278.3 650.1,280.3 649.7,282.8 648.9,284.8 647.3,287.3 645.4,289.3 642.8,291.3 639.8,293.1 626.1,299.8 622.6,301.8 621.5,302.8 620.5,304.3 620.1,307.3 619.6,308.8 618.2,310.3 616.3,311.5 609.8,313.9 600.8,315.5 591.8,316.1 567.3,316.8 549.2,316.8 533.8,316.1 519.8,314.7 509.8,312.7 509.8,303.0 514.8,301.7 520.3,300.6 538.3,298.9 542.8,298.1 546.3,296.6 550.6,292.8 552.8,291.3 555.8,290.0 558.8,289.2 564.8,288.7 576.8,290.0 580.3,290.0 592.8,286.8 598.8,284.3 605.6,279.8 607.8,277.8 609.2,275.8 610.6,272.3 613.3,259.4 614.3,257.2 615.8,255.8ZM583.3,295.1 581.8,296.0 581.0,297.3 580.8,298.8 581.3,299.8 582.8,300.9 584.8,301.4 586.8,301.1 588.3,300.3 589.0,298.8 588.9,297.8 588.3,296.8 585.8,295.1 583.3,295.1Z" fill="#bee2fc" fill-rule="evenodd"/>
<path d="M615.9,262.3 616.8,262.0 617.8,262.7 621.0,268.8 622.1,270.3 623.7,271.3 625.3,271.6 627.5,271.3 629.7,270.3 631.3,268.8 634.8,263.7 636.3,262.7 637.8,263.0 639.3,264.6 642.5,270.3 647.6,276.3 648.5,278.3 648.8,280.8 648.5,282.8 647.4,285.3 646.0,287.3 644.0,289.3 638.3,293.1 624.7,299.8 621.2,301.8 619.3,303.8 618.3,307.8 617.5,309.3 615.8,310.8 614.0,311.8 607.3,314.0 598.8,315.3 589.3,315.8 558.3,316.5 542.8,316.2 529.8,315.3 518.3,313.9 509.8,311.9 509.8,304.0 514.3,302.6 520.3,301.4 539.3,299.4 543.8,298.5 547.3,296.9 551.4,293.3 553.8,291.7 556.8,290.5 560.8,289.6 564.3,289.4 568.3,289.7 572.8,290.5 576.7,291.8 578.5,292.8 579.8,294.3 579.9,298.3 581.1,300.3 582.8,301.3 584.3,301.6 586.3,301.6 587.8,301.1 589.0,300.3 589.8,298.8 589.7,297.3 588.5,293.8 589.1,291.8 591.2,289.8 603.8,282.3 607.2,279.8 610.0,277.3 611.5,275.3 612.5,273.3 614.4,265.3 615.2,263.3 615.9,262.3Z" fill="#d7ecfd" fill-rule="evenodd"/>
<path d="M636.0,267.3 637.3,267.3 638.3,267.9 644.8,274.5 646.6,276.8 647.5,278.8 647.7,280.8 647.4,282.8 646.6,284.8 643.8,288.3 639.8,291.4 635.3,294.0 623.3,299.8 619.8,301.8 617.9,303.8 616.8,307.8 616.0,309.3 613.8,311.1 610.3,312.6 603.8,314.2 595.8,315.1 567.3,316.1 552.3,316.1 538.3,315.6 526.3,314.5 516.3,312.9 509.8,311.0 509.8,305.1 511.3,304.5 515.8,303.0 521.3,301.9 540.1,299.8 544.8,298.8 548.1,297.3 552.0,293.8 554.3,292.3 557.3,291.0 561.3,290.2 564.3,290.0 567.8,290.4 573.8,291.9 575.8,292.9 577.4,294.3 578.3,295.8 579.5,299.3 581.0,300.8 582.3,301.5 584.3,301.9 586.3,301.9 587.8,301.5 589.3,300.6 590.4,299.3 591.0,293.8 591.7,292.3 592.9,290.8 595.4,288.8 608.6,279.8 616.3,272.8 617.8,272.2 623.3,273.1 627.8,272.7 631.3,271.2 636.0,267.3Z" fill="#e3f1fe" fill-rule="evenodd"/>
<path d="M635.0,270.8 636.8,270.4 638.8,271.0 642.8,273.9 645.3,276.7 646.4,278.8 646.7,280.8 646.4,282.8 645.3,285.3 642.3,288.7 638.0,291.8 618.5,301.8 616.5,303.8 615.4,307.8 614.6,309.3 611.9,311.3 608.3,312.8 601.8,314.1 593.3,314.9 564.3,315.8 547.8,315.7 534.3,314.9 522.8,313.6 514.3,311.8 511.6,310.8 509.8,309.8 509.8,306.6 511.3,305.6 513.8,304.5 517.8,303.3 523.3,302.2 540.0,300.3 545.2,299.3 548.6,297.8 552.8,294.1 555.3,292.5 558.3,291.3 561.8,290.7 567.3,290.9 572.5,292.3 574.3,293.3 576.1,294.8 578.8,299.3 580.8,301.1 582.3,301.8 584.3,302.2 587.8,301.8 589.8,300.8 590.8,299.8 591.5,298.3 592.8,293.8 594.0,291.8 595.4,290.3 598.5,287.8 614.3,276.6 616.3,275.4 618.3,274.7 625.3,274.1 628.8,273.5 635.0,270.8Z" fill="#eef7fe" fill-rule="evenodd"/>
<path d="M635.3,272.3 637.3,272.2 639.8,273.1 642.3,274.8 644.6,277.3 645.5,279.3 645.7,281.3 645.1,283.8 644.0,285.8 641.2,288.8 636.8,291.9 617.1,301.8 615.2,303.8 614.2,307.8 613.3,309.3 610.6,311.3 606.8,312.7 600.3,314.0 591.8,314.6 562.8,315.5 545.3,315.3 532.3,314.4 521.3,312.9 513.8,310.8 511.9,309.8 511.1,308.8 511.0,307.8 512.3,306.3 514.8,305.0 518.5,303.8 526.8,302.2 542.3,300.4 546.8,299.3 549.7,297.8 553.3,294.5 555.3,293.2 558.3,291.9 561.8,291.2 566.8,291.4 571.3,292.6 574.7,294.8 578.0,299.3 580.4,301.3 583.8,302.4 585.8,302.5 587.8,302.1 589.7,301.3 591.5,299.8 592.4,298.3 594.5,293.3 597.3,289.8 602.4,285.8 613.8,278.0 618.3,275.9 627.8,274.5 635.3,272.3Z" fill="#fafcff" fill-rule="evenodd"/>
<path d="M633.5,273.8 636.3,273.4 638.8,273.8 641.3,275.2 643.3,277.2 644.4,279.3 644.7,281.3 644.3,283.3 643.0,285.8 640.2,288.8 635.3,292.2 628.8,295.6 618.4,300.3 615.8,301.8 614.0,303.8 613.0,307.8 612.1,309.3 609.8,311.0 606.3,312.4 600.3,313.6 592.3,314.2 563.3,315.2 546.8,315.0 533.8,314.2 523.5,312.8 515.8,310.8 513.9,309.8 513.0,308.8 513.3,307.3 514.4,306.3 516.3,305.3 519.8,304.1 527.8,302.6 542.7,300.8 546.9,299.8 550.1,298.3 555.8,293.6 558.8,292.3 561.8,291.8 566.8,292.0 571.3,293.4 573.9,295.3 577.7,299.8 580.8,301.8 584.3,302.7 588.2,302.3 590.5,301.3 592.8,299.3 596.1,292.8 599.1,289.3 604.2,285.3 612.3,279.7 615.8,277.8 618.8,276.7 627.5,275.3 633.5,273.8Z" fill="#fbf8fa" fill-rule="evenodd"/>
<path d="M632.8,274.8 635.8,274.4 637.8,274.6 640.3,275.6 642.2,277.3 643.4,279.3 643.8,281.3 643.4,283.3 642.1,285.8 639.3,288.8 634.1,292.3 627.8,295.6 617.0,300.3 614.5,301.8 612.7,303.8 611.9,307.8 611.0,309.3 609.0,310.8 605.3,312.2 599.8,313.3 591.8,313.9 563.3,314.9 547.3,314.7 534.8,313.9 524.8,312.6 517.9,310.8 515.9,309.8 514.9,308.8 515.2,307.3 516.4,306.3 521.6,304.3 528.8,302.9 542.8,301.2 547.8,300.0 551.1,298.3 554.4,295.3 556.6,293.8 559.3,292.7 562.3,292.2 566.8,292.5 570.6,293.8 572.7,295.3 576.9,299.8 580.8,302.2 584.3,302.9 588.3,302.6 591.3,301.3 593.7,299.3 595.2,297.3 597.6,292.3 600.2,289.3 605.1,285.3 611.8,280.7 615.8,278.5 618.8,277.4 632.8,274.8Z" fill="#fdf4f5" fill-rule="evenodd"/>
<path d="M634.3,275.3 636.8,275.3 638.8,275.9 640.8,277.2 642.1,278.8 642.7,280.3 642.8,282.3 642.2,284.3 640.9,286.3 637.7,289.3 632.2,292.8 625.8,296.0 615.6,300.3 613.3,301.7 612.1,302.8 611.5,303.8 610.9,307.3 609.9,309.3 607.8,310.8 604.8,312.0 599.3,313.0 591.8,313.6 563.3,314.6 548.3,314.5 536.3,313.7 526.3,312.4 519.9,310.8 517.8,309.8 516.8,308.8 516.8,307.8 517.6,306.8 519.3,305.8 522.8,304.6 529.8,303.2 543.8,301.4 548.3,300.3 551.4,298.8 556.8,294.3 559.3,293.3 562.3,292.7 566.3,292.9 569.8,294.1 571.8,295.5 576.0,299.8 580.3,302.3 584.3,303.2 588.8,302.7 592.2,301.3 594.9,299.3 596.4,297.3 598.7,292.3 600.7,289.8 605.4,285.8 612.3,281.0 615.8,279.2 619.3,277.9 634.3,275.3Z" fill="#fef0f0" fill-rule="evenodd"/>
<path d="M632.3,276.3 635.3,276.0 637.3,276.3 639.3,277.2 640.8,278.5 641.7,280.3 641.9,282.3 641.3,284.3 640.0,286.3 636.8,289.3 631.2,292.8 625.8,295.5 615.2,299.8 612.4,301.3 610.5,303.3 609.9,307.3 609.2,308.8 607.3,310.4 603.8,311.8 598.8,312.8 591.8,313.3 563.8,314.3 548.8,314.2 537.3,313.5 528.1,312.3 521.9,310.8 519.7,309.8 518.6,308.8 518.6,307.8 519.5,306.8 521.4,305.8 524.4,304.8 530.8,303.5 543.8,301.8 548.8,300.6 552.4,298.8 557.3,294.7 559.8,293.7 562.3,293.2 565.8,293.4 569.3,294.6 571.1,295.8 575.1,299.8 577.4,301.3 580.3,302.6 584.8,303.5 589.3,302.9 593.2,301.3 596.2,299.3 597.4,297.8 599.5,292.8 601.3,290.3 605.6,286.3 611.8,281.9 615.8,279.8 619.3,278.5 632.3,276.3Z" fill="#fde4e4" fill-rule="evenodd"/>
<path d="M630.0,277.3 635.8,276.9 637.8,277.4 639.3,278.3 640.5,279.8 641.0,281.8 640.6,283.8 639.3,286.0 635.8,289.3 630.2,292.8 624.8,295.4 613.6,299.8 610.7,301.3 609.7,302.3 609.2,303.3 608.9,307.3 608.2,308.8 606.4,310.3 603.3,311.5 598.8,312.4 591.8,313.0 563.8,314.0 549.8,313.9 538.8,313.3 529.8,312.2 523.8,310.8 521.5,309.8 520.4,308.8 520.4,307.8 521.4,306.8 525.8,305.0 531.8,303.8 544.8,302.0 549.5,300.8 552.8,299.1 557.8,295.1 559.8,294.2 562.3,293.7 565.3,293.8 568.4,294.8 570.3,296.1 574.8,300.3 579.9,302.8 584.8,303.7 587.3,303.6 590.3,302.9 595.5,300.8 597.8,299.3 598.9,297.8 600.6,292.8 602.2,290.3 605.9,286.8 611.3,282.8 615.3,280.6 618.8,279.2 630.0,277.3Z" fill="#fdd9d9" fill-rule="evenodd"/>
<path d="M630.8,277.8 635.8,277.7 637.5,278.3 638.9,279.3 639.8,280.8 640.0,282.3 639.4,284.3 638.1,286.3 634.1,289.8 628.2,293.3 622.7,295.8 612.3,299.6 609.3,301.0 608.4,301.8 607.9,302.8 607.9,306.8 607.3,308.6 605.3,310.3 602.6,311.3 598.3,312.1 591.8,312.7 564.3,313.7 550.8,313.7 539.8,313.1 530.8,311.9 524.4,310.3 522.2,308.8 522.2,307.8 523.3,306.8 527.0,305.3 532.8,304.1 545.2,302.3 549.8,301.1 553.5,299.3 558.3,295.5 560.3,294.6 562.3,294.3 565.3,294.4 568.0,295.3 569.5,296.3 573.8,300.3 576.5,301.8 579.8,303.1 582.3,303.7 585.3,304.0 590.8,303.1 596.2,301.3 599.3,299.6 600.3,298.3 601.3,293.8 602.8,290.8 606.2,287.3 611.8,283.1 615.8,280.9 619.3,279.6 630.8,277.8Z" fill="#fccdcd" fill-rule="evenodd"/>
<path d="M627.6,278.8 633.8,278.3 635.8,278.6 637.3,279.3 638.6,280.8 638.9,282.3 638.4,284.3 637.2,286.3 633.1,289.8 626.1,293.8 620.3,296.2 609.0,299.8 606.9,300.8 606.4,301.3 606.1,302.3 606.9,306.3 606.4,308.3 604.9,309.8 601.8,311.1 597.8,311.9 591.8,312.3 564.3,313.5 551.8,313.5 540.8,312.9 532.3,311.8 526.3,310.3 524.0,308.8 524.0,307.8 525.1,306.8 528.8,305.4 534.1,304.3 545.8,302.6 550.6,301.3 553.8,299.8 558.8,295.9 562.3,294.8 564.8,294.9 567.3,295.7 568.8,296.7 572.2,299.8 574.3,301.2 577.9,302.8 581.8,303.9 584.8,304.2 587.8,304.1 597.1,301.8 600.1,300.8 601.7,299.8 602.2,298.8 602.4,294.3 603.3,291.8 605.5,288.8 609.5,285.3 613.8,282.5 617.8,280.7 621.8,279.6 627.6,278.8Z" fill="#fbbcbc" fill-rule="evenodd"/>
<path d="M628.6,279.3 632.3,279.1 634.6,279.3 636.3,280.0 637.5,281.3 637.7,282.8 637.1,284.8 635.7,286.8 633.4,288.8 626.8,292.8 618.3,296.3 612.8,297.8 608.3,298.6 606.3,298.6 604.8,297.8 603.8,295.3 604.2,292.3 606.1,289.3 609.8,285.8 614.3,282.8 618.3,281.0 622.3,280.1 628.6,279.3ZM560.6,295.8 563.3,295.4 565.8,295.8 567.7,296.8 571.2,299.8 573.8,301.5 578.2,303.3 582.3,304.3 587.8,304.4 598.3,302.4 602.3,302.2 603.8,302.9 605.0,304.3 605.7,306.3 605.6,307.8 604.8,309.0 603.3,310.0 601.3,310.8 597.8,311.5 592.3,312.0 566.8,313.1 555.8,313.3 545.3,312.9 536.3,312.0 529.8,310.8 527.0,309.8 525.8,308.8 525.8,307.8 527.0,306.8 532.3,305.1 545.8,302.9 550.4,301.8 553.9,300.3 558.8,296.7 560.6,295.8Z" fill="#faacac" fill-rule="evenodd"/>
<path d="M624.7,280.3 632.3,279.9 634.3,280.3 635.8,281.3 636.4,282.8 636.2,284.3 634.9,286.3 632.9,288.3 629.3,290.8 625.6,292.8 617.3,295.9 612.8,297.0 609.3,297.3 607.3,296.9 605.8,295.8 605.2,293.8 605.8,291.3 607.5,288.8 610.1,286.3 613.7,283.8 616.8,282.2 620.3,281.0 624.7,280.3ZM561.4,296.3 563.8,296.1 565.8,296.6 570.8,300.3 573.4,301.8 577.3,303.4 581.3,304.4 586.8,304.8 597.3,303.3 601.3,303.4 602.8,304.0 604.1,305.3 604.6,306.8 604.5,307.8 603.9,308.8 602.3,309.9 599.8,310.7 596.8,311.3 566.3,312.9 556.3,313.0 546.8,312.7 537.8,311.9 531.9,310.8 528.9,309.8 527.5,308.8 527.6,307.8 528.9,306.8 533.7,305.3 546.3,303.2 550.8,302.1 554.8,300.4 559.3,297.2 561.4,296.3Z" fill="#f99b9b" fill-rule="evenodd"/>
<path d="M626.9,280.8 632.3,281.0 634.2,281.8 634.8,282.8 634.8,284.3 634.0,285.8 632.7,287.3 630.2,289.3 624.0,292.8 620.3,294.3 616.3,295.4 612.8,296.0 610.3,296.0 608.3,295.4 607.3,294.5 606.9,292.8 607.6,290.3 609.6,287.8 612.5,285.3 615.8,283.3 618.8,282.1 622.3,281.2 626.9,280.8ZM561.0,297.3 563.3,296.9 565.3,297.3 570.5,300.8 573.3,302.3 577.3,303.8 581.3,304.8 586.3,305.1 596.3,304.0 600.3,304.2 601.8,304.8 602.8,305.6 603.4,306.8 603.3,307.8 602.7,308.8 601.1,309.8 596.3,310.9 566.3,312.6 557.3,312.8 548.3,312.5 540.1,311.8 534.0,310.8 530.8,309.8 529.4,308.8 529.5,307.8 530.9,306.8 535.8,305.3 546.8,303.5 551.3,302.3 555.1,300.8 561.0,297.3Z" fill="#f88787" fill-rule="evenodd"/>
<path d="M623.5,281.8 629.8,281.8 631.8,282.3 632.5,282.8 633.0,283.8 632.7,285.3 631.6,286.8 629.9,288.3 624.3,291.8 617.8,294.2 614.8,294.8 612.3,294.8 610.3,294.4 609.3,293.7 608.7,292.3 609.0,290.3 610.3,288.3 612.4,286.3 614.5,284.8 617.3,283.3 620.3,282.3 623.5,281.8ZM560.8,298.3 562.8,297.8 564.8,298.1 572.8,302.6 576.8,304.1 580.8,305.0 585.8,305.5 595.3,304.7 599.3,304.9 600.8,305.5 601.7,306.3 602.0,307.8 601.3,308.8 599.8,309.6 595.3,310.6 565.8,312.3 549.3,312.3 541.8,311.6 535.8,310.7 532.7,309.8 531.2,308.8 531.3,307.8 532.8,306.8 536.3,305.7 551.3,302.8 555.2,301.3 560.8,298.3Z" fill="#f77373" fill-rule="evenodd"/>
<path d="M622.2,282.8 627.3,282.8 629.3,283.3 630.0,283.8 630.4,284.3 630.4,285.3 628.5,287.8 624.0,290.8 618.8,292.8 614.3,293.4 612.3,293.0 611.3,292.3 610.8,291.3 611.0,289.8 611.8,288.3 613.2,286.8 617.3,284.2 622.2,282.8ZM560.6,299.3 562.8,298.8 564.8,299.1 572.8,303.1 579.3,305.1 585.3,305.9 594.3,305.4 597.3,305.5 599.8,306.3 600.3,306.8 600.5,307.8 599.7,308.8 598.7,309.3 594.0,310.3 565.3,312.1 550.3,312.0 542.8,311.4 537.8,310.6 533.7,309.3 533.0,308.3 533.9,307.3 538.4,305.8 551.8,303.0 555.2,301.8 560.6,299.3Z" fill="#f65f5f" fill-rule="evenodd"/>
<path d="M620.1,284.3 623.3,284.0 625.8,284.5 626.6,285.3 626.6,285.8 625.8,287.3 623.1,289.3 619.5,290.8 616.3,291.2 614.3,290.7 613.8,290.2 613.6,289.3 614.7,287.3 617.3,285.3 620.1,284.3ZM562.1,299.8 563.8,299.8 565.3,300.2 572.8,303.6 579.3,305.6 585.3,306.4 595.8,306.2 597.8,306.8 598.5,307.8 597.3,308.9 593.5,309.8 564.8,311.8 550.3,311.7 543.8,311.2 538.6,310.3 536.8,309.8 535.1,308.8 534.9,308.3 535.2,307.8 536.3,307.1 539.8,306.0 551.8,303.4 562.1,299.8Z" fill="#f54b4b" fill-rule="evenodd"/>
<path d="M561.1,300.8 562.8,300.6 564.8,300.9 573.8,304.5 580.8,306.5 585.3,307.0 593.3,307.1 594.5,307.3 595.3,307.8 595.0,308.3 594.0,308.8 591.2,309.3 564.3,311.5 551.8,311.5 541.1,310.3 538.8,309.7 537.1,308.8 537.0,308.3 538.0,307.3 540.9,306.3 552.3,303.7 561.1,300.8Z" fill="#f33737" fill-rule="evenodd"/>
<path d="M559.9,301.8 562.8,301.4 565.3,301.8 574.8,305.4 584.0,308.3 583.2,308.8 580.9,309.3 574.4,310.3 562.8,311.3 550.8,311.1 541.5,309.8 539.3,308.8 539.1,308.3 540.3,307.3 543.3,306.3 552.8,304.0 559.9,301.8Z" fill="#f22323" fill-rule="evenodd"/>
<path d="M560.6,302.3 563.3,302.1 565.8,302.6 576.6,306.8 578.4,307.8 578.7,308.3 578.1,308.8 576.6,309.3 566.3,310.8 555.8,311.0 545.3,310.0 542.5,309.3 541.6,308.8 541.4,308.3 541.8,307.8 543.9,306.8 560.6,302.3Z" fill="#f11919" fill-rule="evenodd"/>
<path d="M562.1,302.8 564.3,302.9 566.8,303.6 574.3,306.8 575.6,307.8 575.5,308.3 573.5,309.3 565.8,310.5 556.3,310.7 547.1,309.8 545.1,309.3 544.1,308.8 543.8,308.3 545.0,307.3 547.9,306.3 558.8,303.3 562.1,302.8Z" fill="#ef0f0f" fill-rule="evenodd"/>
</g>
<path d="M621.5,242.3 625.8,248.5 626.8,249.5 627.8,249.9 628.8,250.0 629.8,249.8 633.8,247.6 636.3,246.9 637.8,247.0 638.8,247.3 640.8,248.6 642.3,250.2 643.8,252.3 649.8,262.5 655.6,269.8 657.3,272.8 658.2,275.8 658.4,278.8 657.9,282.3 656.6,287.3 654.8,292.0 652.8,295.9 650.3,299.3 647.8,301.5 645.8,302.6 644.3,302.9 642.8,302.8 638.3,301.7 635.8,301.4 632.8,301.6 629.8,302.4 628.3,303.3 627.8,303.8 627.6,304.8 628.1,305.8 628.8,306.5 632.6,308.8 632.8,309.3 632.1,310.3 629.4,311.8 624.2,313.8 618.3,315.5 612.1,316.8 593.8,317.0 541.8,317.1 514.3,316.8 509.8,316.5M509.8,284.1 513.3,282.1 518.3,280.2 524.3,278.5 530.3,277.2 535.8,276.5 540.8,276.2 545.8,276.3 552.8,277.0 554.8,276.7 556.3,275.3 557.3,272.9 559.1,261.8 560.1,257.8 561.3,255.5 561.8,255.0 562.8,254.6 563.8,255.0 564.3,255.6 565.8,258.8 566.7,263.3 568.0,275.8 568.8,277.9 569.3,278.6 570.3,279.2 571.3,279.3 572.3,279.1 573.8,278.2 574.7,276.8 576.3,271.8 577.5,270.3 578.8,269.6 579.8,269.5 581.3,269.9 584.8,273.1 585.8,273.3 586.8,272.8 590.1,269.8 592.3,268.8 594.8,268.8 598.8,269.8 600.3,269.5 601.3,268.8 602.3,267.7 603.8,264.7 604.9,261.3 607.9,248.8 609.3,245.1 610.9,242.3M583.3,297.2 582.5,297.8 582.1,298.8 582.4,299.8 583.0,300.3 584.3,300.8 585.6,300.8 586.8,300.4 587.6,299.8 587.8,298.7 587.3,297.8 586.8,297.5 585.3,296.9 583.3,297.2M509.8,301.4 515.3,300.1 519.8,299.4 536.8,297.9 540.8,297.3 542.8,296.7 544.7,295.8 549.3,291.8 551.3,290.4 553.8,289.2 556.3,288.4 559.8,287.6 562.8,287.3 571.3,287.6 575.3,287.3 583.3,285.1 595.8,282.9 599.8,281.3 602.3,279.8 603.8,278.6 605.3,276.9 606.3,275.3 607.3,273.1 608.3,269.8 610.6,258.3 611.8,254.3 612.8,252.2 613.8,250.8 614.8,249.9 615.8,249.5 617.4,249.8 619.3,251.4 620.8,253.8 624.2,260.3 625.3,261.6 626.3,262.3 627.3,262.4 628.8,261.7 633.3,256.9 635.3,255.5 637.3,255.2 639.3,256.2 640.7,257.8 642.0,259.8 645.9,268.8 651.0,275.3 651.8,277.3 652.2,279.8 651.7,282.8 650.5,285.8 648.4,288.8 646.3,290.9 642.3,293.5 628.6,299.8 624.9,301.8 623.7,302.8 622.8,304.3 622.9,308.3 621.9,309.8 620.3,311.0 617.9,312.3 614.8,313.5 610.8,314.6 602.3,316.1 591.3,316.8 539.8,316.9 533.9,316.8 524.8,316.1 516.8,315.1 509.8,313.9M509.8,304.6 514.8,302.9 520.8,301.7 527.8,300.7 539.3,299.6 543.9,298.8 547.4,297.3 552.0,293.3 554.8,291.6 558.3,290.4 562.8,289.7 566.3,289.8 569.8,290.3 573.3,291.2 575.8,292.2 577.6,293.3 578.5,294.3 579.1,295.8 579.6,298.8 580.7,300.3 582.3,301.3 583.8,301.7 585.8,301.8 587.3,301.5 588.8,300.7 590.0,299.3 590.3,297.8 589.8,295.3 589.9,293.8 590.5,292.3 591.2,291.3 593.6,289.3 605.3,281.8 610.3,277.8 613.3,274.3 614.1,272.8 615.8,268.2 616.3,267.5 616.8,267.2 617.8,267.6 619.7,270.3 621.3,271.6 623.3,272.3 626.3,272.3 628.5,271.8 630.5,270.8 632.2,269.3 635.3,265.4 636.3,264.8 637.3,264.9 638.8,266.2 641.6,270.3 646.6,275.8 647.8,277.8 648.3,280.3 647.9,282.8 646.8,285.3 644.9,287.8 642.8,289.7 640.3,291.5 636.8,293.5 624.0,299.8 620.5,301.8 618.6,303.8 618.1,304.8 617.5,307.8 617.1,308.8 616.3,309.8 614.8,310.9 612.3,312.2 606.8,313.9 600.3,314.9 591.8,315.5 565.3,316.3 549.3,316.2 536.3,315.7 525.3,314.6 516.3,313.2 509.8,311.5M633.6,273.3 636.3,272.8 638.8,273.2 641.3,274.6 643.6,276.8 644.8,278.8 645.2,281.3 644.6,283.8 643.5,285.8 640.7,288.8 635.8,292.2 629.3,295.6 619.0,300.3 616.5,301.8 615.3,302.8 614.6,303.8 613.6,307.8 612.7,309.3 610.3,311.1 606.8,312.5 600.8,313.7 592.3,314.4 562.8,315.3 546.3,315.1 532.8,314.2 522.3,312.8 517.8,311.8 514.8,310.8 512.9,309.8 512.0,308.8 511.9,308.3 512.3,307.3 513.3,306.3 515.8,305.1 519.3,303.9 527.3,302.4 542.3,300.6 546.8,299.6 549.8,298.1 553.8,294.6 555.8,293.2 558.8,292.0 561.8,291.5 566.3,291.6 570.8,292.8 572.7,293.8 574.0,294.8 577.6,299.3 580.1,301.3 581.8,302.1 583.8,302.5 585.8,302.6 587.8,302.3 590.1,301.3 591.9,299.8 592.9,298.3 595.5,292.8 598.0,289.8 603.0,285.8 612.8,279.0 615.8,277.4 618.3,276.4 627.8,274.9 633.6,273.3M633.3,275.8 635.8,275.6 638.3,276.2 640.3,277.3 641.6,278.8 642.2,280.3 642.3,282.3 641.7,284.3 640.4,286.3 637.2,289.3 631.7,292.8 626.3,295.5 616.0,299.8 613.1,301.3 611.9,302.3 611.1,303.3 610.8,304.3 610.3,307.8 609.4,309.3 607.2,310.8 604.3,311.9 599.3,312.9 591.8,313.4 563.3,314.4 548.8,314.3 536.8,313.6 526.9,312.3 520.9,310.8 518.7,309.8 517.7,308.8 517.7,307.8 518.6,306.8 520.4,305.8 523.3,304.8 530.3,303.4 543.8,301.6 548.8,300.4 551.9,298.8 555.3,295.7 557.3,294.4 559.8,293.4 562.3,293.0 566.3,293.2 569.5,294.3 571.6,295.8 575.5,299.8 577.8,301.3 580.3,302.5 582.3,303.0 584.8,303.3 586.8,303.2 589.0,302.8 592.7,301.3 595.5,299.3 597.1,297.3 599.3,292.3 601.2,289.8 605.8,285.8 611.8,281.6 615.8,279.5 619.3,278.2 633.3,275.8M629.3,278.3 634.8,278.0 636.8,278.5 638.3,279.5 639.2,280.8 639.4,282.8 638.9,284.3 637.7,286.3 636.2,287.8 633.6,289.8 627.7,293.3 622.1,295.8 611.3,299.5 608.4,300.8 607.4,301.8 607.0,302.8 607.4,306.3 607.0,308.3 605.5,309.8 602.3,311.2 598.3,312.0 591.8,312.5 564.3,313.6 551.3,313.6 540.3,313.0 531.8,311.9 528.7,311.3 525.3,310.3 524.2,309.8 523.1,308.8 523.1,307.8 524.2,306.8 528.1,305.3 533.3,304.2 545.3,302.5 550.3,301.2 554.0,299.3 558.3,295.8 560.3,294.9 562.3,294.5 564.8,294.6 567.3,295.3 568.9,296.3 572.0,299.3 573.8,300.6 576.8,302.2 579.9,303.3 582.8,303.9 585.8,304.1 588.8,303.8 591.8,303.0 597.3,301.3 600.2,299.8 601.2,298.3 602.0,293.3 603.4,290.8 606.6,287.3 611.3,283.7 615.3,281.4 618.8,280.1 622.8,279.2 629.3,278.3M623.2,280.8 631.3,280.3 633.3,280.6 634.8,281.3 635.3,281.8 635.7,282.8 635.5,284.3 634.7,285.8 632.8,287.8 629.4,290.3 625.9,292.3 622.6,293.8 618.3,295.3 614.3,296.3 610.8,296.7 608.3,296.4 606.8,295.4 606.1,293.8 606.3,291.8 607.7,289.3 610.1,286.8 613.3,284.4 616.3,282.7 619.3,281.6 623.2,280.8M561.1,296.8 563.3,296.5 565.3,296.8 566.8,297.6 570.3,300.3 572.8,301.8 576.8,303.4 581.3,304.6 586.3,304.9 596.8,303.6 599.3,303.6 600.8,303.8 602.3,304.4 603.3,305.3 603.9,306.3 603.9,307.8 603.3,308.8 601.8,309.8 599.8,310.5 596.8,311.1 591.8,311.5 566.3,312.7 556.8,312.9 547.8,312.6 538.8,311.8 532.9,310.8 529.8,309.8 528.4,308.8 528.3,308.3 528.5,307.8 529.9,306.8 534.8,305.3 546.3,303.4 550.8,302.3 554.5,300.8 559.3,297.7 561.1,296.8M622.4,283.3 625.8,283.4 627.5,283.8 628.3,284.3 628.7,284.8 628.6,285.8 628.0,286.8 626.5,288.3 622.3,290.8 617.8,292.3 615.8,292.5 614.3,292.4 613.3,292.0 612.4,291.3 612.1,290.3 612.5,288.8 613.6,287.3 614.7,286.3 618.2,284.3 622.4,283.3M562.5,299.3 563.8,299.3 565.3,299.7 572.6,303.3 578.8,305.2 584.8,306.1 596.3,305.8 598.8,306.5 599.6,307.3 599.6,307.8 598.7,308.8 597.6,309.3 593.8,310.0 564.3,312.0 556.8,312.1 549.1,311.8 542.8,311.2 537.4,310.3 535.8,309.8 534.1,308.8 534.0,308.3 534.2,307.8 536.0,306.8 539.5,305.8 551.3,303.4 555.3,302.0 560.3,299.8 562.5,299.3M561.7,301.8 564.3,301.9 567.3,302.8 580.3,307.8 580.8,308.3 580.2,308.8 575.9,309.8 569.3,310.7 563.8,311.1 557.8,311.2 550.8,310.9 545.3,310.3 541.2,309.3 540.4,308.8 540.3,308.3 540.8,307.7 542.7,306.8 561.7,301.8" fill="none" stroke="#333" stroke-width="0.5" opacity="0.8"/>
</g>
<rect x="510.8" y="243.3" width="167.4" height="87.7" fill="none" stroke="#000" stroke-width="1.6"/>
<text x="549.3" y="48.6" font-size="13.2" text-anchor="start" font-weight="bold" fill="#000" >Fe-N</text>
<text x="551.6" y="139" font-size="13.2" text-anchor="start" font-weight="bold" fill="#000" >Fe-N</text>
<text x="540.2" y="220.3" font-size="13.2" text-anchor="start" font-weight="bold" fill="#000" >Fe-N</text>
<text x="542.6" y="310.3" font-size="13.2" text-anchor="start" font-weight="bold" fill="#000" >Fe-O</text>
<text x="599.8" y="294" font-size="13.2" text-anchor="start" font-weight="bold" fill="#000" >Fe-Fe</text>
<text x="619.0" y="72.3" font-size="13" font-weight="bold" fill="#fff">FeN<tspan dy="3.4" font-size="9.5">5</tspan><tspan dy="-3.4">-SD</tspan><tspan dy="3.4" font-size="9.5">2</tspan></text>
<text x="645.4" y="154.0" font-size="13" font-weight="bold" fill="#fff">FeN<tspan dy="3.4" font-size="9.5">5</tspan></text>
<text x="643.4" y="233.3" font-size="13" font-weight="bold" fill="#fff">FePc</text>
<text x="639.2" y="324.4" font-size="13" font-weight="bold" fill="#fff">Fe<tspan dy="3.4" font-size="9.5">2</tspan><tspan dy="-3.4">O</tspan><tspan dy="3.4" font-size="9.5">3</tspan></text>
<line x1="508.9" y1="64.9" x2="510.7" y2="64.9" stroke="#000" stroke-width="1.2" />
<line x1="507.7" y1="48.8" x2="510.7" y2="48.8" stroke="#000" stroke-width="1.2" />
<line x1="508.9" y1="32.7" x2="510.7" y2="32.7" stroke="#000" stroke-width="1.2" />
<line x1="507.7" y1="16.6" x2="510.7" y2="16.6" stroke="#000" stroke-width="1.2" />
<text x="505.2" y="53.4" font-size="13" text-anchor="end" font-weight="bold" fill="#000" >2</text>
<text x="505.2" y="21.2" font-size="13" text-anchor="end" font-weight="bold" fill="#000" >4</text>
<text transform="translate(491.2,37.4) rotate(-90)" font-size="13.4" font-weight="bold" text-anchor="middle">R (Å)</text>
<line x1="507.8" y1="148.78" x2="509.6" y2="148.78" stroke="#000" stroke-width="1.2" />
<line x1="506.6" y1="135.36" x2="509.6" y2="135.36" stroke="#000" stroke-width="1.2" />
<line x1="507.8" y1="121.94" x2="509.6" y2="121.94" stroke="#000" stroke-width="1.2" />
<line x1="506.6" y1="108.52" x2="509.6" y2="108.52" stroke="#000" stroke-width="1.2" />
<line x1="507.8" y1="95.1" x2="509.6" y2="95.1" stroke="#000" stroke-width="1.2" />
<line x1="506.6" y1="81.68" x2="509.6" y2="81.68" stroke="#000" stroke-width="1.2" />
<text x="505.2" y="86.28" font-size="13" text-anchor="end" font-weight="bold" fill="#000" >6</text>
<text x="505.2" y="113.12" font-size="13" text-anchor="end" font-weight="bold" fill="#000" >4</text>
<text x="505.2" y="139.96" font-size="13" text-anchor="end" font-weight="bold" fill="#000" >2</text>
<text transform="translate(491.2,121.4) rotate(-90)" font-size="13.4" font-weight="bold" text-anchor="middle">R (Å)</text>
<line x1="508.7" y1="229.28" x2="510.5" y2="229.28" stroke="#000" stroke-width="1.2" />
<line x1="507.5" y1="215.86" x2="510.5" y2="215.86" stroke="#000" stroke-width="1.2" />
<line x1="508.7" y1="202.44" x2="510.5" y2="202.44" stroke="#000" stroke-width="1.2" />
<line x1="507.5" y1="189.02" x2="510.5" y2="189.02" stroke="#000" stroke-width="1.2" />
<line x1="508.7" y1="175.6" x2="510.5" y2="175.6" stroke="#000" stroke-width="1.2" />
<line x1="507.5" y1="162.18" x2="510.5" y2="162.18" stroke="#000" stroke-width="1.2" />
<text x="505.2" y="166.78" font-size="13" text-anchor="end" font-weight="bold" fill="#000" >6</text>
<text x="505.2" y="193.62" font-size="13" text-anchor="end" font-weight="bold" fill="#000" >4</text>
<text x="505.2" y="220.46" font-size="13" text-anchor="end" font-weight="bold" fill="#000" >2</text>
<text transform="translate(491.2,201.8) rotate(-90)" font-size="13.4" font-weight="bold" text-anchor="middle">R (Å)</text>
<line x1="507.8" y1="331.2" x2="510.8" y2="331.2" stroke="#000" stroke-width="1.2" />
<line x1="509" y1="316.5" x2="510.8" y2="316.5" stroke="#000" stroke-width="1.2" />
<line x1="507.8" y1="301.8" x2="510.8" y2="301.8" stroke="#000" stroke-width="1.2" />
<line x1="509" y1="287.1" x2="510.8" y2="287.1" stroke="#000" stroke-width="1.2" />
<line x1="507.8" y1="272.4" x2="510.8" y2="272.4" stroke="#000" stroke-width="1.2" />
<line x1="509" y1="257.7" x2="510.8" y2="257.7" stroke="#000" stroke-width="1.2" />
<line x1="507.8" y1="243" x2="510.8" y2="243" stroke="#000" stroke-width="1.2" />
<text x="505.2" y="247.6" font-size="13" text-anchor="end" font-weight="bold" fill="#000" >6</text>
<text x="505.2" y="277" font-size="13" text-anchor="end" font-weight="bold" fill="#000" >4</text>
<text x="505.2" y="306.4" font-size="13" text-anchor="end" font-weight="bold" fill="#000" >2</text>
<text x="505.2" y="335.8" font-size="13" text-anchor="end" font-weight="bold" fill="#000" >0</text>
<text transform="translate(491.2,288.5) rotate(-90)" font-size="13.4" font-weight="bold" text-anchor="middle">R (Å)</text>
<line x1="510.8" y1="331" x2="510.8" y2="334" stroke="#000" stroke-width="1.2" />
<text x="510.8" y="347.6" font-size="13" text-anchor="middle" font-weight="bold" fill="#000" >0</text>
<line x1="524.75" y1="331" x2="524.75" y2="332.8" stroke="#000" stroke-width="1.2" />
<line x1="538.7" y1="331" x2="538.7" y2="334" stroke="#000" stroke-width="1.2" />
<text x="538.7" y="347.6" font-size="13" text-anchor="middle" font-weight="bold" fill="#000" >2</text>
<line x1="552.65" y1="331" x2="552.65" y2="332.8" stroke="#000" stroke-width="1.2" />
<line x1="566.6" y1="331" x2="566.6" y2="334" stroke="#000" stroke-width="1.2" />
<text x="566.6" y="347.6" font-size="13" text-anchor="middle" font-weight="bold" fill="#000" >4</text>
<line x1="580.55" y1="331" x2="580.55" y2="332.8" stroke="#000" stroke-width="1.2" />
<line x1="594.5" y1="331" x2="594.5" y2="334" stroke="#000" stroke-width="1.2" />
<text x="594.5" y="347.6" font-size="13" text-anchor="middle" font-weight="bold" fill="#000" >6</text>
<line x1="608.45" y1="331" x2="608.45" y2="332.8" stroke="#000" stroke-width="1.2" />
<line x1="622.4" y1="331" x2="622.4" y2="334" stroke="#000" stroke-width="1.2" />
<text x="622.4" y="347.6" font-size="13" text-anchor="middle" font-weight="bold" fill="#000" >8</text>
<line x1="636.35" y1="331" x2="636.35" y2="332.8" stroke="#000" stroke-width="1.2" />
<line x1="650.3" y1="331" x2="650.3" y2="334" stroke="#000" stroke-width="1.2" />
<text x="650.3" y="347.6" font-size="13" text-anchor="middle" font-weight="bold" fill="#000" >10</text>
<line x1="664.25" y1="331" x2="664.25" y2="332.8" stroke="#000" stroke-width="1.2" />
<line x1="678.2" y1="331" x2="678.2" y2="334" stroke="#000" stroke-width="1.2" />
<text x="678.2" y="347.6" font-size="13" text-anchor="middle" font-weight="bold" fill="#000" >12</text>
<text x="600.5" y="357.5" font-size="12.5" font-weight="bold" text-anchor="middle">K (Å<tspan dy="-4.5" font-size="8.5">-1</tspan><tspan dy="4.5">)</tspan></text>
<text x="482.2" y="18" font-size="18.8" font-weight="bold">d</text>
</g>
</svg>
</body></html>
